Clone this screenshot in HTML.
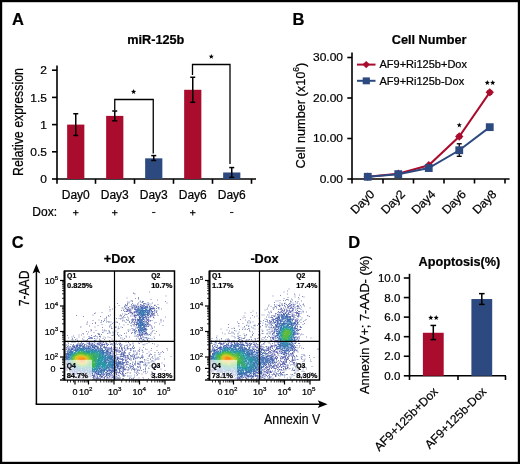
<!DOCTYPE html>
<html><head><meta charset="utf-8"><style>
html,body{margin:0;padding:0;background:#fff;}
svg{display:block;font-family:'Liberation Sans', sans-serif;filter:blur(0.3px);}
text{stroke:#000;stroke-width:0.22px;}
</style></head><body>
<svg width="520" height="464" viewBox="0 0 520 464">
<rect x="0" y="0" width="520" height="464" fill="#fff"/>
<text x="12.0" y="24.9" font-size="16.5" font-weight="bold" text-anchor="start" >A</text>
<text x="155.8" y="43.8" font-size="12.7" font-weight="bold" text-anchor="middle" >miR-125b</text>
<line x1="57" y1="65.5" x2="57" y2="179.75" stroke="#000" stroke-width="1.6"/>
<line x1="52" y1="70.2" x2="57" y2="70.2" stroke="#000" stroke-width="1.6"/>
<text transform="translate(47,74.30) scale(1,0.92)" font-size="12" text-anchor="end">2</text>
<line x1="52" y1="97.4" x2="57" y2="97.4" stroke="#000" stroke-width="1.6"/>
<text transform="translate(47,101.50) scale(1,0.92)" font-size="12" text-anchor="end">1.5</text>
<line x1="52" y1="124.6" x2="57" y2="124.6" stroke="#000" stroke-width="1.6"/>
<text transform="translate(47,128.70) scale(1,0.92)" font-size="12" text-anchor="end">1</text>
<line x1="52" y1="151.8" x2="57" y2="151.8" stroke="#000" stroke-width="1.6"/>
<text transform="translate(47,155.90) scale(1,0.92)" font-size="12" text-anchor="end">0.5</text>
<line x1="52" y1="179.0" x2="57" y2="179.0" stroke="#000" stroke-width="1.6"/>
<text transform="translate(47,183.10) scale(1,0.92)" font-size="12" text-anchor="end">0</text>
<line x1="56.25" y1="179.0" x2="256" y2="179.0" stroke="#000" stroke-width="1.6"/>
<line x1="57" y1="179.0" x2="57" y2="183.8" stroke="#000" stroke-width="1.6"/>
<line x1="95.5" y1="179.0" x2="95.5" y2="183.8" stroke="#000" stroke-width="1.6"/>
<line x1="134.5" y1="179.0" x2="134.5" y2="183.8" stroke="#000" stroke-width="1.6"/>
<line x1="173.5" y1="179.0" x2="173.5" y2="183.8" stroke="#000" stroke-width="1.6"/>
<line x1="212.5" y1="179.0" x2="212.5" y2="183.8" stroke="#000" stroke-width="1.6"/>
<line x1="251.5" y1="179.0" x2="251.5" y2="183.8" stroke="#000" stroke-width="1.6"/>
<rect x="67.15" y="124.6" width="17.2" height="54.400000000000006" fill="#AA0C2D"/>
<line x1="75.75" y1="113.72" x2="75.75" y2="135.48" stroke="#000" stroke-width="1.5"/>
<line x1="73.25" y1="113.72" x2="78.25" y2="113.72" stroke="#000" stroke-width="1.5"/>
<line x1="73.25" y1="135.48" x2="78.25" y2="135.48" stroke="#000" stroke-width="1.5"/>
<rect x="106.15" y="115.89600000000002" width="17.2" height="63.103999999999985" fill="#AA0C2D"/>
<line x1="114.75" y1="111.0" x2="114.75" y2="120.792" stroke="#000" stroke-width="1.5"/>
<line x1="112.25" y1="111.0" x2="117.25" y2="111.0" stroke="#000" stroke-width="1.5"/>
<line x1="112.25" y1="120.792" x2="117.25" y2="120.792" stroke="#000" stroke-width="1.5"/>
<rect x="145.15" y="158.328" width="17.2" height="20.671999999999997" fill="#2D4A80"/>
<line x1="153.75" y1="155.608" x2="153.75" y2="160.504" stroke="#000" stroke-width="1.5"/>
<line x1="151.25" y1="155.608" x2="156.25" y2="155.608" stroke="#000" stroke-width="1.5"/>
<line x1="151.25" y1="160.504" x2="156.25" y2="160.504" stroke="#000" stroke-width="1.5"/>
<rect x="184.15" y="89.784" width="17.2" height="89.216" fill="#AA0C2D"/>
<line x1="192.75" y1="77.27199999999999" x2="192.75" y2="102.296" stroke="#000" stroke-width="1.5"/>
<line x1="190.25" y1="77.27199999999999" x2="195.25" y2="77.27199999999999" stroke="#000" stroke-width="1.5"/>
<line x1="190.25" y1="102.296" x2="195.25" y2="102.296" stroke="#000" stroke-width="1.5"/>
<rect x="223.15" y="172.472" width="17.2" height="6.527999999999992" fill="#2D4A80"/>
<line x1="231.75" y1="167.576" x2="231.75" y2="177.368" stroke="#000" stroke-width="1.5"/>
<line x1="229.25" y1="167.576" x2="234.25" y2="167.576" stroke="#000" stroke-width="1.5"/>
<line x1="229.25" y1="177.368" x2="234.25" y2="177.368" stroke="#000" stroke-width="1.5"/>
<path d="M114.75 110.5 V99.5 H153.25 V153.5" fill="none" stroke="#000" stroke-width="1.3"/>
<path d="M192.5 75 V64.5 H230 V164" fill="none" stroke="#000" stroke-width="1.3"/>
<polygon points="133.60,89.10 134.28,90.87 136.17,90.97 134.69,92.16 135.19,93.98 133.60,92.95 132.01,93.98 132.51,92.16 131.03,90.97 132.92,90.87" fill="#000"/>
<polygon points="211.30,53.90 211.98,55.67 213.87,55.77 212.39,56.96 212.89,58.78 211.30,57.75 209.71,58.78 210.21,56.96 208.73,55.77 210.62,55.67" fill="#000"/>
<text x="75.75" y="199.3" font-size="12" font-weight="normal" text-anchor="middle" >Day0</text>
<text x="114.75" y="199.3" font-size="12" font-weight="normal" text-anchor="middle" >Day3</text>
<text x="153.75" y="199.3" font-size="12" font-weight="normal" text-anchor="middle" >Day3</text>
<text x="192.75" y="199.3" font-size="12" font-weight="normal" text-anchor="middle" >Day6</text>
<text x="231.75" y="199.3" font-size="12" font-weight="normal" text-anchor="middle" >Day6</text>
<text x="32.3" y="216.3" font-size="12" font-weight="normal" text-anchor="start" >Dox:</text>
<line x1="72.95" y1="212.7" x2="78.55" y2="212.7" stroke="#000" stroke-width="1.05"/>
<line x1="75.75" y1="209.9" x2="75.75" y2="215.5" stroke="#000" stroke-width="1.05"/>
<line x1="111.95" y1="212.7" x2="117.55" y2="212.7" stroke="#000" stroke-width="1.05"/>
<line x1="114.75" y1="209.9" x2="114.75" y2="215.5" stroke="#000" stroke-width="1.05"/>
<line x1="152.05" y1="212.5" x2="155.45" y2="212.5" stroke="#222" stroke-width="1.1"/>
<line x1="189.95" y1="212.7" x2="195.55" y2="212.7" stroke="#000" stroke-width="1.05"/>
<line x1="192.75" y1="209.9" x2="192.75" y2="215.5" stroke="#000" stroke-width="1.05"/>
<line x1="230.05" y1="212.5" x2="233.45" y2="212.5" stroke="#222" stroke-width="1.1"/>
<text transform="translate(22.8,122) rotate(-90) scale(0.884,1)" font-size="14" text-anchor="middle">Relative expression</text>
<text x="292.6" y="24.9" font-size="16.5" font-weight="bold" text-anchor="start" >B</text>
<text x="429.2" y="43.8" font-size="12.7" font-weight="bold" text-anchor="middle" >Cell Number</text>
<line x1="352" y1="52.5" x2="352" y2="179.75" stroke="#000" stroke-width="1.6"/>
<line x1="347.3" y1="179.0" x2="352" y2="179.0" stroke="#000" stroke-width="1.6"/>
<text transform="translate(343,182.70) scale(1,0.86)" font-size="12" text-anchor="end">0.00</text>
<line x1="347.3" y1="138.5" x2="352" y2="138.5" stroke="#000" stroke-width="1.6"/>
<text transform="translate(343,142.20) scale(1,0.86)" font-size="12" text-anchor="end">10.00</text>
<line x1="347.3" y1="98.0" x2="352" y2="98.0" stroke="#000" stroke-width="1.6"/>
<text transform="translate(343,101.70) scale(1,0.86)" font-size="12" text-anchor="end">20.00</text>
<line x1="347.3" y1="57.5" x2="352" y2="57.5" stroke="#000" stroke-width="1.6"/>
<text transform="translate(343,61.20) scale(1,0.86)" font-size="12" text-anchor="end">30.00</text>
<line x1="351.25" y1="179.0" x2="509.6" y2="179.0" stroke="#000" stroke-width="1.6"/>
<line x1="352" y1="179.0" x2="352" y2="183.5" stroke="#000" stroke-width="1.6"/>
<line x1="383.0" y1="179.0" x2="383.0" y2="183.5" stroke="#000" stroke-width="1.6"/>
<line x1="413.5" y1="179.0" x2="413.5" y2="183.5" stroke="#000" stroke-width="1.6"/>
<line x1="444.0" y1="179.0" x2="444.0" y2="183.5" stroke="#000" stroke-width="1.6"/>
<line x1="474.5" y1="179.0" x2="474.5" y2="183.5" stroke="#000" stroke-width="1.6"/>
<line x1="505.0" y1="179.0" x2="505.0" y2="183.5" stroke="#000" stroke-width="1.6"/>
<polyline points="367.75,176.77 398.25,173.74 428.75,165.23 459.25,136.47 489.75,92.33" fill="none" stroke="#AA0C2D" stroke-width="2"/>
<path d="M367.75 172.57250000000002 L371.95 176.7725 L367.75 180.9725 L363.55 176.7725 Z" fill="#AA0C2D"/>
<path d="M398.25 169.53500000000003 L402.45 173.735 L398.25 177.935 L394.05 173.735 Z" fill="#AA0C2D"/>
<path d="M428.75 161.03 L432.95 165.23 L428.75 169.42999999999998 L424.55 165.23 Z" fill="#AA0C2D"/>
<line x1="459.25" y1="134.85500000000002" x2="459.25" y2="138.095" stroke="#000" stroke-width="1.3"/>
<line x1="456.75" y1="134.85500000000002" x2="461.75" y2="134.85500000000002" stroke="#AA0C2D" stroke-width="1.3"/>
<line x1="456.75" y1="138.095" x2="461.75" y2="138.095" stroke="#AA0C2D" stroke-width="1.3"/>
<path d="M459.25 132.275 L463.45 136.475 L459.25 140.67499999999998 L455.05 136.475 Z" fill="#AA0C2D"/>
<line x1="489.75" y1="90.71000000000001" x2="489.75" y2="94.355" stroke="#000" stroke-width="1.3"/>
<line x1="487.25" y1="90.71000000000001" x2="492.25" y2="90.71000000000001" stroke="#AA0C2D" stroke-width="1.3"/>
<line x1="487.25" y1="94.355" x2="492.25" y2="94.355" stroke="#AA0C2D" stroke-width="1.3"/>
<path d="M489.75 88.13000000000001 L493.95 92.33000000000001 L489.75 96.53000000000002 L485.55 92.33000000000001 Z" fill="#AA0C2D"/>
<polyline points="367.75,176.77 398.25,174.14 428.75,168.06 459.25,150.25 489.75,127.16" fill="none" stroke="#2D4A80" stroke-width="2"/>
<rect x="363.85" y="172.8725" width="7.8" height="7.8" fill="#2D4A80"/>
<rect x="394.35" y="170.23999999999998" width="7.8" height="7.8" fill="#2D4A80"/>
<rect x="424.85" y="164.165" width="7.8" height="7.8" fill="#2D4A80"/>
<line x1="459.25" y1="143.76500000000001" x2="459.25" y2="156.32" stroke="#000" stroke-width="1.3"/>
<line x1="456.75" y1="143.76500000000001" x2="461.75" y2="143.76500000000001" stroke="#000" stroke-width="1.3"/>
<line x1="456.75" y1="156.32" x2="461.75" y2="156.32" stroke="#000" stroke-width="1.3"/>
<rect x="455.35" y="146.345" width="7.8" height="7.8" fill="#2D4A80"/>
<line x1="489.75" y1="125.13499999999999" x2="489.75" y2="129.185" stroke="#000" stroke-width="1.3"/>
<line x1="487.25" y1="125.13499999999999" x2="492.25" y2="125.13499999999999" stroke="#000" stroke-width="1.3"/>
<line x1="487.25" y1="129.185" x2="492.25" y2="129.185" stroke="#000" stroke-width="1.3"/>
<rect x="485.85" y="123.25999999999999" width="7.8" height="7.8" fill="#2D4A80"/>
<polygon points="459.30,122.50 459.98,124.27 461.87,124.37 460.39,125.56 460.89,127.38 459.30,126.35 457.71,127.38 458.21,125.56 456.73,124.37 458.62,124.27" fill="#000"/>
<polygon points="487.30,80.10 487.98,81.87 489.87,81.97 488.39,83.16 488.89,84.98 487.30,83.95 485.71,84.98 486.21,83.16 484.73,81.97 486.62,81.87" fill="#000"/>
<polygon points="492.70,80.10 493.38,81.87 495.27,81.97 493.79,83.16 494.29,84.98 492.70,83.95 491.11,84.98 491.61,83.16 490.13,81.97 492.02,81.87" fill="#000"/>
<line x1="357" y1="64.6" x2="375.5" y2="64.6" stroke="#AA0C2D" stroke-width="2"/>
<path d="M366.2 60.9 L369.9 64.6 L366.2 68.3 L362.5 64.6 Z" fill="#AA0C2D"/>
<text x="379.5" y="68.3" font-size="11" font-weight="normal" text-anchor="start" >AF9+Ri125b+Dox</text>
<line x1="357" y1="80.8" x2="375.5" y2="80.8" stroke="#2D4A80" stroke-width="2"/>
<rect x="362.7" y="77.4" width="7.2" height="6.9" fill="#2D4A80"/>
<text x="379.5" y="84.5" font-size="11" font-weight="normal" text-anchor="start" >AF9+Ri125b-Dox</text>
<text transform="translate(304.7,115.6) rotate(-90) scale(0.943,1)" font-size="13.5" text-anchor="middle">Cell number (x10<tspan dy="-5.5" font-size="9">6</tspan><tspan dy="5.5">)</tspan></text>
<text transform="translate(375.35,194.9) rotate(-45)" font-size="12.1" text-anchor="end">Day0</text>
<text transform="translate(405.85,194.9) rotate(-45)" font-size="12.1" text-anchor="end">Day2</text>
<text transform="translate(436.35,194.9) rotate(-45)" font-size="12.1" text-anchor="end">Day4</text>
<text transform="translate(466.85,194.9) rotate(-45)" font-size="12.1" text-anchor="end">Day6</text>
<text transform="translate(497.35,194.9) rotate(-45)" font-size="12.1" text-anchor="end">Day8</text>
<text x="348.2" y="248.4" font-size="16.5" font-weight="bold" text-anchor="start" >D</text>
<text x="459.4" y="266.3" font-size="12.7" font-weight="bold" text-anchor="middle" >Apoptosis(%)</text>
<line x1="409.5" y1="273.8" x2="409.5" y2="376.55" stroke="#000" stroke-width="1.6"/>
<line x1="403.8" y1="375.8" x2="409.5" y2="375.8" stroke="#000" stroke-width="1.6"/>
<text x="400.3" y="380.0" font-size="11.5" font-weight="normal" text-anchor="end" >0.0</text>
<line x1="403.8" y1="356.24" x2="409.5" y2="356.24" stroke="#000" stroke-width="1.6"/>
<text x="400.3" y="360.44" font-size="11.5" font-weight="normal" text-anchor="end" >2.0</text>
<line x1="403.8" y1="336.68" x2="409.5" y2="336.68" stroke="#000" stroke-width="1.6"/>
<text x="400.3" y="340.88" font-size="11.5" font-weight="normal" text-anchor="end" >4.0</text>
<line x1="403.8" y1="317.12" x2="409.5" y2="317.12" stroke="#000" stroke-width="1.6"/>
<text x="400.3" y="321.32" font-size="11.5" font-weight="normal" text-anchor="end" >6.0</text>
<line x1="403.8" y1="297.56" x2="409.5" y2="297.56" stroke="#000" stroke-width="1.6"/>
<text x="400.3" y="301.76" font-size="11.5" font-weight="normal" text-anchor="end" >8.0</text>
<line x1="403.8" y1="278.0" x2="409.5" y2="278.0" stroke="#000" stroke-width="1.6"/>
<text x="400.3" y="282.2" font-size="11.5" font-weight="normal" text-anchor="end" >10.0</text>
<line x1="408.75" y1="375.8" x2="506" y2="375.8" stroke="#000" stroke-width="1.6"/>
<line x1="409.5" y1="375.8" x2="409.5" y2="380" stroke="#000" stroke-width="1.6"/>
<line x1="458" y1="375.8" x2="458" y2="380" stroke="#000" stroke-width="1.6"/>
<line x1="505.5" y1="375.8" x2="505.5" y2="380" stroke="#000" stroke-width="1.6"/>
<rect x="422.90000000000003" y="332.76800000000003" width="20.8" height="43.03199999999998" fill="#AA0C2D"/>
<line x1="433.3" y1="325.433" x2="433.3" y2="339.61400000000003" stroke="#000" stroke-width="1.5"/>
<line x1="430.5" y1="325.433" x2="436.1" y2="325.433" stroke="#000" stroke-width="1.5"/>
<line x1="430.5" y1="339.61400000000003" x2="436.1" y2="339.61400000000003" stroke="#000" stroke-width="1.5"/>
<rect x="471.40000000000003" y="299.02700000000004" width="20.8" height="76.77299999999997" fill="#2D4A80"/>
<line x1="481.8" y1="293.648" x2="481.8" y2="304.406" stroke="#000" stroke-width="1.5"/>
<line x1="479.0" y1="293.648" x2="484.6" y2="293.648" stroke="#000" stroke-width="1.5"/>
<line x1="479.0" y1="304.406" x2="484.6" y2="304.406" stroke="#000" stroke-width="1.5"/>
<polygon points="430.80,315.10 431.48,316.87 433.37,316.97 431.89,318.16 432.39,319.98 430.80,318.95 429.21,319.98 429.71,318.16 428.23,316.97 430.12,316.87" fill="#000"/>
<polygon points="436.20,315.10 436.88,316.87 438.77,316.97 437.29,318.16 437.79,319.98 436.20,318.95 434.61,319.98 435.11,318.16 433.63,316.97 435.52,316.87" fill="#000"/>
<text transform="translate(368.6,324.8) rotate(-90) scale(0.955,1)" font-size="13.4" text-anchor="middle">Annexin V+; 7-AAD- (%)</text>
<text transform="translate(438.6,392.3) rotate(-45)" font-size="12" text-anchor="end">AF9+125b+Dox</text>
<text transform="translate(487.1,392.3) rotate(-45)" font-size="12" text-anchor="end">AF9+125b-Dox</text>
<text x="11.8" y="248.4" font-size="16.5" font-weight="bold" text-anchor="start" >C</text>
<defs><filter id="bl1" x="-5%" y="-5%" width="110%" height="110%"><feGaussianBlur stdDeviation="0.45"/></filter><filter id="bl2" x="-5%" y="-5%" width="110%" height="110%"><feGaussianBlur stdDeviation="0.45"/></filter></defs>
<g filter="url(#bl1)">
<path d="M140 336h1v1h-1zM137 319.5h1v1h-1zM81.5 374h1v1h-1zM108 347.5h1v1h-1zM136.5 319.5h1v1h-1zM147.5 319h1v1h-1zM116.5 350h1v1h-1zM111 373h1v1h-1zM98.5 344h1v1h-1zM133.5 311.5h1v1h-1zM103 344h1v1h-1zM80 376.5h1v1h-1zM94 375h1v1h-1zM111.5 372h1v1h-1zM123 356.5h1v1h-1zM144.5 320.5h1v1h-1zM116 372.5h1v1h-1zM116 372h1v1h-1zM144 333.5h1v1h-1zM73 346.5h1v1h-1zM94.5 374.5h1v1h-1zM122.5 356h1v1h-1zM146.5 317h1v1h-1zM135 315h1v1h-1zM86.5 345.5h1v1h-1zM97.5 345.5h1v1h-1zM100.5 344.5h1v1h-1zM120 351h1v1h-1zM109.5 374.5h1v1h-1zM102 345h1v1h-1zM132.5 312.5h1v1h-1zM113.5 372.5h1v1h-1zM73 373.5h1v1h-1zM110.5 348h1v1h-1zM119 370h1v1h-1zM110.5 348.5h1v1h-1zM72.5 373h1v1h-1zM76 344.5h1v1h-1zM150 315h1v1h-1zM152.5 308h1v1h-1zM97 376h1v1h-1zM117.5 372h1v1h-1zM146 333.5h1v1h-1zM145.5 333h1v1h-1zM69 369h1v1h-1zM69 369.5h1v1h-1zM121 352.5h1v1h-1zM118.5 358h1v1h-1zM135 314.5h1v1h-1zM104 345.5h1v1h-1zM139.5 335h1v1h-1zM83.5 376.5h1v1h-1zM148 317h1v1h-1zM148 317.5h1v1h-1zM88 376h1v1h-1zM147 306h1v1h-1zM123.5 366h1v1h-1zM136 306h1v1h-1zM93 344.5h1v1h-1zM114.5 372h1v1h-1zM83 343h1v1h-1zM128.5 310.5h1v1h-1zM152 314h1v1h-1zM147.5 323h1v1h-1zM124 362h1v1h-1zM153 313.5h1v1h-1zM147.5 323.5h1v1h-1zM138 306h1v1h-1zM149 306h1v1h-1zM121 354h1v1h-1zM100.5 376.5h1v1h-1zM122.5 360h1v1h-1zM85.5 375.5h1v1h-1zM117 350.5h1v1h-1zM135.5 324h1v1h-1zM148 319.5h1v1h-1zM115.5 355.5h1v1h-1zM79 375h1v1h-1zM100 343h1v1h-1zM99.5 377.5h1v1h-1zM124 355h1v1h-1zM67 367.5h1v1h-1zM147.5 325.5h1v1h-1zM145.5 328.5h1v1h-1zM78 376h1v1h-1zM134 311.5h1v1h-1zM118 357.5h1v1h-1zM121 356h1v1h-1zM99 344.5h1v1h-1zM102.5 375h1v1h-1zM91.5 375h1v1h-1zM149.5 307h1v1h-1zM121.5 355.5h1v1h-1zM93 376.5h1v1h-1zM83 375h1v1h-1zM123.5 352.5h1v1h-1zM148 321h1v1h-1zM151.5 313.5h1v1h-1zM100 345h1v1h-1zM119 358.5h1v1h-1zM146 321.5h1v1h-1zM137 318.5h1v1h-1zM101.5 376h1v1h-1zM79.5 376h1v1h-1zM139.5 305.5h1v1h-1zM116.5 349h1v1h-1zM84.5 344h1v1h-1zM116.5 349.5h1v1h-1zM153 308h1v1h-1zM145.5 330.5h1v1h-1zM147 322.5h1v1h-1zM147 322h1v1h-1zM80 375h1v1h-1zM136.5 315h1v1h-1zM120 358.5h1v1h-1zM112.5 354h1v1h-1zM122 359h1v1h-1zM74 374h1v1h-1zM112.5 354.5h1v1h-1zM72.5 345.5h1v1h-1zM97.5 344h1v1h-1zM123.5 354.5h1v1h-1zM114 355h1v1h-1zM129 310h1v1h-1zM123.5 354h1v1h-1zM102 344h1v1h-1zM89 344h1v1h-1zM92 343h1v1h-1zM115 372.5h1v1h-1zM120.5 358h1v1h-1zM86 375.5h1v1h-1zM116.5 351h1v1h-1zM136 324h1v1h-1zM146.5 322h1v1h-1zM145.5 332h1v1h-1zM134 306.5h1v1h-1zM124 368.5h1v1h-1zM139.5 334.5h1v1h-1zM139.5 334h1v1h-1zM109.5 348h1v1h-1zM109.5 348.5h1v1h-1zM116 373.5h1v1h-1zM103.5 344h1v1h-1zM121.5 359h1v1h-1zM84 344.5h1v1h-1zM84 344h1v1h-1zM66.5 368h1v1h-1zM117 356.5h1v1h-1zM123.5 365h1v1h-1zM144.5 333h1v1h-1zM123 369.5h1v1h-1zM111 349.5h1v1h-1zM109.5 375.5h1v1h-1zM148.5 324h1v1h-1zM80 343.5h1v1h-1zM113.5 373h1v1h-1zM103 375h1v1h-1zM148.5 324.5h1v1h-1zM124 352.5h1v1h-1zM92.5 344.5h1v1h-1zM135 306.5h1v1h-1zM134 308.5h1v1h-1zM102 376h1v1h-1zM109.5 350h1v1h-1zM121.5 352h1v1h-1zM81.5 343.5h1v1h-1zM66 365.5h1v1h-1zM141 334h1v1h-1zM106 346.5h1v1h-1zM99.5 376h1v1h-1zM136.5 306h1v1h-1zM101 377h1v1h-1zM81 374h1v1h-1zM104 376.5h1v1h-1zM120.5 353.5h1v1h-1zM110.5 351.5h1v1h-1zM147 319.5h1v1h-1zM142 305h1v1h-1zM116 350h1v1h-1zM107 347.5h1v1h-1zM138.5 334h1v1h-1zM145.5 318.5h1v1h-1zM99 343.5h1v1h-1zM145.5 327.5h1v1h-1zM70 371h1v1h-1zM70 371.5h1v1h-1zM152.5 314h1v1h-1zM93 375.5h1v1h-1zM122 356h1v1h-1zM66 367.5h1v1h-1zM72 346.5h1v1h-1zM109 347.5h1v1h-1zM93.5 374.5h1v1h-1zM123 364.5h1v1h-1zM65.5 367.5h1v1h-1zM120 356h1v1h-1zM110 348.5h1v1h-1zM119.5 356.5h1v1h-1zM84 375h1v1h-1zM106 375h1v1h-1zM124 356.5h1v1h-1zM146.5 319h1v1h-1zM125 355.5h1v1h-1zM152.5 307.5h1v1h-1zM143.5 304.5h1v1h-1zM134 312.5h1v1h-1zM146 332h1v1h-1zM134 312h1v1h-1zM111 374.5h1v1h-1zM107.5 348.5h1v1h-1zM107.5 348h1v1h-1zM139 335h1v1h-1zM88.5 344h1v1h-1zM89.5 376h1v1h-1zM68 348.5h1v1h-1zM71 347.5h1v1h-1zM92.5 375h1v1h-1zM104 344h1v1h-1zM122 358h1v1h-1zM148 322.5h1v1h-1zM77 344.5h1v1h-1zM89 343h1v1h-1zM122.5 366.5h1v1h-1zM71.5 373h1v1h-1zM73 374.5h1v1h-1zM140.5 335h1v1h-1zM119 371.5h1v1h-1zM119 371h1v1h-1zM120 370.5h1v1h-1zM101 344.5h1v1h-1zM101 344h1v1h-1zM118.5 350h1v1h-1zM109.5 347.5h1v1h-1zM69 370h1v1h-1zM136.5 331.5h1v1h-1zM101.5 343h1v1h-1zM79.5 343h1v1h-1zM90.5 343.5h1v1h-1zM90.5 343h1v1h-1zM104 346h1v1h-1zM104 346.5h1v1h-1zM85 375h1v1h-1zM75 374h1v1h-1zM122 360h1v1h-1zM73.5 345h1v1h-1zM73.5 345.5h1v1h-1zM115 355h1v1h-1zM123 368h1v1h-1zM118 372.5h1v1h-1zM134.5 322h1v1h-1zM123.5 367h1v1h-1zM111 351h1v1h-1zM120.5 359h1v1h-1zM105 347h1v1h-1zM105 347.5h1v1h-1zM94 344h1v1h-1zM146 318h1v1h-1zM146.5 323h1v1h-1zM136 325h1v1h-1zM150.5 314.5h1v1h-1zM152.5 311h1v1h-1zM77 376.5h1v1h-1zM121.5 351.5h1v1h-1zM101.5 345.5h1v1h-1zM121 355.5h1v1h-1zM134.5 315h1v1h-1zM148.5 307.5h1v1h-1zM122.5 352.5h1v1h-1zM96 374.5h1v1h-1zM85.5 376.5h1v1h-1zM117.5 356.5h1v1h-1zM79 376h1v1h-1zM90 376h1v1h-1zM101 376h1v1h-1zM145 321.5h1v1h-1zM80.5 343.5h1v1h-1zM146 320.5h1v1h-1zM116 349.5h1v1h-1zM150.5 307.5h1v1h-1zM146 329.5h1v1h-1zM152.5 313h1v1h-1zM87.5 376h1v1h-1zM135.5 306.5h1v1h-1zM135.5 315h1v1h-1zM82.5 343h1v1h-1zM66 366.5h1v1h-1zM106 347h1v1h-1zM142 334h1v1h-1zM140.5 305.5h1v1h-1zM65.5 366.5h1v1h-1zM65.5 366h1v1h-1zM108 375h1v1h-1zM122.5 363h1v1h-1zM123.5 353h1v1h-1zM123.5 362.5h1v1h-1zM122.5 363.5h1v1h-1zM120.5 354h1v1h-1zM146.5 318.5h1v1h-1zM67.5 348h1v1h-1zM147 320h1v1h-1zM117 371.5h1v1h-1z" fill="#283898" opacity="0.7"/>
<path d="M145 332.5h1v1h-1zM86 374.5h1v1h-1zM97 374.5h1v1h-1zM86 374h1v1h-1zM89.5 375.5h1v1h-1zM70.5 371.5h1v1h-1zM79 344.5h1v1h-1zM118 360h1v1h-1zM118 360.5h1v1h-1zM118.5 365.5h1v1h-1zM139.5 333.5h1v1h-1zM139.5 333h1v1h-1zM88 374h1v1h-1zM121.5 367h1v1h-1zM146 306.5h1v1h-1zM146 306h1v1h-1zM92 344.5h1v1h-1zM152 312h1v1h-1zM100 375h1v1h-1zM66.5 351h1v1h-1zM122 362.5h1v1h-1zM122.5 367.5h1v1h-1zM117 357.5h1v1h-1zM117 357h1v1h-1zM147 315h1v1h-1zM147 315.5h1v1h-1zM137 314h1v1h-1zM80 344.5h1v1h-1zM115.5 371.5h1v1h-1zM70.5 348.5h1v1h-1zM136.5 314.5h1v1h-1zM145.5 326h1v1h-1zM144 319.5h1v1h-1zM104 347.5h1v1h-1zM104 347h1v1h-1zM82 344h1v1h-1zM143.5 319h1v1h-1zM121.5 353.5h1v1h-1zM115 356.5h1v1h-1zM65.5 363h1v1h-1zM121.5 353h1v1h-1zM151.5 311h1v1h-1zM122 364h1v1h-1zM101 375.5h1v1h-1zM138.5 332.5h1v1h-1zM94 345h1v1h-1zM84 374h1v1h-1zM106 374h1v1h-1zM106 374.5h1v1h-1zM117.5 367.5h1v1h-1zM134.5 307.5h1v1h-1zM118 366h1v1h-1zM141.5 333h1v1h-1zM95.5 345.5h1v1h-1zM121.5 364.5h1v1h-1zM114 371.5h1v1h-1zM67 351.5h1v1h-1zM71.5 372.5h1v1h-1zM119.5 366.5h1v1h-1zM144 305.5h1v1h-1zM120.5 365.5h1v1h-1zM136 322h1v1h-1zM136 322.5h1v1h-1zM136.5 327.5h1v1h-1zM119.5 366h1v1h-1zM143.5 305.5h1v1h-1zM143.5 305h1v1h-1zM68 349.5h1v1h-1zM71 348.5h1v1h-1zM103 346.5h1v1h-1zM121.5 366h1v1h-1zM122 368.5h1v1h-1zM123 367h1v1h-1zM77 345h1v1h-1zM109.5 373.5h1v1h-1zM91 344.5h1v1h-1zM113.5 371h1v1h-1zM67.5 349.5h1v1h-1zM100.5 346h1v1h-1zM120 368h1v1h-1zM82.5 374.5h1v1h-1zM145.5 323.5h1v1h-1zM152 311.5h1v1h-1zM152 311h1v1h-1zM87 374.5h1v1h-1zM147 324h1v1h-1zM134.5 311.5h1v1h-1zM134.5 311h1v1h-1zM66 363.5h1v1h-1zM66 363h1v1h-1zM122 361.5h1v1h-1zM118.5 369h1v1h-1zM138 315h1v1h-1zM97.5 346.5h1v1h-1zM87.5 345h1v1h-1zM146 316.5h1v1h-1zM120 361h1v1h-1zM145.5 316.5h1v1h-1zM103.5 374h1v1h-1zM96 345.5h1v1h-1zM108.5 349h1v1h-1zM70 369h1v1h-1zM144.5 317.5h1v1h-1zM123 353.5h1v1h-1zM121.5 361.5h1v1h-1zM121.5 361h1v1h-1zM123 362.5h1v1h-1zM123 362h1v1h-1zM89.5 344h1v1h-1zM89.5 344.5h1v1h-1zM122.5 362.5h1v1h-1zM147.5 315.5h1v1h-1zM117.5 366.5h1v1h-1zM89 375.5h1v1h-1zM110 373.5h1v1h-1zM135.5 307.5h1v1h-1zM83 374h1v1h-1zM123 355.5h1v1h-1zM121.5 363.5h1v1h-1zM143 333.5h1v1h-1zM121 367h1v1h-1zM105.5 348h1v1h-1zM90.5 375h1v1h-1zM117.5 359.5h1v1h-1zM90.5 375.5h1v1h-1zM110.5 353h1v1h-1zM110.5 353.5h1v1h-1zM152 308h1v1h-1zM117.5 368h1v1h-1zM152 308.5h1v1h-1zM119 369h1v1h-1zM116.5 369.5h1v1h-1zM142.5 333.5h1v1h-1zM108.5 374h1v1h-1zM99 375.5h1v1h-1zM69.5 348.5h1v1h-1zM120.5 366.5h1v1h-1zM76 345h1v1h-1zM66 353.5h1v1h-1zM66 353h1v1h-1zM148 315h1v1h-1zM103 347h1v1h-1zM65.5 353h1v1h-1zM148.5 314h1v1h-1zM145.5 306.5h1v1h-1zM79 374.5h1v1h-1zM136 307h1v1h-1zM91.5 344.5h1v1h-1zM78.5 344h1v1h-1zM91.5 344h1v1h-1zM120.5 368.5h1v1h-1zM120.5 368h1v1h-1zM75.5 345h1v1h-1zM91 375.5h1v1h-1zM78 375h1v1h-1zM92 374.5h1v1h-1zM66 364h1v1h-1zM91.5 374h1v1h-1zM95 345h1v1h-1zM151 313h1v1h-1zM151 313.5h1v1h-1zM151.5 312h1v1h-1zM88.5 375.5h1v1h-1zM104.5 374.5h1v1h-1zM120 365.5h1v1h-1zM143 305.5h1v1h-1zM69.5 370h1v1h-1zM134.5 308h1v1h-1zM109.5 351.5h1v1h-1zM134.5 308.5h1v1h-1zM94 373.5h1v1h-1zM140 306h1v1h-1zM123 354.5h1v1h-1zM116 370.5h1v1h-1zM116 370h1v1h-1zM121 366.5h1v1h-1zM122.5 354h1v1h-1zM117.5 358h1v1h-1zM100 346h1v1h-1zM112.5 371h1v1h-1z" fill="#284898" opacity="0.7"/>
<path d="M119 368.5h1v1h-1zM119 368h1v1h-1zM120 367.5h1v1h-1zM95.5 373h1v1h-1zM106.5 373.5h1v1h-1zM141.5 306.5h1v1h-1zM139 316h1v1h-1zM150.5 309.5h1v1h-1zM96.5 347h1v1h-1zM151 308h1v1h-1zM142.5 332.5h1v1h-1zM105 372.5h1v1h-1zM106 349.5h1v1h-1zM108.5 373h1v1h-1zM112.5 355.5h1v1h-1zM105.5 349.5h1v1h-1zM99 374h1v1h-1zM145 316.5h1v1h-1zM77 346h1v1h-1zM91 345h1v1h-1zM98.5 374h1v1h-1zM114.5 370h1v1h-1zM67.5 350.5h1v1h-1zM67.5 350h1v1h-1zM119 361.5h1v1h-1zM145 316h1v1h-1zM139 318.5h1v1h-1zM139 318h1v1h-1zM74 347h1v1h-1zM73.5 372.5h1v1h-1zM145.5 324h1v1h-1zM104 373.5h1v1h-1zM136.5 321.5h1v1h-1zM107.5 349h1v1h-1zM85.5 346.5h1v1h-1zM70 368h1v1h-1zM144 317h1v1h-1zM149 313.5h1v1h-1zM107 371h1v1h-1zM149.5 312h1v1h-1zM149.5 312.5h1v1h-1zM85.5 373h1v1h-1zM72.5 348.5h1v1h-1zM97.5 347h1v1h-1zM117 366.5h1v1h-1zM119 363h1v1h-1zM79.5 372.5h1v1h-1zM120 362.5h1v1h-1zM69.5 349.5h1v1h-1zM120 362h1v1h-1zM150 308h1v1h-1zM106 372h1v1h-1zM109 371.5h1v1h-1zM147.5 314.5h1v1h-1zM137 323h1v1h-1zM137 323.5h1v1h-1zM87.5 373.5h1v1h-1zM136.5 323.5h1v1h-1zM78 374h1v1h-1zM78 374.5h1v1h-1zM92 373h1v1h-1zM65.5 354.5h1v1h-1zM81 345h1v1h-1zM65.5 354h1v1h-1zM91.5 373h1v1h-1zM102.5 373.5h1v1h-1zM107 373h1v1h-1zM121 363.5h1v1h-1zM117 359h1v1h-1zM89.5 345.5h1v1h-1zM101.5 374h1v1h-1zM109 373h1v1h-1zM119.5 364.5h1v1h-1zM109 373.5h1v1h-1zM135 309.5h1v1h-1zM116 369.5h1v1h-1zM116 369h1v1h-1zM80.5 372h1v1h-1zM143.5 321h1v1h-1zM66.5 364h1v1h-1zM138.5 316.5h1v1h-1zM115.5 357h1v1h-1zM112.5 370h1v1h-1zM138 329h1v1h-1zM138 329.5h1v1h-1zM115 370.5h1v1h-1zM86 373.5h1v1h-1zM94.5 346.5h1v1h-1zM94.5 346h1v1h-1zM116.5 358.5h1v1h-1zM98 347.5h1v1h-1zM88 346h1v1h-1zM111.5 371.5h1v1h-1zM134.5 309h1v1h-1zM139.5 332h1v1h-1zM139 317.5h1v1h-1zM83.5 373h1v1h-1zM140.5 306.5h1v1h-1zM151 310.5h1v1h-1zM145 306h1v1h-1zM144.5 331h1v1h-1zM100 347h1v1h-1zM100 347.5h1v1h-1zM72.5 372h1v1h-1zM142.5 306h1v1h-1zM137.5 319.5h1v1h-1zM97.5 374h1v1h-1zM76 346.5h1v1h-1zM79 345h1v1h-1zM90 345.5h1v1h-1zM76 346h1v1h-1zM79 345.5h1v1h-1zM135.5 312h1v1h-1zM147 307.5h1v1h-1zM147 307h1v1h-1zM76 373h1v1h-1zM73.5 346.5h1v1h-1zM92 345.5h1v1h-1zM81 372.5h1v1h-1zM81 372h1v1h-1zM117.5 364.5h1v1h-1zM91.5 345.5h1v1h-1zM67 364h1v1h-1zM145.5 325.5h1v1h-1zM145.5 325h1v1h-1zM145 329h1v1h-1zM78 373.5h1v1h-1zM75.5 346.5h1v1h-1zM77.5 373.5h1v1h-1zM77.5 373h1v1h-1zM68.5 349h1v1h-1zM118.5 362h1v1h-1zM75.5 373h1v1h-1zM107.5 371.5h1v1h-1zM112 371.5h1v1h-1zM113 370.5h1v1h-1zM76.5 374h1v1h-1zM80 345h1v1h-1zM106 373.5h1v1h-1zM141 306.5h1v1h-1zM119.5 363.5h1v1h-1zM92.5 346.5h1v1h-1zM120.5 362.5h1v1h-1zM137.5 314h1v1h-1zM67.5 365.5h1v1h-1zM96.5 346.5h1v1h-1zM96.5 346h1v1h-1zM109.5 352.5h1v1h-1zM70.5 370h1v1h-1zM108 373h1v1h-1zM144.5 328h1v1h-1zM138 319h1v1h-1zM96.5 373h1v1h-1zM107.5 373h1v1h-1zM96.5 373.5h1v1h-1zM98 374h1v1h-1zM115 369h1v1h-1zM115 369.5h1v1h-1zM137.5 307h1v1h-1zM136 312.5h1v1h-1zM83.5 345.5h1v1h-1zM83.5 345h1v1h-1zM107 349.5h1v1h-1zM150.5 310.5h1v1h-1zM74 346h1v1h-1zM74 346.5h1v1h-1zM106.5 374.5h1v1h-1zM106.5 374h1v1h-1zM111.5 370h1v1h-1zM100 374.5h1v1h-1zM100 374h1v1h-1zM139 317h1v1h-1zM149.5 308h1v1h-1zM151 309.5h1v1h-1zM85 373h1v1h-1zM144.5 330h1v1h-1zM72 348h1v1h-1zM145.5 315.5h1v1h-1zM138 330h1v1h-1zM67 352.5h1v1h-1zM86.5 346.5h1v1h-1zM117.5 361.5h1v1h-1zM82.5 373h1v1h-1zM117 365h1v1h-1zM117 365.5h1v1h-1zM119 362h1v1h-1zM147 314h1v1h-1zM146 325.5h1v1h-1zM137 322.5h1v1h-1zM86.5 373.5h1v1h-1zM77 374.5h1v1h-1zM107.5 350.5h1v1h-1zM107.5 350h1v1h-1zM143 319h1v1h-1zM135.5 311h1v1h-1zM66 362.5h1v1h-1zM118.5 368h1v1h-1zM71.5 348.5h1v1h-1zM68.5 367h1v1h-1zM90 374h1v1h-1zM117 358h1v1h-1zM77.5 345h1v1h-1zM110 352h1v1h-1zM100.5 347.5h1v1h-1zM71 370h1v1h-1zM117 367.5h1v1h-1zM93 345.5h1v1h-1zM103.5 373.5h1v1h-1zM120 363.5h1v1h-1zM120 363h1v1h-1zM146.5 314h1v1h-1zM145 328h1v1h-1zM136.5 324h1v1h-1zM66 355.5h1v1h-1zM138 307.5h1v1h-1zM79.5 345h1v1h-1zM118.5 361.5h1v1h-1zM118.5 361h1v1h-1zM118 365.5h1v1h-1zM84 345.5h1v1h-1zM142 332h1v1h-1zM73.5 347.5h1v1h-1zM107 374.5h1v1h-1zM76.5 373h1v1h-1zM146.5 307.5h1v1h-1zM105 349h1v1h-1zM105.5 372h1v1h-1zM105.5 372.5h1v1h-1zM94 346.5h1v1h-1zM110 372h1v1h-1zM111 371h1v1h-1zM110.5 371.5h1v1h-1zM83 373.5h1v1h-1zM118.5 363.5h1v1h-1zM144 322.5h1v1h-1zM95.5 346h1v1h-1zM136 311h1v1h-1zM139 307.5h1v1h-1zM115.5 367.5h1v1h-1z" fill="#284898" opacity="0.8"/>
<path d="M137.5 327h1v1h-1zM137.5 327.5h1v1h-1zM71 349h1v1h-1zM149.5 310.5h1v1h-1zM140.5 307.5h1v1h-1zM140.5 307h1v1h-1zM76 372h1v1h-1zM115.5 360.5h1v1h-1zM117 364h1v1h-1zM67 363.5h1v1h-1zM139.5 317h1v1h-1zM143 318h1v1h-1zM116 365h1v1h-1zM72 349h1v1h-1zM75.5 372.5h1v1h-1zM68.5 366h1v1h-1zM106.5 350h1v1h-1zM92 346h1v1h-1zM95 372h1v1h-1zM107.5 351.5h1v1h-1zM107.5 351h1v1h-1zM144 328.5h1v1h-1zM143.5 328.5h1v1h-1zM77.5 346.5h1v1h-1zM141 307.5h1v1h-1zM108.5 352h1v1h-1zM65.5 356h1v1h-1zM138 320h1v1h-1zM140 317h1v1h-1zM94 347h1v1h-1zM94 347.5h1v1h-1zM137.5 308.5h1v1h-1zM137.5 308h1v1h-1zM107 350.5h1v1h-1zM149.5 309h1v1h-1zM115.5 359.5h1v1h-1zM67 353h1v1h-1zM145.5 314h1v1h-1zM117.5 362h1v1h-1zM111.5 355h1v1h-1zM84.5 346.5h1v1h-1zM108 351.5h1v1h-1zM143.5 316.5h1v1h-1zM112.5 356.5h1v1h-1zM109 352.5h1v1h-1zM145.5 307h1v1h-1zM147.5 313.5h1v1h-1zM110 353h1v1h-1zM110 353.5h1v1h-1zM147.5 313h1v1h-1zM89 373.5h1v1h-1zM74.5 347h1v1h-1zM111 370.5h1v1h-1zM116 366.5h1v1h-1zM118 363h1v1h-1zM118 363.5h1v1h-1zM139 331.5h1v1h-1zM66 356.5h1v1h-1zM138 308.5h1v1h-1zM108.5 370h1v1h-1zM73.5 348.5h1v1h-1zM150 309h1v1h-1zM72 371.5h1v1h-1zM116 359.5h1v1h-1zM82 345.5h1v1h-1zM109.5 370.5h1v1h-1zM71.5 371h1v1h-1zM145 324h1v1h-1zM143 317.5h1v1h-1zM143 317h1v1h-1zM135.5 309h1v1h-1zM148 313h1v1h-1zM113 356.5h1v1h-1zM106 350.5h1v1h-1zM74.5 372.5h1v1h-1zM67.5 351.5h1v1h-1zM94.5 347.5h1v1h-1zM109 370h1v1h-1zM88.5 346.5h1v1h-1zM96 372.5h1v1h-1zM138.5 331h1v1h-1zM138.5 331.5h1v1h-1zM137.5 320h1v1h-1zM137.5 320.5h1v1h-1zM110 370h1v1h-1zM143 321h1v1h-1zM144.5 325.5h1v1h-1zM66.5 363.5h1v1h-1zM114.5 357.5h1v1h-1zM114.5 357h1v1h-1zM136 309.5h1v1h-1zM137 308.5h1v1h-1zM89.5 346h1v1h-1zM93 347h1v1h-1zM81.5 372h1v1h-1zM89.5 373h1v1h-1zM144 331h1v1h-1zM94.5 372.5h1v1h-1zM98 373h1v1h-1zM98 373.5h1v1h-1zM143.5 331.5h1v1h-1zM143.5 331h1v1h-1zM140.5 332.5h1v1h-1z" fill="#2848a8" opacity="0.8"/>
<path d="M136.5 310h1v1h-1zM136.5 310.5h1v1h-1zM139 325.5h1v1h-1zM139 325h1v1h-1zM66 359h1v1h-1zM142 327.5h1v1h-1zM142 327h1v1h-1zM74.5 371.5h1v1h-1zM140.5 316.5h1v1h-1zM141.5 308h1v1h-1zM144.5 313.5h1v1h-1zM143 327h1v1h-1zM143.5 326h1v1h-1zM115.5 362h1v1h-1zM114 367.5h1v1h-1zM114 367h1v1h-1zM84 372h1v1h-1zM84 372.5h1v1h-1zM139.5 310.5h1v1h-1zM139.5 319h1v1h-1zM85.5 348h1v1h-1zM85.5 348.5h1v1h-1zM116.5 363.5h1v1h-1zM142 331.5h1v1h-1zM108.5 368.5h1v1h-1zM108.5 368h1v1h-1zM66.5 362.5h1v1h-1zM68 363h1v1h-1zM105.5 353.5h1v1h-1zM96.5 372.5h1v1h-1zM146 310h1v1h-1zM92 348.5h1v1h-1zM80 346h1v1h-1zM67.5 354.5h1v1h-1zM70.5 350h1v1h-1zM144.5 308h1v1h-1zM111.5 369.5h1v1h-1zM143.5 330.5h1v1h-1zM103 371.5h1v1h-1zM136.5 309h1v1h-1zM136.5 309.5h1v1h-1zM87 372.5h1v1h-1zM142 317.5h1v1h-1zM148.5 310.5h1v1h-1zM66.5 357.5h1v1h-1zM66.5 357h1v1h-1zM74.5 370.5h1v1h-1zM76 371h1v1h-1zM140.5 315h1v1h-1zM111 356h1v1h-1zM143 308h1v1h-1zM110 369.5h1v1h-1zM77.5 371h1v1h-1zM100.5 373.5h1v1h-1zM143.5 325.5h1v1h-1zM104.5 352h1v1h-1zM115.5 361h1v1h-1zM115.5 361.5h1v1h-1zM95 371h1v1h-1zM84 371.5h1v1h-1zM95 371.5h1v1h-1zM139.5 309h1v1h-1zM107 354h1v1h-1zM76 348.5h1v1h-1zM107.5 353h1v1h-1zM68 353h1v1h-1zM66.5 361h1v1h-1zM68 362h1v1h-1zM146 309h1v1h-1zM98 372h1v1h-1zM92 347h1v1h-1zM77.5 348h1v1h-1zM111.5 368h1v1h-1zM111.5 368.5h1v1h-1zM80.5 371h1v1h-1zM138 310.5h1v1h-1zM149 310h1v1h-1zM138 310h1v1h-1zM143.5 329h1v1h-1zM75 370.5h1v1h-1zM95 348.5h1v1h-1zM87 371h1v1h-1zM142 316.5h1v1h-1zM96.5 348.5h1v1h-1zM142.5 315h1v1h-1zM142.5 324h1v1h-1zM142.5 324.5h1v1h-1zM65.5 360h1v1h-1zM65.5 360.5h1v1h-1zM88.5 371.5h1v1h-1zM101 372h1v1h-1zM101 372.5h1v1h-1zM146.5 312h1v1h-1zM146.5 312.5h1v1h-1zM77.5 370h1v1h-1zM69.5 366h1v1h-1zM69.5 366.5h1v1h-1zM143.5 315h1v1h-1zM138 323h1v1h-1zM138 323.5h1v1h-1zM114 365h1v1h-1zM138.5 322h1v1h-1zM138.5 322.5h1v1h-1zM72 368.5h1v1h-1zM106.5 369.5h1v1h-1zM141 315.5h1v1h-1zM107.5 352.5h1v1h-1zM107.5 370h1v1h-1zM68.5 351.5h1v1h-1zM68.5 351h1v1h-1zM107.5 370.5h1v1h-1zM98 371h1v1h-1zM144 329h1v1h-1zM100.5 349.5h1v1h-1zM83 346h1v1h-1zM80.5 370h1v1h-1zM149 309h1v1h-1zM149 309.5h1v1h-1zM84 347h1v1h-1zM83.5 372h1v1h-1zM103.5 350h1v1h-1zM117 362.5h1v1h-1zM78 370.5h1v1h-1zM141 319h1v1h-1zM144 315h1v1h-1zM144 324.5h1v1h-1zM65.5 359.5h1v1h-1zM65.5 359h1v1h-1zM68.5 364.5h1v1h-1zM145 307.5h1v1h-1zM138.5 312h1v1h-1zM87 347.5h1v1h-1zM114.5 363.5h1v1h-1zM114.5 363h1v1h-1zM138.5 330h1v1h-1zM67 356h1v1h-1zM67 356.5h1v1h-1zM101 348h1v1h-1zM141.5 331.5h1v1h-1zM113.5 358.5h1v1h-1zM109.5 369h1v1h-1zM113.5 367.5h1v1h-1zM102 349h1v1h-1zM145.5 310h1v1h-1zM102 349.5h1v1h-1zM71.5 370.5h1v1h-1zM137.5 324h1v1h-1zM83.5 371h1v1h-1zM94.5 371h1v1h-1zM94.5 371.5h1v1h-1zM140 308.5h1v1h-1zM148 312h1v1h-1zM114.5 358.5h1v1h-1zM114.5 358h1v1h-1zM138.5 325.5h1v1h-1zM138.5 325h1v1h-1zM72.5 370.5h1v1h-1zM144 314.5h1v1h-1zM86.5 372.5h1v1h-1zM97.5 372.5h1v1h-1zM141.5 317.5h1v1h-1zM98.5 373.5h1v1h-1zM115 363h1v1h-1zM137 311h1v1h-1zM137 311.5h1v1h-1zM81 370.5h1v1h-1zM137.5 310.5h1v1h-1zM110.5 356.5h1v1h-1zM110.5 356h1v1h-1zM139 320h1v1h-1zM139 320.5h1v1h-1zM116 364.5h1v1h-1zM139 329.5h1v1h-1zM138.5 311.5h1v1h-1zM138.5 311h1v1h-1zM75.5 371h1v1h-1zM138.5 320h1v1h-1zM67.5 363h1v1h-1zM79 347.5h1v1h-1zM90 347h1v1h-1zM89.5 372.5h1v1h-1zM89.5 372h1v1h-1zM79 347h1v1h-1zM141.5 321h1v1h-1zM79.5 346h1v1h-1zM141.5 330h1v1h-1zM115 358.5h1v1h-1zM115 367h1v1h-1zM115 367.5h1v1h-1zM147 310h1v1h-1zM93 348.5h1v1h-1zM75.5 348.5h1v1h-1zM66 358.5h1v1h-1zM66 358h1v1h-1zM74 371.5h1v1h-1zM74 371h1v1h-1zM141 308h1v1h-1zM141.5 307h1v1h-1zM97.5 371.5h1v1h-1zM86.5 371.5h1v1h-1zM97.5 371h1v1h-1zM141.5 316h1v1h-1zM143 326h1v1h-1zM112 357h1v1h-1zM82.5 346h1v1h-1zM98.5 372.5h1v1h-1zM98.5 372h1v1h-1zM115 362.5h1v1h-1zM104 371h1v1h-1zM137.5 309.5h1v1h-1zM83.5 347.5h1v1h-1zM116 363h1v1h-1zM116 363.5h1v1h-1zM140 320h1v1h-1zM105.5 352.5h1v1h-1zM140.5 319h1v1h-1zM67 354h1v1h-1zM97.5 348.5h1v1h-1zM144.5 307h1v1h-1zM143 330.5h1v1h-1zM143 330h1v1h-1zM115 366.5h1v1h-1zM115 366h1v1h-1zM145.5 308.5h1v1h-1zM112.5 369.5h1v1h-1zM73 369h1v1h-1zM73 369.5h1v1h-1zM137.5 313.5h1v1h-1zM137.5 313h1v1h-1zM139 314.5h1v1h-1zM75.5 347h1v1h-1zM108.5 353.5h1v1h-1zM139.5 331h1v1h-1zM139.5 331.5h1v1h-1zM148.5 309.5h1v1h-1zM66.5 356h1v1h-1zM143 307.5h1v1h-1zM77 371.5h1v1h-1zM77 371h1v1h-1zM143 325h1v1h-1zM101.5 349.5h1v1h-1zM112 356h1v1h-1zM104 352.5h1v1h-1zM147 313h1v1h-1zM139 309.5h1v1h-1zM106 370.5h1v1h-1zM147.5 312h1v1h-1zM107 353.5h1v1h-1zM142 320.5h1v1h-1zM142 329.5h1v1h-1zM96 371h1v1h-1zM105.5 351h1v1h-1zM105.5 351.5h1v1h-1zM86.5 347.5h1v1h-1zM146 308.5h1v1h-1zM77 348h1v1h-1zM77 348.5h1v1h-1zM80 371.5h1v1h-1zM111.5 367h1v1h-1zM73 350.5h1v1h-1zM114 360h1v1h-1zM112.5 368h1v1h-1zM139 313.5h1v1h-1zM139 313h1v1h-1zM142 315.5h1v1h-1zM142 315h1v1h-1zM139.5 321h1v1h-1zM139.5 321.5h1v1h-1zM139.5 330.5h1v1h-1zM139.5 330h1v1h-1zM66.5 355h1v1h-1zM68 356.5h1v1h-1zM68 356h1v1h-1zM88 371.5h1v1h-1zM99 371.5h1v1h-1zM146 312h1v1h-1zM89.5 347.5h1v1h-1zM89.5 347h1v1h-1zM78.5 347.5h1v1h-1zM77 370h1v1h-1zM143 315.5h1v1h-1zM91 372h1v1h-1zM91 372.5h1v1h-1zM102 372.5h1v1h-1zM143.5 314.5h1v1h-1zM143.5 314h1v1h-1zM143.5 323.5h1v1h-1zM143.5 323h1v1h-1zM106 351h1v1h-1zM114 364h1v1h-1zM147.5 311.5h1v1h-1zM147.5 311h1v1h-1zM139.5 316.5h1v1h-1zM147 311.5h1v1h-1zM142 319.5h1v1h-1zM99 348.5h1v1h-1zM142 328.5h1v1h-1zM140.5 308h1v1h-1zM77 347.5h1v1h-1zM100 349.5h1v1h-1zM76.5 372.5h1v1h-1zM100 349h1v1h-1zM113 368.5h1v1h-1zM113 368h1v1h-1zM100.5 348h1v1h-1zM111.5 357h1v1h-1zM111.5 357.5h1v1h-1zM143.5 327h1v1h-1zM103 350h1v1h-1zM112.5 358h1v1h-1zM114 359h1v1h-1zM114 359.5h1v1h-1zM138 326h1v1h-1zM138 326.5h1v1h-1zM115.5 363.5h1v1h-1zM114 368.5h1v1h-1zM115.5 363h1v1h-1zM114 368h1v1h-1zM74.5 349h1v1h-1zM74.5 349.5h1v1h-1zM66.5 354.5h1v1h-1zM66.5 354h1v1h-1zM142.5 322h1v1h-1zM68 355h1v1h-1zM68 364.5h1v1h-1zM84.5 371.5h1v1h-1zM84.5 371h1v1h-1zM146.5 310.5h1v1h-1zM146.5 310h1v1h-1zM80.5 346h1v1h-1zM138 312h1v1h-1zM147.5 310.5h1v1h-1zM138.5 329.5h1v1h-1zM103.5 371h1v1h-1zM107 351h1v1h-1zM142 318.5h1v1h-1zM88 347h1v1h-1zM142.5 308.5h1v1h-1zM87.5 372h1v1h-1zM87.5 372.5h1v1h-1zM141 331h1v1h-1zM144 327.5h1v1h-1zM102 348.5h1v1h-1zM91 348.5h1v1h-1zM111.5 356h1v1h-1zM69.5 350h1v1h-1zM143.5 308h1v1h-1zM75 349.5h1v1h-1zM94 371.5h1v1h-1zM114 358.5h1v1h-1zM138 325h1v1h-1zM106 354.5h1v1h-1zM138.5 324h1v1h-1zM106.5 353h1v1h-1zM72 370.5h1v1h-1zM72 370h1v1h-1zM72.5 369h1v1h-1zM86 372h1v1h-1zM68 354h1v1h-1zM142.5 330h1v1h-1zM65.5 357h1v1h-1zM146.5 309.5h1v1h-1zM145 314.5h1v1h-1zM146.5 309h1v1h-1zM137 310h1v1h-1zM94 348h1v1h-1zM110.5 355h1v1h-1zM149 311h1v1h-1zM149 311.5h1v1h-1zM75 371h1v1h-1zM108 368.5h1v1h-1zM138.5 310.5h1v1h-1zM103.5 352.5h1v1h-1zM75.5 370.5h1v1h-1zM103.5 352h1v1h-1zM95.5 348.5h1v1h-1zM138.5 319h1v1h-1zM140 329.5h1v1h-1zM142.5 307h1v1h-1zM142.5 307.5h1v1h-1zM84.5 347.5h1v1h-1zM89 372.5h1v1h-1zM144 308h1v1h-1zM141 321.5h1v1h-1zM141 321h1v1h-1zM141 330.5h1v1h-1zM144 326h1v1h-1zM144 326.5h1v1h-1zM141.5 329h1v1h-1zM76.5 370.5h1v1h-1zM145 309h1v1h-1zM101 373h1v1h-1zM101 373.5h1v1h-1zM90.5 372.5h1v1h-1zM90.5 372h1v1h-1zM75 348h1v1h-1zM148 310h1v1h-1zM74 370h1v1h-1zM138.5 314h1v1h-1zM140 315h1v1h-1zM138.5 323.5h1v1h-1zM106.5 352h1v1h-1zM114.5 365h1v1h-1zM106.5 370.5h1v1h-1zM106.5 370h1v1h-1zM141 316.5h1v1h-1zM99.5 349.5h1v1h-1zM76.5 347.5h1v1h-1zM82 346.5h1v1h-1zM113.5 360.5h1v1h-1zM145 313.5h1v1h-1zM98.5 371.5h1v1h-1zM137 309.5h1v1h-1zM145.5 312h1v1h-1zM83 347h1v1h-1zM102.5 350.5h1v1h-1zM83.5 346.5h1v1h-1zM137.5 326.5h1v1h-1zM116 362h1v1h-1zM116 362.5h1v1h-1zM139 327.5h1v1h-1zM138.5 309h1v1h-1zM103.5 351.5h1v1h-1zM140 310h1v1h-1zM114.5 360.5h1v1h-1zM138.5 327h1v1h-1zM86 348h1v1h-1zM97 348h1v1h-1zM86 348.5h1v1h-1zM140 319.5h1v1h-1zM144 307h1v1h-1zM89 371.5h1v1h-1zM89 371h1v1h-1zM141 320h1v1h-1zM98 349.5h1v1h-1zM144 325.5h1v1h-1zM141.5 319h1v1h-1zM98.5 348h1v1h-1zM71 350.5h1v1h-1zM143 329h1v1h-1zM79.5 371.5h1v1h-1zM79.5 371h1v1h-1zM137.5 312h1v1h-1zM137.5 312.5h1v1h-1zM137.5 321h1v1h-1zM110.5 367h1v1h-1zM139 322h1v1h-1zM108 353.5h1v1h-1zM138.5 313.5h1v1h-1zM72.5 349.5h1v1h-1zM106.5 351h1v1h-1zM87.5 347.5h1v1h-1zM109 354.5h1v1h-1zM109 354h1v1h-1zM100 372h1v1h-1zM101 349.5h1v1h-1zM143 324h1v1h-1zM90.5 348h1v1h-1zM101.5 348h1v1h-1zM101.5 348.5h1v1h-1zM113.5 359h1v1h-1zM113.5 368.5h1v1h-1zM82.5 371.5h1v1h-1zM82.5 371h1v1h-1zM147 312.5h1v1h-1zM105 352.5h1v1h-1zM116 361.5h1v1h-1zM66 360h1v1h-1zM66 360.5h1v1h-1zM140 318h1v1h-1zM140 318.5h1v1h-1zM86 347.5h1v1h-1zM85.5 372h1v1h-1zM67 361h1v1h-1zM67 361.5h1v1h-1zM70 366h1v1h-1zM111 367.5h1v1h-1zM111 367h1v1h-1zM80 370.5h1v1h-1zM143 328.5h1v1h-1zM112 368h1v1h-1zM79.5 370h1v1h-1zM112.5 367.5h1v1h-1zM112.5 367h1v1h-1zM139 312.5h1v1h-1zM139 312h1v1h-1zM139 321h1v1h-1zM74 350h1v1h-1zM139 330.5h1v1h-1zM139.5 329.5h1v1h-1zM139.5 329h1v1h-1zM108.5 369.5h1v1h-1zM78 347.5h1v1h-1zM78 347h1v1h-1zM140.5 321h1v1h-1zM140.5 330h1v1h-1zM141.5 322.5h1v1h-1zM141.5 322h1v1h-1zM143 323h1v1h-1zM90.5 347.5h1v1h-1zM79.5 347h1v1h-1zM90.5 347h1v1h-1zM104 350h1v1h-1zM147 311h1v1h-1zM73 371.5h1v1h-1zM103 372.5h1v1h-1z" fill="#2858a8" opacity="0.8"/>
<path d="M102.5 351.5h1v1h-1zM140.5 329.5h1v1h-1zM105 354.5h1v1h-1zM97.5 370.5h1v1h-1zM85 348.5h1v1h-1zM85 348h1v1h-1zM75.5 349h1v1h-1zM141 328h1v1h-1zM87 348h1v1h-1zM101 371h1v1h-1zM101 371.5h1v1h-1zM87 348.5h1v1h-1zM113.5 363.5h1v1h-1zM113.5 363h1v1h-1zM86.5 348.5h1v1h-1zM145 310.5h1v1h-1zM82 370h1v1h-1zM82 370.5h1v1h-1zM106.5 360.5h1v1h-1zM111 357h1v1h-1zM110 355h1v1h-1zM145 310h1v1h-1zM140.5 328.5h1v1h-1zM141 309.5h1v1h-1zM110.5 357.5h1v1h-1zM110.5 357h1v1h-1zM110 367.5h1v1h-1zM96.5 349.5h1v1h-1zM96.5 349h1v1h-1zM100.5 371h1v1h-1zM144.5 310h1v1h-1zM96.5 370.5h1v1h-1zM66.5 360h1v1h-1zM113 366.5h1v1h-1zM114 361h1v1h-1zM98.5 370.5h1v1h-1zM114 361.5h1v1h-1zM146 311.5h1v1h-1zM112.5 366.5h1v1h-1zM79 370.5h1v1h-1zM79 370h1v1h-1zM145.5 311.5h1v1h-1zM140 328.5h1v1h-1zM106 369.5h1v1h-1zM102 350h1v1h-1zM101.5 371h1v1h-1zM108 354.5h1v1h-1zM107.5 354.5h1v1h-1zM139.5 328.5h1v1h-1zM139.5 328h1v1h-1zM79 348h1v1h-1zM82 347.5h1v1h-1zM103 351h1v1h-1zM141 329.5h1v1h-1zM113 359.5h1v1h-1zM81.5 347.5h1v1h-1zM98 370h1v1h-1zM101.5 350.5h1v1h-1zM98 370.5h1v1h-1zM112.5 359.5h1v1h-1zM114 363.5h1v1h-1zM114 363h1v1h-1zM99.5 371h1v1h-1zM101.5 371.5h1v1h-1z" fill="#2868a8" opacity="0.8"/>
<path d="M93 349h1v1h-1zM93 349.5h1v1h-1zM139.5 324h1v1h-1zM108.5 355.5h1v1h-1zM66.5 358h1v1h-1zM66.5 358.5h1v1h-1zM140.5 325.5h1v1h-1zM92 371.5h1v1h-1zM111.5 365.5h1v1h-1zM101.5 351h1v1h-1zM142 313.5h1v1h-1zM99 369h1v1h-1zM140.5 311.5h1v1h-1zM86.5 349h1v1h-1zM111.5 360h1v1h-1zM111.5 360.5h1v1h-1zM143 313.5h1v1h-1zM143 313h1v1h-1zM143.5 312.5h1v1h-1zM143.5 312h1v1h-1zM103 353h1v1h-1zM114 362h1v1h-1zM139.5 323.5h1v1h-1zM107 359h1v1h-1zM85.5 370h1v1h-1zM85.5 370.5h1v1h-1zM68 358.5h1v1h-1zM107.5 367h1v1h-1zM111.5 364.5h1v1h-1zM111.5 364h1v1h-1zM83 370.5h1v1h-1zM112.5 365.5h1v1h-1zM104.5 361h1v1h-1zM104.5 361.5h1v1h-1zM139.5 327.5h1v1h-1zM99 350.5h1v1h-1zM139.5 327h1v1h-1zM99 368.5h1v1h-1zM99.5 367.5h1v1h-1zM77 349.5h1v1h-1zM77 349h1v1h-1zM69 354.5h1v1h-1zM111.5 359.5h1v1h-1zM102 369.5h1v1h-1zM143.5 311.5h1v1h-1zM103 352h1v1h-1zM103 370.5h1v1h-1zM73.5 368.5h1v1h-1zM103.5 369h1v1h-1zM103.5 369.5h1v1h-1zM139.5 313.5h1v1h-1zM139.5 313h1v1h-1zM87.5 370.5h1v1h-1zM142 325h1v1h-1zM113 365h1v1h-1zM76.5 369h1v1h-1zM80.5 348.5h1v1h-1zM80.5 348h1v1h-1zM142.5 310h1v1h-1zM141 324.5h1v1h-1zM88.5 348.5h1v1h-1zM107.5 361.5h1v1h-1zM68 361.5h1v1h-1zM113 360.5h1v1h-1zM143.5 310h1v1h-1zM75 369.5h1v1h-1zM140 327h1v1h-1zM140 327.5h1v1h-1zM109 358h1v1h-1zM109 367.5h1v1h-1zM141 310h1v1h-1zM89 370h1v1h-1zM89 370.5h1v1h-1zM68.5 355h1v1h-1zM113 364h1v1h-1zM110 358h1v1h-1zM92.5 349h1v1h-1zM110.5 366.5h1v1h-1zM103.5 354h1v1h-1zM103.5 354.5h1v1h-1zM140 322.5h1v1h-1zM140 322h1v1h-1zM106.5 359.5h1v1h-1zM106.5 359h1v1h-1zM106.5 368h1v1h-1zM97 369h1v1h-1zM97 369.5h1v1h-1zM142.5 309.5h1v1h-1zM141 314.5h1v1h-1zM144 310h1v1h-1zM145 311h1v1h-1zM91 349.5h1v1h-1zM75 350.5h1v1h-1zM75 350h1v1h-1zM105 360h1v1h-1zM105 369h1v1h-1zM105 369.5h1v1h-1zM140 326.5h1v1h-1zM140 326h1v1h-1zM78 369.5h1v1h-1zM142.5 313h1v1h-1zM142.5 313.5h1v1h-1zM70 365h1v1h-1zM141 327.5h1v1h-1zM68.5 354.5h1v1h-1zM68.5 354h1v1h-1zM68.5 363h1v1h-1zM71 366.5h1v1h-1zM71 366h1v1h-1zM113.5 362h1v1h-1zM101.5 369h1v1h-1zM94 349.5h1v1h-1zM102.5 352h1v1h-1zM83.5 348.5h1v1h-1zM105 355h1v1h-1zM83.5 348h1v1h-1zM102.5 370h1v1h-1zM108 360h1v1h-1zM93 371.5h1v1h-1zM103.5 353.5h1v1h-1zM140 312.5h1v1h-1zM95.5 349h1v1h-1zM70 351h1v1h-1zM70 351.5h1v1h-1zM141 313h1v1h-1zM100 370.5h1v1h-1zM98.5 350.5h1v1h-1zM109.5 359h1v1h-1zM98.5 368h1v1h-1zM98.5 368.5h1v1h-1zM108 355.5h1v1h-1zM72.5 351.5h1v1h-1zM140 325h1v1h-1zM140 325.5h1v1h-1zM140.5 324.5h1v1h-1zM67 359h1v1h-1zM67 359.5h1v1h-1zM144.5 312.5h1v1h-1zM141.5 325h1v1h-1zM112 366h1v1h-1zM112 366.5h1v1h-1zM140 311h1v1h-1zM108.5 367.5h1v1h-1zM86 349.5h1v1h-1zM140.5 310.5h1v1h-1zM105.5 361h1v1h-1zM69 363.5h1v1h-1zM89.5 371h1v1h-1zM89.5 371.5h1v1h-1zM112.5 360h1v1h-1zM112.5 360.5h1v1h-1zM139.5 322h1v1h-1zM139.5 322.5h1v1h-1zM74.5 369h1v1h-1zM140.5 314h1v1h-1zM140.5 323.5h1v1h-1zM89.5 348.5h1v1h-1zM67.5 357h1v1h-1zM67.5 357.5h1v1h-1zM144.5 311h1v1h-1zM90.5 349.5h1v1h-1zM112.5 364h1v1h-1zM104.5 360.5h1v1h-1zM104.5 369h1v1h-1zM84 370h1v1h-1zM139.5 326.5h1v1h-1zM105.5 360h1v1h-1zM140.5 327h1v1h-1zM100 350.5h1v1h-1zM111 359.5h1v1h-1zM111 359h1v1h-1zM69 353.5h1v1h-1zM67.5 361.5h1v1h-1zM100 368.5h1v1h-1zM69 362.5h1v1h-1zM69 362h1v1h-1zM89.5 370.5h1v1h-1zM70.5 366h1v1h-1zM100.5 367h1v1h-1zM104.5 355.5h1v1h-1zM103 369.5h1v1h-1zM87 370h1v1h-1zM139.5 312h1v1h-1zM142 324h1v1h-1zM76 369.5h1v1h-1zM140.5 313.5h1v1h-1zM99.5 370.5h1v1h-1zM99.5 370h1v1h-1zM88.5 370.5h1v1h-1zM80 348.5h1v1h-1zM69 357.5h1v1h-1zM77.5 369.5h1v1h-1zM69.5 365h1v1h-1zM69.5 365.5h1v1h-1zM112.5 363h1v1h-1zM93.5 349.5h1v1h-1zM142 310.5h1v1h-1zM139.5 325h1v1h-1zM88 348.5h1v1h-1zM88 348h1v1h-1zM139.5 325.5h1v1h-1zM107.5 360.5h1v1h-1zM68 360h1v1h-1zM96.5 369.5h1v1h-1zM69 352h1v1h-1zM69.5 351h1v1h-1zM69.5 351.5h1v1h-1zM111.5 366h1v1h-1zM92.5 371.5h1v1h-1zM92.5 371h1v1h-1zM106 355h1v1h-1zM142 314.5h1v1h-1zM142 323h1v1h-1zM76 350.5h1v1h-1zM76 350h1v1h-1zM107.5 355h1v1h-1zM107.5 355.5h1v1h-1zM99.5 369h1v1h-1zM90 370.5h1v1h-1zM100.5 370.5h1v1h-1zM100.5 370h1v1h-1zM91 371.5h1v1h-1zM91 371h1v1h-1zM106 359.5h1v1h-1zM106 368h1v1h-1zM142 309.5h1v1h-1zM142 309h1v1h-1zM141 322h1v1h-1zM107.5 359.5h1v1h-1zM107.5 359h1v1h-1zM68 359.5h1v1h-1zM83.5 370.5h1v1h-1zM106.5 362h1v1h-1zM99.5 350h1v1h-1zM68.5 353h1v1h-1zM113 362h1v1h-1zM99.5 368.5h1v1h-1zM68.5 362.5h1v1h-1zM101 369.5h1v1h-1zM110 356.5h1v1h-1zM83 348h1v1h-1zM102 370h1v1h-1zM103.5 370h1v1h-1zM103.5 370.5h1v1h-1zM141 312.5h1v1h-1zM98 350h1v1h-1zM71 351h1v1h-1zM68.5 357h1v1h-1zM71 351.5h1v1h-1zM110.5 359h1v1h-1zM110.5 359.5h1v1h-1zM72 351.5h1v1h-1zM85 370h1v1h-1zM72 351h1v1h-1zM109 355.5h1v1h-1zM78 349h1v1h-1zM72.5 368.5h1v1h-1zM67 358.5h1v1h-1zM67 358h1v1h-1zM144 312h1v1h-1zM141 325.5h1v1h-1zM101 350h1v1h-1zM68.5 352.5h1v1h-1zM113 361.5h1v1h-1zM68.5 352h1v1h-1zM113 361h1v1h-1zM101 368.5h1v1h-1zM112 365.5h1v1h-1zM102 351h1v1h-1zM104 370.5h1v1h-1zM104 370h1v1h-1zM102 351.5h1v1h-1zM108 367h1v1h-1zM109 359.5h1v1h-1zM141.5 310h1v1h-1zM141.5 310.5h1v1h-1zM109.5 357.5h1v1h-1zM112 360h1v1h-1zM109.5 366.5h1v1h-1zM109.5 366h1v1h-1zM90.5 371.5h1v1h-1zM71.5 367.5h1v1h-1zM74 369.5h1v1h-1zM140 323h1v1h-1zM140 323.5h1v1h-1zM89 348h1v1h-1zM105.5 355h1v1h-1zM141.5 323.5h1v1h-1zM141.5 323h1v1h-1zM79.5 348h1v1h-1zM112 364.5h1v1h-1zM104 369h1v1h-1zM96 370.5h1v1h-1zM96 370h1v1h-1zM140.5 326.5h1v1h-1zM140.5 326h1v1h-1zM105.5 368.5h1v1h-1zM111 358.5h1v1h-1zM111 358h1v1h-1zM67.5 360h1v1h-1zM100 367.5h1v1h-1zM67.5 360.5h1v1h-1zM141.5 309.5h1v1h-1zM141.5 309h1v1h-1zM143 310.5h1v1h-1zM109.5 356h1v1h-1zM112 359.5h1v1h-1zM112 359h1v1h-1zM82.5 348.5h1v1h-1zM82.5 348h1v1h-1zM101.5 370h1v1h-1zM101.5 370.5h1v1h-1zM94.5 349.5h1v1h-1zM74 368.5h1v1h-1zM74 368h1v1h-1zM140 313h1v1h-1zM140.5 312h1v1h-1zM92 349h1v1h-1zM69 356.5h1v1h-1zM141.5 313.5h1v1h-1zM143 314.5h1v1h-1zM143 314h1v1h-1zM109.5 360h1v1h-1zM81 348h1v1h-1zM81 348.5h1v1h-1zM112.5 362.5h1v1h-1z" fill="#2868a8" opacity="0.9"/>
<path d="M110 365h1v1h-1zM69.5 354h1v1h-1zM111 364h1v1h-1zM110.5 364h1v1h-1zM110.5 364.5h1v1h-1zM107.5 356.5h1v1h-1zM107.5 356h1v1h-1zM76.5 350.5h1v1h-1zM84 349h1v1h-1zM76.5 368h1v1h-1zM104 361.5h1v1h-1zM104 361h1v1h-1zM105.5 358.5h1v1h-1zM105.5 358h1v1h-1zM106.5 357h1v1h-1zM105.5 367h1v1h-1zM105.5 367.5h1v1h-1zM106.5 366.5h1v1h-1zM106.5 366h1v1h-1zM94 350h1v1h-1zM69.5 356.5h1v1h-1zM69 360.5h1v1h-1zM80 369h1v1h-1zM107.5 358.5h1v1h-1zM88 349.5h1v1h-1zM108.5 357h1v1h-1zM108.5 357.5h1v1h-1zM71 365h1v1h-1zM98.5 367h1v1h-1zM95.5 350h1v1h-1zM95.5 350.5h1v1h-1zM82 369.5h1v1h-1zM104.5 362h1v1h-1zM82 369h1v1h-1zM98.5 367.5h1v1h-1zM109 362h1v1h-1zM109 362.5h1v1h-1zM102.5 355h1v1h-1zM143 311.5h1v1h-1zM143 311h1v1h-1zM105 358.5h1v1h-1zM142 312.5h1v1h-1zM93.5 370.5h1v1h-1zM108 363h1v1h-1zM83.5 369h1v1h-1zM94.5 369.5h1v1h-1zM83.5 369.5h1v1h-1zM94.5 369h1v1h-1zM142 311.5h1v1h-1zM68.5 359h1v1h-1zM88 369.5h1v1h-1zM76 367.5h1v1h-1zM76 367h1v1h-1zM77 350h1v1h-1zM111 361h1v1h-1zM111 361.5h1v1h-1zM77 368.5h1v1h-1zM70 354h1v1h-1zM70 354.5h1v1h-1zM77 368h1v1h-1zM110.5 361.5h1v1h-1zM70 363.5h1v1h-1zM70 363h1v1h-1zM142.5 311h1v1h-1zM85.5 350.5h1v1h-1zM85.5 350h1v1h-1zM88.5 349.5h1v1h-1zM108 356.5h1v1h-1zM91 370.5h1v1h-1zM107 357h1v1h-1zM107 366.5h1v1h-1zM107 357.5h1v1h-1zM107 366h1v1h-1zM108.5 361.5h1v1h-1zM74.5 368h1v1h-1zM142.5 311.5h1v1h-1zM68.5 361h1v1h-1zM68.5 361.5h1v1h-1zM109.5 362h1v1h-1zM104.5 357.5h1v1h-1zM104.5 357h1v1h-1zM101.5 367.5h1v1h-1zM109 357h1v1h-1zM92 350.5h1v1h-1zM92 350h1v1h-1zM109 366h1v1h-1zM70.5 352h1v1h-1zM91.5 350h1v1h-1zM91.5 350.5h1v1h-1zM70 356.5h1v1h-1zM89 369.5h1v1h-1zM111.5 362.5h1v1h-1zM96 350h1v1h-1zM96 350.5h1v1h-1zM110.5 363h1v1h-1zM89 369h1v1h-1zM105 362h1v1h-1zM102.5 368h1v1h-1zM102.5 368.5h1v1h-1zM108 358h1v1h-1zM101 352h1v1h-1zM82 348.5h1v1h-1zM81.5 348.5h1v1h-1zM109.5 364h1v1h-1zM104.5 359h1v1h-1zM79.5 369h1v1h-1zM89.5 349.5h1v1h-1zM89.5 349h1v1h-1zM78.5 349.5h1v1h-1zM104.5 368.5h1v1h-1zM95 369.5h1v1h-1zM104.5 368h1v1h-1zM69 359.5h1v1h-1zM69 359h1v1h-1zM110.5 365h1v1h-1zM108.5 356.5h1v1h-1zM91.5 370h1v1h-1zM94 370h1v1h-1zM74 367.5h1v1h-1zM94 370.5h1v1h-1zM101.5 353h1v1h-1zM97 350.5h1v1h-1zM106.5 358.5h1v1h-1zM86 350h1v1h-1zM86 350.5h1v1h-1zM106 362.5h1v1h-1zM109 361h1v1h-1zM109 361.5h1v1h-1zM106 362h1v1h-1zM105.5 362h1v1h-1zM97 368h1v1h-1zM97 368.5h1v1h-1zM110 362h1v1h-1zM102.5 354h1v1h-1zM102.5 354.5h1v1h-1zM97.5 367h1v1h-1zM105 357.5h1v1h-1zM94.5 350.5h1v1h-1zM110 362.5h1v1h-1zM142 312h1v1h-1zM102 367h1v1h-1zM102 367.5h1v1h-1zM141.5 312h1v1h-1zM108 362.5h1v1h-1zM108 362h1v1h-1zM71 352h1v1h-1zM71 352.5h1v1h-1zM75 368.5h1v1h-1zM85 369h1v1h-1zM75 368h1v1h-1zM84.5 369h1v1h-1zM112 362.5h1v1h-1zM82.5 369h1v1h-1zM82.5 369.5h1v1h-1zM70 353h1v1h-1zM87 369.5h1v1h-1zM70 353.5h1v1h-1zM86.5 369h1v1h-1zM86.5 369.5h1v1h-1zM105 359h1v1h-1zM107 356h1v1h-1zM90 349.5h1v1h-1zM79 349.5h1v1h-1zM99.5 351.5h1v1h-1zM76 368h1v1h-1zM109.5 361.5h1v1h-1zM76 368.5h1v1h-1zM109.5 361h1v1h-1zM104.5 356.5h1v1h-1zM104 360.5h1v1h-1zM106 357h1v1h-1zM104 360h1v1h-1zM103.5 360.5h1v1h-1zM105.5 357.5h1v1h-1zM100.5 352.5h1v1h-1zM70 355h1v1h-1zM102 353.5h1v1h-1zM111.5 361h1v1h-1zM78 368.5h1v1h-1zM111.5 361.5h1v1h-1zM69.5 355h1v1h-1zM111 365.5h1v1h-1zM77.5 368h1v1h-1zM111 365h1v1h-1zM69.5 355.5h1v1h-1zM69.5 364.5h1v1h-1zM108 357h1v1h-1zM92 370h1v1h-1zM92 370.5h1v1h-1zM108 366.5h1v1h-1zM107.5 357h1v1h-1zM107.5 357.5h1v1h-1zM90.5 350.5h1v1h-1zM90.5 350h1v1h-1zM107.5 366.5h1v1h-1zM103 354h1v1h-1zM103 354.5h1v1h-1zM98 367.5h1v1h-1zM98 367h1v1h-1zM95 350h1v1h-1zM81 369.5h1v1h-1zM72 366h1v1h-1zM92.5 350h1v1h-1zM106.5 367h1v1h-1zM106.5 367.5h1v1h-1zM78.5 369.5h1v1h-1zM89.5 369.5h1v1h-1zM96.5 350.5h1v1h-1zM93 370.5h1v1h-1zM83 369h1v1h-1zM101.5 352h1v1h-1zM96.5 368.5h1v1h-1zM109.5 365.5h1v1h-1zM96.5 368h1v1h-1zM109.5 365h1v1h-1zM104 355.5h1v1h-1zM90.5 370h1v1h-1zM71.5 366.5h1v1h-1zM71.5 366h1v1h-1zM73 367.5h1v1h-1zM73 367h1v1h-1zM100 351h1v1h-1zM100 351.5h1v1h-1zM110 361.5h1v1h-1zM110 361h1v1h-1zM95.5 369h1v1h-1zM72.5 367h1v1h-1zM105 356.5h1v1h-1zM72.5 367.5h1v1h-1zM83.5 349h1v1h-1zM85 350.5h1v1h-1zM95.5 369.5h1v1h-1zM105 356h1v1h-1zM141.5 311h1v1h-1zM143 312h1v1h-1zM103.5 368.5h1v1h-1zM84.5 350.5h1v1h-1zM75 367h1v1h-1zM112 361.5h1v1h-1zM74.5 367h1v1h-1zM74.5 367.5h1v1h-1zM72 352h1v1h-1zM68.5 360h1v1h-1zM68.5 360.5h1v1h-1zM87 350.5h1v1h-1zM106 363h1v1h-1zM105.5 363.5h1v1h-1zM70 352.5h1v1h-1zM70 352h1v1h-1zM109 356h1v1h-1zM105.5 363h1v1h-1zM109 365h1v1h-1zM111 362h1v1h-1zM97.5 368.5h1v1h-1zM97.5 368h1v1h-1zM110.5 362h1v1h-1zM75 351.5h1v1h-1zM142.5 312.5h1v1h-1zM142.5 312h1v1h-1zM98.5 351h1v1h-1zM98.5 351.5h1v1h-1zM107 358.5h1v1h-1zM107 358h1v1h-1zM107.5 363.5h1v1h-1zM108.5 362.5h1v1h-1zM107 367.5h1v1h-1zM108.5 362h1v1h-1zM112 363.5h1v1h-1zM85.5 369.5h1v1h-1zM85.5 369h1v1h-1zM104 359h1v1h-1zM71.5 352.5h1v1h-1zM104 359.5h1v1h-1zM79 369h1v1h-1zM79 369.5h1v1h-1zM90 369.5h1v1h-1zM105.5 356.5h1v1h-1zM103.5 359h1v1h-1zM89 349.5h1v1h-1zM104 368.5h1v1h-1zM100.5 351.5h1v1h-1zM102 352.5h1v1h-1z" fill="#2878a8" opacity="0.9"/>
<path d="M106.5 364.5h1v1h-1zM92 369h1v1h-1zM102.5 360.5h1v1h-1zM105 363h1v1h-1zM91.5 369h1v1h-1zM79.5 349h1v1h-1zM99.5 352.5h1v1h-1zM79.5 349.5h1v1h-1zM101 353h1v1h-1zM101 353.5h1v1h-1zM108.5 364h1v1h-1zM82 349h1v1h-1zM108.5 364.5h1v1h-1zM99.5 352h1v1h-1zM81 368h1v1h-1zM89.5 350.5h1v1h-1zM102 354.5h1v1h-1zM102 354h1v1h-1zM78.5 368h1v1h-1zM89.5 368.5h1v1h-1zM70.5 364.5h1v1h-1zM83 368h1v1h-1zM102.5 362h1v1h-1zM83 368.5h1v1h-1zM105.5 365.5h1v1h-1zM73 366h1v1h-1zM72.5 366h1v1h-1zM80.5 349.5h1v1h-1zM87 368h1v1h-1zM87 368.5h1v1h-1zM70 361h1v1h-1zM96.5 351h1v1h-1zM96.5 351.5h1v1h-1zM75 366h1v1h-1zM105 367.5h1v1h-1zM107 364.5h1v1h-1zM74.5 366.5h1v1h-1zM74.5 366h1v1h-1zM82.5 349h1v1h-1zM71 353h1v1h-1zM71 353.5h1v1h-1zM101 366.5h1v1h-1zM103.5 356h1v1h-1zM103.5 356.5h1v1h-1zM100 352.5h1v1h-1zM106 365.5h1v1h-1zM109 364.5h1v1h-1zM106 365h1v1h-1zM76 351h1v1h-1zM108 365h1v1h-1zM108 365.5h1v1h-1zM79 368h1v1h-1zM79 368.5h1v1h-1zM103.5 358.5h1v1h-1zM71 364h1v1h-1zM71 364.5h1v1h-1zM103.5 358h1v1h-1zM103 362.5h1v1h-1zM90 368.5h1v1h-1zM87.5 350h1v1h-1zM100.5 353h1v1h-1zM100.5 353.5h1v1h-1zM87.5 368.5h1v1h-1zM102.5 359h1v1h-1zM102.5 359.5h1v1h-1zM75.5 351.5h1v1h-1zM75.5 351h1v1h-1zM93 369.5h1v1h-1zM81 349h1v1h-1zM96 368.5h1v1h-1zM81 349.5h1v1h-1zM93 369h1v1h-1zM96.5 367.5h1v1h-1zM101.5 360.5h1v1h-1zM101.5 360h1v1h-1zM90.5 369h1v1h-1zM70 358h1v1h-1zM70 358.5h1v1h-1zM69.5 358h1v1h-1zM69.5 358.5h1v1h-1zM92.5 369.5h1v1h-1zM92.5 369h1v1h-1zM99 366.5h1v1h-1zM99 366h1v1h-1zM98.5 366.5h1v1h-1zM98.5 366h1v1h-1zM104 356.5h1v1h-1zM86 368h1v1h-1zM83.5 350h1v1h-1zM100.5 366h1v1h-1zM98 351h1v1h-1zM88 350h1v1h-1zM88 350.5h1v1h-1zM83.5 368.5h1v1h-1zM76 366.5h1v1h-1zM76 366h1v1h-1zM101.5 355h1v1h-1zM104 358h1v1h-1zM72 353h1v1h-1zM72 353.5h1v1h-1zM104.5 363.5h1v1h-1zM87 351h1v1h-1zM104 367h1v1h-1zM104 367.5h1v1h-1zM103.5 367.5h1v1h-1zM102.5 356.5h1v1h-1zM70 362h1v1h-1zM102.5 356h1v1h-1zM102 360h1v1h-1zM102 360.5h1v1h-1zM99 352h1v1h-1zM91 369h1v1h-1zM99 352.5h1v1h-1zM107.5 364h1v1h-1zM107.5 364.5h1v1h-1zM108.5 363h1v1h-1zM103 361.5h1v1h-1zM71.5 353.5h1v1h-1zM103 361h1v1h-1zM101.5 366h1v1h-1zM78 350.5h1v1h-1zM89 350.5h1v1h-1zM105.5 366h1v1h-1zM106.5 365h1v1h-1zM102.5 358.5h1v1h-1zM83 349h1v1h-1zM99.5 353.5h1v1h-1zM99.5 353h1v1h-1zM109.5 363.5h1v1h-1zM104.5 367h1v1h-1zM73.5 352.5h1v1h-1zM79.5 368h1v1h-1zM73.5 352h1v1h-1zM79.5 368.5h1v1h-1zM104 362h1v1h-1zM104 362.5h1v1h-1zM80 349h1v1h-1zM82 368h1v1h-1zM84 368h1v1h-1zM103.5 362h1v1h-1zM100.5 354.5h1v1h-1zM102 355.5h1v1h-1zM102 355h1v1h-1zM94 369h1v1h-1zM93.5 369h1v1h-1zM103 356.5h1v1h-1zM109 363.5h1v1h-1zM109 363h1v1h-1zM97.5 366h1v1h-1zM77 367h1v1h-1zM69.5 359h1v1h-1zM102 366h1v1h-1zM102 366.5h1v1h-1zM80.5 368h1v1h-1zM107 365h1v1h-1zM101.5 354h1v1h-1zM84.5 368h1v1h-1zM84.5 368.5h1v1h-1zM103 358.5h1v1h-1zM97 351h1v1h-1zM103.5 357.5h1v1h-1zM103.5 357h1v1h-1zM82.5 368h1v1h-1zM100 353h1v1h-1zM110 363h1v1h-1zM86.5 368h1v1h-1zM69.5 361.5h1v1h-1zM74 352.5h1v1h-1zM74 352h1v1h-1zM88.5 350h1v1h-1zM88.5 350.5h1v1h-1zM102.5 367.5h1v1h-1zM88.5 368h1v1h-1zM88.5 368.5h1v1h-1zM105.5 365h1v1h-1zM104.5 367.5h1v1h-1zM106.5 364h1v1h-1z" fill="#2888a8" opacity="0.9"/>
<path d="M91.5 351.5h1v1h-1zM92 351h1v1h-1zM92 351.5h1v1h-1zM70 360h1v1h-1zM78 367.5h1v1h-1zM102.5 357.5h1v1h-1zM102.5 357h1v1h-1zM69.5 360h1v1h-1zM77.5 367.5h1v1h-1zM74 366.5h1v1h-1zM101.5 361.5h1v1h-1zM73.5 366.5h1v1h-1zM73.5 366h1v1h-1zM90.5 351h1v1h-1zM71 354h1v1h-1zM71 354.5h1v1h-1zM101 355.5h1v1h-1zM77 351.5h1v1h-1zM86 351h1v1h-1zM102 356h1v1h-1zM102 356.5h1v1h-1zM70.5 354h1v1h-1zM85.5 351h1v1h-1zM76.5 351.5h1v1h-1zM88 351h1v1h-1zM101.5 356h1v1h-1zM103 357h1v1h-1zM90.5 368.5h1v1h-1zM90.5 368h1v1h-1zM87.5 351h1v1h-1z" fill="#2888a8" opacity="1.0"/>
<path d="M90 366.5h1v1h-1zM71.5 355h1v1h-1zM71.5 355.5h1v1h-1zM89.5 366.5h1v1h-1z" fill="#289888" opacity="1.0"/>
<path d="M100 364.5h1v1h-1zM70.5 362h1v1h-1zM99 356h1v1h-1zM81 350.5h1v1h-1zM81 350h1v1h-1zM71 358.5h1v1h-1zM77.5 351.5h1v1h-1zM100 357h1v1h-1zM97.5 363h1v1h-1zM100 357.5h1v1h-1zM97.5 363.5h1v1h-1zM98 359h1v1h-1zM99 358h1v1h-1zM94.5 367h1v1h-1zM99 358.5h1v1h-1zM99.5 363.5h1v1h-1zM97 360.5h1v1h-1zM89.5 352.5h1v1h-1zM73.5 365h1v1h-1zM73.5 365.5h1v1h-1zM94 352.5h1v1h-1zM94 352h1v1h-1zM100.5 358h1v1h-1zM100.5 358.5h1v1h-1zM93.5 352h1v1h-1zM99 360.5h1v1h-1zM75.5 365h1v1h-1zM98.5 360h1v1h-1zM71 362h1v1h-1zM95.5 352.5h1v1h-1zM98 363h1v1h-1zM99 362.5h1v1h-1zM99 362h1v1h-1zM98.5 362h1v1h-1zM90.5 367.5h1v1h-1zM78 351.5h1v1h-1zM97 364.5h1v1h-1zM99 355h1v1h-1zM90 352.5h1v1h-1zM99 355.5h1v1h-1zM74 365h1v1h-1zM99 364.5h1v1h-1zM98.5 355h1v1h-1zM98.5 355.5h1v1h-1zM98.5 364h1v1h-1zM98.5 364.5h1v1h-1zM73.5 353.5h1v1h-1zM87.5 352.5h1v1h-1zM73.5 353h1v1h-1zM92 352h1v1h-1zM91.5 352h1v1h-1zM96 352h1v1h-1zM96 352.5h1v1h-1zM98 358.5h1v1h-1zM98 358h1v1h-1zM99 357.5h1v1h-1zM82 350h1v1h-1zM96.5 360.5h1v1h-1zM96.5 360h1v1h-1zM101 363.5h1v1h-1zM81.5 350h1v1h-1zM81.5 350.5h1v1h-1zM91 367.5h1v1h-1zM91 367h1v1h-1zM99 359.5h1v1h-1zM99 359h1v1h-1zM96.5 362h1v1h-1zM96.5 362.5h1v1h-1zM99.5 358h1v1h-1zM97 361.5h1v1h-1zM91 352h1v1h-1zM78 366h1v1h-1zM89 366.5h1v1h-1zM89 366h1v1h-1zM100 363h1v1h-1zM94.5 352h1v1h-1zM77.5 366h1v1h-1zM94.5 352.5h1v1h-1zM100 363.5h1v1h-1zM74 353.5h1v1h-1zM74 353h1v1h-1zM88 352h1v1h-1zM88 352.5h1v1h-1zM96.5 364h1v1h-1zM72 364h1v1h-1zM97 363h1v1h-1zM97.5 353h1v1h-1zM95.5 365.5h1v1h-1zM95.5 365h1v1h-1zM99 354.5h1v1h-1zM99 354h1v1h-1zM98.5 354h1v1h-1zM98.5 354.5h1v1h-1zM98.5 363.5h1v1h-1zM99.5 362.5h1v1h-1zM71.5 364h1v1h-1zM89 352h1v1h-1zM100 358h1v1h-1zM97.5 364h1v1h-1zM93 352h1v1h-1zM100 358.5h1v1h-1zM100.5 363.5h1v1h-1zM100.5 363h1v1h-1zM93 352.5h1v1h-1zM98.5 356h1v1h-1zM98.5 356.5h1v1h-1zM98 360h1v1h-1zM90.5 352.5h1v1h-1zM98 360.5h1v1h-1zM99.5 364.5h1v1h-1zM95 352.5h1v1h-1zM99.5 364h1v1h-1zM80.5 350h1v1h-1zM92.5 352.5h1v1h-1zM98 353.5h1v1h-1zM96.5 361.5h1v1h-1zM98.5 358.5h1v1h-1zM96 365h1v1h-1zM98 362.5h1v1h-1zM98 362h1v1h-1zM99.5 357h1v1h-1zM101 358h1v1h-1zM88.5 366h1v1h-1zM97.5 359h1v1h-1zM97.5 359.5h1v1h-1zM100 362h1v1h-1zM100 362.5h1v1h-1zM96.5 363h1v1h-1zM96.5 363.5h1v1h-1zM99.5 359.5h1v1h-1zM98 364.5h1v1h-1zM99.5 359h1v1h-1zM99 363.5h1v1h-1zM98 364h1v1h-1zM87 352h1v1h-1zM86.5 352h1v1h-1zM91 352.5h1v1h-1z" fill="#289898" opacity="1.0"/>
<path d="M80 367h1v1h-1zM96 351.5h1v1h-1zM99.5 361h1v1h-1zM99.5 361.5h1v1h-1zM101.5 358.5h1v1h-1zM99 365.5h1v1h-1zM71.5 354h1v1h-1zM101 362.5h1v1h-1zM101 362h1v1h-1zM82 367.5h1v1h-1zM103 365h1v1h-1zM103 365.5h1v1h-1zM78.5 350.5h1v1h-1zM95.5 366h1v1h-1zM78.5 350h1v1h-1zM93 351h1v1h-1zM93 351.5h1v1h-1zM86 367h1v1h-1zM83 350h1v1h-1zM86 367.5h1v1h-1zM70.5 355.5h1v1h-1zM83 350.5h1v1h-1zM94 368h1v1h-1zM105 365h1v1h-1zM99.5 354.5h1v1h-1zM93.5 368.5h1v1h-1zM99.5 354h1v1h-1zM83.5 367.5h1v1h-1zM105 365.5h1v1h-1zM88 367.5h1v1h-1zM101 364h1v1h-1zM103.5 363h1v1h-1zM103.5 363.5h1v1h-1zM97.5 365.5h1v1h-1zM97.5 365h1v1h-1zM77 366.5h1v1h-1zM70.5 357h1v1h-1zM70.5 357.5h1v1h-1zM83.5 351.5h1v1h-1zM94.5 351.5h1v1h-1zM83.5 351h1v1h-1zM98 352.5h1v1h-1zM99.5 356.5h1v1h-1zM98 361h1v1h-1zM98 361.5h1v1h-1zM101 357h1v1h-1zM101 357.5h1v1h-1zM72.5 353.5h1v1h-1zM103.5 365h1v1h-1zM103.5 365.5h1v1h-1zM101.5 365.5h1v1h-1zM104.5 364.5h1v1h-1zM100 361h1v1h-1zM89 367.5h1v1h-1zM89 367h1v1h-1zM100.5 360h1v1h-1zM102.5 366h1v1h-1zM102.5 366.5h1v1h-1zM99 353h1v1h-1zM79 350h1v1h-1zM96 366.5h1v1h-1zM99 353.5h1v1h-1zM101 359h1v1h-1zM101 359.5h1v1h-1zM71 355.5h1v1h-1zM96.5 365h1v1h-1zM96.5 365.5h1v1h-1zM79.5 367h1v1h-1zM79.5 367.5h1v1h-1zM104.5 366.5h1v1h-1zM100 354.5h1v1h-1zM89 351.5h1v1h-1zM72 365h1v1h-1zM84 367h1v1h-1zM89 351h1v1h-1zM75 352.5h1v1h-1zM100.5 362h1v1h-1zM74.5 352h1v1h-1zM91.5 368h1v1h-1zM91.5 368.5h1v1h-1zM101 361h1v1h-1zM71 357.5h1v1h-1zM71 357h1v1h-1zM84 351h1v1h-1zM95 351h1v1h-1zM103 364h1v1h-1zM103 364.5h1v1h-1zM104 363h1v1h-1zM100 356h1v1h-1zM71.5 365.5h1v1h-1zM71.5 365h1v1h-1zM100 356.5h1v1h-1zM97 366h1v1h-1zM97 366.5h1v1h-1zM80 350h1v1h-1zM92.5 351h1v1h-1zM92.5 351.5h1v1h-1zM100.5 364h1v1h-1zM102 365.5h1v1h-1zM105 364h1v1h-1zM80.5 367.5h1v1h-1zM80.5 367h1v1h-1zM85 367h1v1h-1zM85 367.5h1v1h-1zM84.5 367.5h1v1h-1zM84.5 367h1v1h-1zM99.5 365.5h1v1h-1zM101.5 362.5h1v1h-1zM101.5 362h1v1h-1zM103 366h1v1h-1zM104 365.5h1v1h-1zM72.5 365.5h1v1h-1zM82.5 367.5h1v1h-1zM72.5 365h1v1h-1zM82.5 367h1v1h-1zM87 367.5h1v1h-1zM87 367h1v1h-1zM100.5 357.5h1v1h-1zM93.5 351h1v1h-1zM102 358h1v1h-1zM86.5 367.5h1v1h-1zM102.5 363h1v1h-1zM102 358.5h1v1h-1zM85 351.5h1v1h-1zM94.5 368h1v1h-1zM94.5 368.5h1v1h-1zM95.5 351h1v1h-1zM95.5 351.5h1v1h-1zM88.5 367.5h1v1h-1zM88.5 367h1v1h-1zM97 352.5h1v1h-1zM97 352h1v1h-1zM101.5 364h1v1h-1zM101.5 364.5h1v1h-1zM100.5 359.5h1v1h-1zM102.5 365h1v1h-1zM102.5 365.5h1v1h-1zM92 368.5h1v1h-1zM92 368h1v1h-1zM99 361.5h1v1h-1zM88.5 351.5h1v1h-1zM88.5 351h1v1h-1zM98.5 361.5h1v1h-1zM99.5 360.5h1v1h-1zM98 365h1v1h-1zM99.5 360h1v1h-1zM101.5 357h1v1h-1zM98 365.5h1v1h-1zM100 365.5h1v1h-1zM102 362h1v1h-1zM100 365h1v1h-1zM102 362.5h1v1h-1zM78.5 367.5h1v1h-1zM89.5 367h1v1h-1zM78.5 367h1v1h-1zM70.5 363.5h1v1h-1zM70.5 363h1v1h-1zM83 367h1v1h-1zM89.5 367.5h1v1h-1zM79.5 350h1v1h-1zM79.5 350.5h1v1h-1zM96.5 366.5h1v1h-1zM101.5 359h1v1h-1zM103 363.5h1v1h-1zM95 368h1v1h-1zM95 368.5h1v1h-1zM73 365.5h1v1h-1zM73 365h1v1h-1zM89.5 351.5h1v1h-1zM95.5 367h1v1h-1zM95.5 367.5h1v1h-1zM94 351h1v1h-1zM102 364h1v1h-1zM70.5 356h1v1h-1zM75 365h1v1h-1zM99.5 355h1v1h-1zM98.5 365.5h1v1h-1zM98.5 365h1v1h-1zM104 364h1v1h-1zM103.5 364h1v1h-1zM103.5 364.5h1v1h-1zM100.5 356h1v1h-1zM100.5 356.5h1v1h-1zM100 360.5h1v1h-1zM102 357.5h1v1h-1zM102 357h1v1h-1zM96.5 352.5h1v1h-1zM82.5 350h1v1h-1zM82.5 350.5h1v1h-1zM85.5 367h1v1h-1zM101.5 363h1v1h-1zM79 367.5h1v1h-1zM79 367h1v1h-1zM104 366.5h1v1h-1zM71 363.5h1v1h-1zM71 363h1v1h-1zM90 367h1v1h-1zM103.5 366.5h1v1h-1zM104.5 365h1v1h-1zM102 359.5h1v1h-1zM87.5 367h1v1h-1zM90 351.5h1v1h-1zM96 367h1v1h-1zM90 351h1v1h-1zM101 360.5h1v1h-1zM76.5 366h1v1h-1zM72 354.5h1v1h-1zM72 354h1v1h-1zM101 360h1v1h-1zM72.5 353h1v1h-1zM100 355h1v1h-1zM97.5 361.5h1v1h-1z" fill="#2898a8" opacity="1.0"/>
<path d="M87.5 366.5h1v1h-1zM87.5 366h1v1h-1zM83 351h1v1h-1zM96 363.5h1v1h-1zM96.5 353h1v1h-1zM98 357h1v1h-1zM96.5 353.5h1v1h-1zM96.5 359.5h1v1h-1zM82.5 351h1v1h-1zM86 352h1v1h-1zM86 352.5h1v1h-1zM71 361.5h1v1h-1zM70.5 361.5h1v1h-1zM70.5 361h1v1h-1zM85.5 352h1v1h-1zM97 359h1v1h-1zM96 362h1v1h-1zM96 362.5h1v1h-1zM76.5 352.5h1v1h-1zM73 354h1v1h-1zM95.5 362.5h1v1h-1zM91.5 367h1v1h-1zM88 366.5h1v1h-1zM97 353.5h1v1h-1zM95.5 361h1v1h-1zM95.5 364.5h1v1h-1z" fill="#28a888" opacity="1.0"/>
<path d="M114.5 377h1v1h-1zM79.5 377.5h1v1h-1zM115.5 376h1v1h-1zM152.5 306.5h1v1h-1zM109 376h1v1h-1zM109 376.5h1v1h-1zM152.5 315h1v1h-1zM134.5 319h1v1h-1zM92.5 377h1v1h-1zM89 342h1v1h-1zM65.5 368.5h1v1h-1zM89 342.5h1v1h-1zM154 310h1v1h-1zM131.5 313.5h1v1h-1zM154 310.5h1v1h-1zM147 304.5h1v1h-1zM148.5 320.5h1v1h-1zM122.5 374.5h1v1h-1zM112 377h1v1h-1zM140 338h1v1h-1zM128.5 308.5h1v1h-1zM153.5 307.5h1v1h-1zM125.5 355h1v1h-1zM118.5 349.5h1v1h-1zM150 324.5h1v1h-1zM110.5 375.5h1v1h-1zM134.5 321h1v1h-1zM130 309.5h1v1h-1zM116 374h1v1h-1zM126.5 310.5h1v1h-1zM94.5 376.5h1v1h-1zM66.5 369h1v1h-1zM146.5 304.5h1v1h-1zM154 312.5h1v1h-1zM128 357.5h1v1h-1zM148 326h1v1h-1zM112.5 375.5h1v1h-1zM82.5 377.5h1v1h-1zM124.5 358.5h1v1h-1zM125.5 357h1v1h-1zM87 377.5h1v1h-1zM118.5 351.5h1v1h-1zM69 371h1v1h-1zM118.5 351h1v1h-1zM127 358.5h1v1h-1zM112 351.5h1v1h-1zM146.5 334.5h1v1h-1zM105 376h1v1h-1zM129.5 311.5h1v1h-1zM131.5 308h1v1h-1zM129.5 311h1v1h-1zM132.5 307.5h1v1h-1zM154 314.5h1v1h-1zM132.5 307h1v1h-1zM121.5 371h1v1h-1zM131 312h1v1h-1zM131.5 308.5h1v1h-1zM122 373h1v1h-1zM113.5 376h1v1h-1zM104 377h1v1h-1zM150.5 315.5h1v1h-1zM116 351.5h1v1h-1zM121 347h1v1h-1zM127.5 356h1v1h-1zM101 341h1v1h-1zM134.5 316.5h1v1h-1zM113 352.5h1v1h-1zM115 349h1v1h-1zM122 348.5h1v1h-1zM149.5 316h1v1h-1zM115.5 348.5h1v1h-1zM85.5 377.5h1v1h-1zM66 368h1v1h-1zM75.5 376h1v1h-1zM149.5 316.5h1v1h-1zM135.5 326.5h1v1h-1zM77 343.5h1v1h-1zM121.5 373.5h1v1h-1zM132 313.5h1v1h-1zM132 313h1v1h-1zM67.5 347h1v1h-1zM112 374.5h1v1h-1zM81 377.5h1v1h-1zM106 376.5h1v1h-1zM67 369h1v1h-1zM153.5 313h1v1h-1zM99.5 342h1v1h-1zM126 363.5h1v1h-1zM137.5 335.5h1v1h-1zM135 320h1v1h-1zM121.5 348h1v1h-1zM102.5 377h1v1h-1zM122 350h1v1h-1zM142 335.5h1v1h-1zM133.5 322h1v1h-1zM141.5 335h1v1h-1zM151.5 315.5h1v1h-1zM119 351.5h1v1h-1zM87.5 343h1v1h-1zM120 350.5h1v1h-1zM111 347h1v1h-1zM111 347.5h1v1h-1zM140 337.5h1v1h-1zM127 355h1v1h-1zM119 372h1v1h-1zM147 333.5h1v1h-1zM113 347.5h1v1h-1zM134 315h1v1h-1zM127 309.5h1v1h-1zM126.5 309h1v1h-1zM104.5 343.5h1v1h-1zM127.5 308.5h1v1h-1zM129.5 308.5h1v1h-1zM141.5 337h1v1h-1zM135.5 330.5h1v1h-1zM114 375.5h1v1h-1zM113 377h1v1h-1zM113 377.5h1v1h-1zM111.5 348.5h1v1h-1zM81.5 377.5h1v1h-1zM141 304.5h1v1h-1zM82.5 376h1v1h-1zM150 316.5h1v1h-1zM128.5 309h1v1h-1zM107 345h1v1h-1zM125.5 356.5h1v1h-1zM128.5 309.5h1v1h-1zM125 360h1v1h-1zM140.5 338h1v1h-1zM146.5 333h1v1h-1zM135.5 305h1v1h-1zM124.5 369.5h1v1h-1zM124.5 369h1v1h-1zM127.5 310.5h1v1h-1zM97 343h1v1h-1zM122 372h1v1h-1zM120 354.5h1v1h-1zM138 335.5h1v1h-1zM100.5 341.5h1v1h-1zM114 377h1v1h-1zM111.5 350h1v1h-1zM143 303.5h1v1h-1zM119.5 372.5h1v1h-1zM112.5 351h1v1h-1zM123.5 351.5h1v1h-1zM135.5 316.5h1v1h-1zM148.5 319.5h1v1h-1zM123 373.5h1v1h-1zM131.5 312.5h1v1h-1zM99.5 378h1v1h-1zM69 347.5h1v1h-1zM136 330h1v1h-1zM125 364.5h1v1h-1zM121.5 347.5h1v1h-1zM80 377h1v1h-1zM94 376h1v1h-1zM141 338h1v1h-1zM141 338.5h1v1h-1zM93.5 376.5h1v1h-1zM123 375h1v1h-1zM122.5 375h1v1h-1zM122.5 375.5h1v1h-1zM112.5 374.5h1v1h-1zM125 357h1v1h-1zM134 305.5h1v1h-1zM95.5 376.5h1v1h-1zM134 314.5h1v1h-1zM153.5 308.5h1v1h-1zM97 377h1v1h-1zM121.5 349.5h1v1h-1zM134 323h1v1h-1zM133.5 314.5h1v1h-1zM114 347.5h1v1h-1zM113 349h1v1h-1zM114 347h1v1h-1zM106 343.5h1v1h-1zM106 343h1v1h-1zM74 375h1v1h-1zM123 359h1v1h-1zM115.5 351.5h1v1h-1zM121 371h1v1h-1zM96.5 377.5h1v1h-1zM131.5 307h1v1h-1zM88 377h1v1h-1zM124 351h1v1h-1zM112.5 376.5h1v1h-1zM127 356.5h1v1h-1zM96.5 343.5h1v1h-1zM125 368.5h1v1h-1zM134 316h1v1h-1zM125.5 358.5h1v1h-1zM100 378.5h1v1h-1zM118.5 352h1v1h-1zM124.5 368.5h1v1h-1zM135 317.5h1v1h-1zM134.5 324h1v1h-1zM130 312h1v1h-1zM75 376.5h1v1h-1zM144.5 334.5h1v1h-1zM144.5 334h1v1h-1zM84.5 377h1v1h-1zM129.5 312.5h1v1h-1zM119 348h1v1h-1zM149.5 324.5h1v1h-1zM122.5 370h1v1h-1zM123.5 369h1v1h-1zM125 352.5h1v1h-1zM115.5 374.5h1v1h-1zM125 361.5h1v1h-1zM124.5 352h1v1h-1zM97.5 377h1v1h-1zM98.5 342.5h1v1h-1zM130.5 310.5h1v1h-1zM99.5 341.5h1v1h-1zM121 348.5h1v1h-1zM126 362h1v1h-1zM121 348h1v1h-1zM147.5 326h1v1h-1zM151 306h1v1h-1zM127.5 357h1v1h-1zM135 319h1v1h-1zM115 350h1v1h-1zM72 345.5h1v1h-1zM86 344.5h1v1h-1zM112.5 353h1v1h-1zM107 376.5h1v1h-1zM154 308h1v1h-1zM97.5 343h1v1h-1z" fill="#383898" opacity="0.7"/>
<path d="M130 344h1v1h-1zM109 321.5h1v1h-1zM147.5 337.5h1v1h-1zM97 337.5h1v1h-1zM150 358.5h1v1h-1zM142 354.5h1v1h-1zM109.5 337h1v1h-1zM115 327h1v1h-1zM81 334.5h1v1h-1zM127 301.5h1v1h-1zM154.5 354.5h1v1h-1zM69.5 377h1v1h-1zM108 315h1v1h-1zM143.5 344.5h1v1h-1zM85 340.5h1v1h-1zM108.5 332.5h1v1h-1zM120.5 315h1v1h-1zM117.5 328.5h1v1h-1zM150 335h1v1h-1zM86.5 322.5h1v1h-1zM121.5 307.5h1v1h-1zM151.5 320h1v1h-1zM150.5 361.5h1v1h-1zM82.5 333h1v1h-1zM71.5 342h1v1h-1zM124.5 317h1v1h-1zM145 368h1v1h-1zM126 336.5h1v1h-1zM137.5 372h1v1h-1zM138 356.5h1v1h-1zM153 317h1v1h-1zM105.5 330.5h1v1h-1zM105.5 330h1v1h-1zM117.5 332h1v1h-1zM138.5 373h1v1h-1zM109.5 309h1v1h-1zM131 325.5h1v1h-1zM142.5 352h1v1h-1zM153.5 361.5h1v1h-1zM145.5 362.5h1v1h-1zM138 342.5h1v1h-1zM122.5 378h1v1h-1zM138.5 350h1v1h-1zM150.5 333.5h1v1h-1zM77 340h1v1h-1zM129 378h1v1h-1zM134.5 334.5h1v1h-1zM123 316h1v1h-1zM131.5 328h1v1h-1zM141 370h1v1h-1zM127 304h1v1h-1zM160 319.5h1v1h-1zM130 315.5h1v1h-1zM116.5 321.5h1v1h-1zM74.5 342h1v1h-1zM120.5 318h1v1h-1zM150.5 328.5h1v1h-1zM111 328h1v1h-1zM142.5 351.5h1v1h-1zM152 356h1v1h-1zM141.5 355h1v1h-1zM131.5 332h1v1h-1zM87 339h1v1h-1zM118 326.5h1v1h-1zM108.5 330.5h1v1h-1zM136 371.5h1v1h-1zM108.5 330h1v1h-1zM118 335h1v1h-1zM147 371.5h1v1h-1zM163 352h1v1h-1zM68 343h1v1h-1zM150.5 332.5h1v1h-1zM140 368h1v1h-1zM100.5 322h1v1h-1zM131.5 300h1v1h-1zM102 332h1v1h-1zM112.5 332.5h1v1h-1zM158 358.5h1v1h-1zM143 369h1v1h-1zM157 313.5h1v1h-1zM127.5 320h1v1h-1zM108.5 316h1v1h-1zM139 353.5h1v1h-1zM137.5 361.5h1v1h-1zM132 332h1v1h-1zM151 354h1v1h-1zM76.5 341h1v1h-1zM148 367.5h1v1h-1zM152 328h1v1h-1zM163.5 364h1v1h-1zM111.5 335h1v1h-1zM151.5 371.5h1v1h-1zM123.5 309h1v1h-1zM133.5 350.5h1v1h-1zM135 360.5h1v1h-1zM157.5 307h1v1h-1zM103.5 336.5h1v1h-1zM106.5 341h1v1h-1zM160.5 321.5h1v1h-1zM126.5 319.5h1v1h-1zM129 322h1v1h-1zM98 334h1v1h-1zM140 358h1v1h-1zM130.5 325h1v1h-1zM151.5 357h1v1h-1zM119.5 334.5h1v1h-1zM146 365.5h1v1h-1zM141.5 349.5h1v1h-1zM156.5 310.5h1v1h-1zM152.5 358h1v1h-1zM104.5 318h1v1h-1zM122.5 317h1v1h-1zM106 319.5h1v1h-1zM136 338.5h1v1h-1zM117 334h1v1h-1zM139 343h1v1h-1zM126.5 314h1v1h-1zM155.5 359h1v1h-1zM139 370h1v1h-1zM118.5 328h1v1h-1zM139.5 369.5h1v1h-1zM101 334h1v1h-1zM148.5 356h1v1h-1zM129.5 352h1v1h-1zM94 313h1v1h-1zM156 306h1v1h-1zM91 335h1v1h-1zM122 313.5h1v1h-1zM144.5 340h1v1h-1zM105 337.5h1v1h-1zM125.5 345h1v1h-1zM135 350.5h1v1h-1zM158 352h1v1h-1zM83.5 339.5h1v1h-1zM95 323h1v1h-1zM122.5 339h1v1h-1zM128 329.5h1v1h-1zM95.5 340.5h1v1h-1zM127.5 372h1v1h-1zM129 321h1v1h-1zM150 353.5h1v1h-1zM101 320h1v1h-1zM121 335h1v1h-1zM129.5 329.5h1v1h-1zM148.5 342h1v1h-1zM151.5 338.5h1v1h-1zM130.5 315.5h1v1h-1zM119.5 315.5h1v1h-1zM148.5 351.5h1v1h-1zM132.5 343.5h1v1h-1zM132.5 361.5h1v1h-1zM91 330h1v1h-1zM110.5 324h1v1h-1zM125.5 322h1v1h-1zM122.5 307.5h1v1h-1zM102.5 338h1v1h-1zM124 345.5h1v1h-1zM116 341.5h1v1h-1zM103.5 330.5h1v1h-1zM128 342h1v1h-1zM132 303h1v1h-1zM139 351h1v1h-1zM155.5 358h1v1h-1zM118.5 318h1v1h-1zM159.5 356h1v1h-1zM148.5 355.5h1v1h-1zM82 338.5h1v1h-1zM134 376.5h1v1h-1zM113.5 334h1v1h-1zM154 354.5h1v1h-1zM151.5 360.5h1v1h-1zM151.5 360h1v1h-1zM125.5 335.5h1v1h-1zM131.5 378h1v1h-1zM122.5 320h1v1h-1zM128 319.5h1v1h-1zM66 344.5h1v1h-1zM147.5 358h1v1h-1zM136.5 358h1v1h-1zM67.5 344.5h1v1h-1zM125 304h1v1h-1zM132.5 342.5h1v1h-1zM104 339h1v1h-1zM146.5 353h1v1h-1zM116 340.5h1v1h-1zM73 378h1v1h-1zM158.5 354h1v1h-1zM143.5 365h1v1h-1zM149 355.5h1v1h-1zM66.5 374h1v1h-1zM154 326.5h1v1h-1zM131 333h1v1h-1zM133.5 293h1v1h-1zM121.5 337.5h1v1h-1zM71.5 336.5h1v1h-1zM154.5 352h1v1h-1zM164 366h1v1h-1zM102.5 332h1v1h-1zM145 371.5h1v1h-1zM127 344.5h1v1h-1zM122 378.5h1v1h-1zM120 314.5h1v1h-1zM158.5 358.5h1v1h-1zM151.5 327h1v1h-1zM104 320h1v1h-1zM104 329.5h1v1h-1zM127 303h1v1h-1zM146.5 343h1v1h-1zM158.5 308.5h1v1h-1zM154.5 356.5h1v1h-1zM73 341.5h1v1h-1zM137 353.5h1v1h-1zM145 366.5h1v1h-1zM156 366.5h1v1h-1zM127.5 329.5h1v1h-1zM93.5 336h1v1h-1zM157 358.5h1v1h-1zM149 354.5h1v1h-1zM161 319.5h1v1h-1zM157.5 357h1v1h-1zM120.5 326.5h1v1h-1zM97.5 333h1v1h-1zM119 340.5h1v1h-1zM100 336.5h1v1h-1zM134 347h1v1h-1zM123 310h1v1h-1zM150.5 354h1v1h-1zM154.5 315h1v1h-1zM109.5 325.5h1v1h-1zM109.5 325h1v1h-1zM152 364.5h1v1h-1zM144 360.5h1v1h-1zM90.5 330.5h1v1h-1zM153.5 368.5h1v1h-1zM130.5 375.5h1v1h-1zM124 311h1v1h-1zM133 378.5h1v1h-1zM124 320.5h1v1h-1zM127 316.5h1v1h-1zM164 365h1v1h-1zM108 321.5h1v1h-1zM145 370.5h1v1h-1zM143.5 341h1v1h-1zM137 366h1v1h-1zM127.5 324h1v1h-1zM147.5 302.5h1v1h-1zM147.5 302h1v1h-1zM140 367h1v1h-1zM67.5 342h1v1h-1zM112 323h1v1h-1zM143 301h1v1h-1zM104 319.5h1v1h-1zM112.5 331.5h1v1h-1zM115.5 327h1v1h-1zM112.5 340h1v1h-1zM158.5 307h1v1h-1zM156 365h1v1h-1zM145.5 373h1v1h-1zM128.5 302.5h1v1h-1zM85.5 340.5h1v1h-1zM160.5 352h1v1h-1zM111 326.5h1v1h-1zM131 304h1v1h-1zM151 371.5h1v1h-1zM134.5 336h1v1h-1zM144 359h1v1h-1zM152 372h1v1h-1zM133 377.5h1v1h-1zM112.5 335h1v1h-1zM73 335.5h1v1h-1zM126 319h1v1h-1zM145.5 359.5h1v1h-1zM107 333h1v1h-1zM149.5 338h1v1h-1zM150.5 303.5h1v1h-1zM99 338.5h1v1h-1zM153.5 317.5h1v1h-1zM149.5 365.5h1v1h-1zM126.5 372.5h1v1h-1zM132 362.5h1v1h-1zM142.5 344h1v1h-1zM119.5 342.5h1v1h-1zM111.5 338.5h1v1h-1zM133 345h1v1h-1zM133 345.5h1v1h-1zM130.5 360h1v1h-1zM144.5 362.5h1v1h-1zM115.5 326h1v1h-1zM138 298.5h1v1h-1zM144.5 371h1v1h-1zM124.5 313.5h1v1h-1zM126 314h1v1h-1zM137.5 350.5h1v1h-1zM139.5 301.5h1v1h-1zM128.5 301.5h1v1h-1zM136 373h1v1h-1zM148 338h1v1h-1zM96.5 336h1v1h-1zM118.5 336h1v1h-1zM129 343.5h1v1h-1zM72.5 378h1v1h-1zM129 352.5h1v1h-1zM153.5 330h1v1h-1zM154.5 304.5h1v1h-1zM90 378.5h1v1h-1zM83 339.5h1v1h-1zM133.5 348h1v1h-1zM115.5 321.5h1v1h-1zM115.5 330.5h1v1h-1zM143 371.5h1v1h-1zM138 302.5h1v1h-1zM72 338h1v1h-1zM126.5 344.5h1v1h-1zM99.5 336h1v1h-1zM130.5 323h1v1h-1zM152 330.5h1v1h-1zM148.5 368h1v1h-1zM111.5 328h1v1h-1zM154 367h1v1h-1zM102 329.5h1v1h-1zM144.5 343.5h1v1h-1zM75 339h1v1h-1zM103 321h1v1h-1zM106 317.5h1v1h-1zM138 297h1v1h-1zM138 297.5h1v1h-1zM95 335h1v1h-1zM117 332.5h1v1h-1zM120 337.5h1v1h-1zM155.5 366.5h1v1h-1zM155.5 366h1v1h-1zM147.5 362.5h1v1h-1zM130.5 300.5h1v1h-1zM76.5 338.5h1v1h-1zM132.5 346h1v1h-1zM131 369.5h1v1h-1zM129.5 377h1v1h-1zM131 378h1v1h-1zM94 338h1v1h-1zM122 320.5h1v1h-1zM152.5 360.5h1v1h-1zM106 321.5h1v1h-1zM147 340h1v1h-1zM95.5 338.5h1v1h-1zM120 341h1v1h-1zM121 315.5h1v1h-1zM107.5 321h1v1h-1zM152 302.5h1v1h-1zM136.5 375h1v1h-1zM148.5 340.5h1v1h-1zM129.5 345h1v1h-1zM110 332.5h1v1h-1zM154 366h1v1h-1zM129.5 372.5h1v1h-1zM83 333.5h1v1h-1zM143 347h1v1h-1zM123 378h1v1h-1zM133.5 351.5h1v1h-1zM143 356.5h1v1h-1zM106 316.5h1v1h-1zM135 361.5h1v1h-1zM117 322h1v1h-1zM120 318.5h1v1h-1zM128 331h1v1h-1zM127 375.5h1v1h-1zM132 301h1v1h-1zM139 349h1v1h-1zM136.5 352h1v1h-1zM139.5 366h1v1h-1zM151.5 331.5h1v1h-1zM128.5 375.5h1v1h-1zM134 374.5h1v1h-1zM148.5 362.5h1v1h-1zM148.5 362h1v1h-1zM124 338h1v1h-1zM122.5 318.5h1v1h-1zM94.5 336h1v1h-1zM74 337h1v1h-1zM128 317.5h1v1h-1zM140 300.5h1v1h-1zM109 331h1v1h-1zM109 331.5h1v1h-1zM117 344h1v1h-1zM109 340h1v1h-1zM109 340.5h1v1h-1zM130 372.5h1v1h-1zM128.5 352.5h1v1h-1zM150 359h1v1h-1zM151.5 326.5h1v1h-1zM162 351h1v1h-1zM158 308h1v1h-1zM124 315h1v1h-1zM71.5 339h1v1h-1zM110.5 321.5h1v1h-1zM154.5 373h1v1h-1zM85 341h1v1h-1zM109 326.5h1v1h-1zM72.5 339.5h1v1h-1zM159.5 353.5h1v1h-1zM108.5 378h1v1h-1zM147.5 360h1v1h-1zM142 350h1v1h-1zM101 321.5h1v1h-1zM131 322h1v1h-1zM113.5 322h1v1h-1zM98.5 333h1v1h-1zM90.5 329h1v1h-1zM153.5 367h1v1h-1zM109.5 342h1v1h-1zM121.5 344.5h1v1h-1zM134.5 372h1v1h-1zM125.5 314h1v1h-1zM154.5 359.5h1v1h-1zM146.5 364.5h1v1h-1zM145 369h1v1h-1zM137 374h1v1h-1z" fill="#384898" opacity="0.6"/>
<path d="M135.5 354.5h1v1h-1zM135.5 354h1v1h-1zM116.5 377.5h1v1h-1zM134 332h1v1h-1zM78 342.5h1v1h-1zM96 378h1v1h-1zM132.5 330h1v1h-1zM142.5 362h1v1h-1zM134.5 358.5h1v1h-1zM135 332.5h1v1h-1zM145 364.5h1v1h-1zM145 364h1v1h-1zM137 369.5h1v1h-1zM149 334h1v1h-1zM130 348h1v1h-1zM116.5 354h1v1h-1zM130 366.5h1v1h-1zM154 305h1v1h-1zM86.5 340h1v1h-1zM119 347h1v1h-1zM133 358h1v1h-1zM146 337h1v1h-1zM133 367h1v1h-1zM77 377.5h1v1h-1zM90.5 337.5h1v1h-1zM131.5 365.5h1v1h-1zM129.5 306h1v1h-1zM129 365.5h1v1h-1zM132.5 320.5h1v1h-1zM130.5 350h1v1h-1zM141 357h1v1h-1zM81 342h1v1h-1zM123.5 347h1v1h-1zM115.5 343.5h1v1h-1zM115.5 343h1v1h-1zM137.5 367h1v1h-1zM117 377.5h1v1h-1zM130 356.5h1v1h-1zM126.5 366.5h1v1h-1zM119.5 345h1v1h-1zM133 348h1v1h-1zM131.5 319h1v1h-1zM115.5 347h1v1h-1zM114 352.5h1v1h-1zM137 363h1v1h-1zM150 320h1v1h-1zM99 336h1v1h-1zM114.5 378.5h1v1h-1zM153 316.5h1v1h-1zM150 320.5h1v1h-1zM120 377.5h1v1h-1zM138.5 363.5h1v1h-1zM131.5 305h1v1h-1zM130.5 349h1v1h-1zM133.5 369h1v1h-1zM94 378.5h1v1h-1zM137.5 357h1v1h-1zM128 358h1v1h-1zM137.5 366.5h1v1h-1zM142 302h1v1h-1zM128 367h1v1h-1zM126.5 347.5h1v1h-1zM72.5 376h1v1h-1zM72.5 376.5h1v1h-1zM118.5 343h1v1h-1zM99.5 339.5h1v1h-1zM129 359h1v1h-1zM132 355.5h1v1h-1zM132 364h1v1h-1zM134.5 333h1v1h-1zM100.5 340.5h1v1h-1zM156 312h1v1h-1zM113 378.5h1v1h-1zM91 341h1v1h-1zM103 342h1v1h-1zM125.5 369h1v1h-1zM122.5 372.5h1v1h-1zM67 370h1v1h-1zM129 354h1v1h-1zM70 375h1v1h-1zM70 375.5h1v1h-1zM140.5 362h1v1h-1zM132 368h1v1h-1zM111.5 344h1v1h-1zM137 303.5h1v1h-1zM94 341.5h1v1h-1zM133.5 368h1v1h-1zM120 344.5h1v1h-1zM97 378h1v1h-1zM117.5 374.5h1v1h-1zM133 319.5h1v1h-1zM110 344h1v1h-1zM110.5 343.5h1v1h-1zM124 346.5h1v1h-1zM125.5 359.5h1v1h-1zM135 364.5h1v1h-1zM145.5 337.5h1v1h-1zM127 369.5h1v1h-1zM126.5 305h1v1h-1zM128 361.5h1v1h-1zM133 305.5h1v1h-1zM117.5 378h1v1h-1zM70 374h1v1h-1zM140.5 361h1v1h-1zM132.5 366h1v1h-1zM143 336.5h1v1h-1zM94 340h1v1h-1zM127 364h1v1h-1zM114.5 344.5h1v1h-1zM117 347.5h1v1h-1zM97 341h1v1h-1zM120 343h1v1h-1zM89 337.5h1v1h-1zM148 334.5h1v1h-1zM67 346h1v1h-1zM139.5 364.5h1v1h-1zM134.5 304.5h1v1h-1zM134 363.5h1v1h-1zM129.5 365h1v1h-1zM123 371h1v1h-1zM91.5 338h1v1h-1zM125.5 349.5h1v1h-1zM82.5 378h1v1h-1zM82.5 378.5h1v1h-1zM66 349h1v1h-1zM106.5 344.5h1v1h-1zM116.5 376.5h1v1h-1zM107 377.5h1v1h-1zM151 325.5h1v1h-1zM132 321.5h1v1h-1zM120.5 346h1v1h-1zM70 346.5h1v1h-1zM142 362h1v1h-1zM128.5 368.5h1v1h-1zM128.5 368h1v1h-1zM133 304.5h1v1h-1zM119 378.5h1v1h-1zM144.5 303h1v1h-1zM90.5 341.5h1v1h-1zM113.5 343h1v1h-1zM132.5 356.5h1v1h-1zM101.5 341.5h1v1h-1zM135 331h1v1h-1zM90.5 377.5h1v1h-1zM123.5 374.5h1v1h-1zM135 358h1v1h-1zM124.5 348.5h1v1h-1zM135.5 357.5h1v1h-1zM127.5 362h1v1h-1zM138 369.5h1v1h-1zM124.5 375h1v1h-1zM142 339.5h1v1h-1zM66.5 370.5h1v1h-1zM132.5 315.5h1v1h-1zM139.5 363.5h1v1h-1zM142 357.5h1v1h-1zM132.5 324h1v1h-1zM141.5 302h1v1h-1zM90 337h1v1h-1zM90 337.5h1v1h-1zM131 356h1v1h-1zM133.5 325.5h1v1h-1zM143 339h1v1h-1zM137.5 304.5h1v1h-1zM143.5 338.5h1v1h-1zM94.5 342.5h1v1h-1zM127.5 348.5h1v1h-1zM139.5 340.5h1v1h-1zM134 330.5h1v1h-1zM85.5 378.5h1v1h-1zM128.5 358h1v1h-1zM111 346.5h1v1h-1zM142 361.5h1v1h-1zM132.5 319h1v1h-1zM142 361h1v1h-1zM134 357h1v1h-1zM70.5 344h1v1h-1zM132.5 328.5h1v1h-1zM140.5 341.5h1v1h-1zM113.5 342h1v1h-1zM131.5 368.5h1v1h-1zM115.5 378h1v1h-1zM130 355h1v1h-1zM126 366.5h1v1h-1zM105.5 342h1v1h-1zM142 356.5h1v1h-1zM92 337.5h1v1h-1zM133 365h1v1h-1zM134.5 369.5h1v1h-1zM125.5 311h1v1h-1zM155.5 311.5h1v1h-1zM66 347.5h1v1h-1zM66 347h1v1h-1zM130 350h1v1h-1zM138 363h1v1h-1zM134 329.5h1v1h-1zM118 375h1v1h-1zM86.5 342.5h1v1h-1zM89.5 338h1v1h-1zM68 374.5h1v1h-1zM92 341h1v1h-1zM130.5 366h1v1h-1zM134.5 364h1v1h-1zM133 369h1v1h-1zM146.5 329h1v1h-1zM146.5 338.5h1v1h-1zM77.5 378h1v1h-1zM69.5 374.5h1v1h-1zM142 301h1v1h-1zM106 378.5h1v1h-1zM72 376h1v1h-1zM148.5 303.5h1v1h-1zM138.5 366.5h1v1h-1zM126.5 364h1v1h-1zM105.5 341.5h1v1h-1zM119 344h1v1h-1zM141 341.5h1v1h-1zM118.5 378h1v1h-1zM124 306.5h1v1h-1zM124 306h1v1h-1zM134.5 368.5h1v1h-1zM137 334h1v1h-1zM124.5 305.5h1v1h-1zM114 341.5h1v1h-1zM114 341h1v1h-1zM137 370.5h1v1h-1zM99 334h1v1h-1zM130 349.5h1v1h-1zM154.5 305h1v1h-1zM111.5 343.5h1v1h-1zM111.5 343h1v1h-1zM133 350.5h1v1h-1zM133 359h1v1h-1zM69.5 346h1v1h-1zM134.5 363h1v1h-1zM131.5 348h1v1h-1zM125 373h1v1h-1zM112.5 344.5h1v1h-1zM137.5 364h1v1h-1zM138.5 338h1v1h-1zM88 338h1v1h-1zM121 344.5h1v1h-1zM126.5 363.5h1v1h-1zM118.5 377h1v1h-1zM107.5 377h1v1h-1zM154.5 309.5h1v1h-1zM98 378h1v1h-1zM156 310.5h1v1h-1zM133.5 353.5h1v1h-1zM128 369.5h1v1h-1zM88 342.5h1v1h-1zM68 345.5h1v1h-1zM118.5 354h1v1h-1zM79 378h1v1h-1zM131.5 320.5h1v1h-1zM121.5 374h1v1h-1zM131.5 320h1v1h-1zM141.5 361h1v1h-1zM143.5 303h1v1h-1zM95 340.5h1v1h-1zM137.5 336.5h1v1h-1zM102.5 378.5h1v1h-1zM136 368.5h1v1h-1zM88.5 336h1v1h-1zM131.5 306h1v1h-1zM65.5 370h1v1h-1zM91 338h1v1h-1zM92.5 342.5h1v1h-1zM141.5 356h1v1h-1zM135 362.5h1v1h-1zM110.5 377.5h1v1h-1zM149.5 305.5h1v1h-1zM114.5 347.5h1v1h-1zM94.5 378h1v1h-1zM106.5 343.5h1v1h-1zM106.5 343h1v1h-1zM83.5 378.5h1v1h-1zM120 346h1v1h-1zM120 373h1v1h-1zM99.5 340.5h1v1h-1zM132 347h1v1h-1zM79 341h1v1h-1zM125 308h1v1h-1zM133.5 329h1v1h-1zM145.5 303.5h1v1h-1zM102.5 341.5h1v1h-1zM124 348h1v1h-1zM133.5 356.5h1v1h-1zM116 353.5h1v1h-1zM126 308.5h1v1h-1zM93 378h1v1h-1zM128.5 353.5h1v1h-1zM139.5 362h1v1h-1zM99.5 335.5h1v1h-1zM134 370.5h1v1h-1zM111 377.5h1v1h-1zM131 355.5h1v1h-1zM129.5 363.5h1v1h-1zM70.5 375h1v1h-1zM133.5 324.5h1v1h-1zM156 308h1v1h-1zM91 337h1v1h-1zM127 348.5h1v1h-1zM128 313h1v1h-1zM108 344h1v1h-1zM143.5 364h1v1h-1zM136 335.5h1v1h-1zM126.5 311h1v1h-1zM136 353.5h1v1h-1zM128.5 348h1v1h-1zM74.5 377h1v1h-1zM139.5 357h1v1h-1zM139.5 357.5h1v1h-1zM134 356h1v1h-1zM125 307.5h1v1h-1zM67.5 374h1v1h-1zM132.5 354h1v1h-1zM132.5 354.5h1v1h-1zM141.5 341.5h1v1h-1zM144.5 337h1v1h-1zM104 378h1v1h-1zM127 361h1v1h-1zM147 339h1v1h-1zM148 304.5h1v1h-1zM148 304h1v1h-1zM126.5 306.5h1v1h-1zM130 363h1v1h-1zM136.5 356.5h1v1h-1zM139.5 361h1v1h-1zM113.5 345.5h1v1h-1zM115 346.5h1v1h-1zM123.5 376h1v1h-1zM127 347h1v1h-1zM127 347.5h1v1h-1zM124.5 350h1v1h-1zM127.5 346h1v1h-1zM127.5 355h1v1h-1zM126 360.5h1v1h-1zM139 339h1v1h-1zM130 358.5h1v1h-1zM127.5 364h1v1h-1zM140 304h1v1h-1zM130 367.5h1v1h-1zM89 338h1v1h-1zM132 318.5h1v1h-1zM97.5 341.5h1v1h-1zM76 377.5h1v1h-1zM121.5 317.5h1v1h-1zM134 355h1v1h-1zM119 375.5h1v1h-1zM67.5 373h1v1h-1zM125.5 305h1v1h-1zM131 358.5h1v1h-1zM133.5 318.5h1v1h-1zM73 344h1v1h-1zM135 328.5h1v1h-1zM131.5 366.5h1v1h-1zM143.5 340h1v1h-1zM128 307h1v1h-1z" fill="#384898" opacity="0.7"/>
<path d="M93 355h1v1h-1zM93 355.5h1v1h-1zM91 354h1v1h-1zM92.5 355.5h1v1h-1zM92.5 355h1v1h-1zM93 357h1v1h-1zM93.5 356h1v1h-1zM94 356h1v1h-1zM94 356.5h1v1h-1zM90.5 354h1v1h-1zM90.5 354.5h1v1h-1zM87 353h1v1h-1zM86.5 353.5h1v1h-1zM86.5 353h1v1h-1zM93 356h1v1h-1zM93 356.5h1v1h-1zM94 355.5h1v1h-1zM93.5 355h1v1h-1zM93.5 355.5h1v1h-1z" fill="#38a858" opacity="1.0"/>
<path d="M94 357h1v1h-1zM74 354.5h1v1h-1zM94 366h1v1h-1zM93.5 357.5h1v1h-1zM93.5 357h1v1h-1zM94 366.5h1v1h-1zM93.5 366h1v1h-1zM88 365.5h1v1h-1zM88 365h1v1h-1zM73 355.5h1v1h-1zM73 355h1v1h-1zM72.5 355h1v1h-1zM72.5 355.5h1v1h-1zM87.5 353h1v1h-1zM94 359h1v1h-1zM94 359.5h1v1h-1zM93.5 359h1v1h-1zM93.5 359.5h1v1h-1zM83 352h1v1h-1zM78 365h1v1h-1zM94 361h1v1h-1zM96 355.5h1v1h-1zM96 355h1v1h-1zM93.5 361h1v1h-1zM90.5 365h1v1h-1zM90.5 365.5h1v1h-1zM80.5 351h1v1h-1zM80.5 351.5h1v1h-1zM94 354h1v1h-1zM94 354.5h1v1h-1zM93.5 354.5h1v1h-1zM93.5 354h1v1h-1zM93.5 363h1v1h-1zM88 353h1v1h-1zM95 358.5h1v1h-1zM95 358h1v1h-1zM80 366.5h1v1h-1zM80 366h1v1h-1zM94.5 355.5h1v1h-1zM76 353h1v1h-1zM76 353.5h1v1h-1zM82 366.5h1v1h-1zM95.5 356.5h1v1h-1zM95.5 356h1v1h-1zM72.5 363h1v1h-1zM89 353h1v1h-1zM89 353.5h1v1h-1zM93.5 358h1v1h-1zM93.5 358.5h1v1h-1zM94.5 357.5h1v1h-1zM94.5 357h1v1h-1zM75.5 353h1v1h-1zM75.5 353.5h1v1h-1zM76 364h1v1h-1zM92 354h1v1h-1zM92 354.5h1v1h-1zM94.5 359h1v1h-1zM94.5 359.5h1v1h-1zM94 363.5h1v1h-1zM94 363h1v1h-1zM75.5 364h1v1h-1zM75.5 364.5h1v1h-1zM95 355.5h1v1h-1zM95 355h1v1h-1zM96 356.5h1v1h-1zM96 356h1v1h-1zM93 366.5h1v1h-1zM95 357h1v1h-1zM95 357.5h1v1h-1zM79.5 366.5h1v1h-1zM79.5 366h1v1h-1zM73 363.5h1v1h-1zM94.5 354h1v1h-1zM94 358.5h1v1h-1zM92.5 366h1v1h-1zM88.5 353.5h1v1h-1zM88.5 353h1v1h-1zM81 351h1v1h-1zM81 351.5h1v1h-1zM95 359.5h1v1h-1zM78 352.5h1v1h-1zM78 352h1v1h-1zM77.5 352h1v1h-1zM77.5 352.5h1v1h-1zM94.5 356h1v1h-1zM94.5 356.5h1v1h-1zM94 360.5h1v1h-1zM80.5 366.5h1v1h-1zM80.5 366h1v1h-1zM73.5 354h1v1h-1zM93 354h1v1h-1zM87.5 365.5h1v1h-1zM87.5 365h1v1h-1zM93.5 362.5h1v1h-1zM95 354.5h1v1h-1zM92.5 354.5h1v1h-1zM92.5 354h1v1h-1zM77.5 365.5h1v1h-1zM77.5 365h1v1h-1zM82.5 352.5h1v1h-1zM95 356.5h1v1h-1z" fill="#38a868" opacity="1.0"/>
<path d="M78.5 366h1v1h-1zM94.5 365.5h1v1h-1zM90 353.5h1v1h-1zM94.5 365h1v1h-1zM72 356.5h1v1h-1zM72 356h1v1h-1zM95.5 357.5h1v1h-1zM95.5 357h1v1h-1zM92 353.5h1v1h-1zM92 353h1v1h-1zM91.5 353h1v1h-1zM75 364h1v1h-1zM74.5 364h1v1h-1zM82 351.5h1v1h-1zM95.5 359.5h1v1h-1zM95.5 359h1v1h-1zM95 363h1v1h-1zM89 365h1v1h-1zM94.5 360.5h1v1h-1zM85.5 366h1v1h-1zM85.5 366.5h1v1h-1zM79 366.5h1v1h-1zM95 365.5h1v1h-1zM95 365h1v1h-1zM92 366h1v1h-1zM94.5 353h1v1h-1zM96 357h1v1h-1zM94.5 362h1v1h-1zM94.5 362.5h1v1h-1zM95.5 354h1v1h-1zM97 355h1v1h-1zM97 355.5h1v1h-1zM96 359h1v1h-1zM96 359.5h1v1h-1zM94.5 364h1v1h-1zM94.5 364.5h1v1h-1zM71.5 356h1v1h-1zM71.5 356.5h1v1h-1zM95 360.5h1v1h-1zM95 360h1v1h-1zM86 366.5h1v1h-1zM86 366h1v1h-1zM93 353h1v1h-1zM93 353.5h1v1h-1zM83.5 366.5h1v1h-1zM90.5 353h1v1h-1zM90.5 353.5h1v1h-1zM88.5 365h1v1h-1zM95 353h1v1h-1zM95 362.5h1v1h-1zM95 362h1v1h-1zM73.5 364.5h1v1h-1zM92.5 353h1v1h-1zM92.5 353.5h1v1h-1zM96 354.5h1v1h-1zM95 364h1v1h-1zM72 362.5h1v1h-1zM95 364.5h1v1h-1zM72 362h1v1h-1zM93.5 353.5h1v1h-1zM83.5 352.5h1v1h-1zM89.5 365h1v1h-1zM89.5 365.5h1v1h-1zM94.5 361h1v1h-1zM94.5 361.5h1v1h-1zM96.5 355.5h1v1h-1zM96.5 355h1v1h-1zM97 354h1v1h-1zM97 354.5h1v1h-1zM84 366.5h1v1h-1zM91 353.5h1v1h-1zM91 353h1v1h-1zM94.5 363.5h1v1h-1zM94.5 363h1v1h-1zM74 364.5h1v1h-1zM74 364h1v1h-1zM97 356.5h1v1h-1zM95.5 358.5h1v1h-1zM97.5 355h1v1h-1zM97.5 355.5h1v1h-1zM85 366h1v1h-1zM85 366.5h1v1h-1zM84.5 366.5h1v1h-1zM84 352h1v1h-1zM84 352.5h1v1h-1zM90 365.5h1v1h-1zM95 361h1v1h-1zM82.5 366.5h1v1h-1zM82.5 366h1v1h-1zM87 366h1v1h-1zM87 366.5h1v1h-1zM89.5 353.5h1v1h-1zM89.5 353h1v1h-1zM86.5 366.5h1v1h-1zM86.5 366h1v1h-1zM94 353.5h1v1h-1zM94 353h1v1h-1zM96.5 354h1v1h-1zM96.5 354.5h1v1h-1zM96 358h1v1h-1zM96 358.5h1v1h-1zM98 355h1v1h-1z" fill="#38a878" opacity="1.0"/>
<path d="M78.5 351.5h1v1h-1zM78.5 351h1v1h-1zM70.5 359.5h1v1h-1zM75 353.5h1v1h-1zM98 354h1v1h-1zM74.5 353.5h1v1h-1zM96 360h1v1h-1zM96 360.5h1v1h-1zM93 367.5h1v1h-1zM74.5 353h1v1h-1zM76.5 365h1v1h-1zM73 364.5h1v1h-1zM97.5 354h1v1h-1zM71.5 363.5h1v1h-1zM71.5 363h1v1h-1zM95.5 360h1v1h-1zM72.5 364.5h1v1h-1zM72.5 364h1v1h-1zM97.5 354.5h1v1h-1zM91 366.5h1v1h-1zM91 366h1v1h-1zM96 353h1v1h-1zM96 353.5h1v1h-1zM98 356.5h1v1h-1zM92.5 367h1v1h-1zM96.5 358.5h1v1h-1zM98 356h1v1h-1zM92.5 367.5h1v1h-1zM96.5 358h1v1h-1zM71 360h1v1h-1zM71 360.5h1v1h-1zM90.5 366h1v1h-1zM90.5 366.5h1v1h-1zM95.5 353.5h1v1h-1zM95 366h1v1h-1zM97.5 356h1v1h-1zM97 357h1v1h-1zM85 352.5h1v1h-1zM70.5 360h1v1h-1zM84.5 352.5h1v1h-1zM84.5 352h1v1h-1zM94 367.5h1v1h-1zM96.5 357h1v1h-1zM96.5 357.5h1v1h-1zM79 351h1v1h-1zM93.5 367h1v1h-1zM79 351.5h1v1h-1zM93.5 367.5h1v1h-1zM71 359h1v1h-1zM72 363h1v1h-1zM72 363.5h1v1h-1z" fill="#38a888" opacity="1.0"/>
<path d="M92 357h1v1h-1zM91 355.5h1v1h-1zM91 355h1v1h-1zM92 357.5h1v1h-1zM91.5 357.5h1v1h-1zM93 361.5h1v1h-1zM76.5 353h1v1h-1zM82 352.5h1v1h-1zM90.5 355.5h1v1h-1zM81.5 352h1v1h-1zM81.5 352.5h1v1h-1zM92.5 361.5h1v1h-1zM92.5 361h1v1h-1zM93 360h1v1h-1zM93 360.5h1v1h-1zM79 352.5h1v1h-1zM79 352h1v1h-1zM76.5 364.5h1v1h-1zM76.5 364h1v1h-1zM72.5 362.5h1v1h-1zM78.5 352h1v1h-1zM78.5 352.5h1v1h-1zM92 364h1v1h-1zM92 364.5h1v1h-1zM93 359.5h1v1h-1zM93 359h1v1h-1zM92.5 360.5h1v1h-1zM91.5 364.5h1v1h-1zM91.5 364h1v1h-1zM73 362.5h1v1h-1zM77 353.5h1v1h-1z" fill="#38b848" opacity="1.0"/>
<path d="M93 358h1v1h-1zM91 364h1v1h-1zM91 364.5h1v1h-1zM92.5 362.5h1v1h-1zM93 364.5h1v1h-1zM92.5 365.5h1v1h-1zM85.5 353h1v1h-1zM85.5 353.5h1v1h-1zM92.5 365h1v1h-1zM86 353.5h1v1h-1zM74 363.5h1v1h-1zM88.5 364h1v1h-1zM71.5 357h1v1h-1zM90.5 364h1v1h-1zM73.5 363.5h1v1h-1zM73.5 363h1v1h-1zM92 365.5h1v1h-1zM91.5 356.5h1v1h-1zM92 356.5h1v1h-1zM91.5 356h1v1h-1zM93 363h1v1h-1zM84.5 353.5h1v1h-1zM84.5 353h1v1h-1zM92.5 364.5h1v1h-1zM85 353.5h1v1h-1zM92.5 364h1v1h-1zM94 365h1v1h-1zM91.5 365h1v1h-1zM91.5 365.5h1v1h-1zM93.5 365.5h1v1h-1zM92.5 358h1v1h-1zM85 353h1v1h-1zM94 365.5h1v1h-1zM93.5 365h1v1h-1zM90 364h1v1h-1zM90 364.5h1v1h-1zM72 361h1v1h-1zM72 361.5h1v1h-1zM87 365.5h1v1h-1zM92 355.5h1v1h-1zM89.5 364h1v1h-1zM91.5 355.5h1v1h-1zM86.5 365h1v1h-1zM91.5 355h1v1h-1zM89.5 364.5h1v1h-1zM94 364h1v1h-1zM94 364.5h1v1h-1zM93 362.5h1v1h-1zM92.5 363h1v1h-1zM92.5 363.5h1v1h-1zM93 365h1v1h-1zM93 365.5h1v1h-1zM90 354.5h1v1h-1zM93.5 364h1v1h-1zM93.5 364.5h1v1h-1zM92.5 358.5h1v1h-1zM71.5 361h1v1h-1zM71.5 361.5h1v1h-1zM86 353h1v1h-1zM89.5 354.5h1v1h-1z" fill="#38b858" opacity="1.0"/>
<path d="M129 336.5h1v1h-1zM95 322h1v1h-1zM158.5 365h1v1h-1zM159 334.5h1v1h-1zM102 327h1v1h-1zM163 377.5h1v1h-1zM109.5 310.5h1v1h-1zM114.5 306.5h1v1h-1zM98.5 319.5h1v1h-1zM157 299.5h1v1h-1zM101.5 324h1v1h-1zM167 349.5h1v1h-1zM67 335h1v1h-1zM160.5 376.5h1v1h-1zM78.5 334.5h1v1h-1zM150.5 350h1v1h-1zM66.5 378h1v1h-1zM135 298h1v1h-1zM145 348.5h1v1h-1zM78.5 336.5h1v1h-1zM112 308.5h1v1h-1zM154 378h1v1h-1zM166.5 348h1v1h-1zM122 327h1v1h-1zM125.5 341.5h1v1h-1zM156.5 346h1v1h-1zM87 333.5h1v1h-1zM86.5 324h1v1h-1zM92 323h1v1h-1zM80.5 326.5h1v1h-1zM165 316.5h1v1h-1zM150.5 299h1v1h-1zM101.5 312h1v1h-1zM155.5 322h1v1h-1zM95 312.5h1v1h-1zM154.5 333h1v1h-1zM142.5 377h1v1h-1zM157.5 304h1v1h-1zM148 378h1v1h-1zM114 318.5h1v1h-1zM134.5 293.5h1v1h-1zM110 314.5h1v1h-1zM164 358.5h1v1h-1zM157.5 315h1v1h-1zM146.5 349h1v1h-1zM116 318h1v1h-1zM92.5 314.5h1v1h-1zM118.5 305h1v1h-1zM153.5 336.5h1v1h-1zM166.5 302.5h1v1h-1zM87 321.5h1v1h-1zM160.5 368.5h1v1h-1zM138.5 377.5h1v1h-1zM121 310h1v1h-1zM152 343h1v1h-1zM162.5 325h1v1h-1zM123.5 324.5h1v1h-1zM156 331h1v1h-1zM154 343.5h1v1h-1zM68 337.5h1v1h-1zM170.5 356h1v1h-1zM164.5 370h1v1h-1zM83.5 336.5h1v1h-1zM159 323.5h1v1h-1zM150.5 374.5h1v1h-1zM119 323.5h1v1h-1zM126.5 297.5h1v1h-1zM97.5 325h1v1h-1zM89 325.5h1v1h-1zM156.5 350h1v1h-1zM109 306.5h1v1h-1zM154 338h1v1h-1zM151 348h1v1h-1zM141.5 373.5h1v1h-1zM95.5 330h1v1h-1zM165 301h1v1h-1zM86 331h1v1h-1zM124 333h1v1h-1zM93.5 332h1v1h-1zM154 322.5h1v1h-1zM117 303h1v1h-1zM157.5 344.5h1v1h-1zM88 331.5h1v1h-1zM83 316h1v1h-1zM80 326.5h1v1h-1zM139.5 347.5h1v1h-1zM126 332.5h1v1h-1zM133 292.5h1v1h-1zM161 308.5h1v1h-1zM161.5 362.5h1v1h-1zM107.5 336.5h1v1h-1zM149 291.5h1v1h-1zM100 316h1v1h-1zM143 378.5h1v1h-1zM165.5 295.5h1v1h-1zM92.5 320h1v1h-1zM76 315h1v1h-1zM163 320.5h1v1h-1zM94.5 326.5h1v1h-1z" fill="#484898" opacity="0.6"/>
<path d="M86 365h1v1h-1zM83.5 365h1v1h-1zM83.5 365.5h1v1h-1zM91 363.5h1v1h-1zM89 363.5h1v1h-1zM92 362h1v1h-1zM89 363h1v1h-1zM92 362.5h1v1h-1zM91 363h1v1h-1zM91.5 362h1v1h-1zM91.5 362.5h1v1h-1zM88.5 354.5h1v1h-1zM88.5 354h1v1h-1zM84.5 365.5h1v1h-1zM90 355.5h1v1h-1zM81 352h1v1h-1zM81 352.5h1v1h-1zM87.5 364.5h1v1h-1zM87.5 364h1v1h-1zM84 365h1v1h-1zM84 365.5h1v1h-1zM89.5 363.5h1v1h-1zM83.5 353.5h1v1h-1zM83.5 353h1v1h-1zM73 361h1v1h-1zM73 361.5h1v1h-1zM72.5 361.5h1v1h-1zM72.5 361h1v1h-1zM92 359.5h1v1h-1zM91.5 359h1v1h-1zM91.5 359.5h1v1h-1zM85 365.5h1v1h-1zM88 364.5h1v1h-1zM85 365h1v1h-1zM88 364h1v1h-1zM88.5 363.5h1v1h-1zM88.5 363h1v1h-1zM72 358h1v1h-1zM72 358.5h1v1h-1zM78 353h1v1h-1zM78 353.5h1v1h-1zM91.5 361.5h1v1h-1zM91.5 361h1v1h-1zM74.5 354h1v1h-1zM74.5 363.5h1v1h-1zM74.5 363h1v1h-1zM84 353h1v1h-1zM90.5 362h1v1h-1zM72.5 356h1v1h-1zM71.5 358h1v1h-1zM71.5 358.5h1v1h-1zM72 360.5h1v1h-1zM87.5 354h1v1h-1zM73.5 355h1v1h-1zM72 360h1v1h-1zM84 353.5h1v1h-1zM91.5 363h1v1h-1zM91.5 363.5h1v1h-1zM71.5 360h1v1h-1zM78.5 365.5h1v1h-1zM90.5 357h1v1h-1zM82.5 353.5h1v1h-1zM82.5 353h1v1h-1zM91.5 358.5h1v1h-1zM91.5 358h1v1h-1zM91 362.5h1v1h-1zM91 362h1v1h-1zM92 361h1v1h-1zM92 361.5h1v1h-1zM74 355.5h1v1h-1zM88 354h1v1h-1zM88 354.5h1v1h-1zM74 355h1v1h-1zM75 363h1v1h-1zM75 363.5h1v1h-1zM90 363h1v1h-1zM73 356.5h1v1h-1zM92 363.5h1v1h-1zM92 363h1v1h-1zM79.5 352h1v1h-1zM85.5 365h1v1h-1zM85.5 365.5h1v1h-1zM79 365h1v1h-1zM79 365.5h1v1h-1zM72 359h1v1h-1zM72 359.5h1v1h-1zM89 354h1v1h-1zM91 357h1v1h-1zM91 357.5h1v1h-1zM83 353.5h1v1h-1zM90.5 363.5h1v1h-1zM71.5 359.5h1v1h-1zM89.5 355.5h1v1h-1zM89.5 355h1v1h-1zM80.5 352.5h1v1h-1zM80.5 352h1v1h-1zM92 358.5h1v1h-1zM90.5 356h1v1h-1zM90.5 356.5h1v1h-1z" fill="#48b848" opacity="1.0"/>
<path d="M87.5 363.5h1v1h-1zM87.5 363h1v1h-1zM78.5 353h1v1h-1zM73 360h1v1h-1zM88 363.5h1v1h-1zM88.5 362h1v1h-1zM88.5 362.5h1v1h-1zM73 360.5h1v1h-1zM78.5 353.5h1v1h-1zM72.5 360.5h1v1h-1zM79 353.5h1v1h-1zM79 353h1v1h-1zM89 362.5h1v1h-1z" fill="#58b838" opacity="1.0"/>
<path d="M78 364.5h1v1h-1zM82 365h1v1h-1zM78 364h1v1h-1zM86.5 364h1v1h-1zM92 360h1v1h-1zM91 358.5h1v1h-1zM77.5 364h1v1h-1zM77.5 364.5h1v1h-1zM85 354h1v1h-1zM91 361h1v1h-1zM91.5 360.5h1v1h-1zM76 354.5h1v1h-1zM84.5 354.5h1v1h-1zM84.5 354h1v1h-1zM76 354h1v1h-1zM91.5 360h1v1h-1zM90 356.5h1v1h-1zM90 356h1v1h-1zM91 358h1v1h-1zM88.5 355.5h1v1h-1zM90 362h1v1h-1zM90.5 361h1v1h-1zM90 362.5h1v1h-1zM87 364h1v1h-1zM90.5 358.5h1v1h-1zM87 354.5h1v1h-1zM90.5 361.5h1v1h-1zM90.5 358h1v1h-1zM81 365h1v1h-1zM81 365.5h1v1h-1zM86.5 354.5h1v1h-1zM89.5 356h1v1h-1zM89.5 356.5h1v1h-1zM89.5 362.5h1v1h-1zM89.5 362h1v1h-1zM75.5 354.5h1v1h-1zM75.5 354h1v1h-1zM80.5 365h1v1h-1zM83 365h1v1h-1zM74 362.5h1v1h-1zM80.5 365.5h1v1h-1zM74 362h1v1h-1zM83 365.5h1v1h-1zM92 360.5h1v1h-1zM75.5 363.5h1v1h-1zM86.5 364.5h1v1h-1zM73 357.5h1v1h-1zM89 355h1v1h-1zM86 354.5h1v1h-1zM89 355.5h1v1h-1zM86 354h1v1h-1zM72.5 357.5h1v1h-1zM82.5 365.5h1v1h-1zM73.5 362.5h1v1h-1zM82.5 365h1v1h-1zM80 365.5h1v1h-1zM85.5 354.5h1v1h-1zM79.5 365.5h1v1h-1zM82 353h1v1h-1zM82 353.5h1v1h-1zM81.5 353h1v1h-1zM82 365.5h1v1h-1zM79.5 365h1v1h-1zM81.5 365h1v1h-1z" fill="#58b848" opacity="1.0"/>
<path d="M89.5 357h1v1h-1zM73.5 361.5h1v1h-1zM75 362h1v1h-1zM75 362.5h1v1h-1zM74.5 362.5h1v1h-1zM88.5 361.5h1v1h-1zM74.5 362h1v1h-1zM88.5 361h1v1h-1zM81 353h1v1h-1zM81 353.5h1v1h-1zM72.5 358.5h1v1h-1zM73 358h1v1h-1zM73 358.5h1v1h-1zM72.5 358h1v1h-1zM86 364h1v1h-1zM86 364.5h1v1h-1zM80.5 353h1v1h-1zM91 360h1v1h-1zM80.5 353.5h1v1h-1zM89 361h1v1h-1zM75 355.5h1v1h-1zM75 355h1v1h-1zM91 360.5h1v1h-1zM74 356h1v1h-1zM88 355h1v1h-1zM74.5 355h1v1h-1zM74.5 355.5h1v1h-1zM85.5 364h1v1h-1zM90 361h1v1h-1zM85.5 364.5h1v1h-1zM84 354.5h1v1h-1zM90.5 360.5h1v1h-1zM73.5 356h1v1h-1zM90.5 360h1v1h-1zM73.5 356.5h1v1h-1zM77 354.5h1v1h-1zM87.5 355.5h1v1h-1zM87.5 355h1v1h-1zM77 363.5h1v1h-1zM72.5 359.5h1v1h-1zM80 353.5h1v1h-1zM89.5 361.5h1v1h-1zM77 363h1v1h-1zM89.5 361h1v1h-1zM80 353h1v1h-1zM91 359h1v1h-1zM83.5 354h1v1h-1zM74 361h1v1h-1zM74 361.5h1v1h-1zM76.5 354.5h1v1h-1zM90 357.5h1v1h-1zM90 357h1v1h-1zM79.5 353.5h1v1h-1zM90.5 359h1v1h-1zM79.5 353h1v1h-1zM90.5 359.5h1v1h-1zM73 359h1v1h-1zM73 359.5h1v1h-1zM73.5 361h1v1h-1zM72.5 359h1v1h-1zM89 361.5h1v1h-1z" fill="#68b838" opacity="1.0"/>
<path d="M83 354h1v1h-1zM83 354.5h1v1h-1zM89.5 360h1v1h-1zM89.5 360.5h1v1h-1zM82.5 354.5h1v1h-1zM82.5 354h1v1h-1zM86.5 363h1v1h-1zM87 363.5h1v1h-1zM87.5 362.5h1v1h-1zM87.5 362h1v1h-1zM86.5 363.5h1v1h-1zM87 363h1v1h-1zM79 364h1v1h-1zM79 364.5h1v1h-1zM89 356.5h1v1h-1zM89 356h1v1h-1zM78.5 364.5h1v1h-1zM78.5 364h1v1h-1zM85 364.5h1v1h-1zM88.5 356.5h1v1h-1zM88.5 356h1v1h-1zM85 364h1v1h-1zM84.5 364h1v1h-1zM90 360h1v1h-1zM90 360.5h1v1h-1z" fill="#68c838" opacity="1.0"/>
<path d="M74 357h1v1h-1zM74 357.5h1v1h-1zM75.5 355.5h1v1h-1zM74 360h1v1h-1zM74 360.5h1v1h-1zM75.5 355h1v1h-1zM90 359h1v1h-1zM90 359.5h1v1h-1zM88 361h1v1h-1zM73.5 357.5h1v1h-1zM73.5 357h1v1h-1zM78 354.5h1v1h-1zM86 355h1v1h-1zM84 364.5h1v1h-1zM73.5 360h1v1h-1zM73.5 360.5h1v1h-1zM84 364h1v1h-1zM77.5 354h1v1h-1zM78 354h1v1h-1zM89 360h1v1h-1zM89.5 359h1v1h-1zM89.5 359.5h1v1h-1zM77.5 363h1v1h-1zM77.5 363.5h1v1h-1zM78 363.5h1v1h-1zM86.5 355.5h1v1h-1zM77.5 354.5h1v1h-1zM89 360.5h1v1h-1zM83.5 364h1v1h-1zM74.5 361.5h1v1h-1zM75 361h1v1h-1zM75 361.5h1v1h-1zM74.5 361h1v1h-1zM76 362h1v1h-1zM76 362.5h1v1h-1zM88 361.5h1v1h-1zM85.5 355h1v1h-1zM90 358.5h1v1h-1zM87 355h1v1h-1zM88.5 360.5h1v1h-1zM90 358h1v1h-1zM88.5 360h1v1h-1zM85.5 355.5h1v1h-1zM87.5 361h1v1h-1zM87.5 361.5h1v1h-1zM76 355h1v1h-1zM75.5 362.5h1v1h-1zM75.5 362h1v1h-1zM87 355.5h1v1h-1zM86.5 355h1v1h-1z" fill="#78c838" opacity="1.0"/>
<path d="M89 358h1v1h-1zM87.5 360.5h1v1h-1zM87.5 360h1v1h-1zM89 358.5h1v1h-1zM73.5 358.5h1v1h-1zM88.5 358h1v1h-1zM88.5 358.5h1v1h-1zM82 364.5h1v1h-1zM82 364h1v1h-1zM81.5 364.5h1v1h-1zM81.5 364h1v1h-1zM74 359h1v1h-1zM73.5 359h1v1h-1zM73.5 359.5h1v1h-1zM74 358h1v1h-1zM74 358.5h1v1h-1zM88 360.5h1v1h-1zM88 360h1v1h-1zM73.5 358h1v1h-1z" fill="#88c828" opacity="1.0"/>
<path d="M80 364.5h1v1h-1zM80 364h1v1h-1zM74.5 356.5h1v1h-1zM74.5 356h1v1h-1zM75 356.5h1v1h-1zM88 356.5h1v1h-1zM88 356h1v1h-1zM79.5 364.5h1v1h-1zM79.5 364h1v1h-1zM89 357.5h1v1h-1zM89 357h1v1h-1zM87.5 356.5h1v1h-1zM88.5 357.5h1v1h-1zM88.5 357h1v1h-1zM81.5 354h1v1h-1zM81.5 354.5h1v1h-1zM86 363.5h1v1h-1zM86 363h1v1h-1zM87 362.5h1v1h-1zM87 362h1v1h-1zM89 359h1v1h-1zM89 359.5h1v1h-1zM86.5 362.5h1v1h-1zM86.5 362h1v1h-1zM85 355.5h1v1h-1zM83 364.5h1v1h-1zM85 355h1v1h-1zM83 364h1v1h-1zM79 354h1v1h-1zM85.5 363.5h1v1h-1zM84.5 355h1v1h-1zM84.5 355.5h1v1h-1zM79 354.5h1v1h-1zM85.5 363h1v1h-1zM82.5 364h1v1h-1zM78.5 354.5h1v1h-1z" fill="#88c838" opacity="1.0"/>
<path d="M87 361.5h1v1h-1zM87 361h1v1h-1zM80.5 354h1v1h-1zM77 362h1v1h-1zM80.5 354.5h1v1h-1zM77 362.5h1v1h-1zM88 359.5h1v1h-1zM76.5 362h1v1h-1zM76.5 362.5h1v1h-1zM84 355.5h1v1h-1zM84 355h1v1h-1zM87.5 359h1v1h-1zM77 355.5h1v1h-1zM80 354h1v1h-1zM80 354.5h1v1h-1zM87.5 359.5h1v1h-1zM77 355h1v1h-1zM83.5 355.5h1v1h-1zM76.5 355.5h1v1h-1zM79.5 354h1v1h-1zM79.5 354.5h1v1h-1zM76.5 355h1v1h-1zM81 364h1v1h-1zM81 364.5h1v1h-1zM86.5 356h1v1h-1zM87 356h1v1h-1zM86.5 356.5h1v1h-1zM80.5 364h1v1h-1zM75 360h1v1h-1zM88 357.5h1v1h-1zM88 357h1v1h-1zM74.5 360.5h1v1h-1zM74.5 360h1v1h-1zM81 354.5h1v1h-1zM81 354h1v1h-1zM87.5 357.5h1v1h-1zM86.5 361h1v1h-1z" fill="#98c828" opacity="1.0"/>
<path d="M78.5 363.5h1v1h-1zM75 359h1v1h-1zM75.5 361h1v1h-1zM74.5 359.5h1v1h-1zM75.5 361.5h1v1h-1zM84.5 363.5h1v1h-1zM85 363.5h1v1h-1zM85 363h1v1h-1zM74.5 359h1v1h-1zM84.5 363h1v1h-1zM88 358h1v1h-1zM88 358.5h1v1h-1zM87.5 358h1v1h-1zM87.5 358.5h1v1h-1zM74.5 357.5h1v1h-1zM76 361.5h1v1h-1zM76 361h1v1h-1zM74.5 357h1v1h-1zM79 363h1v1h-1zM79 363.5h1v1h-1z" fill="#a8c828" opacity="1.0"/>
<path d="M77.5 355.5h1v1h-1zM77.5 355h1v1h-1zM85.5 356.5h1v1h-1zM85.5 356h1v1h-1zM85.5 362h1v1h-1zM76 360.5h1v1h-1zM76 360h1v1h-1zM85.5 362.5h1v1h-1zM87 357.5h1v1h-1zM87 357h1v1h-1zM87 360.5h1v1h-1zM87 360h1v1h-1zM86.5 357h1v1h-1zM86.5 357.5h1v1h-1zM86.5 360h1v1h-1zM86.5 360.5h1v1h-1zM76 356.5h1v1h-1zM76 356h1v1h-1zM75 358.5h1v1h-1zM75 358h1v1h-1zM75.5 360.5h1v1h-1zM75.5 360h1v1h-1zM74.5 358h1v1h-1zM87 359h1v1h-1zM87 359.5h1v1h-1zM84 363.5h1v1h-1zM84 363h1v1h-1zM86.5 359.5h1v1h-1zM86.5 359h1v1h-1zM78 362.5h1v1h-1zM78 362h1v1h-1zM83 355h1v1h-1zM77.5 362h1v1h-1zM77.5 362.5h1v1h-1zM83 355.5h1v1h-1zM83.5 363.5h1v1h-1zM83.5 363h1v1h-1zM75.5 356h1v1h-1zM86 362.5h1v1h-1zM82.5 355.5h1v1h-1zM82.5 355h1v1h-1zM86 356h1v1h-1zM78 355h1v1h-1zM86 362h1v1h-1z" fill="#b8c828" opacity="1.0"/>
<path d="M80 355h1v1h-1zM80 355.5h1v1h-1zM83 363h1v1h-1zM83 363.5h1v1h-1zM82 355.5h1v1h-1zM82 355h1v1h-1zM79.5 355.5h1v1h-1zM79.5 355h1v1h-1zM81.5 355.5h1v1h-1zM81.5 355h1v1h-1zM86 361.5h1v1h-1zM82.5 363.5h1v1h-1zM82.5 363h1v1h-1zM77 361h1v1h-1zM86.5 358.5h1v1h-1zM85 356h1v1h-1zM85 356.5h1v1h-1zM80 363h1v1h-1zM80 363.5h1v1h-1zM84.5 356h1v1h-1zM84.5 356.5h1v1h-1zM85.5 361h1v1h-1zM79 355.5h1v1h-1zM76.5 361h1v1h-1zM76.5 361.5h1v1h-1zM79 355h1v1h-1zM81 355h1v1h-1zM79.5 363h1v1h-1zM79.5 363.5h1v1h-1zM81 355.5h1v1h-1zM78.5 355.5h1v1h-1zM78.5 355h1v1h-1zM80.5 355h1v1h-1zM80.5 355.5h1v1h-1zM86.5 358h1v1h-1zM87 358.5h1v1h-1z" fill="#c8c828" opacity="1.0"/>
<path d="M77 359h1v1h-1zM77 359.5h1v1h-1zM76.5 359h1v1h-1zM76.5 359.5h1v1h-1z" fill="#d8b828" opacity="1.0"/>
<path d="M77.5 361h1v1h-1zM77.5 361.5h1v1h-1zM83.5 356h1v1h-1zM80.5 363h1v1h-1zM80.5 363.5h1v1h-1zM83.5 356.5h1v1h-1zM85.5 359h1v1h-1zM76.5 356.5h1v1h-1zM75.5 358h1v1h-1zM75.5 358.5h1v1h-1zM76 357.5h1v1h-1zM76.5 356h1v1h-1zM76 357h1v1h-1zM85.5 359.5h1v1h-1zM79 362h1v1h-1zM79 362.5h1v1h-1zM86 358.5h1v1h-1zM86 358h1v1h-1zM78.5 362h1v1h-1zM78.5 362.5h1v1h-1zM86 359h1v1h-1zM83 356h1v1h-1zM83 356.5h1v1h-1zM75.5 357.5h1v1h-1zM85 362.5h1v1h-1zM76 359.5h1v1h-1zM76 359h1v1h-1zM75.5 357h1v1h-1zM85.5 358.5h1v1h-1zM85.5 358h1v1h-1zM84.5 362h1v1h-1zM84.5 362.5h1v1h-1zM82.5 356.5h1v1h-1zM82 363.5h1v1h-1zM82 363h1v1h-1zM86 357.5h1v1h-1zM77 356h1v1h-1zM86 357h1v1h-1zM86 360.5h1v1h-1zM86 360h1v1h-1zM77.5 356h1v1h-1zM78 356.5h1v1h-1zM77.5 356.5h1v1h-1zM77 360.5h1v1h-1zM77 360h1v1h-1zM78 356h1v1h-1zM75.5 359.5h1v1h-1zM85.5 357.5h1v1h-1zM75.5 359h1v1h-1zM85.5 357h1v1h-1zM76 358.5h1v1h-1zM85.5 360.5h1v1h-1zM85.5 360h1v1h-1zM76 358h1v1h-1zM76.5 360h1v1h-1zM76.5 360.5h1v1h-1zM81 363h1v1h-1zM78 361.5h1v1h-1zM81 363.5h1v1h-1zM84 356h1v1h-1zM86 359.5h1v1h-1zM77 356.5h1v1h-1zM84 356.5h1v1h-1zM78 361h1v1h-1z" fill="#d8c828" opacity="1.0"/>
<path d="M77.5 358h1v1h-1zM78 358.5h1v1h-1zM78.5 357h1v1h-1zM78.5 357.5h1v1h-1zM77.5 358.5h1v1h-1zM78 358h1v1h-1zM81.5 362.5h1v1h-1zM83 357h1v1h-1zM83 357.5h1v1h-1zM84.5 360h1v1h-1zM85 360.5h1v1h-1zM85 360h1v1h-1zM84.5 360.5h1v1h-1zM82.5 357h1v1h-1zM85 359.5h1v1h-1zM85 359h1v1h-1zM84.5 359h1v1h-1zM84.5 359.5h1v1h-1zM79 357.5h1v1h-1zM79 357h1v1h-1zM82 362h1v1h-1zM82 362.5h1v1h-1zM81.5 362h1v1h-1z" fill="#e8a818" opacity="1.0"/>
<path d="M79 361h1v1h-1zM79 361.5h1v1h-1zM84.5 358.5h1v1h-1zM85 358h1v1h-1zM85 358.5h1v1h-1zM84.5 358h1v1h-1zM81 362.5h1v1h-1zM78 359h1v1h-1zM78 359.5h1v1h-1zM80.5 362.5h1v1h-1zM80.5 362h1v1h-1zM78.5 361h1v1h-1zM77.5 359.5h1v1h-1zM78.5 361.5h1v1h-1zM81 362h1v1h-1z" fill="#e8a828" opacity="1.0"/>
<path d="M85 357.5h1v1h-1zM85 357h1v1h-1zM83.5 362h1v1h-1zM83.5 362.5h1v1h-1zM84.5 357.5h1v1h-1zM84.5 357h1v1h-1zM81 356.5h1v1h-1zM81 356h1v1h-1zM79 356h1v1h-1zM79 356.5h1v1h-1zM78 357.5h1v1h-1zM78.5 356h1v1h-1zM78 357h1v1h-1zM78 360h1v1h-1zM77 358.5h1v1h-1zM77.5 357h1v1h-1zM80.5 356.5h1v1h-1zM77 358h1v1h-1zM80.5 356h1v1h-1zM77.5 360h1v1h-1zM77.5 360.5h1v1h-1zM77.5 357.5h1v1h-1zM83 362.5h1v1h-1zM83 362h1v1h-1zM76.5 358.5h1v1h-1zM76.5 358h1v1h-1zM84 357.5h1v1h-1zM84 357h1v1h-1zM82.5 362.5h1v1h-1zM82.5 362h1v1h-1zM80 356h1v1h-1zM77 357h1v1h-1zM77 357.5h1v1h-1zM80 356.5h1v1h-1zM80 362.5h1v1h-1zM80 362h1v1h-1zM83.5 357.5h1v1h-1zM85 361.5h1v1h-1zM83.5 357h1v1h-1zM85 361h1v1h-1zM84 362h1v1h-1zM84.5 361h1v1h-1zM84.5 361.5h1v1h-1zM76.5 357.5h1v1h-1zM79.5 356.5h1v1h-1zM76.5 357h1v1h-1zM79.5 356h1v1h-1zM81.5 356h1v1h-1zM82 356.5h1v1h-1zM81.5 356.5h1v1h-1zM82 356h1v1h-1zM79.5 362h1v1h-1zM79.5 362.5h1v1h-1zM84 362.5h1v1h-1z" fill="#e8b828" opacity="1.0"/>
<path d="M80.5 360h1v1h-1zM83 360h1v1h-1zM80.5 360.5h1v1h-1zM83 360.5h1v1h-1zM81 359h1v1h-1zM81 359.5h1v1h-1zM82.5 360h1v1h-1zM82.5 360.5h1v1h-1zM80.5 359.5h1v1h-1zM80.5 359h1v1h-1zM82 360.5h1v1h-1zM82 360h1v1h-1zM81.5 360h1v1h-1zM81.5 360.5h1v1h-1zM82 359h1v1h-1zM82 359.5h1v1h-1zM81 360h1v1h-1zM81.5 359.5h1v1h-1zM81.5 359h1v1h-1zM81 360.5h1v1h-1z" fill="#f87818" opacity="1.0"/>
<path d="M80 358.5h1v1h-1zM80 358h1v1h-1zM82 361h1v1h-1zM82 361.5h1v1h-1zM81.5 358h1v1h-1zM82 358h1v1h-1zM79.5 358.5h1v1h-1zM79.5 358h1v1h-1zM81.5 361.5h1v1h-1zM81.5 361h1v1h-1zM81.5 358.5h1v1h-1zM80 360h1v1h-1zM80 360.5h1v1h-1zM83 359h1v1h-1zM83 359.5h1v1h-1zM81 358.5h1v1h-1zM81 358h1v1h-1zM79.5 360h1v1h-1zM79.5 360.5h1v1h-1zM82.5 359.5h1v1h-1zM82.5 358h1v1h-1zM82.5 359h1v1h-1zM80 359h1v1h-1zM80 359.5h1v1h-1zM80.5 358.5h1v1h-1zM83 358h1v1h-1zM80.5 358h1v1h-1zM83 358.5h1v1h-1zM79.5 359.5h1v1h-1zM82.5 358.5h1v1h-1z" fill="#f88818" opacity="1.0"/>
<path d="M80 361h1v1h-1zM80 361.5h1v1h-1zM80.5 357.5h1v1h-1zM80.5 357h1v1h-1zM83.5 359.5h1v1h-1zM83.5 359h1v1h-1zM79 359.5h1v1h-1zM79 359h1v1h-1zM79.5 361h1v1h-1zM79.5 361.5h1v1h-1zM84 358h1v1h-1zM84 358.5h1v1h-1zM78.5 359h1v1h-1zM78.5 359.5h1v1h-1zM79 358h1v1h-1zM81 361.5h1v1h-1zM81 361h1v1h-1zM84 360.5h1v1h-1zM84 360h1v1h-1zM78.5 358.5h1v1h-1zM78.5 358h1v1h-1zM83 361.5h1v1h-1zM80.5 361h1v1h-1zM83 361h1v1h-1zM83.5 360h1v1h-1zM83.5 360.5h1v1h-1zM81 357.5h1v1h-1zM81 357h1v1h-1zM82.5 361h1v1h-1zM84 359h1v1h-1zM84 359.5h1v1h-1zM82.5 361.5h1v1h-1z" fill="#f89818" opacity="1.0"/>
<path d="M84 361.5h1v1h-1zM84 361h1v1h-1zM82 357.5h1v1h-1zM79.5 357h1v1h-1zM78.5 360.5h1v1h-1zM78.5 360h1v1h-1zM82 357h1v1h-1zM81.5 357h1v1h-1zM81.5 357.5h1v1h-1zM80 357h1v1h-1zM80 357.5h1v1h-1zM79 360.5h1v1h-1zM79 360h1v1h-1zM83.5 361.5h1v1h-1z" fill="#f8a818" opacity="1.0"/>
</g>
<rect x="64.5" y="271" width="110" height="109" fill="none" stroke="#000" stroke-width="1.5"/>
<line x1="64.5" y1="271" x2="64.5" y2="380" stroke="#000" stroke-width="1.8"/>
<line x1="114.5" y1="271" x2="114.5" y2="380" stroke="#000" stroke-width="1.2"/>
<line x1="64.5" y1="341.3" x2="174.5" y2="341.3" stroke="#000" stroke-width="1.2"/>
<rect x="65.4" y="359.8" width="26.6" height="19.599999999999987" fill="#fff" opacity="0.68"/>
<text x="67.1" y="277.6" font-size="6.8" font-weight="bold" text-anchor="start"  stroke="#000" stroke-width="0.25">Q1</text>
<text x="67.1" y="287.9" font-size="7.5" font-weight="bold" text-anchor="start"  stroke="#000" stroke-width="0.25">0.825%</text>
<text x="151.2" y="277.6" font-size="6.8" font-weight="bold" text-anchor="start"  stroke="#000" stroke-width="0.25">Q2</text>
<text x="151.2" y="287.9" font-size="7.5" font-weight="bold" text-anchor="start"  stroke="#000" stroke-width="0.25">10.7%</text>
<text x="151.2" y="367.6" font-size="6.8" font-weight="bold" text-anchor="start"  stroke="#000" stroke-width="0.25">Q3</text>
<text x="151.2" y="377.7" font-size="7.5" font-weight="bold" text-anchor="start"  stroke="#000" stroke-width="0.25">3.83%</text>
<text x="66.7" y="367.6" font-size="6.8" font-weight="bold" text-anchor="start"  stroke="#000" stroke-width="0.25">Q4</text>
<text x="66.7" y="377.7" font-size="7.5" font-weight="bold" text-anchor="start"  stroke="#000" stroke-width="0.25">84.7%</text>
<line x1="60.0" y1="280.5" x2="64.5" y2="280.5" stroke="#000" stroke-width="1.2"/>
<line x1="62.0" y1="298.32373511056846" x2="64.5" y2="298.32373511056846" stroke="#000" stroke-width="0.8"/>
<line x1="62.0" y1="293.8334080046486" x2="64.5" y2="293.8334080046486" stroke="#000" stroke-width="0.8"/>
<line x1="62.0" y1="290.647470221137" x2="64.5" y2="290.647470221137" stroke="#000" stroke-width="0.8"/>
<line x1="62.0" y1="288.17626488943154" x2="64.5" y2="288.17626488943154" stroke="#000" stroke-width="0.8"/>
<line x1="62.0" y1="286.1571431152171" x2="64.5" y2="286.1571431152171" stroke="#000" stroke-width="0.8"/>
<line x1="62.0" y1="284.44999997963646" x2="64.5" y2="284.44999997963646" stroke="#000" stroke-width="0.8"/>
<line x1="62.0" y1="282.97120533170545" x2="64.5" y2="282.97120533170545" stroke="#000" stroke-width="0.8"/>
<line x1="62.0" y1="281.66681600929724" x2="64.5" y2="281.66681600929724" stroke="#000" stroke-width="0.8"/>
<line x1="60.0" y1="306" x2="64.5" y2="306" stroke="#000" stroke-width="1.2"/>
<line x1="62.0" y1="323.82373511056846" x2="64.5" y2="323.82373511056846" stroke="#000" stroke-width="0.8"/>
<line x1="62.0" y1="319.3334080046486" x2="64.5" y2="319.3334080046486" stroke="#000" stroke-width="0.8"/>
<line x1="62.0" y1="316.147470221137" x2="64.5" y2="316.147470221137" stroke="#000" stroke-width="0.8"/>
<line x1="62.0" y1="313.67626488943154" x2="64.5" y2="313.67626488943154" stroke="#000" stroke-width="0.8"/>
<line x1="62.0" y1="311.6571431152171" x2="64.5" y2="311.6571431152171" stroke="#000" stroke-width="0.8"/>
<line x1="62.0" y1="309.94999997963646" x2="64.5" y2="309.94999997963646" stroke="#000" stroke-width="0.8"/>
<line x1="62.0" y1="308.47120533170545" x2="64.5" y2="308.47120533170545" stroke="#000" stroke-width="0.8"/>
<line x1="62.0" y1="307.16681600929724" x2="64.5" y2="307.16681600929724" stroke="#000" stroke-width="0.8"/>
<line x1="60.0" y1="331.5" x2="64.5" y2="331.5" stroke="#000" stroke-width="1.2"/>
<line x1="62.0" y1="349.32373511056846" x2="64.5" y2="349.32373511056846" stroke="#000" stroke-width="0.8"/>
<line x1="62.0" y1="344.8334080046486" x2="64.5" y2="344.8334080046486" stroke="#000" stroke-width="0.8"/>
<line x1="62.0" y1="341.647470221137" x2="64.5" y2="341.647470221137" stroke="#000" stroke-width="0.8"/>
<line x1="62.0" y1="339.17626488943154" x2="64.5" y2="339.17626488943154" stroke="#000" stroke-width="0.8"/>
<line x1="62.0" y1="337.1571431152171" x2="64.5" y2="337.1571431152171" stroke="#000" stroke-width="0.8"/>
<line x1="62.0" y1="335.44999997963646" x2="64.5" y2="335.44999997963646" stroke="#000" stroke-width="0.8"/>
<line x1="62.0" y1="333.97120533170545" x2="64.5" y2="333.97120533170545" stroke="#000" stroke-width="0.8"/>
<line x1="62.0" y1="332.66681600929724" x2="64.5" y2="332.66681600929724" stroke="#000" stroke-width="0.8"/>
<line x1="60.0" y1="357" x2="64.5" y2="357" stroke="#000" stroke-width="1.2"/>
<line x1="62.0" y1="364.67626488943154" x2="64.5" y2="364.67626488943154" stroke="#000" stroke-width="0.8"/>
<line x1="62.0" y1="362.6571431152171" x2="64.5" y2="362.6571431152171" stroke="#000" stroke-width="0.8"/>
<line x1="62.0" y1="360.94999997963646" x2="64.5" y2="360.94999997963646" stroke="#000" stroke-width="0.8"/>
<line x1="62.0" y1="359.47120533170545" x2="64.5" y2="359.47120533170545" stroke="#000" stroke-width="0.8"/>
<line x1="62.0" y1="358.16681600929724" x2="64.5" y2="358.16681600929724" stroke="#000" stroke-width="0.8"/>
<line x1="60.0" y1="368.4" x2="64.5" y2="368.4" stroke="#000" stroke-width="1.2"/>
<line x1="62.0" y1="372" x2="64.5" y2="372" stroke="#000" stroke-width="0.8"/>
<line x1="62.0" y1="375.5" x2="64.5" y2="375.5" stroke="#000" stroke-width="0.8"/>
<line x1="62.0" y1="378.5" x2="64.5" y2="378.5" stroke="#000" stroke-width="0.8"/>
<text x="44.7" y="283.9" font-size="9">10<tspan dy="-3.6" font-size="6.2">5</tspan></text>
<text x="44.7" y="309.4" font-size="9">10<tspan dy="-3.6" font-size="6.2">4</tspan></text>
<text x="44.7" y="334.9" font-size="9">10<tspan dy="-3.6" font-size="6.2">3</tspan></text>
<text x="44.7" y="360.4" font-size="9">10<tspan dy="-3.6" font-size="6.2">2</tspan></text>
<text x="55.5" y="371.6" font-size="9" font-weight="normal" text-anchor="end" >0</text>
<line x1="88.5" y1="380" x2="88.5" y2="384.5" stroke="#000" stroke-width="1.2"/>
<line x1="78.35252977886304" y1="380" x2="78.35252977886304" y2="382.5" stroke="#000" stroke-width="0.8"/>
<line x1="80.82373511056848" y1="380" x2="80.82373511056848" y2="382.5" stroke="#000" stroke-width="0.8"/>
<line x1="82.84285688478292" y1="380" x2="82.84285688478292" y2="382.5" stroke="#000" stroke-width="0.8"/>
<line x1="84.55000002036354" y1="380" x2="84.55000002036354" y2="382.5" stroke="#000" stroke-width="0.8"/>
<line x1="86.02879466829455" y1="380" x2="86.02879466829455" y2="382.5" stroke="#000" stroke-width="0.8"/>
<line x1="87.33318399070279" y1="380" x2="87.33318399070279" y2="382.5" stroke="#000" stroke-width="0.8"/>
<line x1="114.0" y1="380" x2="114.0" y2="384.5" stroke="#000" stroke-width="1.2"/>
<line x1="96.17626488943152" y1="380" x2="96.17626488943152" y2="382.5" stroke="#000" stroke-width="0.8"/>
<line x1="100.6665919953514" y1="380" x2="100.6665919953514" y2="382.5" stroke="#000" stroke-width="0.8"/>
<line x1="103.85252977886304" y1="380" x2="103.85252977886304" y2="382.5" stroke="#000" stroke-width="0.8"/>
<line x1="106.32373511056848" y1="380" x2="106.32373511056848" y2="382.5" stroke="#000" stroke-width="0.8"/>
<line x1="108.34285688478292" y1="380" x2="108.34285688478292" y2="382.5" stroke="#000" stroke-width="0.8"/>
<line x1="110.05000002036354" y1="380" x2="110.05000002036354" y2="382.5" stroke="#000" stroke-width="0.8"/>
<line x1="111.52879466829455" y1="380" x2="111.52879466829455" y2="382.5" stroke="#000" stroke-width="0.8"/>
<line x1="112.83318399070279" y1="380" x2="112.83318399070279" y2="382.5" stroke="#000" stroke-width="0.8"/>
<line x1="139.5" y1="380" x2="139.5" y2="384.5" stroke="#000" stroke-width="1.2"/>
<line x1="121.67626488943152" y1="380" x2="121.67626488943152" y2="382.5" stroke="#000" stroke-width="0.8"/>
<line x1="126.1665919953514" y1="380" x2="126.1665919953514" y2="382.5" stroke="#000" stroke-width="0.8"/>
<line x1="129.35252977886304" y1="380" x2="129.35252977886304" y2="382.5" stroke="#000" stroke-width="0.8"/>
<line x1="131.8237351105685" y1="380" x2="131.8237351105685" y2="382.5" stroke="#000" stroke-width="0.8"/>
<line x1="133.84285688478292" y1="380" x2="133.84285688478292" y2="382.5" stroke="#000" stroke-width="0.8"/>
<line x1="135.55000002036354" y1="380" x2="135.55000002036354" y2="382.5" stroke="#000" stroke-width="0.8"/>
<line x1="137.02879466829455" y1="380" x2="137.02879466829455" y2="382.5" stroke="#000" stroke-width="0.8"/>
<line x1="138.3331839907028" y1="380" x2="138.3331839907028" y2="382.5" stroke="#000" stroke-width="0.8"/>
<line x1="165.0" y1="380" x2="165.0" y2="384.5" stroke="#000" stroke-width="1.2"/>
<line x1="147.1762648894315" y1="380" x2="147.1762648894315" y2="382.5" stroke="#000" stroke-width="0.8"/>
<line x1="151.66659199535138" y1="380" x2="151.66659199535138" y2="382.5" stroke="#000" stroke-width="0.8"/>
<line x1="154.85252977886304" y1="380" x2="154.85252977886304" y2="382.5" stroke="#000" stroke-width="0.8"/>
<line x1="157.3237351105685" y1="380" x2="157.3237351105685" y2="382.5" stroke="#000" stroke-width="0.8"/>
<line x1="159.34285688478292" y1="380" x2="159.34285688478292" y2="382.5" stroke="#000" stroke-width="0.8"/>
<line x1="161.05000002036354" y1="380" x2="161.05000002036354" y2="382.5" stroke="#000" stroke-width="0.8"/>
<line x1="162.52879466829455" y1="380" x2="162.52879466829455" y2="382.5" stroke="#000" stroke-width="0.8"/>
<line x1="163.8331839907028" y1="380" x2="163.8331839907028" y2="382.5" stroke="#000" stroke-width="0.8"/>
<line x1="67.5" y1="380" x2="67.5" y2="382.5" stroke="#000" stroke-width="0.8"/>
<line x1="70.5" y1="380" x2="70.5" y2="382.5" stroke="#000" stroke-width="0.8"/>
<line x1="73.5" y1="380" x2="73.5" y2="382.5" stroke="#000" stroke-width="0.8"/>
<line x1="75.0" y1="380" x2="75.0" y2="384.5" stroke="#000" stroke-width="1.2"/>
<text x="79.0" y="394.7" font-size="9">10<tspan dy="-3.6" font-size="6.2">2</tspan></text>
<text x="108.0" y="394.7" font-size="9">10<tspan dy="-3.6" font-size="6.2">3</tspan></text>
<text x="132.5" y="394.7" font-size="9">10<tspan dy="-3.6" font-size="6.2">4</tspan></text>
<text x="157.0" y="394.7" font-size="9">10<tspan dy="-3.6" font-size="6.2">5</tspan></text>
<text x="75.0" y="394.7" font-size="9" font-weight="normal" text-anchor="middle" >0</text>
<line x1="60.0" y1="380" x2="64.5" y2="380" stroke="#000" stroke-width="1.4"/>
<text x="119.5" y="262.6" font-size="12.7" font-weight="bold" text-anchor="middle" >+Dox</text>
<g filter="url(#bl2)">
<path d="M226.5 374.5h1v1h-1zM260.5 376.5h1v1h-1zM283 357.5h1v1h-1zM267 349.5h1v1h-1zM283.5 356h1v1h-1zM211.5 349.5h1v1h-1zM273.5 333h1v1h-1zM276 345h1v1h-1zM211.5 367.5h1v1h-1zM267.5 366.5h1v1h-1zM252.5 377.5h1v1h-1zM246.5 343h1v1h-1zM287.5 353h1v1h-1zM236.5 378.5h1v1h-1zM264.5 369h1v1h-1zM293 351.5h1v1h-1zM295.5 320h1v1h-1zM272.5 318h1v1h-1zM263 374.5h1v1h-1zM263.5 373.5h1v1h-1zM273.5 319h1v1h-1zM275 357h1v1h-1zM222.5 344h1v1h-1zM222.5 344.5h1v1h-1zM275.5 365.5h1v1h-1zM267.5 370h1v1h-1zM269 371.5h1v1h-1zM251 377.5h1v1h-1zM282 364h1v1h-1zM271.5 354h1v1h-1zM210.5 365h1v1h-1zM263.5 368.5h1v1h-1zM267 348h1v1h-1zM275.5 351h1v1h-1zM266 370h1v1h-1zM269 366.5h1v1h-1zM269 366h1v1h-1zM264.5 350h1v1h-1zM256.5 346.5h1v1h-1zM270 349h1v1h-1zM264.5 368.5h1v1h-1zM274 319h1v1h-1zM274 328.5h1v1h-1zM270.5 366.5h1v1h-1zM249.5 343.5h1v1h-1zM259.5 375.5h1v1h-1zM286 311.5h1v1h-1zM295.5 319.5h1v1h-1zM295.5 319h1v1h-1zM210.5 351h1v1h-1zM210.5 351.5h1v1h-1zM274.5 363.5h1v1h-1zM294.5 350h1v1h-1zM222.5 343.5h1v1h-1zM285 360.5h1v1h-1zM267.5 369h1v1h-1zM291.5 308h1v1h-1zM274 332h1v1h-1zM284 364h1v1h-1zM230.5 343h1v1h-1zM221 344h1v1h-1zM255 346h1v1h-1zM263.5 349h1v1h-1zM282.5 362h1v1h-1zM297 321.5h1v1h-1zM274.5 358h1v1h-1zM297 330.5h1v1h-1zM277 351.5h1v1h-1zM285 364h1v1h-1zM250 343.5h1v1h-1zM290 308h1v1h-1zM266.5 368.5h1v1h-1zM280.5 312h1v1h-1zM270 348.5h1v1h-1zM284 359.5h1v1h-1zM284 359h1v1h-1zM270.5 365.5h1v1h-1zM240.5 342h1v1h-1zM282.5 357.5h1v1h-1zM234 376h1v1h-1zM273 367.5h1v1h-1zM287.5 310h1v1h-1zM213.5 370.5h1v1h-1zM246 377.5h1v1h-1zM289 311.5h1v1h-1zM267.5 350h1v1h-1zM269 351h1v1h-1zM285.5 358h1v1h-1zM290 312h1v1h-1zM290.5 311h1v1h-1zM290.5 311.5h1v1h-1zM274 331.5h1v1h-1zM284 363.5h1v1h-1zM284 363h1v1h-1zM251.5 346.5h1v1h-1zM297 320h1v1h-1zM265 349.5h1v1h-1zM246 345h1v1h-1zM297 329h1v1h-1zM212 370h1v1h-1zM266 350.5h1v1h-1zM272 366h1v1h-1zM282 312h1v1h-1zM290.5 306h1v1h-1zM292 353.5h1v1h-1zM292 353h1v1h-1zM295 349h1v1h-1zM262.5 369.5h1v1h-1zM283.5 312.5h1v1h-1zM284.5 366.5h1v1h-1zM211 364h1v1h-1zM297 324.5h1v1h-1zM273 366h1v1h-1zM288.5 354.5h1v1h-1zM276 359.5h1v1h-1zM288.5 354h1v1h-1zM276 359h1v1h-1zM289 310h1v1h-1zM223 374h1v1h-1zM269.5 349h1v1h-1zM280 365.5h1v1h-1zM266.5 371.5h1v1h-1zM290.5 310.5h1v1h-1zM258.5 376h1v1h-1zM284.5 361h1v1h-1zM283 366h1v1h-1zM274.5 338.5h1v1h-1zM289 305.5h1v1h-1zM289.5 304.5h1v1h-1zM256 375h1v1h-1zM278.5 313.5h1v1h-1zM268 349h1v1h-1zM280 351.5h1v1h-1zM268 349.5h1v1h-1zM269.5 353h1v1h-1zM290.5 305.5h1v1h-1zM247.5 343.5h1v1h-1zM292 352h1v1h-1zM257.5 375h1v1h-1zM273 320h1v1h-1zM284.5 356h1v1h-1zM272.5 363h1v1h-1zM285 312.5h1v1h-1zM276 340h1v1h-1zM273.5 355h1v1h-1zM276 358h1v1h-1zM269.5 348.5h1v1h-1zM250.5 344h1v1h-1zM280 364.5h1v1h-1zM280 364h1v1h-1zM260 376h1v1h-1zM260 376.5h1v1h-1zM268.5 370.5h1v1h-1zM260.5 375.5h1v1h-1zM253 346.5h1v1h-1zM234 342h1v1h-1zM283 356.5h1v1h-1zM283 365.5h1v1h-1zM272.5 367h1v1h-1zM273.5 332h1v1h-1zM254.5 346.5h1v1h-1zM256 347h1v1h-1zM226 343.5h1v1h-1zM289.5 312h1v1h-1zM268 348h1v1h-1zM269.5 352h1v1h-1zM229 375.5h1v1h-1zM295 320.5h1v1h-1zM268 366.5h1v1h-1zM237.5 378h1v1h-1zM268.5 365h1v1h-1zM274 364.5h1v1h-1zM295.5 337h1v1h-1zM273 319h1v1h-1zM232 376h1v1h-1zM296.5 329.5h1v1h-1zM273.5 327h1v1h-1zM296.5 338.5h1v1h-1zM211.5 370h1v1h-1zM287 357.5h1v1h-1zM287 357h1v1h-1zM292 310h1v1h-1zM268 352h1v1h-1zM270 371.5h1v1h-1zM245.5 377.5h1v1h-1zM268 352.5h1v1h-1zM291.5 353.5h1v1h-1zM292.5 318.5h1v1h-1zM291.5 353h1v1h-1zM292.5 318h1v1h-1zM282 363h1v1h-1zM268.5 369h1v1h-1zM260.5 374h1v1h-1zM288.5 311.5h1v1h-1zM244 345.5h1v1h-1zM286 360h1v1h-1zM272.5 366.5h1v1h-1zM296.5 333h1v1h-1zM254.5 345.5h1v1h-1zM236 377.5h1v1h-1zM212.5 348.5h1v1h-1zM281 366.5h1v1h-1zM249 343h1v1h-1zM257.5 346.5h1v1h-1zM290 353h1v1h-1zM239 378h1v1h-1zM295.5 336h1v1h-1zM294 350h1v1h-1zM218.5 372h1v1h-1zM222 343.5h1v1h-1zM288.5 306h1v1h-1zM263.5 371.5h1v1h-1zM253.5 348.5h1v1h-1zM253.5 348h1v1h-1zM286 355h1v1h-1zM273.5 335.5h1v1h-1zM211.5 369h1v1h-1zM277.5 314.5h1v1h-1zM223.5 343h1v1h-1zM279.5 351.5h1v1h-1zM272 322.5h1v1h-1zM291.5 316h1v1h-1zM264.5 371h1v1h-1zM270 370.5h1v1h-1zM214.5 370h1v1h-1zM268.5 350.5h1v1h-1zM262 375h1v1h-1zM221 343h1v1h-1zM213 348.5h1v1h-1zM294 345h1v1h-1zM275.5 340h1v1h-1zM224 375.5h1v1h-1zM283.5 362h1v1h-1zM267.5 372h1v1h-1zM225.5 375.5h1v1h-1zM270 347h1v1h-1zM251 343h1v1h-1zM251 343.5h1v1h-1zM270 365h1v1h-1zM275 318h1v1h-1zM274 362h1v1h-1zM282.5 365.5h1v1h-1zM275 336h1v1h-1zM274.5 361.5h1v1h-1zM297 333h1v1h-1zM263.5 370.5h1v1h-1zM213 370h1v1h-1zM275.5 344.5h1v1h-1zM283.5 357.5h1v1h-1zM211.5 350.5h1v1h-1zM285 358.5h1v1h-1zM283.5 366h1v1h-1zM285 358h1v1h-1zM266 372h1v1h-1zM269 368h1v1h-1zM269 368.5h1v1h-1zM290 311.5h1v1h-1zM235 375h1v1h-1zM279.5 350h1v1h-1zM291.5 315h1v1h-1zM291.5 315.5h1v1h-1zM270 351h1v1h-1zM281 351.5h1v1h-1zM293 316.5h1v1h-1zM282 352h1v1h-1zM262.5 373.5h1v1h-1zM272.5 319.5h1v1h-1zM274 357.5h1v1h-1zM274.5 365h1v1h-1zM252.5 346.5h1v1h-1zM233.5 342h1v1h-1zM266 349.5h1v1h-1zM266 367.5h1v1h-1zM245.5 343h1v1h-1zM291.5 310.5h1v1h-1zM225.5 374.5h1v1h-1zM281 364h1v1h-1zM270.5 354.5h1v1h-1zM283.5 311h1v1h-1zM271.5 355h1v1h-1zM273 356.5h1v1h-1zM297 323h1v1h-1zM288 354.5h1v1h-1zM273 365h1v1h-1zM273 365.5h1v1h-1zM285 357h1v1h-1zM285 366.5h1v1h-1zM256.5 347.5h1v1h-1zM274 329.5h1v1h-1zM270.5 367h1v1h-1zM290.5 354h1v1h-1zM274.5 337h1v1h-1zM293.5 350.5h1v1h-1zM286.5 311h1v1h-1zM246 343h1v1h-1zM294.5 342.5h1v1h-1zM216 347h1v1h-1zM290 305h1v1h-1zM266.5 365.5h1v1h-1zM257 375h1v1h-1zM293 319h1v1h-1zM235.5 377h1v1h-1zM220 344.5h1v1h-1zM295 347h1v1h-1zM281.5 353h1v1h-1zM281.5 353.5h1v1h-1zM284 356.5h1v1h-1zM294.5 319.5h1v1h-1zM274.5 350h1v1h-1zM297 322h1v1h-1zM297 322.5h1v1h-1zM243.5 344.5h1v1h-1zM287.5 307h1v1h-1zM277 343.5h1v1h-1zM289 308.5h1v1h-1zM244.5 345h1v1h-1zM285.5 355.5h1v1h-1zM269.5 347.5h1v1h-1zM280 363.5h1v1h-1zM228 343.5h1v1h-1zM228 343h1v1h-1zM239.5 342h1v1h-1zM288 312.5h1v1h-1zM281.5 366.5h1v1h-1zM274.5 336.5h1v1h-1zM239.5 378h1v1h-1zM246 342.5h1v1h-1zM297 326.5h1v1h-1zM297 326h1v1h-1zM212 367h1v1h-1zM265.5 372.5h1v1h-1zM265.5 372h1v1h-1zM289.5 311h1v1h-1zM257 347.5h1v1h-1zM237 378h1v1h-1zM295 346.5h1v1h-1zM262.5 348.5h1v1h-1zM288 307.5h1v1h-1zM296 320.5h1v1h-1zM274.5 331h1v1h-1zM296.5 328h1v1h-1zM267 369h1v1h-1zM213.5 348h1v1h-1zM276 365.5h1v1h-1zM276 365h1v1h-1zM265.5 367.5h1v1h-1zM245 377h1v1h-1zM266.5 350h1v1h-1zM291 353.5h1v1h-1zM260 347.5h1v1h-1zM269.5 364.5h1v1h-1zM269.5 364h1v1h-1zM272 367h1v1h-1zM290.5 307h1v1h-1zM283 354h1v1h-1zM272.5 356h1v1h-1zM283 363.5h1v1h-1zM286 359h1v1h-1zM273.5 330.5h1v1h-1zM267 373h1v1h-1zM276 351h1v1h-1zM236 376.5h1v1h-1zM273.5 366h1v1h-1zM265.5 371.5h1v1h-1zM215.5 370h1v1h-1zM237 377.5h1v1h-1zM268 364h1v1h-1zM288 306h1v1h-1zM226.5 375.5h1v1h-1zM255 376h1v1h-1zM211 351.5h1v1h-1zM288.5 314h1v1h-1zM284.5 362.5h1v1h-1zM275 363.5h1v1h-1zM273.5 334.5h1v1h-1zM276 346.5h1v1h-1zM291 307h1v1h-1zM264 371.5h1v1h-1zM289.5 305h1v1h-1zM212.5 369h1v1h-1zM292 308.5h1v1h-1zM289.5 314h1v1h-1zM278.5 314.5h1v1h-1zM256.5 375.5h1v1h-1zM292.5 316h1v1h-1zM274 366.5h1v1h-1zM295.5 339.5h1v1h-1zM295.5 339h1v1h-1zM273 321h1v1h-1zM241.5 377h1v1h-1zM242.5 342.5h1v1h-1zM275 349h1v1h-1zM283 362.5h1v1h-1zM275 358h1v1h-1zM267 372h1v1h-1zM285.5 312h1v1h-1zM225 375h1v1h-1zM267.5 371h1v1h-1zM217 371.5h1v1h-1zM271 365h1v1h-1z" fill="#283898" opacity="0.7"/>
<path d="M265 367h1v1h-1zM240 377.5h1v1h-1zM277 341.5h1v1h-1zM255 375h1v1h-1zM262.5 349h1v1h-1zM277 341h1v1h-1zM276 318h1v1h-1zM234.5 342.5h1v1h-1zM247 346h1v1h-1zM269 355h1v1h-1zM277.5 349.5h1v1h-1zM237.5 377h1v1h-1zM228.5 374h1v1h-1zM228.5 374.5h1v1h-1zM217 348.5h1v1h-1zM267 367h1v1h-1zM263.5 350h1v1h-1zM266.5 367h1v1h-1zM226 344h1v1h-1zM226 344.5h1v1h-1zM264.5 351.5h1v1h-1zM275 328.5h1v1h-1zM247.5 344h1v1h-1zM258 348h1v1h-1zM258 348.5h1v1h-1zM250 344.5h1v1h-1zM249.5 344.5h1v1h-1zM285 313h1v1h-1zM294.5 321.5h1v1h-1zM275.5 317.5h1v1h-1zM265 353h1v1h-1zM265 353.5h1v1h-1zM212 365.5h1v1h-1zM262.5 353h1v1h-1zM267 353h1v1h-1zM267 353.5h1v1h-1zM274.5 327.5h1v1h-1zM276 331h1v1h-1zM227 344.5h1v1h-1zM266.5 353.5h1v1h-1zM293 344.5h1v1h-1zM268 354.5h1v1h-1zM226.5 344h1v1h-1zM240.5 343h1v1h-1zM266 366h1v1h-1zM264.5 355h1v1h-1zM238 377.5h1v1h-1zM265.5 354h1v1h-1zM210.5 363h1v1h-1zM252 348.5h1v1h-1zM252 348h1v1h-1zM270 363h1v1h-1zM270 363.5h1v1h-1zM271 356.5h1v1h-1zM290 350h1v1h-1zM229 374h1v1h-1zM229 374.5h1v1h-1zM263 352.5h1v1h-1zM275 325.5h1v1h-1zM258 373h1v1h-1zM271.5 363.5h1v1h-1zM289 351h1v1h-1zM292 350h1v1h-1zM217.5 371h1v1h-1zM230 375.5h1v1h-1zM276.5 316.5h1v1h-1zM272 356h1v1h-1zM252.5 376h1v1h-1zM252.5 376.5h1v1h-1zM255 349h1v1h-1zM276 347h1v1h-1zM288.5 351.5h1v1h-1zM280.5 313.5h1v1h-1zM292.5 342.5h1v1h-1zM286.5 353.5h1v1h-1zM279.5 314.5h1v1h-1zM261.5 372h1v1h-1zM293.5 349.5h1v1h-1zM293.5 349h1v1h-1zM233.5 374.5h1v1h-1zM261 348.5h1v1h-1zM260.5 373h1v1h-1zM260.5 373.5h1v1h-1zM275.5 337.5h1v1h-1zM274.5 326h1v1h-1zM214.5 369.5h1v1h-1zM258.5 348h1v1h-1zM249.5 345.5h1v1h-1zM244.5 376.5h1v1h-1zM239.5 343.5h1v1h-1zM275.5 330h1v1h-1zM262 349.5h1v1h-1zM262 349h1v1h-1zM288 313.5h1v1h-1zM288 313h1v1h-1zM277 340h1v1h-1zM275.5 348.5h1v1h-1zM287.5 313.5h1v1h-1zM223.5 374h1v1h-1zM273.5 323h1v1h-1zM247 345h1v1h-1zM247 345.5h1v1h-1zM227.5 344h1v1h-1zM263 350h1v1h-1zM243 344h1v1h-1zM253 376h1v1h-1zM275 324.5h1v1h-1zM275 324h1v1h-1zM264 351.5h1v1h-1zM273.5 359.5h1v1h-1zM273.5 359h1v1h-1zM288 352.5h1v1h-1zM270 355h1v1h-1zM283.5 354h1v1h-1zM231 375h1v1h-1zM252.5 348.5h1v1h-1zM285 355.5h1v1h-1zM286.5 313.5h1v1h-1zM256.5 373.5h1v1h-1zM261.5 369.5h1v1h-1zM220 372h1v1h-1zM261 373h1v1h-1zM290.5 350h1v1h-1zM293.5 346.5h1v1h-1zM218 347.5h1v1h-1zM234 374.5h1v1h-1zM234 374h1v1h-1zM264 353h1v1h-1zM265 352.5h1v1h-1zM246.5 344.5h1v1h-1zM259 348.5h1v1h-1zM273.5 361.5h1v1h-1zM230.5 375h1v1h-1zM213.5 368h1v1h-1zM262.5 352h1v1h-1zM215 369.5h1v1h-1zM266 353h1v1h-1zM236.5 342h1v1h-1zM236.5 342.5h1v1h-1zM249 346.5h1v1h-1zM276 330.5h1v1h-1zM250 345h1v1h-1zM250 345.5h1v1h-1zM217.5 347.5h1v1h-1zM275 319.5h1v1h-1zM239.5 377h1v1h-1zM276 348h1v1h-1zM295.5 321h1v1h-1zM273 358.5h1v1h-1zM277.5 315.5h1v1h-1zM255.5 349h1v1h-1zM295.5 321.5h1v1h-1zM281 350.5h1v1h-1zM292.5 343.5h1v1h-1zM242 343.5h1v1h-1zM277 346h1v1h-1zM224 374.5h1v1h-1zM249.5 347h1v1h-1zM234.5 374h1v1h-1zM274 359.5h1v1h-1zM248.5 345h1v1h-1zM275.5 329h1v1h-1zM295.5 332.5h1v1h-1zM276.5 349h1v1h-1zM262 348.5h1v1h-1zM275.5 338h1v1h-1zM294 346.5h1v1h-1zM281.5 351h1v1h-1zM261.5 348h1v1h-1zM274 322h1v1h-1zM274 322.5h1v1h-1zM284 354h1v1h-1zM284 354.5h1v1h-1zM273.5 322.5h1v1h-1zM273.5 322h1v1h-1zM247 344.5h1v1h-1zM262 369.5h1v1h-1zM211.5 365h1v1h-1zM271 356h1v1h-1zM231.5 343.5h1v1h-1zM264 350.5h1v1h-1zM263 352h1v1h-1zM254 349.5h1v1h-1zM276.5 342h1v1h-1zM273 362.5h1v1h-1zM274 361.5h1v1h-1z" fill="#284898" opacity="0.7"/>
<path d="M278.5 348.5h1v1h-1zM260 371h1v1h-1zM214 349h1v1h-1zM260 371.5h1v1h-1zM249.5 376h1v1h-1zM250.5 375h1v1h-1zM278.5 348h1v1h-1zM294 348h1v1h-1zM231 374.5h1v1h-1zM241 376.5h1v1h-1zM241 376h1v1h-1zM214 367h1v1h-1zM286 353.5h1v1h-1zM272.5 359h1v1h-1zM286 353h1v1h-1zM244 347.5h1v1h-1zM244 347h1v1h-1zM238 343.5h1v1h-1zM238 343h1v1h-1zM256.5 372.5h1v1h-1zM285.5 353.5h1v1h-1zM261 372.5h1v1h-1zM261 372h1v1h-1zM285.5 353h1v1h-1zM216 349h1v1h-1zM296 330h1v1h-1zM282 349.5h1v1h-1zM229.5 373.5h1v1h-1zM233 374.5h1v1h-1zM260.5 351h1v1h-1zM233 374h1v1h-1zM272 357.5h1v1h-1zM275.5 324h1v1h-1zM258.5 372h1v1h-1zM212.5 350.5h1v1h-1zM212.5 350h1v1h-1zM247 376h1v1h-1zM213.5 349.5h1v1h-1zM245.5 347.5h1v1h-1zM260 373h1v1h-1zM258.5 372.5h1v1h-1zM295 340.5h1v1h-1zM220 346.5h1v1h-1zM294 341h1v1h-1zM219.5 346.5h1v1h-1zM215 368h1v1h-1zM278 317h1v1h-1zM214.5 368h1v1h-1zM214.5 368.5h1v1h-1zM278.5 316.5h1v1h-1zM293.5 347.5h1v1h-1zM238.5 344h1v1h-1zM218 348h1v1h-1zM269.5 356h1v1h-1zM272 359h1v1h-1zM272 359.5h1v1h-1zM275 321.5h1v1h-1zM256 350h1v1h-1zM277 318.5h1v1h-1zM260.5 371h1v1h-1zM260.5 371.5h1v1h-1zM259.5 348.5h1v1h-1zM241.5 376h1v1h-1zM261 349h1v1h-1zM241.5 376.5h1v1h-1zM293.5 322h1v1h-1zM253.5 350.5h1v1h-1zM236.5 343.5h1v1h-1zM286.5 314.5h1v1h-1zM223.5 373h1v1h-1zM257.5 350h1v1h-1zM251 375.5h1v1h-1zM258.5 349h1v1h-1zM231 344.5h1v1h-1zM268 363h1v1h-1zM286 314.5h1v1h-1zM272 361.5h1v1h-1zM295 326.5h1v1h-1zM257 372h1v1h-1zM217 370.5h1v1h-1zM258 371h1v1h-1zM276.5 348h1v1h-1zM235.5 374h1v1h-1zM295.5 331.5h1v1h-1zM277 329h1v1h-1zM248.5 347h1v1h-1zM263.5 366h1v1h-1zM284 353.5h1v1h-1zM262.5 355h1v1h-1zM234 343h1v1h-1zM283.5 353h1v1h-1zM267 355.5h1v1h-1zM259 372.5h1v1h-1zM266.5 355.5h1v1h-1zM293 346.5h1v1h-1zM293 346h1v1h-1zM253 374h1v1h-1zM230.5 344.5h1v1h-1zM241.5 344.5h1v1h-1zM295.5 324h1v1h-1zM243 345h1v1h-1zM295.5 324.5h1v1h-1zM278 342.5h1v1h-1zM213 350.5h1v1h-1zM236.5 375h1v1h-1zM250.5 374.5h1v1h-1zM265.5 356h1v1h-1zM290 316h1v1h-1zM294.5 337h1v1h-1zM294.5 337.5h1v1h-1zM255 374.5h1v1h-1zM253 349h1v1h-1zM219 347.5h1v1h-1zM219 347h1v1h-1zM274.5 322h1v1h-1zM276 326.5h1v1h-1zM261 371h1v1h-1zM277.5 348h1v1h-1zM248.5 376.5h1v1h-1zM237.5 376h1v1h-1zM237.5 376.5h1v1h-1zM272.5 361h1v1h-1zM239 377h1v1h-1zM267.5 356h1v1h-1zM260.5 350.5h1v1h-1zM239 377.5h1v1h-1zM250.5 349h1v1h-1zM250.5 349.5h1v1h-1zM269.5 362h1v1h-1zM254 350.5h1v1h-1zM269.5 362.5h1v1h-1zM253.5 375.5h1v1h-1zM294 322.5h1v1h-1zM294 322h1v1h-1zM278 344h1v1h-1zM292 343.5h1v1h-1zM235 373.5h1v1h-1zM212 353.5h1v1h-1zM212 353h1v1h-1zM260 372h1v1h-1zM218.5 371h1v1h-1zM214.5 349.5h1v1h-1zM275.5 335.5h1v1h-1zM275.5 335h1v1h-1zM231.5 374.5h1v1h-1zM279 315.5h1v1h-1zM244.5 347.5h1v1h-1zM295.5 325.5h1v1h-1zM217 349.5h1v1h-1zM249 347.5h1v1h-1zM260.5 352h1v1h-1zM216.5 349h1v1h-1zM222 372h1v1h-1zM222 372.5h1v1h-1zM272 358.5h1v1h-1zM263 355h1v1h-1zM295 323h1v1h-1zM277 317.5h1v1h-1zM278 346h1v1h-1zM294.5 323h1v1h-1zM254.5 351h1v1h-1zM283 313h1v1h-1zM275.5 328.5h1v1h-1zM242 344.5h1v1h-1zM242 344h1v1h-1zM296 324h1v1h-1zM220.5 346h1v1h-1zM220.5 346.5h1v1h-1zM243.5 375.5h1v1h-1zM277 347.5h1v1h-1zM251 374.5h1v1h-1zM266 356.5h1v1h-1zM276.5 329h1v1h-1zM276.5 329.5h1v1h-1zM292 320.5h1v1h-1zM269.5 357.5h1v1h-1zM268 362.5h1v1h-1zM276 333h1v1h-1zM252 375.5h1v1h-1zM295 325.5h1v1h-1zM275 322h1v1h-1zM222.5 373.5h1v1h-1zM278 348h1v1h-1zM294.5 325.5h1v1h-1zM257.5 370h1v1h-1zM256.5 350.5h1v1h-1zM227 373h1v1h-1zM250 375.5h1v1h-1zM263.5 365h1v1h-1zM263.5 365.5h1v1h-1zM261 350h1v1h-1zM213 365.5h1v1h-1zM213 365h1v1h-1zM294.5 334h1v1h-1zM294.5 326.5h1v1h-1zM286 314h1v1h-1zM212.5 365h1v1h-1zM212.5 365.5h1v1h-1zM224.5 373h1v1h-1zM280 348.5h1v1h-1zM258.5 350h1v1h-1zM260 351.5h1v1h-1zM276 335.5h1v1h-1zM228.5 373h1v1h-1zM272 362h1v1h-1zM271.5 362.5h1v1h-1zM210.5 355.5h1v1h-1zM257.5 372.5h1v1h-1zM258.5 371.5h1v1h-1zM230 374h1v1h-1zM248.5 348.5h1v1h-1zM291.5 319h1v1h-1zM261 352h1v1h-1zM250.5 376h1v1h-1zM250.5 376.5h1v1h-1zM287.5 315.5h1v1h-1zM272.5 360.5h1v1h-1zM278 316h1v1h-1zM289 316h1v1h-1zM289 316.5h1v1h-1zM267.5 355.5h1v1h-1zM267.5 355h1v1h-1zM259.5 372.5h1v1h-1zM291.5 349.5h1v1h-1zM280.5 349h1v1h-1zM253.5 374.5h1v1h-1zM268.5 356.5h1v1h-1zM270 357h1v1h-1zM262 353h1v1h-1zM262 353.5h1v1h-1zM221.5 372h1v1h-1zM223 373h1v1h-1zM276.5 317.5h1v1h-1zM271 357h1v1h-1zM257 350h1v1h-1zM258 349.5h1v1h-1zM281 314h1v1h-1zM293.5 348.5h1v1h-1zM283.5 313.5h1v1h-1zM283.5 313h1v1h-1zM294.5 322h1v1h-1zM237.5 343h1v1h-1zM237.5 343.5h1v1h-1zM275.5 327h1v1h-1zM294.5 340h1v1h-1zM239 344h1v1h-1zM276.5 347.5h1v1h-1zM215.5 349.5h1v1h-1zM281.5 349h1v1h-1zM259.5 349h1v1h-1zM261.5 355.5h1v1h-1zM287 314.5h1v1h-1zM279.5 315.5h1v1h-1zM292 319.5h1v1h-1zM249 348.5h1v1h-1zM266 364h1v1h-1zM260 348h1v1h-1zM295.5 323.5h1v1h-1zM273 360h1v1h-1zM277.5 317h1v1h-1zM265 365h1v1h-1zM292 349h1v1h-1zM250.5 373h1v1h-1zM275.5 319.5h1v1h-1zM277 348h1v1h-1zM248 376h1v1h-1zM274.5 321.5h1v1h-1zM276 325h1v1h-1zM276 325.5h1v1h-1zM267 356.5h1v1h-1zM261 370.5h1v1h-1zM260 350.5h1v1h-1zM247.5 376.5h1v1h-1zM247.5 376h1v1h-1zM296 328h1v1h-1zM269 362h1v1h-1zM252 376.5h1v1h-1zM252 376h1v1h-1zM253 375.5h1v1h-1zM282.5 352h1v1h-1zM294.5 326h1v1h-1zM252.5 375.5h1v1h-1zM279 348h1v1h-1z" fill="#284898" opacity="0.8"/>
<path d="M292.5 347h1v1h-1zM232 373.5h1v1h-1zM261 354h1v1h-1zM231.5 373h1v1h-1zM231.5 373.5h1v1h-1zM236 343.5h1v1h-1zM219.5 371.5h1v1h-1zM271 358h1v1h-1zM294 323.5h1v1h-1zM254 351h1v1h-1zM277.5 321.5h1v1h-1zM277.5 321h1v1h-1zM283 350h1v1h-1zM286 315.5h1v1h-1zM286 315h1v1h-1zM276 320h1v1h-1zM225 345h1v1h-1zM244.5 375.5h1v1h-1zM263 365.5h1v1h-1zM244.5 375h1v1h-1zM295 333.5h1v1h-1zM210.5 361.5h1v1h-1zM242 345.5h1v1h-1zM270 361h1v1h-1zM278 319h1v1h-1zM278 319.5h1v1h-1zM279 318.5h1v1h-1zM293.5 340h1v1h-1zM278.5 318.5h1v1h-1zM223.5 345.5h1v1h-1zM256 352h1v1h-1zM277 320.5h1v1h-1zM256.5 351.5h1v1h-1zM264.5 364h1v1h-1zM239.5 344h1v1h-1zM265.5 363.5h1v1h-1zM239.5 344.5h1v1h-1zM293.5 324h1v1h-1zM284.5 352h1v1h-1zM279 320h1v1h-1zM276.5 323h1v1h-1zM258.5 351h1v1h-1zM227.5 345.5h1v1h-1zM253.5 373.5h1v1h-1zM253.5 373h1v1h-1zM258.5 369.5h1v1h-1zM287.5 350h1v1h-1zM277 322h1v1h-1zM210.5 356h1v1h-1zM277 331h1v1h-1zM240 376h1v1h-1zM229.5 345h1v1h-1zM288 316.5h1v1h-1zM285.5 352.5h1v1h-1zM287.5 316h1v1h-1zM287.5 316.5h1v1h-1zM268 358h1v1h-1zM241.5 346.5h1v1h-1zM243 347.5h1v1h-1zM277 324h1v1h-1zM294 340.5h1v1h-1zM294 340h1v1h-1zM214 350.5h1v1h-1zM214 350h1v1h-1zM277.5 323h1v1h-1zM282 314.5h1v1h-1zM270 358.5h1v1h-1zM215 367.5h1v1h-1zM215 367h1v1h-1zM214.5 367h1v1h-1zM293 341h1v1h-1zM266 363.5h1v1h-1zM284 314h1v1h-1zM224 345h1v1h-1zM292 345h1v1h-1zM292 345.5h1v1h-1zM249 374h1v1h-1zM250 373h1v1h-1zM259 351h1v1h-1zM228 345h1v1h-1zM224 372.5h1v1h-1zM224 372h1v1h-1zM254 373.5h1v1h-1zM279 317h1v1h-1zM279 317.5h1v1h-1zM276.5 320.5h1v1h-1zM211 356.5h1v1h-1zM211 356h1v1h-1zM248 375.5h1v1h-1zM289.5 317h1v1h-1zM225.5 345h1v1h-1zM276.5 320h1v1h-1zM247.5 375h1v1h-1zM278.5 317h1v1h-1zM218.5 348h1v1h-1zM272 360.5h1v1h-1zM277 319.5h1v1h-1zM271.5 360h1v1h-1zM288 350.5h1v1h-1zM216.5 369h1v1h-1zM263.5 356.5h1v1h-1zM275.5 321.5h1v1h-1zM255.5 352h1v1h-1zM218 370h1v1h-1zM277.5 318h1v1h-1zM280 321.5h1v1h-1zM279 347.5h1v1h-1zM283.5 352.5h1v1h-1zM256 372h1v1h-1zM214 366.5h1v1h-1zM262 367h1v1h-1zM261.5 367h1v1h-1zM278 323.5h1v1h-1zM262.5 366h1v1h-1zM231 345h1v1h-1zM231 345.5h1v1h-1zM232 344h1v1h-1zM252.5 373h1v1h-1zM295 327.5h1v1h-1zM278 341.5h1v1h-1zM233 373.5h1v1h-1zM278 341h1v1h-1zM231.5 344.5h1v1h-1zM260 369.5h1v1h-1zM285.5 315.5h1v1h-1zM236.5 374.5h1v1h-1zM231.5 344h1v1h-1zM217.5 370.5h1v1h-1zM217.5 370h1v1h-1zM277.5 320.5h1v1h-1zM230.5 373.5h1v1h-1zM277.5 347.5h1v1h-1zM234.5 343h1v1h-1zM276.5 324.5h1v1h-1zM278.5 321.5h1v1h-1zM279.5 320h1v1h-1zM271 359h1v1h-1zM271 359.5h1v1h-1zM290 317h1v1h-1zM277.5 322h1v1h-1zM219 348.5h1v1h-1zM220 347h1v1h-1zM220 347.5h1v1h-1zM219.5 347h1v1h-1zM226 372.5h1v1h-1zM269 358.5h1v1h-1zM271 361.5h1v1h-1zM236 373h1v1h-1zM263 366h1v1h-1zM263 366.5h1v1h-1zM277 337h1v1h-1zM284 352h1v1h-1zM270.5 358h1v1h-1zM293.5 323h1v1h-1zM237 374.5h1v1h-1zM253.5 351.5h1v1h-1zM290 349.5h1v1h-1zM241 344h1v1h-1zM282.5 350h1v1h-1zM211.5 363.5h1v1h-1zM253 373.5h1v1h-1zM240.5 344.5h1v1h-1zM258 369h1v1h-1zM269.5 361.5h1v1h-1zM277 321h1v1h-1zM224.5 345.5h1v1h-1zM280 320h1v1h-1zM280 320.5h1v1h-1zM226.5 372h1v1h-1zM230.5 345.5h1v1h-1zM255 373.5h1v1h-1zM285 352.5h1v1h-1zM224.5 372.5h1v1h-1zM262.5 356.5h1v1h-1zM256.5 370.5h1v1h-1zM256.5 370h1v1h-1zM254.5 373.5h1v1h-1zM266 357h1v1h-1zM285.5 351.5h1v1h-1zM285.5 351h1v1h-1zM281.5 314.5h1v1h-1zM254.5 373h1v1h-1zM248.5 375.5h1v1h-1zM248.5 375h1v1h-1zM250 349.5h1v1h-1zM278 340.5h1v1h-1zM241.5 345.5h1v1h-1zM269.5 361h1v1h-1z" fill="#2848a8" opacity="0.8"/>
<path d="M260.5 367.5h1v1h-1zM294 339.5h1v1h-1zM294 339h1v1h-1zM218.5 370.5h1v1h-1zM218.5 370h1v1h-1zM252 351h1v1h-1zM252 351.5h1v1h-1zM287 318h1v1h-1zM287 318.5h1v1h-1zM267 358.5h1v1h-1zM267 358h1v1h-1zM285.5 316h1v1h-1zM276.5 335h1v1h-1zM279 341h1v1h-1zM276.5 335.5h1v1h-1zM244.5 373.5h1v1h-1zM237 344h1v1h-1zM214 351h1v1h-1zM214 351.5h1v1h-1zM291.5 323h1v1h-1zM280.5 323h1v1h-1zM270 359h1v1h-1zM259 368.5h1v1h-1zM245.5 374h1v1h-1zM262 364h1v1h-1zM228 371.5h1v1h-1zM228 371h1v1h-1zM284.5 320h1v1h-1zM257.5 366.5h1v1h-1zM284.5 320.5h1v1h-1zM255 370.5h1v1h-1zM286 348.5h1v1h-1zM288.5 317h1v1h-1zM288.5 317.5h1v1h-1zM267 362.5h1v1h-1zM211.5 362h1v1h-1zM267.5 361.5h1v1h-1zM287.5 348h1v1h-1zM248 348.5h1v1h-1zM279.5 344.5h1v1h-1zM289 349.5h1v1h-1zM279.5 344h1v1h-1zM259 354.5h1v1h-1zM214 364.5h1v1h-1zM251 350h1v1h-1zM262 359h1v1h-1zM262 359.5h1v1h-1zM293 337h1v1h-1zM237.5 374h1v1h-1zM257.5 352.5h1v1h-1zM239 375.5h1v1h-1zM226.5 346.5h1v1h-1zM260.5 357.5h1v1h-1zM294 338h1v1h-1zM263.5 359.5h1v1h-1zM218.5 369h1v1h-1zM218.5 369.5h1v1h-1zM232 372h1v1h-1zM252 350h1v1h-1zM287 317h1v1h-1zM240.5 375.5h1v1h-1zM221.5 371h1v1h-1zM232.5 371h1v1h-1zM221.5 371.5h1v1h-1zM276.5 325.5h1v1h-1zM266 361h1v1h-1zM276.5 334.5h1v1h-1zM247 375h1v1h-1zM290 318h1v1h-1zM256.5 355h1v1h-1zM256.5 355.5h1v1h-1zM248.5 351.5h1v1h-1zM293 323h1v1h-1zM259 367.5h1v1h-1zM290 345h1v1h-1zM283 318.5h1v1h-1zM290.5 344h1v1h-1zM283 315.5h1v1h-1zM249.5 352.5h1v1h-1zM284.5 319.5h1v1h-1zM241.5 348h1v1h-1zM282.5 349.5h1v1h-1zM286 320.5h1v1h-1zM221 349h1v1h-1zM294 333h1v1h-1zM294 333.5h1v1h-1zM294.5 332.5h1v1h-1zM283.5 350h1v1h-1zM283.5 350.5h1v1h-1zM224.5 371h1v1h-1zM224.5 371.5h1v1h-1zM252.5 353.5h1v1h-1zM236.5 345h1v1h-1zM258 352h1v1h-1zM267.5 360.5h1v1h-1zM279.5 325h1v1h-1zM252.5 371h1v1h-1zM252.5 371.5h1v1h-1zM278 330.5h1v1h-1zM217.5 350.5h1v1h-1zM287.5 347h1v1h-1zM287.5 347.5h1v1h-1zM217.5 368.5h1v1h-1zM259 353.5h1v1h-1zM259 353h1v1h-1zM282 318h1v1h-1zM239 347h1v1h-1zM293 327.5h1v1h-1zM262 358h1v1h-1zM239 374h1v1h-1zM220 370.5h1v1h-1zM290.5 348.5h1v1h-1zM283.5 318h1v1h-1zM283.5 318.5h1v1h-1zM240.5 347h1v1h-1zM263.5 358h1v1h-1zM255.5 354.5h1v1h-1zM255.5 354h1v1h-1zM265 359.5h1v1h-1zM240.5 374h1v1h-1zM221.5 370.5h1v1h-1zM286.5 350.5h1v1h-1zM233.5 344.5h1v1h-1zM278 325.5h1v1h-1zM276.5 333h1v1h-1zM258 356.5h1v1h-1zM216 350.5h1v1h-1zM235 372.5h1v1h-1zM278.5 342.5h1v1h-1zM248.5 350h1v1h-1zM248.5 350.5h1v1h-1zM259 357.5h1v1h-1zM229.5 346h1v1h-1zM229.5 346.5h1v1h-1zM281.5 347.5h1v1h-1zM262 362h1v1h-1zM293.5 330.5h1v1h-1zM293.5 330h1v1h-1zM262.5 361.5h1v1h-1zM262.5 361h1v1h-1zM283 314h1v1h-1zM293.5 339.5h1v1h-1zM283.5 322.5h1v1h-1zM288 347.5h1v1h-1zM251.5 351h1v1h-1zM286.5 318.5h1v1h-1zM221.5 347h1v1h-1zM213 353.5h1v1h-1zM221.5 347.5h1v1h-1zM254 354.5h1v1h-1zM263.5 362.5h1v1h-1zM263.5 362h1v1h-1zM294.5 331.5h1v1h-1zM213.5 352h1v1h-1zM285 350.5h1v1h-1zM243.5 374h1v1h-1zM285 350h1v1h-1zM252.5 352.5h1v1h-1zM244.5 348.5h1v1h-1zM244.5 348h1v1h-1zM236.5 344.5h1v1h-1zM258 351.5h1v1h-1zM281 316h1v1h-1zM269 360.5h1v1h-1zM278 338.5h1v1h-1zM258.5 359.5h1v1h-1zM289.5 346.5h1v1h-1zM289.5 346h1v1h-1zM282 317.5h1v1h-1zM290.5 320.5h1v1h-1zM247.5 349h1v1h-1zM247.5 349.5h1v1h-1zM282.5 316h1v1h-1zM282.5 316.5h1v1h-1zM293.5 334.5h1v1h-1zM290.5 347h1v1h-1zM242 375.5h1v1h-1zM234 371.5h1v1h-1zM285 318h1v1h-1zM263.5 357.5h1v1h-1zM263.5 357h1v1h-1zM255.5 353.5h1v1h-1zM265 358.5h1v1h-1zM221.5 369.5h1v1h-1zM223 370.5h1v1h-1zM235 344h1v1h-1zM279.5 319h1v1h-1zM281 320.5h1v1h-1zM266.5 358h1v1h-1zM278.5 323h1v1h-1zM258.5 354h1v1h-1zM250.5 350h1v1h-1zM216 367.5h1v1h-1zM257 368.5h1v1h-1zM238 373h1v1h-1zM259.5 355h1v1h-1zM259.5 355.5h1v1h-1zM261 356h1v1h-1zM293.5 329.5h1v1h-1zM253 352h1v1h-1zM262.5 360h1v1h-1zM290.5 342h1v1h-1zM293.5 338h1v1h-1zM283.5 321h1v1h-1zM283.5 321.5h1v1h-1zM251.5 350h1v1h-1zM286.5 317h1v1h-1zM232.5 346h1v1h-1zM246 349.5h1v1h-1zM265 362.5h1v1h-1zM213.5 351h1v1h-1zM212 356h1v1h-1zM265.5 361h1v1h-1zM254.5 370h1v1h-1zM277.5 335h1v1h-1zM277.5 335.5h1v1h-1zM246.5 375.5h1v1h-1zM246.5 375h1v1h-1zM280 347.5h1v1h-1zM291 347.5h1v1h-1zM291 347h1v1h-1zM289.5 318.5h1v1h-1zM278.5 327h1v1h-1zM278.5 327.5h1v1h-1zM258.5 358.5h1v1h-1zM258.5 358h1v1h-1zM260 359.5h1v1h-1zM263 361h1v1h-1zM278.5 345h1v1h-1zM289.5 345.5h1v1h-1zM292 348h1v1h-1zM250.5 372.5h1v1h-1zM290.5 319.5h1v1h-1zM282.5 315h1v1h-1zM282.5 315.5h1v1h-1zM242 347h1v1h-1zM242 347.5h1v1h-1zM261 360.5h1v1h-1zM261 360h1v1h-1zM220.5 349h1v1h-1zM228.5 371.5h1v1h-1zM211 359h1v1h-1zM242 374.5h1v1h-1zM240.5 345.5h1v1h-1zM231 346h1v1h-1zM265 357.5h1v1h-1zM288.5 349.5h1v1h-1zM215 365h1v1h-1zM231.5 372h1v1h-1zM277.5 339.5h1v1h-1zM291 342.5h1v1h-1zM237 371h1v1h-1zM238 345h1v1h-1zM258.5 353.5h1v1h-1zM281.5 318h1v1h-1zM292 325.5h1v1h-1zM281.5 318.5h1v1h-1zM260 354h1v1h-1zM284 321.5h1v1h-1zM238 372.5h1v1h-1zM249 372h1v1h-1zM284 348h1v1h-1zM282.5 319.5h1v1h-1zM223 346h1v1h-1zM223 346.5h1v1h-1zM246 348.5h1v1h-1zM246 348h1v1h-1zM279 345.5h1v1h-1zM212 355.5h1v1h-1zM277 326.5h1v1h-1zM287 349.5h1v1h-1zM215 351.5h1v1h-1zM265.5 360.5h1v1h-1zM277.5 325.5h1v1h-1zM212.5 363h1v1h-1zM256 370.5h1v1h-1zM246.5 374h1v1h-1zM280 346.5h1v1h-1zM291 346h1v1h-1zM257 353.5h1v1h-1zM229 371.5h1v1h-1zM278.5 326h1v1h-1zM258.5 357h1v1h-1zM258.5 357.5h1v1h-1zM241 345.5h1v1h-1zM260 358.5h1v1h-1zM260 367.5h1v1h-1zM260.5 366.5h1v1h-1zM238.5 375.5h1v1h-1zM283 347.5h1v1h-1zM220.5 348.5h1v1h-1zM220.5 348h1v1h-1zM261.5 358h1v1h-1zM261.5 358.5h1v1h-1zM211 358.5h1v1h-1zM219.5 370h1v1h-1zM244 373h1v1h-1zM280 323h1v1h-1zM280 323.5h1v1h-1zM231.5 371h1v1h-1zM245 374h1v1h-1zM245.5 373h1v1h-1zM292 324.5h1v1h-1zM227.5 346.5h1v1h-1zM260 353.5h1v1h-1zM257.5 356.5h1v1h-1zM257.5 356h1v1h-1zM292.5 323h1v1h-1zM260.5 361.5h1v1h-1zM241.5 375h1v1h-1zM242.5 349h1v1h-1zM267 361.5h1v1h-1zM279 326h1v1h-1zM287 348h1v1h-1zM234.5 372.5h1v1h-1zM234.5 372h1v1h-1zM265.5 359.5h1v1h-1zM264 364h1v1h-1zM264.5 363h1v1h-1zM256 369h1v1h-1zM223.5 371h1v1h-1zM291 345.5h1v1h-1zM291 345h1v1h-1zM256.5 368h1v1h-1zM235.5 345.5h1v1h-1zM257 352h1v1h-1zM284 315.5h1v1h-1zM248.5 373.5h1v1h-1zM281.5 321h1v1h-1zM284 315h1v1h-1zM260 357h1v1h-1zM238.5 347h1v1h-1zM268.5 360.5h1v1h-1zM260.5 356.5h1v1h-1zM294 328h1v1h-1zM263 359h1v1h-1zM218 369h1v1h-1zM260.5 365.5h1v1h-1zM294 337h1v1h-1zM238.5 374h1v1h-1zM221 371h1v1h-1zM232 371h1v1h-1zM261.5 357.5h1v1h-1zM287 316h1v1h-1zM233 345h1v1h-1zM233 345.5h1v1h-1zM261.5 366h1v1h-1zM233 372.5h1v1h-1zM256 355h1v1h-1zM291 322h1v1h-1zM277.5 328.5h1v1h-1zM280 322.5h1v1h-1zM280.5 321.5h1v1h-1zM259 366h1v1h-1zM214.5 366h1v1h-1zM291.5 348h1v1h-1zM251 371.5h1v1h-1zM251 371h1v1h-1zM241 348h1v1h-1zM257.5 355.5h1v1h-1zM284.5 318h1v1h-1zM260.5 360h1v1h-1zM263 363.5h1v1h-1zM263 363h1v1h-1zM241.5 374h1v1h-1zM234.5 344h1v1h-1zM244 349.5h1v1h-1zM234.5 344.5h1v1h-1zM279 325.5h1v1h-1zM267.5 359.5h1v1h-1zM231.5 347.5h1v1h-1zM236 372h1v1h-1zM237 346h1v1h-1zM226 346h1v1h-1zM236.5 371.5h1v1h-1zM225.5 371.5h1v1h-1zM279.5 342h1v1h-1zM245.5 349.5h1v1h-1zM264.5 362h1v1h-1zM237.5 345h1v1h-1zM259 352h1v1h-1zM256.5 367h1v1h-1zM262 357.5h1v1h-1zM237.5 372h1v1h-1zM218 350.5h1v1h-1zM268.5 359h1v1h-1zM268.5 359.5h1v1h-1zM240 347h1v1h-1zM240 347.5h1v1h-1zM283 318h1v1h-1zM294 327.5h1v1h-1zM294 327h1v1h-1zM263 358h1v1h-1zM260.5 364.5h1v1h-1zM260.5 364h1v1h-1zM255 354h1v1h-1zM221 370.5h1v1h-1zM286 350.5h1v1h-1zM286.5 349.5h1v1h-1zM286.5 349h1v1h-1zM211.5 355.5h1v1h-1zM276.5 332h1v1h-1zM235 371h1v1h-1zM235 371.5h1v1h-1zM264.5 357h1v1h-1zM256.5 353h1v1h-1zM248.5 349.5h1v1h-1zM259 356h1v1h-1zM251 352.5h1v1h-1zM262 361h1v1h-1zM282 348h1v1h-1zM257.5 354.5h1v1h-1zM284.5 317h1v1h-1zM283 322.5h1v1h-1zM230.5 346.5h1v1h-1zM286 318.5h1v1h-1zM294 331.5h1v1h-1zM263 362h1v1h-1zM213 352.5h1v1h-1zM210.5 358.5h1v1h-1zM263.5 361.5h1v1h-1zM263.5 361h1v1h-1zM294.5 330.5h1v1h-1zM252 352h1v1h-1zM283.5 348h1v1h-1zM243.5 373h1v1h-1zM279 324h1v1h-1zM279.5 323h1v1h-1zM278 328.5h1v1h-1zM258 368h1v1h-1zM244.5 374.5h1v1h-1zM245.5 348h1v1h-1zM280.5 315.5h1v1h-1zM282 316.5h1v1h-1zM291.5 324h1v1h-1zM291.5 324.5h1v1h-1zM293 325h1v1h-1zM262 356.5h1v1h-1zM228 372h1v1h-1zM228 372.5h1v1h-1zM262.5 364h1v1h-1zM283 317.5h1v1h-1zM240 346.5h1v1h-1zM283.5 316.5h1v1h-1zM255 353.5h1v1h-1zM286.5 348h1v1h-1zM266 358.5h1v1h-1zM258 354.5h1v1h-1zM250 350.5h1v1h-1zM278 332.5h1v1h-1zM279.5 345.5h1v1h-1zM279.5 345h1v1h-1zM256.5 352.5h1v1h-1zM280.5 319.5h1v1h-1zM259 355.5h1v1h-1zM282 320.5h1v1h-1zM262 360.5h1v1h-1zM262.5 359.5h1v1h-1zM220.5 371.5h1v1h-1zM286.5 316h1v1h-1zM232.5 345.5h1v1h-1zM232.5 345h1v1h-1zM263.5 360h1v1h-1zM263.5 360.5h1v1h-1zM294.5 329h1v1h-1zM265 361h1v1h-1zM265 361.5h1v1h-1zM277 335.5h1v1h-1zM246 375h1v1h-1zM246 375.5h1v1h-1zM276.5 326h1v1h-1zM247 349.5h1v1h-1zM266 362h1v1h-1zM278 327.5h1v1h-1zM278 327h1v1h-1zM281 323.5h1v1h-1zM281 323h1v1h-1zM258 367h1v1h-1zM266.5 361.5h1v1h-1zM258.5 366.5h1v1h-1zM289.5 344.5h1v1h-1zM278.5 344h1v1h-1zM293 324.5h1v1h-1zM290.5 318.5h1v1h-1zM290.5 318h1v1h-1zM220 349h1v1h-1zM259.5 358h1v1h-1zM261 359h1v1h-1zM259.5 367.5h1v1h-1zM293.5 332h1v1h-1zM262.5 363h1v1h-1zM261 368h1v1h-1zM261 368.5h1v1h-1zM240 345.5h1v1h-1zM285 316.5h1v1h-1zM285 316h1v1h-1zM288 349.5h1v1h-1zM288 349h1v1h-1zM243.5 349h1v1h-1zM231 372h1v1h-1zM252.5 354.5h1v1h-1zM225.5 346h1v1h-1zM236.5 346h1v1h-1zM279.5 326h1v1h-1zM292 342.5h1v1h-1zM289.5 348h1v1h-1zM282 319h1v1h-1zM290.5 322h1v1h-1zM259.5 353.5h1v1h-1zM259.5 353h1v1h-1zM282.5 318.5h1v1h-1zM239.5 347h1v1h-1zM239.5 347.5h1v1h-1zM293.5 327.5h1v1h-1zM220.5 370.5h1v1h-1zM220.5 370h1v1h-1zM222 371.5h1v1h-1zM222 371h1v1h-1zM294.5 328.5h1v1h-1zM285 320h1v1h-1zM255.5 355.5h1v1h-1zM265 360h1v1h-1zM212 354h1v1h-1zM215 350h1v1h-1zM277 334.5h1v1h-1zM277 334h1v1h-1zM246 374.5h1v1h-1zM233.5 345.5h1v1h-1zM246.5 373h1v1h-1zM246.5 373.5h1v1h-1zM280 345.5h1v1h-1zM280 345h1v1h-1zM278 326.5h1v1h-1zM266.5 360.5h1v1h-1zM258.5 356h1v1h-1zM250.5 352.5h1v1h-1zM235.5 372.5h1v1h-1zM292 346h1v1h-1zM216.5 368.5h1v1h-1zM230 371h1v1h-1zM220 348h1v1h-1zM284 351h1v1h-1zM220.5 347h1v1h-1zM253 354.5h1v1h-1zM261 367h1v1h-1zM211 357.5h1v1h-1zM219 370h1v1h-1zM253 372h1v1h-1zM251.5 352h1v1h-1zM251.5 352.5h1v1h-1zM253.5 371h1v1h-1zM243.5 348.5h1v1h-1zM288.5 347.5h1v1h-1zM231 371.5h1v1h-1zM254.5 372h1v1h-1zM277.5 337.5h1v1h-1zM245 373.5h1v1h-1zM281 317h1v1h-1zM281 317.5h1v1h-1zM227 346.5h1v1h-1zM281.5 316.5h1v1h-1zM269.5 360h1v1h-1zM295 328h1v1h-1zM289.5 347h1v1h-1zM227.5 372h1v1h-1zM290.5 321h1v1h-1zM241 375h1v1h-1zM241 375.5h1v1h-1zM239.5 346h1v1h-1zM282.5 317h1v1h-1zM262.5 357h1v1h-1zM261 362.5h1v1h-1zM234 345h1v1h-1zM261 362h1v1h-1zM293.5 335.5h1v1h-1zM222 370.5h1v1h-1zM285 319.5h1v1h-1zM285.5 318h1v1h-1zM277 333h1v1h-1zM264 363.5h1v1h-1zM291 344h1v1h-1zM215.5 366h1v1h-1zM237 373.5h1v1h-1zM280 344.5h1v1h-1zM235.5 344.5h1v1h-1zM291 344.5h1v1h-1zM266.5 359.5h1v1h-1zM258.5 355h1v1h-1zM258.5 355.5h1v1h-1zM268 360.5h1v1h-1zM250.5 351.5h1v1h-1zM257 369h1v1h-1zM260 365.5h1v1h-1zM284 350h1v1h-1zM261 357.5h1v1h-1zM284.5 349.5h1v1h-1zM253.5 352h1v1h-1zM285.5 322h1v1h-1zM254.5 353.5h1v1h-1zM264 358.5h1v1h-1zM264 358h1v1h-1zM246.5 349h1v1h-1zM265.5 362h1v1h-1zM277.5 327h1v1h-1zM254.5 371h1v1h-1zM254.5 371.5h1v1h-1zM291 348h1v1h-1zM291 348.5h1v1h-1zM257 355.5h1v1h-1zM281.5 315h1v1h-1zM281.5 315.5h1v1h-1zM249 351.5h1v1h-1zM280.5 347.5h1v1h-1zM292 322.5h1v1h-1zM241 347h1v1h-1zM292.5 339.5h1v1h-1zM260.5 368.5h1v1h-1zM242 348.5h1v1h-1zM211 360h1v1h-1zM211 360.5h1v1h-1zM267 359h1v1h-1zM222 369h1v1h-1zM222 369.5h1v1h-1zM285.5 317h1v1h-1zM236 371h1v1h-1zM236 371.5h1v1h-1zM245 349h1v1h-1zM264 362.5h1v1h-1zM280 325h1v1h-1zM280 343h1v1h-1zM280 343.5h1v1h-1zM248 372h1v1h-1zM238 346h1v1h-1zM268 359.5h1v1h-1zM281.5 319h1v1h-1zM260.5 363h1v1h-1zM249.5 372h1v1h-1zM249.5 372.5h1v1h-1zM284.5 348.5h1v1h-1zM255 371.5h1v1h-1zM284.5 348h1v1h-1zM286 349.5h1v1h-1zM219.5 349.5h1v1h-1zM287 350.5h1v1h-1zM285.5 321.5h1v1h-1zM279 346.5h1v1h-1zM223.5 346h1v1h-1zM223.5 346.5h1v1h-1zM277.5 326h1v1h-1zM248 349.5h1v1h-1zM249 350h1v1h-1zM291.5 346.5h1v1h-1zM280.5 346h1v1h-1zM282 347.5h1v1h-1zM283 321.5h1v1h-1zM260.5 358.5h1v1h-1zM263 361.5h1v1h-1z" fill="#2858a8" opacity="0.8"/>
<path d="M246.5 350h1v1h-1zM292 326h1v1h-1zM240 374h1v1h-1zM212 361h1v1h-1zM212.5 354.5h1v1h-1zM212.5 354h1v1h-1zM256.5 366h1v1h-1zM243 373.5h1v1h-1zM243 373h1v1h-1zM285.5 347.5h1v1h-1zM219.5 350h1v1h-1zM220 350.5h1v1h-1zM284 347h1v1h-1zM284 347.5h1v1h-1zM253.5 355.5h1v1h-1zM277.5 334.5h1v1h-1zM234.5 345.5h1v1h-1zM234.5 345h1v1h-1zM235.5 346h1v1h-1zM278 333.5h1v1h-1zM292 326.5h1v1h-1zM239.5 374.5h1v1h-1zM239.5 374h1v1h-1zM278 333h1v1h-1zM211.5 361h1v1h-1zM253.5 370.5h1v1h-1zM253.5 370h1v1h-1zM260 364.5h1v1h-1zM257.5 358.5h1v1h-1zM242.5 373.5h1v1h-1zM260 364h1v1h-1zM290 319.5h1v1h-1zM290 319h1v1h-1zM246 350.5h1v1h-1zM212 357h1v1h-1zM291.5 326.5h1v1h-1zM221 369.5h1v1h-1zM259 365h1v1h-1zM252 353.5h1v1h-1zM224.5 370h1v1h-1zM224.5 370.5h1v1h-1zM259 365.5h1v1h-1zM288.5 318.5h1v1h-1zM289.5 319h1v1h-1zM211.5 357.5h1v1h-1zM253 370.5h1v1h-1zM253 370h1v1h-1zM220.5 369h1v1h-1zM257.5 357.5h1v1h-1zM258.5 365.5h1v1h-1zM251.5 353h1v1h-1zM247 372h1v1h-1zM292.5 336h1v1h-1zM223 347.5h1v1h-1zM279.5 341h1v1h-1zM292 340.5h1v1h-1zM256 368.5h1v1h-1zM284.5 347h1v1h-1zM235 345h1v1h-1zM291.5 340.5h1v1h-1zM246.5 372h1v1h-1zM280 341h1v1h-1zM280 341.5h1v1h-1zM288 318.5h1v1h-1zM247 350.5h1v1h-1zM252 370.5h1v1h-1zM220 369h1v1h-1zM220 369.5h1v1h-1zM278 334.5h1v1h-1zM254 355.5h1v1h-1z" fill="#2868a8" opacity="0.8"/>
<path d="M255 366.5h1v1h-1zM241.5 372h1v1h-1zM233 347h1v1h-1zM252 369h1v1h-1zM211.5 358h1v1h-1zM279 332h1v1h-1zM279 332.5h1v1h-1zM287 345.5h1v1h-1zM279.5 340h1v1h-1zM256 357h1v1h-1zM291 324.5h1v1h-1zM248 353.5h1v1h-1zM280.5 341.5h1v1h-1zM237.5 370h1v1h-1zM249.5 353h1v1h-1zM241.5 349.5h1v1h-1zM292.5 333h1v1h-1zM213 355h1v1h-1zM213 355.5h1v1h-1zM242.5 350h1v1h-1zM225 347h1v1h-1zM279 336h1v1h-1zM247 371h1v1h-1zM247 371.5h1v1h-1zM237 348.5h1v1h-1zM280.5 327h1v1h-1zM291.5 327.5h1v1h-1zM291.5 327h1v1h-1zM280.5 345.5h1v1h-1zM280.5 345h1v1h-1zM229.5 370.5h1v1h-1zM229.5 370h1v1h-1zM292.5 328h1v1h-1zM240 349.5h1v1h-1zM284.5 324.5h1v1h-1zM255 356.5h1v1h-1zM255 365.5h1v1h-1zM243 372.5h1v1h-1zM255.5 364.5h1v1h-1zM222.5 348.5h1v1h-1zM222.5 348h1v1h-1zM279 331h1v1h-1zM287.5 325.5h1v1h-1zM279 331.5h1v1h-1zM244.5 372.5h1v1h-1zM279.5 339.5h1v1h-1zM289 344h1v1h-1zM279.5 339h1v1h-1zM250 371.5h1v1h-1zM256.5 364h1v1h-1zM282 323h1v1h-1zM251 354h1v1h-1zM282 323.5h1v1h-1zM228 370.5h1v1h-1zM239 370h1v1h-1zM228 370h1v1h-1zM283.5 323h1v1h-1zM283.5 323.5h1v1h-1zM254 364.5h1v1h-1zM244 350.5h1v1h-1zM287.5 320h1v1h-1zM217 351.5h1v1h-1zM247 352.5h1v1h-1zM281 344.5h1v1h-1zM290 322h1v1h-1zM228 347.5h1v1h-1zM282 345h1v1h-1zM240 348.5h1v1h-1zM239.5 373h1v1h-1zM286.5 323.5h1v1h-1zM255.5 363h1v1h-1zM232.5 370.5h1v1h-1zM279.5 329h1v1h-1zM258 365.5h1v1h-1zM290 326h1v1h-1zM251 353h1v1h-1zM290.5 325.5h1v1h-1zM285 323.5h1v1h-1zM285 323h1v1h-1zM254 363h1v1h-1zM255.5 367.5h1v1h-1zM286.5 345h1v1h-1zM287.5 319h1v1h-1zM287.5 319.5h1v1h-1zM289 320h1v1h-1zM289 320.5h1v1h-1zM281 325.5h1v1h-1zM278.5 337h1v1h-1zM217.5 367.5h1v1h-1zM278.5 337.5h1v1h-1zM290 321.5h1v1h-1zM290 321h1v1h-1zM281.5 342h1v1h-1zM214.5 352h1v1h-1zM281.5 342.5h1v1h-1zM220.5 368h1v1h-1zM251.5 355.5h1v1h-1zM224.5 347.5h1v1h-1zM246 372h1v1h-1zM254.5 366.5h1v1h-1zM246.5 371.5h1v1h-1zM246.5 371h1v1h-1zM236.5 348.5h1v1h-1zM289 324h1v1h-1zM289.5 323h1v1h-1zM289.5 323.5h1v1h-1zM278.5 332.5h1v1h-1zM235.5 370.5h1v1h-1zM235.5 370h1v1h-1zM216.5 366.5h1v1h-1zM290.5 324.5h1v1h-1zM247.5 353.5h1v1h-1zM288 319.5h1v1h-1zM219 368.5h1v1h-1zM219 368h1v1h-1zM288 346.5h1v1h-1zM254 362.5h1v1h-1zM245 371.5h1v1h-1zM289 319.5h1v1h-1zM289 319h1v1h-1zM235.5 347h1v1h-1zM235.5 347.5h1v1h-1zM250.5 354h1v1h-1zM292 339h1v1h-1zM227.5 370h1v1h-1zM241 373h1v1h-1zM288 323.5h1v1h-1zM234 370.5h1v1h-1zM286.5 321.5h1v1h-1zM243.5 350h1v1h-1zM243.5 350.5h1v1h-1zM212 360h1v1h-1zM212 360.5h1v1h-1zM254.5 356.5h1v1h-1zM254.5 356h1v1h-1zM254.5 365.5h1v1h-1zM248 371.5h1v1h-1zM248 371h1v1h-1zM289.5 322h1v1h-1zM257 358h1v1h-1zM278.5 331.5h1v1h-1zM249 354h1v1h-1zM278.5 331h1v1h-1zM260 363.5h1v1h-1zM281.5 345.5h1v1h-1zM290.5 323.5h1v1h-1zM247.5 352h1v1h-1zM238.5 371h1v1h-1zM239.5 348h1v1h-1zM219 367h1v1h-1zM219 367.5h1v1h-1zM280 328h1v1h-1zM216.5 351h1v1h-1zM216.5 351.5h1v1h-1zM278.5 335.5h1v1h-1zM222 349.5h1v1h-1zM253.5 363.5h1v1h-1zM246.5 351.5h1v1h-1zM254.5 364h1v1h-1zM291 323.5h1v1h-1zM248 352.5h1v1h-1zM291 323h1v1h-1zM291 341.5h1v1h-1zM291 341h1v1h-1zM226 370h1v1h-1zM237 370.5h1v1h-1zM289.5 321.5h1v1h-1zM257 357h1v1h-1zM249 353h1v1h-1zM241 349.5h1v1h-1zM260 362.5h1v1h-1zM238.5 370h1v1h-1zM284.5 346.5h1v1h-1zM284.5 346h1v1h-1zM234 346.5h1v1h-1zM234 346h1v1h-1zM252 354.5h1v1h-1zM287 321h1v1h-1zM231.5 348h1v1h-1zM226 347.5h1v1h-1zM280 327h1v1h-1zM212.5 362.5h1v1h-1zM212.5 362h1v1h-1zM229 370h1v1h-1zM238 348h1v1h-1zM218 351h1v1h-1zM283 346h1v1h-1zM218.5 368.5h1v1h-1zM283 346.5h1v1h-1zM243 371h1v1h-1zM288.5 320.5h1v1h-1zM253.5 362.5h1v1h-1zM285.5 323h1v1h-1zM248 351h1v1h-1zM256 364.5h1v1h-1zM229 347.5h1v1h-1zM229 347h1v1h-1zM245.5 372h1v1h-1zM245.5 372.5h1v1h-1zM291.5 339.5h1v1h-1zM255 368.5h1v1h-1zM255 368h1v1h-1zM213 362.5h1v1h-1zM286 346.5h1v1h-1zM287 320h1v1h-1zM288.5 324h1v1h-1zM211.5 360h1v1h-1zM211.5 360.5h1v1h-1zM245 350.5h1v1h-1zM287.5 346.5h1v1h-1zM214 353.5h1v1h-1zM214 353h1v1h-1zM256.5 358h1v1h-1zM280.5 325h1v1h-1zM280.5 325.5h1v1h-1zM248.5 354.5h1v1h-1zM259 361.5h1v1h-1zM293 335.5h1v1h-1zM280.5 343.5h1v1h-1zM280.5 343h1v1h-1zM239 373.5h1v1h-1zM249.5 355.5h1v1h-1zM286 323h1v1h-1zM232 370h1v1h-1zM240.5 373h1v1h-1zM288.5 319.5h1v1h-1zM287 324h1v1h-1zM288.5 319h1v1h-1zM287 324.5h1v1h-1zM287.5 323.5h1v1h-1zM287.5 323h1v1h-1zM279.5 328.5h1v1h-1zM258 364h1v1h-1zM233.5 370.5h1v1h-1zM245.5 371.5h1v1h-1zM291.5 338.5h1v1h-1zM290 343.5h1v1h-1zM251 370h1v1h-1zM255.5 366.5h1v1h-1zM255.5 366h1v1h-1zM287 319.5h1v1h-1zM287 319h1v1h-1zM233.5 347h1v1h-1zM252.5 369.5h1v1h-1zM258 359h1v1h-1zM258 359.5h1v1h-1zM287.5 345.5h1v1h-1zM287.5 345h1v1h-1zM236.5 370.5h1v1h-1zM225.5 370h1v1h-1zM225.5 370.5h1v1h-1zM256.5 357h1v1h-1zM248.5 353.5h1v1h-1zM293 334h1v1h-1zM248.5 371.5h1v1h-1zM282 343h1v1h-1zM282 343.5h1v1h-1zM239 372.5h1v1h-1zM220 368.5h1v1h-1zM220 368h1v1h-1zM224 347.5h1v1h-1zM251.5 354h1v1h-1zM251.5 354.5h1v1h-1zM213 356h1v1h-1zM213 356.5h1v1h-1zM221.5 368.5h1v1h-1zM246 371h1v1h-1zM287.5 322.5h1v1h-1zM244.5 351h1v1h-1zM225.5 347h1v1h-1zM235 370h1v1h-1zM290 324h1v1h-1zM239 349.5h1v1h-1zM293 329.5h1v1h-1zM226.5 347.5h1v1h-1zM282.5 346h1v1h-1zM282.5 346.5h1v1h-1zM240.5 349h1v1h-1zM255.5 356h1v1h-1zM255.5 356.5h1v1h-1zM255.5 365h1v1h-1zM255.5 365.5h1v1h-1zM243.5 372h1v1h-1zM243.5 372.5h1v1h-1zM233.5 346h1v1h-1zM235 347.5h1v1h-1zM235 347h1v1h-1zM281 341.5h1v1h-1zM281 341h1v1h-1zM227 370.5h1v1h-1zM282 324h1v1h-1zM293 333h1v1h-1zM282.5 323.5h1v1h-1zM282.5 323h1v1h-1zM228.5 370h1v1h-1zM242 373h1v1h-1zM243 350.5h1v1h-1zM254 356.5h1v1h-1zM246 352.5h1v1h-1zM246 352h1v1h-1zM213.5 363h1v1h-1zM223 368h1v1h-1zM287.5 321.5h1v1h-1zM227 347h1v1h-1zM281 327h1v1h-1zM281 327.5h1v1h-1zM278.5 330.5h1v1h-1zM278.5 330h1v1h-1zM258.5 361.5h1v1h-1zM238 371h1v1h-1zM249 371h1v1h-1zM239 348h1v1h-1zM281.5 344.5h1v1h-1zM247.5 351h1v1h-1zM247.5 351.5h1v1h-1zM259.5 362.5h1v1h-1zM282.5 345.5h1v1h-1zM282.5 345h1v1h-1zM286.5 324.5h1v1h-1zM254 369.5h1v1h-1zM254 369h1v1h-1zM254.5 368h1v1h-1zM285.5 346h1v1h-1zM289.5 343h1v1h-1zM250.5 370.5h1v1h-1zM288 321h1v1h-1zM242.5 371.5h1v1h-1zM286.5 319h1v1h-1zM232.5 348h1v1h-1zM246 351.5h1v1h-1zM213.5 353.5h1v1h-1zM212 358.5h1v1h-1zM212 358h1v1h-1zM231.5 370h1v1h-1zM289 321h1v1h-1zM280 340h1v1h-1zM281 326.5h1v1h-1zM281 326h1v1h-1zM249 352.5h1v1h-1zM258.5 360.5h1v1h-1zM257 365.5h1v1h-1zM258.5 360h1v1h-1zM260 361.5h1v1h-1zM238 370h1v1h-1zM281.5 343h1v1h-1zM284 346h1v1h-1zM284 346.5h1v1h-1zM242 349h1v1h-1zM288 325.5h1v1h-1zM288 325h1v1h-1zM292 327h1v1h-1zM292 327.5h1v1h-1zM258.5 364h1v1h-1zM284 323h1v1h-1zM292.5 335h1v1h-1zM292.5 335.5h1v1h-1zM230 370h1v1h-1zM247.5 354h1v1h-1zM238.5 373h1v1h-1zM238.5 373.5h1v1h-1zM219.5 368.5h1v1h-1zM279 338h1v1h-1zM279 338.5h1v1h-1zM223.5 347h1v1h-1zM254.5 362h1v1h-1zM212.5 356.5h1v1h-1zM212.5 356h1v1h-1zM256 363h1v1h-1zM245 372h1v1h-1zM280 339h1v1h-1zM257 364.5h1v1h-1zM230 347h1v1h-1zM250.5 355.5h1v1h-1zM230 347.5h1v1h-1zM257 364h1v1h-1zM281.5 324.5h1v1h-1zM281.5 324h1v1h-1zM241.5 373.5h1v1h-1zM288 324h1v1h-1zM288.5 323.5h1v1h-1zM287 346.5h1v1h-1zM291 325h1v1h-1zM291 325.5h1v1h-1zM248 354h1v1h-1zM256 367h1v1h-1zM223.5 369h1v1h-1zM257 359.5h1v1h-1zM257 359h1v1h-1zM249.5 354h1v1h-1zM292.5 334.5h1v1h-1zM292.5 334h1v1h-1zM226.5 370.5h1v1h-1zM238.5 372h1v1h-1zM255 362.5h1v1h-1zM255 362h1v1h-1zM240 373.5h1v1h-1zM234.5 347.5h1v1h-1zM253.5 369h1v1h-1zM233 370h1v1h-1zM279 337.5h1v1h-1zM212.5 355.5h1v1h-1zM280 329h1v1h-1zM215.5 351.5h1v1h-1zM259 364h1v1h-1zM259 364.5h1v1h-1zM238.5 349.5h1v1h-1z" fill="#2868a8" opacity="0.9"/>
<path d="M255 357.5h1v1h-1zM284.5 343.5h1v1h-1zM286 344h1v1h-1zM286 344.5h1v1h-1zM288.5 322.5h1v1h-1zM222.5 349.5h1v1h-1zM252.5 368.5h1v1h-1zM252.5 368h1v1h-1zM287.5 344.5h1v1h-1zM248 362.5h1v1h-1zM248.5 370.5h1v1h-1zM248.5 370h1v1h-1zM283 325h1v1h-1zM283 325.5h1v1h-1zM226.5 369h1v1h-1zM255 361h1v1h-1zM255 361.5h1v1h-1zM240 372h1v1h-1zM283.5 342.5h1v1h-1zM244 351h1v1h-1zM244 351.5h1v1h-1zM244 369.5h1v1h-1zM248.5 356.5h1v1h-1zM259 363.5h1v1h-1zM259 363h1v1h-1zM291.5 336.5h1v1h-1zM251 368h1v1h-1zM251 368.5h1v1h-1zM218.5 351.5h1v1h-1zM286 325.5h1v1h-1zM286 343h1v1h-1zM224 368.5h1v1h-1zM224 368h1v1h-1zM287 326h1v1h-1zM279.5 330.5h1v1h-1zM279.5 330h1v1h-1zM287.5 343.5h1v1h-1zM281 340.5h1v1h-1zM290 327.5h1v1h-1zM293 332h1v1h-1zM237.5 369h1v1h-1zM282 341.5h1v1h-1zM282 341h1v1h-1zM283 324h1v1h-1zM230.5 348h1v1h-1zM283 324.5h1v1h-1zM232 349h1v1h-1zM255 360.5h1v1h-1zM221 367.5h1v1h-1zM255.5 359.5h1v1h-1zM255.5 359h1v1h-1zM240.5 370.5h1v1h-1zM252.5 362.5h1v1h-1zM252.5 362h1v1h-1zM258 361h1v1h-1zM247 361.5h1v1h-1zM214.5 353.5h1v1h-1zM248.5 355h1v1h-1zM248.5 355.5h1v1h-1zM282.5 344h1v1h-1zM282.5 344.5h1v1h-1zM213 358h1v1h-1zM243.5 352h1v1h-1zM283.5 345.5h1v1h-1zM283.5 345h1v1h-1zM252.5 357h1v1h-1zM244.5 353h1v1h-1zM236.5 349.5h1v1h-1zM279.5 338h1v1h-1zM289 343.5h1v1h-1zM289 343h1v1h-1zM250 370h1v1h-1zM242 371.5h1v1h-1zM255.5 358h1v1h-1zM233.5 348.5h1v1h-1zM235 349.5h1v1h-1zM250 356.5h1v1h-1zM257.5 362h1v1h-1zM284 345h1v1h-1zM220 351h1v1h-1zM282.5 325.5h1v1h-1zM253 357h1v1h-1zM282.5 343h1v1h-1zM253 366.5h1v1h-1zM239.5 372.5h1v1h-1zM239.5 372h1v1h-1zM253 366h1v1h-1zM224 348.5h1v1h-1zM224 348h1v1h-1zM243.5 351.5h1v1h-1zM254 358h1v1h-1zM246 354.5h1v1h-1zM255.5 362h1v1h-1zM285 345.5h1v1h-1zM232.5 369h1v1h-1zM232.5 369.5h1v1h-1zM243.5 369.5h1v1h-1zM285.5 344h1v1h-1zM244.5 352.5h1v1h-1zM281 329.5h1v1h-1zM258.5 363.5h1v1h-1zM258.5 363h1v1h-1zM289.5 341h1v1h-1zM250.5 368h1v1h-1zM239 350h1v1h-1zM230 369h1v1h-1zM234 348.5h1v1h-1zM242 370h1v1h-1zM240.5 350h1v1h-1zM286.5 326.5h1v1h-1zM231 369.5h1v1h-1zM254.5 361.5h1v1h-1zM254.5 361h1v1h-1zM235 348.5h1v1h-1zM235 348h1v1h-1zM281.5 341.5h1v1h-1zM284 344.5h1v1h-1zM282.5 324.5h1v1h-1zM253 356h1v1h-1zM253 365.5h1v1h-1zM253 365h1v1h-1zM220.5 367h1v1h-1zM221.5 350h1v1h-1zM254 357.5h1v1h-1zM234.5 369h1v1h-1zM221.5 350.5h1v1h-1zM246 353.5h1v1h-1zM254 357h1v1h-1zM285.5 325.5h1v1h-1zM285.5 343.5h1v1h-1zM285.5 343h1v1h-1zM223.5 368h1v1h-1zM258.5 362h1v1h-1zM258.5 362.5h1v1h-1zM241 350.5h1v1h-1zM281.5 327.5h1v1h-1zM235.5 369h1v1h-1zM235.5 369.5h1v1h-1zM228.5 348.5h1v1h-1zM253.5 359.5h1v1h-1zM253.5 359h1v1h-1zM253.5 368h1v1h-1zM253.5 368.5h1v1h-1zM231.5 349.5h1v1h-1zM254.5 360.5h1v1h-1zM256 361h1v1h-1zM245 370h1v1h-1zM280 337.5h1v1h-1zM238 349h1v1h-1zM257.5 361.5h1v1h-1zM257.5 361h1v1h-1zM284 343h1v1h-1zM241 372h1v1h-1zM241 372.5h1v1h-1zM241.5 371.5h1v1h-1zM222 367.5h1v1h-1zM287 344.5h1v1h-1zM225 369.5h1v1h-1zM236 369.5h1v1h-1zM236 369h1v1h-1zM225 369h1v1h-1zM248 361.5h1v1h-1zM280.5 340h1v1h-1zM292.5 332h1v1h-1zM249.5 370.5h1v1h-1zM249.5 370h1v1h-1zM283 342h1v1h-1zM240 371h1v1h-1zM240 371.5h1v1h-1zM253.5 367h1v1h-1zM253.5 367.5h1v1h-1zM288.5 343h1v1h-1zM288.5 343.5h1v1h-1zM246.5 355h1v1h-1zM256 360h1v1h-1zM256 360.5h1v1h-1zM291 327h1v1h-1zM214 354.5h1v1h-1zM248 356.5h1v1h-1zM245 369.5h1v1h-1zM245 369h1v1h-1zM248 356h1v1h-1zM229.5 369h1v1h-1zM229.5 369.5h1v1h-1zM284 324h1v1h-1zM284 324.5h1v1h-1zM249.5 356.5h1v1h-1zM287 325h1v1h-1zM234.5 349.5h1v1h-1zM234.5 349h1v1h-1zM252 367h1v1h-1zM252 367.5h1v1h-1zM287 343h1v1h-1zM287 343.5h1v1h-1zM223.5 348h1v1h-1zM212.5 357h1v1h-1zM245.5 354h1v1h-1zM256.5 363h1v1h-1zM292.5 331h1v1h-1zM292.5 331.5h1v1h-1zM238.5 369.5h1v1h-1zM255 359.5h1v1h-1zM240 370h1v1h-1zM240 370.5h1v1h-1zM233 349h1v1h-1zM253.5 357h1v1h-1zM252.5 361.5h1v1h-1zM248 355h1v1h-1zM214 362h1v1h-1zM213 357h1v1h-1zM243 370h1v1h-1zM234.5 348.5h1v1h-1zM236 349h1v1h-1zM252.5 356.5h1v1h-1zM252.5 356h1v1h-1zM252.5 365h1v1h-1zM279.5 337.5h1v1h-1zM289 342.5h1v1h-1zM250 369h1v1h-1zM250 369.5h1v1h-1zM245.5 353.5h1v1h-1zM237.5 349.5h1v1h-1zM280.5 329h1v1h-1zM280.5 329.5h1v1h-1zM293 330h1v1h-1zM239 368.5h1v1h-1zM255 358.5h1v1h-1zM255 367h1v1h-1zM255 367.5h1v1h-1zM213 361.5h1v1h-1zM213 361h1v1h-1zM286 345h1v1h-1zM286.5 344h1v1h-1zM224.5 369h1v1h-1zM224.5 369.5h1v1h-1zM217.5 366h1v1h-1zM217.5 366.5h1v1h-1zM282 325h1v1h-1zM251 356.5h1v1h-1zM283 326h1v1h-1zM283 326.5h1v1h-1zM243 351h1v1h-1zM243 351.5h1v1h-1zM232 369.5h1v1h-1zM255.5 361.5h1v1h-1zM283.5 343.5h1v1h-1zM240.5 372.5h1v1h-1zM240.5 372h1v1h-1zM285 344h1v1h-1zM285 344.5h1v1h-1zM247 354.5h1v1h-1zM258 363.5h1v1h-1zM244.5 369.5h1v1h-1zM247.5 361.5h1v1h-1zM247.5 370.5h1v1h-1zM247.5 370h1v1h-1zM240 350h1v1h-1zM240 350.5h1v1h-1zM286.5 325.5h1v1h-1zM286.5 325h1v1h-1zM251.5 367.5h1v1h-1zM279.5 331h1v1h-1zM229.5 348.5h1v1h-1zM290.5 327.5h1v1h-1zM290.5 327h1v1h-1zM247.5 356h1v1h-1zM220 367h1v1h-1zM253 364.5h1v1h-1zM239.5 370h1v1h-1zM234 369h1v1h-1zM283.5 324.5h1v1h-1zM283.5 324h1v1h-1zM232.5 349h1v1h-1zM255.5 360.5h1v1h-1zM254 365h1v1h-1zM240.5 371.5h1v1h-1zM213.5 354h1v1h-1zM213.5 354.5h1v1h-1zM240.5 371h1v1h-1zM254 365.5h1v1h-1zM246 370h1v1h-1zM246 370.5h1v1h-1zM215 364h1v1h-1zM289 322.5h1v1h-1zM247 353h1v1h-1zM247 353.5h1v1h-1zM258 362h1v1h-1zM258 362.5h1v1h-1zM235 369.5h1v1h-1zM216 365h1v1h-1zM242 350h1v1h-1zM290.5 340h1v1h-1zM288 326.5h1v1h-1zM288 344h1v1h-1zM254 360.5h1v1h-1zM254.5 359h1v1h-1zM254.5 359.5h1v1h-1zM289 326h1v1h-1zM289 326.5h1v1h-1zM257 361.5h1v1h-1zM257 361h1v1h-1zM227 369.5h1v1h-1zM292 337.5h1v1h-1zM284 342.5h1v1h-1zM241 371.5h1v1h-1zM247.5 355h1v1h-1zM253 363h1v1h-1zM253 363.5h1v1h-1zM291 340h1v1h-1zM291 340.5h1v1h-1zM226 369h1v1h-1zM235.5 349h1v1h-1zM250.5 356.5h1v1h-1zM249 370.5h1v1h-1zM282.5 326.5h1v1h-1zM253 367h1v1h-1zM288 343.5h1v1h-1zM253.5 366.5h1v1h-1zM231 348.5h1v1h-1zM288.5 342.5h1v1h-1zM254.5 358.5h1v1h-1zM254.5 358h1v1h-1zM257 360h1v1h-1zM278.5 333.5h1v1h-1zM278.5 333h1v1h-1zM250.5 369h1v1h-1zM241 370.5h1v1h-1zM241 370h1v1h-1zM239.5 350h1v1h-1zM219 351.5h1v1h-1zM234 349.5h1v1h-1zM253 362.5h1v1h-1zM253 362h1v1h-1zM215 353.5h1v1h-1zM280 330h1v1h-1zM215.5 352h1v1h-1zM215.5 352.5h1v1h-1zM235.5 348h1v1h-1zM238 369h1v1h-1zM257.5 363h1v1h-1zM292.5 330.5h1v1h-1zM238.5 368.5h1v1h-1zM238.5 368h1v1h-1zM284.5 344h1v1h-1zM279 333h1v1h-1zM254.5 357.5h1v1h-1zM246.5 353.5h1v1h-1zM256 358.5h1v1h-1zM215.5 365h1v1h-1zM249 355.5h1v1h-1zM249 355h1v1h-1zM283 344.5h1v1h-1zM242.5 351.5h1v1h-1zM252 356h1v1h-1zM242.5 351h1v1h-1zM252 356.5h1v1h-1zM244 352.5h1v1h-1zM253.5 360.5h1v1h-1zM244 352h1v1h-1zM245 353h1v1h-1zM237 349.5h1v1h-1zM256 362h1v1h-1zM214 356.5h1v1h-1zM280 338.5h1v1h-1zM256.5 361.5h1v1h-1zM291.5 328h1v1h-1zM291.5 328.5h1v1h-1zM280.5 328h1v1h-1zM245.5 370.5h1v1h-1zM245.5 370h1v1h-1zM251 369.5h1v1h-1zM251 369h1v1h-1zM257.5 362.5h1v1h-1z" fill="#2878a8" opacity="0.9"/>
<path d="M238.5 367.5h1v1h-1zM238.5 367h1v1h-1zM240 368.5h1v1h-1zM240 368h1v1h-1zM222.5 367.5h1v1h-1zM245.5 356h1v1h-1zM248.5 361.5h1v1h-1zM248.5 361h1v1h-1zM230.5 349.5h1v1h-1zM232 350.5h1v1h-1zM232 350h1v1h-1zM252 364h1v1h-1zM217 352.5h1v1h-1zM217 352h1v1h-1zM233.5 368h1v1h-1zM279.5 335.5h1v1h-1zM279.5 335h1v1h-1zM226 348.5h1v1h-1zM245.5 360h1v1h-1zM245.5 360.5h1v1h-1zM214.5 354.5h1v1h-1zM245.5 369h1v1h-1zM282 328h1v1h-1zM214.5 363h1v1h-1zM248.5 365.5h1v1h-1zM240 367h1v1h-1zM240 367.5h1v1h-1zM244.5 354.5h1v1h-1zM244.5 354h1v1h-1zM247 357h1v1h-1zM247 357.5h1v1h-1zM217 365.5h1v1h-1zM250 362.5h1v1h-1zM225.5 368.5h1v1h-1zM225.5 368h1v1h-1zM236.5 368h1v1h-1zM236.5 368.5h1v1h-1zM250 362h1v1h-1zM245.5 355.5h1v1h-1zM248.5 360h1v1h-1zM251 363h1v1h-1zM251 363.5h1v1h-1zM251.5 361h1v1h-1zM283.5 341h1v1h-1zM283.5 341.5h1v1h-1zM285 342h1v1h-1zM233 350.5h1v1h-1zM246 369.5h1v1h-1zM233 350h1v1h-1zM246 369h1v1h-1zM279.5 334h1v1h-1zM250 357h1v1h-1zM235 368h1v1h-1zM290 340h1v1h-1zM248.5 364h1v1h-1zM251 367.5h1v1h-1zM251 367h1v1h-1zM290.5 339h1v1h-1zM224 349.5h1v1h-1zM224 349h1v1h-1zM251.5 365h1v1h-1zM247 356h1v1h-1zM247 356.5h1v1h-1zM281 330h1v1h-1zM281 339h1v1h-1zM237.5 350h1v1h-1zM247.5 363.5h1v1h-1zM247.5 363h1v1h-1zM239.5 368h1v1h-1zM240.5 351h1v1h-1zM240.5 351.5h1v1h-1zM251.5 360h1v1h-1zM240.5 369h1v1h-1zM240.5 369.5h1v1h-1zM213.5 361.5h1v1h-1zM213.5 361h1v1h-1zM247.5 358.5h1v1h-1zM283.5 326.5h1v1h-1zM283.5 326h1v1h-1zM251.5 364h1v1h-1zM251.5 364.5h1v1h-1zM225.5 348.5h1v1h-1zM281.5 328h1v1h-1zM249 364h1v1h-1zM241 369.5h1v1h-1zM239.5 367h1v1h-1zM239.5 367.5h1v1h-1zM246.5 357h1v1h-1zM292 330.5h1v1h-1zM292 330h1v1h-1zM216.5 352.5h1v1h-1zM216.5 352h1v1h-1zM284 326h1v1h-1zM284 326.5h1v1h-1zM250.5 363.5h1v1h-1zM249 368.5h1v1h-1zM250.5 363h1v1h-1zM290.5 328.5h1v1h-1zM247.5 357h1v1h-1zM285 326h1v1h-1zM232.5 350.5h1v1h-1zM285 326.5h1v1h-1zM212.5 359.5h1v1h-1zM212.5 359h1v1h-1zM280 333.5h1v1h-1zM280 333h1v1h-1zM215.5 364h1v1h-1zM215.5 364.5h1v1h-1zM292 334h1v1h-1zM292 334.5h1v1h-1zM249 363.5h1v1h-1zM289.5 340.5h1v1h-1zM216.5 365.5h1v1h-1zM250.5 367h1v1h-1zM242 351h1v1h-1zM288 327.5h1v1h-1zM288 327h1v1h-1zM291 328h1v1h-1zM248 357h1v1h-1zM248 357.5h1v1h-1zM291 337h1v1h-1zM291 337.5h1v1h-1zM292 329.5h1v1h-1zM292 329h1v1h-1zM218 352.5h1v1h-1zM250.5 362h1v1h-1zM238 367.5h1v1h-1zM238 367h1v1h-1zM227.5 369h1v1h-1zM284.5 342h1v1h-1zM284.5 342.5h1v1h-1zM234.5 350.5h1v1h-1zM223.5 349h1v1h-1zM285.5 342.5h1v1h-1zM280 332.5h1v1h-1zM280 332h1v1h-1zM246.5 369h1v1h-1zM246.5 369.5h1v1h-1zM235.5 350.5h1v1h-1zM230 349.5h1v1h-1zM292 333.5h1v1h-1zM252 363.5h1v1h-1zM233 368h1v1h-1zM248 365.5h1v1h-1zM291.5 335.5h1v1h-1zM291.5 335h1v1h-1zM249 357.5h1v1h-1zM286 342h1v1h-1zM252 358.5h1v1h-1zM236 350h1v1h-1zM236 368h1v1h-1zM287.5 342h1v1h-1zM245 355h1v1h-1zM215.5 353h1v1h-1zM214 358h1v1h-1zM214 358.5h1v1h-1zM248 360h1v1h-1zM248 369.5h1v1h-1zM280.5 330.5h1v1h-1zM291.5 330.5h1v1h-1zM280.5 330h1v1h-1zM291.5 330h1v1h-1zM280.5 339.5h1v1h-1zM251 362h1v1h-1zM248.5 368h1v1h-1zM282 340.5h1v1h-1zM279.5 333.5h1v1h-1zM247 369h1v1h-1zM291.5 334h1v1h-1zM251 357h1v1h-1zM248.5 363h1v1h-1zM283 327h1v1h-1zM249.5 364h1v1h-1zM241.5 369h1v1h-1zM252 357.5h1v1h-1zM244 353h1v1h-1zM247 364h1v1h-1zM214 357.5h1v1h-1zM237.5 367.5h1v1h-1zM226.5 348.5h1v1h-1zM226.5 348h1v1h-1zM284.5 326.5h1v1h-1zM284.5 326h1v1h-1zM240.5 368h1v1h-1zM252.5 360.5h1v1h-1zM252.5 360h1v1h-1zM287.5 327h1v1h-1zM287.5 327.5h1v1h-1zM247 359.5h1v1h-1zM247 368.5h1v1h-1zM250 364.5h1v1h-1zM291.5 333.5h1v1h-1zM248.5 362.5h1v1h-1zM290.5 337h1v1h-1zM290.5 337.5h1v1h-1zM251.5 363.5h1v1h-1zM251.5 363h1v1h-1zM243 369.5h1v1h-1zM232.5 368h1v1h-1zM225 348h1v1h-1zM217.5 352.5h1v1h-1zM217.5 352h1v1h-1zM279.5 336h1v1h-1zM289 341h1v1h-1zM250 368h1v1h-1zM214.5 355.5h1v1h-1zM248.5 357h1v1h-1zM242 369h1v1h-1zM242 369.5h1v1h-1zM286 326h1v1h-1zM251.5 358h1v1h-1zM251.5 358.5h1v1h-1zM213 360h1v1h-1zM231 368.5h1v1h-1zM252.5 359h1v1h-1zM252.5 359.5h1v1h-1zM289 327.5h1v1h-1zM289 327h1v1h-1zM247 358.5h1v1h-1zM250 363.5h1v1h-1zM250 363h1v1h-1zM247.5 365.5h1v1h-1zM282.5 341h1v1h-1zM251.5 362.5h1v1h-1zM246 361.5h1v1h-1zM246 361h1v1h-1zM247 362.5h1v1h-1zM235.5 368.5h1v1h-1zM235.5 368h1v1h-1zM228 348h1v1h-1zM228 348.5h1v1h-1zM282.5 327.5h1v1h-1zM247.5 369.5h1v1h-1zM247.5 369h1v1h-1zM253 359h1v1h-1zM253 359.5h1v1h-1zM219 366.5h1v1h-1zM231 349.5h1v1h-1zM251.5 357h1v1h-1zM231 349h1v1h-1zM251.5 366.5h1v1h-1zM213.5 358.5h1v1h-1zM246.5 364h1v1h-1zM246.5 364.5h1v1h-1zM236.5 350h1v1h-1zM228.5 369h1v1h-1zM234 368h1v1h-1zM246 360h1v1h-1zM215 354.5h1v1h-1zM223 367.5h1v1h-1zM215 363.5h1v1h-1zM246.5 368h1v1h-1zM246.5 368.5h1v1h-1zM235 350.5h1v1h-1zM249 361.5h1v1h-1zM247.5 359.5h1v1h-1zM247.5 359h1v1h-1zM253 358h1v1h-1zM224.5 348.5h1v1h-1zM246 355h1v1h-1zM224.5 348h1v1h-1zM246 355.5h1v1h-1zM246.5 363.5h1v1h-1zM280 335h1v1h-1zM229 369h1v1h-1zM229 369.5h1v1h-1zM249 365.5h1v1h-1zM284 341h1v1h-1zM242.5 352h1v1h-1zM242.5 352.5h1v1h-1zM252 366.5h1v1h-1zM287 342.5h1v1h-1zM245 354h1v1h-1zM237 350.5h1v1h-1zM246.5 358h1v1h-1zM248 359h1v1h-1zM291 339h1v1h-1zM291 339.5h1v1h-1zM226 368.5h1v1h-1zM237 368.5h1v1h-1zM237 368h1v1h-1zM248 368h1v1h-1zM248 368.5h1v1h-1zM249 360.5h1v1h-1zM249 369.5h1v1h-1zM249.5 368.5h1v1h-1zM252 361h1v1h-1zM252 361.5h1v1h-1zM288.5 341h1v1h-1zM288.5 341.5h1v1h-1zM285.5 326h1v1h-1zM212.5 360h1v1h-1zM212.5 360.5h1v1h-1zM246.5 362h1v1h-1zM214 361h1v1h-1zM227.5 348.5h1v1h-1zM227.5 348h1v1h-1zM241 351.5h1v1h-1zM241 351h1v1h-1zM249.5 363.5h1v1h-1zM218.5 366.5h1v1h-1zM252 365.5h1v1h-1zM252 365h1v1h-1zM288.5 327h1v1h-1zM242.5 369.5h1v1h-1zM231.5 350h1v1h-1zM231.5 350.5h1v1h-1zM291 338h1v1h-1zM291 338.5h1v1h-1zM245.5 361h1v1h-1zM245.5 361.5h1v1h-1z" fill="#2888a8" opacity="0.9"/>
<path d="M249.5 367.5h1v1h-1zM249.5 367h1v1h-1zM250.5 366h1v1h-1zM246.5 365.5h1v1h-1zM249 367.5h1v1h-1zM244.5 368h1v1h-1zM245.5 359.5h1v1h-1zM229 349.5h1v1h-1zM246 359.5h1v1h-1zM229 349h1v1h-1zM246 368.5h1v1h-1zM228.5 349h1v1h-1zM246 368h1v1h-1zM228.5 349.5h1v1h-1zM252 359.5h1v1h-1zM251 361h1v1h-1zM248.5 367.5h1v1h-1zM245.5 368h1v1h-1zM252 359h1v1h-1zM251 364.5h1v1h-1zM291.5 332h1v1h-1zM280.5 338.5h1v1h-1zM280.5 338h1v1h-1zM240 351.5h1v1h-1zM251.5 359h1v1h-1zM250 367.5h1v1h-1zM249 366h1v1h-1zM250.5 361.5h1v1h-1zM223.5 367h1v1h-1zM239.5 351h1v1h-1zM248 367.5h1v1h-1zM245 368h1v1h-1zM248 367h1v1h-1zM223.5 367.5h1v1h-1zM247.5 367.5h1v1h-1zM247.5 367h1v1h-1zM248.5 366.5h1v1h-1zM251 366.5h1v1h-1zM251 366h1v1h-1zM219.5 366h1v1h-1zM247 365.5h1v1h-1zM244.5 368.5h1v1h-1z" fill="#2888a8" opacity="1.0"/>
<path d="M227 350.5h1v1h-1zM226.5 350.5h1v1h-1zM227 350h1v1h-1zM242 366.5h1v1h-1z" fill="#289888" opacity="1.0"/>
<path d="M243.5 360h1v1h-1zM286.5 340.5h1v1h-1zM286.5 340h1v1h-1zM242.5 355h1v1h-1zM242.5 355.5h1v1h-1zM220.5 352h1v1h-1zM220.5 352.5h1v1h-1zM244 356.5h1v1h-1zM227 367h1v1h-1zM240 352.5h1v1h-1zM283.5 328h1v1h-1zM226.5 367h1v1h-1zM284 340.5h1v1h-1zM231 367.5h1v1h-1zM215.5 355.5h1v1h-1zM246 365h1v1h-1zM245.5 365h1v1h-1zM245.5 365.5h1v1h-1zM282.5 329.5h1v1h-1zM290 337h1v1h-1zM288 328.5h1v1h-1zM244 367h1v1h-1zM218.5 365h1v1h-1zM218.5 365.5h1v1h-1zM230.5 367.5h1v1h-1zM285 340h1v1h-1zM285 340.5h1v1h-1zM289.5 336h1v1h-1zM230.5 351h1v1h-1zM289.5 336.5h1v1h-1zM243.5 357.5h1v1h-1zM224 366h1v1h-1zM224 366.5h1v1h-1zM223.5 366.5h1v1h-1zM223.5 366h1v1h-1zM237.5 365.5h1v1h-1zM234 352.5h1v1h-1zM234 352h1v1h-1zM233.5 352h1v1h-1zM233.5 352.5h1v1h-1zM283 329.5h1v1h-1zM283 329h1v1h-1zM236.5 366.5h1v1h-1zM236.5 366h1v1h-1zM219 365.5h1v1h-1zM219 365h1v1h-1zM225.5 350h1v1h-1zM225.5 350.5h1v1h-1zM243 356.5h1v1h-1zM245.5 364.5h1v1h-1zM239 352.5h1v1h-1zM239 352h1v1h-1zM244 357.5h1v1h-1zM244 357h1v1h-1zM287 340h1v1h-1zM287 340.5h1v1h-1zM238 365h1v1h-1zM281.5 338h1v1h-1zM281.5 338.5h1v1h-1zM243 367h1v1h-1zM290 329.5h1v1h-1zM290 329h1v1h-1zM237 366h1v1h-1zM237 366.5h1v1h-1zM281.5 331h1v1h-1zM281.5 331.5h1v1h-1zM289 339.5h1v1h-1zM243.5 359h1v1h-1zM226 350h1v1h-1zM243.5 359.5h1v1h-1zM239.5 352h1v1h-1zM290.5 330.5h1v1h-1zM290.5 330h1v1h-1zM287.5 340.5h1v1h-1zM287.5 340h1v1h-1zM288.5 339.5h1v1h-1zM288.5 339h1v1h-1zM241 365h1v1h-1zM241 365.5h1v1h-1zM232.5 352.5h1v1h-1zM240.5 365h1v1h-1zM240.5 365.5h1v1h-1zM243.5 361h1v1h-1zM246 364h1v1h-1zM246 364.5h1v1h-1zM215.5 363h1v1h-1zM282 338h1v1h-1zM242.5 356h1v1h-1zM242.5 356.5h1v1h-1zM244.5 362.5h1v1h-1zM243 355h1v1h-1zM282 331.5h1v1h-1zM290.5 334.5h1v1h-1zM290.5 334h1v1h-1zM242.5 367.5h1v1h-1zM243.5 356h1v1h-1zM233 352h1v1h-1zM244 361h1v1h-1zM227.5 350h1v1h-1zM244 361.5h1v1h-1zM241 353.5h1v1h-1zM235 367h1v1h-1zM235 367.5h1v1h-1zM216 363.5h1v1h-1zM240.5 353.5h1v1h-1zM289.5 337h1v1h-1zM243.5 367.5h1v1h-1zM243.5 367h1v1h-1zM225 350h1v1h-1zM225 350.5h1v1h-1zM234.5 367h1v1h-1zM218 353.5h1v1h-1zM234.5 367.5h1v1h-1zM218 353h1v1h-1zM241.5 354h1v1h-1zM241.5 354.5h1v1h-1z" fill="#289898" opacity="1.0"/>
<path d="M216.5 364h1v1h-1zM237 351.5h1v1h-1zM246 363.5h1v1h-1zM221.5 351.5h1v1h-1zM221.5 351h1v1h-1zM215 357.5h1v1h-1zM245.5 363h1v1h-1zM245.5 363.5h1v1h-1zM248.5 359.5h1v1h-1zM287 327.5h1v1h-1zM234.5 351.5h1v1h-1zM242 368.5h1v1h-1zM227 349h1v1h-1zM226.5 349h1v1h-1zM238.5 351.5h1v1h-1zM238.5 351h1v1h-1zM226.5 349.5h1v1h-1zM249.5 360h1v1h-1zM249.5 360.5h1v1h-1zM250.5 359.5h1v1h-1zM284.5 327h1v1h-1zM223.5 350h1v1h-1zM245 357.5h1v1h-1zM224.5 349.5h1v1h-1zM214 360h1v1h-1zM215 359h1v1h-1zM224.5 367h1v1h-1zM280.5 332h1v1h-1zM242 352.5h1v1h-1zM285 327.5h1v1h-1zM233 367h1v1h-1zM233 367.5h1v1h-1zM281 331.5h1v1h-1zM232.5 351h1v1h-1zM217 364h1v1h-1zM281.5 330h1v1h-1zM281.5 330.5h1v1h-1zM243.5 355h1v1h-1zM243.5 355.5h1v1h-1zM227.5 368.5h1v1h-1zM241.5 367h1v1h-1zM246 358h1v1h-1zM241.5 367.5h1v1h-1zM213.5 360h1v1h-1zM246 367.5h1v1h-1zM243 368.5h1v1h-1zM243 368h1v1h-1zM246 367h1v1h-1zM245.5 358.5h1v1h-1zM290.5 335.5h1v1h-1zM245.5 367h1v1h-1zM280.5 334h1v1h-1zM214.5 361h1v1h-1zM233 351h1v1h-1zM233 351.5h1v1h-1zM219 352.5h1v1h-1zM229.5 368.5h1v1h-1zM229.5 368h1v1h-1zM222 366.5h1v1h-1zM222 366h1v1h-1zM244.5 359h1v1h-1zM244.5 359.5h1v1h-1zM249 359h1v1h-1zM286 341.5h1v1h-1zM285.5 341.5h1v1h-1zM280.5 336h1v1h-1zM251 359h1v1h-1zM280.5 336.5h1v1h-1zM225 349h1v1h-1zM288 341h1v1h-1zM236 367.5h1v1h-1zM225 367.5h1v1h-1zM289.5 338h1v1h-1zM289.5 338.5h1v1h-1zM288.5 340.5h1v1h-1zM288.5 340h1v1h-1zM243 354h1v1h-1zM243 354.5h1v1h-1zM250.5 365.5h1v1h-1zM224 350h1v1h-1zM241 366.5h1v1h-1zM250.5 365h1v1h-1zM215 356.5h1v1h-1zM245.5 362.5h1v1h-1zM248.5 358.5h1v1h-1zM219.5 352.5h1v1h-1zM219.5 352h1v1h-1zM282 330.5h1v1h-1zM244 355.5h1v1h-1zM282 339.5h1v1h-1zM236 351h1v1h-1zM228 368.5h1v1h-1zM242 367h1v1h-1zM235.5 351.5h1v1h-1zM235.5 351h1v1h-1zM230 350.5h1v1h-1zM250.5 358h1v1h-1zM250.5 358.5h1v1h-1zM247 366.5h1v1h-1zM286 327.5h1v1h-1zM283 340.5h1v1h-1zM230 368.5h1v1h-1zM230 368h1v1h-1zM285.5 327h1v1h-1zM237.5 351h1v1h-1zM245 359h1v1h-1zM291.5 331h1v1h-1zM282.5 328.5h1v1h-1zM214.5 358.5h1v1h-1zM214.5 358h1v1h-1zM291 335.5h1v1h-1zM282.5 328h1v1h-1zM291.5 331.5h1v1h-1zM222.5 350h1v1h-1zM222.5 350.5h1v1h-1zM244.5 356h1v1h-1zM289 328.5h1v1h-1zM227.5 349.5h1v1h-1zM242.5 368h1v1h-1zM231 350h1v1h-1zM241 352.5h1v1h-1zM241 352h1v1h-1zM250.5 360h1v1h-1zM281.5 329.5h1v1h-1zM232 367.5h1v1h-1zM245.5 357h1v1h-1zM245.5 357.5h1v1h-1zM215 360.5h1v1h-1zM215 360h1v1h-1zM231.5 367.5h1v1h-1zM228.5 350.5h1v1h-1zM221.5 366h1v1h-1zM245 361h1v1h-1zM214.5 360h1v1h-1zM242 353h1v1h-1zM290 338.5h1v1h-1zM280.5 333h1v1h-1zM251 365.5h1v1h-1zM234 367.5h1v1h-1zM244.5 358h1v1h-1zM234 367h1v1h-1zM288.5 328.5h1v1h-1zM233.5 367h1v1h-1zM249 358h1v1h-1zM244.5 367h1v1h-1zM249 358.5h1v1h-1zM232 351.5h1v1h-1zM281 335.5h1v1h-1zM281 335h1v1h-1zM250 366.5h1v1h-1zM231.5 351.5h1v1h-1zM238.5 366.5h1v1h-1zM249.5 366h1v1h-1zM238.5 366h1v1h-1zM249.5 366.5h1v1h-1zM243.5 368h1v1h-1zM246.5 367.5h1v1h-1zM214.5 362h1v1h-1zM251 358h1v1h-1zM220 352.5h1v1h-1zM234 351h1v1h-1zM220 352h1v1h-1zM239 365h1v1h-1zM234 351.5h1v1h-1zM239 365.5h1v1h-1zM242.5 354.5h1v1h-1zM233.5 351h1v1h-1zM233.5 351.5h1v1h-1zM242.5 354h1v1h-1zM217 353h1v1h-1zM217 353.5h1v1h-1zM244.5 360h1v1h-1zM244.5 360.5h1v1h-1zM238 351.5h1v1h-1zM216.5 353h1v1h-1zM222.5 366h1v1h-1zM222.5 366.5h1v1h-1zM243 353.5h1v1h-1zM223 350.5h1v1h-1zM223 350h1v1h-1zM243 353h1v1h-1zM250 359h1v1h-1zM249.5 359.5h1v1h-1zM250 359.5h1v1h-1zM249.5 359h1v1h-1zM283.5 327h1v1h-1zM283.5 327.5h1v1h-1zM286.5 341h1v1h-1zM215.5 354.5h1v1h-1zM214 359h1v1h-1zM251 360.5h1v1h-1zM251 360h1v1h-1zM282 329h1v1h-1zM286.5 341.5h1v1h-1zM222 351.5h1v1h-1zM222 351h1v1h-1zM239.5 366h1v1h-1zM239.5 366.5h1v1h-1zM250 361h1v1h-1zM236.5 367h1v1h-1zM250 361.5h1v1h-1zM227 368h1v1h-1zM218 365.5h1v1h-1zM218 365h1v1h-1zM249.5 361h1v1h-1zM226.5 368.5h1v1h-1zM245 358h1v1h-1zM240.5 367h1v1h-1zM245 358.5h1v1h-1zM246 357h1v1h-1zM239 351h1v1h-1zM214.5 357.5h1v1h-1zM213.5 359h1v1h-1zM213.5 359.5h1v1h-1zM246 366h1v1h-1zM239 351.5h1v1h-1zM214.5 357h1v1h-1zM246 366.5h1v1h-1zM229 368.5h1v1h-1zM229 368h1v1h-1zM236.5 351h1v1h-1zM228.5 368h1v1h-1zM236.5 351.5h1v1h-1zM244 368.5h1v1h-1zM247 367.5h1v1h-1zM244 368h1v1h-1zM281 332h1v1h-1zM230.5 350h1v1h-1zM230.5 350.5h1v1h-1zM217.5 365h1v1h-1zM286.5 327h1v1h-1zM290 328h1v1h-1zM245 360.5h1v1h-1zM245 360h1v1h-1zM241.5 368.5h1v1h-1zM285 341h1v1h-1zM285 341.5h1v1h-1zM214.5 359.5h1v1h-1zM291 336.5h1v1h-1zM215 362h1v1h-1zM215 362.5h1v1h-1zM280.5 335.5h1v1h-1zM244.5 357.5h1v1h-1zM220.5 366.5h1v1h-1zM216 354.5h1v1h-1zM216 354h1v1h-1zM287 341h1v1h-1zM281 334h1v1h-1zM281 334.5h1v1h-1zM250 365h1v1h-1zM283 328h1v1h-1zM241.5 352.5h1v1h-1zM241.5 352h1v1h-1zM249.5 365.5h1v1h-1zM238.5 365h1v1h-1zM249.5 365h1v1h-1zM238.5 365.5h1v1h-1zM226 349.5h1v1h-1zM284.5 341h1v1h-1zM291 329.5h1v1h-1zM232.5 367h1v1h-1zM251 358.5h1v1h-1zM226 367h1v1h-1zM237 367h1v1h-1zM290.5 329.5h1v1h-1zM290.5 329h1v1h-1zM249.5 358.5h1v1h-1zM242.5 353h1v1h-1zM280.5 337h1v1h-1zM280.5 337.5h1v1h-1zM235 351.5h1v1h-1zM235 351h1v1h-1zM250 358.5h1v1h-1zM250 358h1v1h-1zM289 340h1v1h-1zM281 336h1v1h-1zM289 340.5h1v1h-1zM249.5 358h1v1h-1zM217 364.5h1v1h-1zM289.5 339h1v1h-1zM218.5 352.5h1v1h-1zM232.5 351.5h1v1h-1z" fill="#2898a8" opacity="1.0"/>
<path d="M283 339.5h1v1h-1zM286.5 328h1v1h-1zM232.5 366h1v1h-1zM239.5 353.5h1v1h-1zM239.5 353h1v1h-1zM226 366h1v1h-1zM235.5 352h1v1h-1zM236 352.5h1v1h-1zM235.5 352.5h1v1h-1zM236 352h1v1h-1zM282.5 339h1v1h-1zM217 354.5h1v1h-1zM230 351h1v1h-1zM230 351.5h1v1h-1zM238 352h1v1h-1zM238 352.5h1v1h-1zM216.5 354h1v1h-1zM216.5 354.5h1v1h-1zM241 354.5h1v1h-1zM240.5 354.5h1v1h-1zM243 360.5h1v1h-1zM240.5 354h1v1h-1zM285.5 340h1v1h-1zM285.5 340.5h1v1h-1zM286 340h1v1h-1zM229.5 351h1v1h-1zM245 366.5h1v1h-1zM229.5 351.5h1v1h-1zM242 355h1v1h-1zM237.5 352h1v1h-1zM242 355.5h1v1h-1zM245 366h1v1h-1zM244 358h1v1h-1zM242.5 360h1v1h-1zM244 358.5h1v1h-1zM235 352.5h1v1h-1zM235 352h1v1h-1zM289 338.5h1v1h-1zM216 360.5h1v1h-1zM216 360h1v1h-1zM289 338h1v1h-1zM225 366.5h1v1h-1zM225 366h1v1h-1zM241.5 355h1v1h-1zM241.5 355.5h1v1h-1zM244.5 366.5h1v1h-1zM243.5 358.5h1v1h-1zM243.5 358h1v1h-1zM237 352.5h1v1h-1zM215.5 360.5h1v1h-1zM224.5 366.5h1v1h-1zM224.5 366h1v1h-1zM239 364.5h1v1h-1zM239 364h1v1h-1zM287 328.5h1v1h-1zM234.5 352h1v1h-1zM236.5 352.5h1v1h-1zM233 366h1v1h-1zM240 353h1v1h-1zM232 352.5h1v1h-1z" fill="#28a888" opacity="1.0"/>
<path d="M225.5 376.5h1v1h-1zM278.5 366.5h1v1h-1zM270.5 371h1v1h-1zM286 362h1v1h-1zM270.5 371.5h1v1h-1zM281 311h1v1h-1zM284 310h1v1h-1zM268.5 346.5h1v1h-1zM285.5 362h1v1h-1zM271.5 345.5h1v1h-1zM273 337h1v1h-1zM274.5 341.5h1v1h-1zM280.5 357.5h1v1h-1zM273 337.5h1v1h-1zM297 313h1v1h-1zM249.5 342.5h1v1h-1zM211 371.5h1v1h-1zM274 354h1v1h-1zM268.5 373h1v1h-1zM287 366.5h1v1h-1zM278 363.5h1v1h-1zM213 371.5h1v1h-1zM277 352.5h1v1h-1zM292.5 306.5h1v1h-1zM295 312h1v1h-1zM273 339h1v1h-1zM292.5 315h1v1h-1zM294.5 312h1v1h-1zM270 322h1v1h-1zM285 368.5h1v1h-1zM286.5 308.5h1v1h-1zM272 350.5h1v1h-1zM291.5 359.5h1v1h-1zM231 342h1v1h-1zM254 344h1v1h-1zM254 344.5h1v1h-1zM245 341.5h1v1h-1zM280 372h1v1h-1zM272.5 327.5h1v1h-1zM247 378.5h1v1h-1zM274 374h1v1h-1zM287 359h1v1h-1zM272.5 345.5h1v1h-1zM272.5 345h1v1h-1zM273.5 374h1v1h-1zM298 313h1v1h-1zM243 377h1v1h-1zM281 361h1v1h-1zM279.5 369h1v1h-1zM271.5 331h1v1h-1zM228.5 341.5h1v1h-1zM256.5 376h1v1h-1zM273 332.5h1v1h-1zM292.5 308h1v1h-1zM297.5 322.5h1v1h-1zM275.5 356h1v1h-1zM277.5 353h1v1h-1zM260.5 346h1v1h-1zM274.5 345.5h1v1h-1zM211 366h1v1h-1zM286.5 310h1v1h-1zM286.5 310.5h1v1h-1zM293 362h1v1h-1zM222 375h1v1h-1zM280.5 309h1v1h-1zM287.5 357.5h1v1h-1zM235 378h1v1h-1zM280.5 373h1v1h-1zM279.5 353h1v1h-1zM276.5 366h1v1h-1zM287 306.5h1v1h-1zM278 367.5h1v1h-1zM263.5 375.5h1v1h-1zM279 366h1v1h-1zM281 308h1v1h-1zM281 308.5h1v1h-1zM270 372h1v1h-1zM292.5 310.5h1v1h-1zM268 347h1v1h-1zM271 346.5h1v1h-1zM292 314.5h1v1h-1zM262 377h1v1h-1zM277.5 364h1v1h-1zM293 355.5h1v1h-1zM274 351h1v1h-1zM261.5 377h1v1h-1zM274 351.5h1v1h-1zM223 342.5h1v1h-1zM237 341.5h1v1h-1zM234.5 378h1v1h-1zM272 317h1v1h-1zM270.5 352h1v1h-1zM271.5 317h1v1h-1zM293.5 317.5h1v1h-1zM281 356h1v1h-1zM273 373.5h1v1h-1zM271 321h1v1h-1zM296 311.5h1v1h-1zM265.5 374.5h1v1h-1zM273 327h1v1h-1zM281 310.5h1v1h-1zM257.5 345.5h1v1h-1zM272 338h1v1h-1zM292.5 312.5h1v1h-1zM283 368h1v1h-1zM283 368.5h1v1h-1zM273.5 373h1v1h-1zM297 312h1v1h-1zM274 344.5h1v1h-1zM282 357.5h1v1h-1zM211 370.5h1v1h-1zM282.5 310h1v1h-1zM257 376.5h1v1h-1zM273.5 353h1v1h-1zM282 356.5h1v1h-1zM276.5 352h1v1h-1zM276 356h1v1h-1zM270.5 345.5h1v1h-1zM282.5 310.5h1v1h-1zM291.5 313.5h1v1h-1zM291.5 304.5h1v1h-1zM261 346.5h1v1h-1zM296 313.5h1v1h-1zM230 377.5h1v1h-1zM221 374.5h1v1h-1zM271.5 319h1v1h-1zM274.5 315h1v1h-1zM274.5 315.5h1v1h-1zM295.5 347h1v1h-1zM281 367h1v1h-1zM292.5 360h1v1h-1zM283 361h1v1h-1zM273 338.5h1v1h-1zM275.5 362h1v1h-1zM285 367.5h1v1h-1zM271 350h1v1h-1zM294 315.5h1v1h-1zM274 346.5h1v1h-1zM270.5 320.5h1v1h-1zM277 363.5h1v1h-1zM291.5 361h1v1h-1zM291.5 361.5h1v1h-1zM229 341h1v1h-1zM216 371.5h1v1h-1zM289 355.5h1v1h-1zM228.5 341h1v1h-1zM276 367.5h1v1h-1zM273.5 373.5h1v1h-1zM210.5 369h1v1h-1zM210.5 369.5h1v1h-1zM244 341h1v1h-1zM253 344h1v1h-1zM287 367.5h1v1h-1zM257.5 377h1v1h-1zM292.5 353h1v1h-1zM269.5 321.5h1v1h-1zM241.5 378.5h1v1h-1zM221.5 375.5h1v1h-1zM297.5 321.5h1v1h-1zM246 378h1v1h-1zM277.5 352.5h1v1h-1zM227.5 342.5h1v1h-1zM241.5 341.5h1v1h-1zM259.5 377.5h1v1h-1zM275 368h1v1h-1zM290.5 355h1v1h-1zM255 344.5h1v1h-1zM246 341h1v1h-1zM241.5 341h1v1h-1zM263.5 347h1v1h-1zM212 348.5h1v1h-1zM293.5 360h1v1h-1zM213 347h1v1h-1zM280.5 308.5h1v1h-1zM282 309.5h1v1h-1zM295 343h1v1h-1zM293.5 314h1v1h-1zM281 353h1v1h-1zM297 337.5h1v1h-1zM294.5 343h1v1h-1zM298 314h1v1h-1zM273 315.5h1v1h-1zM269.5 323h1v1h-1zM220 343h1v1h-1zM220 343.5h1v1h-1zM292.5 355h1v1h-1zM292 359h1v1h-1zM231.5 378.5h1v1h-1zM232.5 377h1v1h-1zM281.5 361.5h1v1h-1zM271 345h1v1h-1zM286 361h1v1h-1zM286 361.5h1v1h-1zM296.5 334h1v1h-1zM211 367h1v1h-1zM272 353.5h1v1h-1zM274 350h1v1h-1zM277 367h1v1h-1zM274.5 340h1v1h-1zM291.5 356h1v1h-1zM255.5 345.5h1v1h-1zM215 346.5h1v1h-1zM270 346.5h1v1h-1zM276 362h1v1h-1zM272 319.5h1v1h-1zM274 316h1v1h-1zM279 312h1v1h-1zM273 326.5h1v1h-1zM236 341h1v1h-1zM292 361.5h1v1h-1zM275 345h1v1h-1zM212 371h1v1h-1zM272 337h1v1h-1zM275 354.5h1v1h-1zM286.5 359h1v1h-1zM217 346.5h1v1h-1zM228 376.5h1v1h-1zM272 346.5h1v1h-1zM271.5 337h1v1h-1zM216.5 346.5h1v1h-1zM270 321.5h1v1h-1zM242 378.5h1v1h-1zM271 368h1v1h-1zM279 351h1v1h-1zM296 312.5h1v1h-1zM242 341.5h1v1h-1zM271 322.5h1v1h-1zM294 351.5h1v1h-1zM272 330.5h1v1h-1zM275.5 352h1v1h-1zM277 353h1v1h-1zM271.5 330.5h1v1h-1zM272 348h1v1h-1zM260 346h1v1h-1zM298 330h1v1h-1zM275 374.5h1v1h-1zM285.5 365.5h1v1h-1zM274.5 344.5h1v1h-1zM273 349.5h1v1h-1zM291.5 360h1v1h-1zM273.5 354.5h1v1h-1zM233 377h1v1h-1zM245 342h1v1h-1zM293 306h1v1h-1zM280 373.5h1v1h-1zM288 356h1v1h-1zM279 362.5h1v1h-1zM287.5 356.5h1v1h-1zM261.5 346.5h1v1h-1zM292 356.5h1v1h-1zM230.5 377h1v1h-1zM281.5 358h1v1h-1zM281.5 358.5h1v1h-1zM294 362h1v1h-1zM294 362.5h1v1h-1zM292.5 309.5h1v1h-1zM262 376.5h1v1h-1zM293 354.5h1v1h-1zM273 351h1v1h-1zM273 351.5h1v1h-1zM280 311.5h1v1h-1zM293 308.5h1v1h-1zM288 358.5h1v1h-1zM271 372h1v1h-1zM288 358h1v1h-1zM229.5 341.5h1v1h-1zM274 368h1v1h-1zM219 343h1v1h-1zM276.5 358h1v1h-1zM265 374.5h1v1h-1zM219.5 342h1v1h-1zM253.5 344h1v1h-1zM264.5 374h1v1h-1zM277 357h1v1h-1zM281 373.5h1v1h-1zM271.5 352.5h1v1h-1zM277.5 365h1v1h-1zM291 304h1v1h-1zM246.5 341.5h1v1h-1zM277 314h1v1h-1zM282 310h1v1h-1z" fill="#383898" opacity="0.7"/>
<path d="M290.5 377.5h1v1h-1zM317.5 349h1v1h-1zM302.5 369.5h1v1h-1zM254.5 338.5h1v1h-1zM254.5 338h1v1h-1zM248 326h1v1h-1zM301 347.5h1v1h-1zM299.5 345h1v1h-1zM284.5 302.5h1v1h-1zM295.5 302.5h1v1h-1zM290 364.5h1v1h-1zM234.5 337.5h1v1h-1zM234.5 337h1v1h-1zM254.5 324.5h1v1h-1zM265.5 324h1v1h-1zM231.5 331.5h1v1h-1zM301 333.5h1v1h-1zM298.5 339.5h1v1h-1zM248 339.5h1v1h-1zM268 326.5h1v1h-1zM260.5 321h1v1h-1zM297.5 370.5h1v1h-1zM297.5 370h1v1h-1zM309.5 372h1v1h-1zM255 338.5h1v1h-1zM242.5 327.5h1v1h-1zM287 299h1v1h-1zM244 337.5h1v1h-1zM317.5 348.5h1v1h-1zM246.5 324.5h1v1h-1zM248 325.5h1v1h-1zM264.5 341.5h1v1h-1zM229 330.5h1v1h-1zM299.5 308h1v1h-1zM237.5 333h1v1h-1zM227 378.5h1v1h-1zM289 362.5h1v1h-1zM301.5 354h1v1h-1zM268.5 329h1v1h-1zM238.5 325.5h1v1h-1zM267 307.5h1v1h-1zM233 332.5h1v1h-1zM264.5 318.5h1v1h-1zM262 331h1v1h-1zM229.5 333h1v1h-1zM228 338.5h1v1h-1zM297.5 351.5h1v1h-1zM297.5 369.5h1v1h-1zM292 368.5h1v1h-1zM263 341h1v1h-1zM242.5 317.5h1v1h-1zM304 360.5h1v1h-1zM252 331.5h1v1h-1zM267 329.5h1v1h-1zM287.5 297h1v1h-1zM279.5 302.5h1v1h-1zM301 327h1v1h-1zM251 326.5h1v1h-1zM299.5 316h1v1h-1zM259 339.5h1v1h-1zM303 354.5h1v1h-1zM301.5 371h1v1h-1zM272.5 307.5h1v1h-1zM263.5 344h1v1h-1zM242 329h1v1h-1zM267.5 332.5h1v1h-1zM267.5 341.5h1v1h-1zM269 342.5h1v1h-1zM300.5 356.5h1v1h-1zM270 343.5h1v1h-1zM268.5 314.5h1v1h-1zM251 339h1v1h-1zM274 304h1v1h-1zM297.5 359h1v1h-1zM304 323h1v1h-1zM283 300h1v1h-1zM303 367.5h1v1h-1zM295 372.5h1v1h-1zM297 302.5h1v1h-1zM240.5 337h1v1h-1zM243.5 333.5h1v1h-1zM296 355h1v1h-1zM296 355.5h1v1h-1zM304.5 358.5h1v1h-1zM306 368.5h1v1h-1zM300 334.5h1v1h-1zM288.5 368.5h1v1h-1zM258 337.5h1v1h-1zM262 325h1v1h-1zM228 332.5h1v1h-1zM271 312h1v1h-1zM262.5 333h1v1h-1zM294.5 294.5h1v1h-1zM284 376.5h1v1h-1zM258 323h1v1h-1zM244.5 329h1v1h-1zM301.5 311.5h1v1h-1zM303 321h1v1h-1zM262.5 337h1v1h-1zM239.5 335h1v1h-1zM283.5 298h1v1h-1zM265 321h1v1h-1zM295.5 370.5h1v1h-1zM272.5 377.5h1v1h-1zM279.5 300h1v1h-1zM269 336h1v1h-1zM299 346.5h1v1h-1zM258.5 335h1v1h-1zM216.5 338.5h1v1h-1zM299.5 363.5h1v1h-1zM253 333h1v1h-1zM251.5 340.5h1v1h-1zM300.5 309h1v1h-1zM266 326.5h1v1h-1zM268 335.5h1v1h-1zM303 311.5h1v1h-1zM234 333.5h1v1h-1zM211 340h1v1h-1zM304.5 320h1v1h-1zM246 325h1v1h-1zM300 305h1v1h-1zM246 334h1v1h-1zM254.5 328.5h1v1h-1zM231.5 335.5h1v1h-1zM264 342.5h1v1h-1zM300.5 313h1v1h-1zM212.5 340.5h1v1h-1zM225 378.5h1v1h-1zM300.5 322h1v1h-1zM266.5 329.5h1v1h-1zM260 326h1v1h-1zM260 326.5h1v1h-1zM259.5 326.5h1v1h-1zM262.5 322.5h1v1h-1zM288 299.5h1v1h-1zM234 328h1v1h-1zM219 339.5h1v1h-1zM303.5 359.5h1v1h-1zM294 369.5h1v1h-1zM286 374h1v1h-1zM264 337.5h1v1h-1zM269 312.5h1v1h-1zM215.5 340h1v1h-1zM257 325h1v1h-1zM266.5 333.5h1v1h-1zM266.5 333h1v1h-1zM249 330h1v1h-1zM281.5 303h1v1h-1zM249 339h1v1h-1zM268.5 342.5h1v1h-1zM253 327.5h1v1h-1zM276 307.5h1v1h-1zM307.5 315.5h1v1h-1zM210.5 373h1v1h-1zM245 328.5h1v1h-1zM298 343h1v1h-1zM268 311.5h1v1h-1zM238 325.5h1v1h-1zM257 338h1v1h-1zM312 372.5h1v1h-1zM295 301h1v1h-1zM252 335h1v1h-1zM293.5 375h1v1h-1zM299 303.5h1v1h-1zM248 328h1v1h-1zM301 358h1v1h-1zM298.5 364h1v1h-1zM298.5 373h1v1h-1zM301.5 366.5h1v1h-1zM297.5 377h1v1h-1zM261.5 329.5h1v1h-1zM267 319.5h1v1h-1zM253.5 325h1v1h-1zM298 297h1v1h-1zM290.5 374h1v1h-1zM244 326h1v1h-1zM244 326.5h1v1h-1zM276 306.5h1v1h-1zM244 335h1v1h-1zM267 337h1v1h-1zM265.5 326.5h1v1h-1zM277.5 300.5h1v1h-1zM275.5 376h1v1h-1zM245.5 335h1v1h-1zM238.5 323h1v1h-1zM289.5 368h1v1h-1zM221 338h1v1h-1zM221 338.5h1v1h-1zM304 354.5h1v1h-1zM267 314.5h1v1h-1zM261.5 333h1v1h-1zM305.5 367h1v1h-1zM252 334h1v1h-1zM273.5 307h1v1h-1zM273.5 307.5h1v1h-1zM302.5 361h1v1h-1zM217 340.5h1v1h-1zM291 298.5h1v1h-1zM268 305.5h1v1h-1zM301.5 356h1v1h-1zM301.5 356.5h1v1h-1zM268.5 331h1v1h-1zM257.5 340h1v1h-1zM284.5 303.5h1v1h-1zM276.5 304.5h1v1h-1zM225 339.5h1v1h-1zM262 333h1v1h-1zM268.5 317h1v1h-1zM249.5 322.5h1v1h-1zM292.5 302.5h1v1h-1zM238.5 331.5h1v1h-1zM249.5 331h1v1h-1zM226.5 329.5h1v1h-1zM226.5 338.5h1v1h-1zM286 299h1v1h-1zM295 366.5h1v1h-1zM289.5 376.5h1v1h-1zM263 343h1v1h-1zM255 339.5h1v1h-1zM302.5 324h1v1h-1zM296.5 375h1v1h-1zM278 309h1v1h-1zM259 323.5h1v1h-1zM248.5 325.5h1v1h-1zM237.5 334.5h1v1h-1zM274 302h1v1h-1zM263 320h1v1h-1zM292 374h1v1h-1zM302.5 310.5h1v1h-1zM232.5 340h1v1h-1zM252.5 327.5h1v1h-1zM301 306.5h1v1h-1zM259 318h1v1h-1zM248.5 320.5h1v1h-1zM248.5 320h1v1h-1zM310 372.5h1v1h-1zM268.5 316.5h1v1h-1zM216 374h1v1h-1zM301.5 359h1v1h-1zM292 369h1v1h-1zM266 316.5h1v1h-1zM296.5 356h1v1h-1zM298.5 298.5h1v1h-1zM247 321.5h1v1h-1zM233.5 327.5h1v1h-1zM298 366.5h1v1h-1zM233.5 336h1v1h-1zM244.5 336.5h1v1h-1zM290 300.5h1v1h-1zM299 376.5h1v1h-1zM297.5 347.5h1v1h-1zM299.5 375h1v1h-1zM295.5 368.5h1v1h-1zM294 373h1v1h-1zM304.5 355.5h1v1h-1zM250 321.5h1v1h-1zM258 334h1v1h-1zM216 337h1v1h-1zM239 329h1v1h-1zM259.5 334.5h1v1h-1zM274 305.5h1v1h-1zM262.5 330.5h1v1h-1zM262.5 339h1v1h-1zM291.5 375.5h1v1h-1zM273 309h1v1h-1zM302.5 304h1v1h-1zM265 323.5h1v1h-1zM292.5 367.5h1v1h-1zM244.5 317h1v1h-1zM247 329h1v1h-1zM297.5 301h1v1h-1zM287 374h1v1h-1zM258.5 328.5h1v1h-1zM301.5 317.5h1v1h-1zM270.5 311.5h1v1h-1zM259.5 320.5h1v1h-1zM299.5 374h1v1h-1zM291.5 370h1v1h-1zM307 315h1v1h-1zM303.5 371h1v1h-1zM275.5 300.5h1v1h-1zM265 336h1v1h-1zM265 336.5h1v1h-1zM294 372.5h1v1h-1zM266 319h1v1h-1zM266.5 309h1v1h-1zM296.5 359h1v1h-1zM258 324h1v1h-1zM299 343h1v1h-1zM235.5 330.5h1v1h-1zM303 304.5h1v1h-1zM270.5 306h1v1h-1zM250.5 337h1v1h-1zM260 342h1v1h-1zM247.5 322.5h1v1h-1zM304 305.5h1v1h-1zM211 342.5h1v1h-1zM211 342h1v1h-1zM285 300h1v1h-1zM231.5 328h1v1h-1zM272.5 378h1v1h-1zM296.5 345h1v1h-1zM265.5 339h1v1h-1zM258.5 318h1v1h-1zM292 299.5h1v1h-1zM249 328.5h1v1h-1zM268 341h1v1h-1zM270.5 310.5h1v1h-1zM261 338.5h1v1h-1zM234 330h1v1h-1zM254.5 325.5h1v1h-1zM265.5 325.5h1v1h-1zM231.5 332.5h1v1h-1zM300.5 319h1v1h-1zM300.5 319.5h1v1h-1zM238 323h1v1h-1zM260 323h1v1h-1zM303 303.5h1v1h-1zM250.5 336h1v1h-1zM214.5 373h1v1h-1zM305 367h1v1h-1zM290 378.5h1v1h-1z" fill="#384898" opacity="0.6"/>
<path d="M268 375h1v1h-1zM282 374.5h1v1h-1zM239 339.5h1v1h-1zM215.5 344.5h1v1h-1zM282 374h1v1h-1zM296.5 363h1v1h-1zM296.5 308.5h1v1h-1zM222 341h1v1h-1zM294 357.5h1v1h-1zM276 373h1v1h-1zM278 370.5h1v1h-1zM264.5 376h1v1h-1zM271 340.5h1v1h-1zM294.5 365.5h1v1h-1zM283.5 374.5h1v1h-1zM254 342.5h1v1h-1zM270 338.5h1v1h-1zM277.5 312h1v1h-1zM223.5 341h1v1h-1zM212 345h1v1h-1zM212 345.5h1v1h-1zM266.5 321h1v1h-1zM217 375.5h1v1h-1zM300 327h1v1h-1zM267 324.5h1v1h-1zM269 321.5h1v1h-1zM278 354.5h1v1h-1zM260.5 378h1v1h-1zM216.5 375h1v1h-1zM228.5 340h1v1h-1zM296.5 365h1v1h-1zM298 311h1v1h-1zM221 375h1v1h-1zM212 372.5h1v1h-1zM238 336.5h1v1h-1zM284 303h1v1h-1zM216 342.5h1v1h-1zM256 378h1v1h-1zM256 378.5h1v1h-1zM297 306h1v1h-1zM296 350h1v1h-1zM297.5 338.5h1v1h-1zM275.5 372h1v1h-1zM282 305h1v1h-1zM296.5 349.5h1v1h-1zM224.5 342h1v1h-1zM267.5 377.5h1v1h-1zM253.5 378.5h1v1h-1zM299.5 311h1v1h-1zM267.5 322h1v1h-1zM300 329h1v1h-1zM287.5 364.5h1v1h-1zM299.5 329h1v1h-1zM231 378.5h1v1h-1zM279.5 305.5h1v1h-1zM279.5 305h1v1h-1zM268.5 323.5h1v1h-1zM284 305h1v1h-1zM279 373h1v1h-1zM212.5 373.5h1v1h-1zM259 324h1v1h-1zM272 343h1v1h-1zM298 340h1v1h-1zM285 306.5h1v1h-1zM297 308h1v1h-1zM283.5 369h1v1h-1zM256 343h1v1h-1zM277.5 371h1v1h-1zM290.5 301h1v1h-1zM266 375h1v1h-1zM290.5 301.5h1v1h-1zM213.5 344h1v1h-1zM272 370.5h1v1h-1zM214 346h1v1h-1zM292 357h1v1h-1zM289 303h1v1h-1zM262.5 346h1v1h-1zM271.5 315h1v1h-1zM287.5 366.5h1v1h-1zM298 315.5h1v1h-1zM297.5 306.5h1v1h-1zM297.5 315h1v1h-1zM269.5 333.5h1v1h-1zM294.5 307.5h1v1h-1zM218 343h1v1h-1zM217 345h1v1h-1zM248 378.5h1v1h-1zM285.5 368h1v1h-1zM284.5 306h1v1h-1zM280 358.5h1v1h-1zM274 342.5h1v1h-1zM295.5 315h1v1h-1zM297 310h1v1h-1zM277.5 373h1v1h-1zM267 376h1v1h-1zM256.5 344h1v1h-1zM282.5 372h1v1h-1zM289 360h1v1h-1zM279.5 355.5h1v1h-1zM278 305h1v1h-1zM242 340h1v1h-1zM279 304.5h1v1h-1zM299 337.5h1v1h-1zM278 360h1v1h-1zM224 377.5h1v1h-1zM227 339.5h1v1h-1zM284.5 308.5h1v1h-1zM219 374h1v1h-1zM280 360h1v1h-1zM286 309.5h1v1h-1zM280 360.5h1v1h-1zM229 339.5h1v1h-1zM272 374.5h1v1h-1zM269 320h1v1h-1zM296.5 364.5h1v1h-1zM299.5 326.5h1v1h-1zM268.5 375h1v1h-1zM239.5 339h1v1h-1zM273.5 371.5h1v1h-1zM271.5 374h1v1h-1zM274.5 370.5h1v1h-1zM242.5 338h1v1h-1zM276 374.5h1v1h-1zM279 306h1v1h-1zM269.5 328.5h1v1h-1zM278.5 361.5h1v1h-1zM252.5 342.5h1v1h-1zM233.5 340h1v1h-1zM294.5 357.5h1v1h-1zM297.5 319h1v1h-1zM238 338h1v1h-1zM297 305h1v1h-1zM294 370h1v1h-1zM284.5 374.5h1v1h-1zM297.5 337h1v1h-1zM298.5 336h1v1h-1zM275 375h1v1h-1zM246 339.5h1v1h-1zM212 346h1v1h-1zM212 346.5h1v1h-1zM215 342h1v1h-1zM269 377.5h1v1h-1zM214.5 342.5h1v1h-1zM217.5 375h1v1h-1zM271 316.5h1v1h-1zM271 325.5h1v1h-1zM211.5 343h1v1h-1zM281 369h1v1h-1zM230.5 378.5h1v1h-1zM298.5 311.5h1v1h-1zM212.5 372h1v1h-1zM266 347.5h1v1h-1zM281.5 304.5h1v1h-1zM272 333h1v1h-1zM281.5 304h1v1h-1zM238 340h1v1h-1zM298.5 311h1v1h-1zM260.5 345h1v1h-1zM286.5 364.5h1v1h-1zM298.5 329h1v1h-1zM270.5 377.5h1v1h-1zM243.5 338h1v1h-1zM298.5 329.5h1v1h-1zM275 313h1v1h-1zM275 313.5h1v1h-1zM286 304h1v1h-1zM296.5 350.5h1v1h-1zM270.5 331.5h1v1h-1zM293.5 305h1v1h-1zM287 305h1v1h-1zM214.5 344.5h1v1h-1zM288 304h1v1h-1zM298 305.5h1v1h-1zM258.5 378.5h1v1h-1zM295.5 342h1v1h-1zM271 327h1v1h-1zM269.5 332.5h1v1h-1zM294 356h1v1h-1zM298.5 313h1v1h-1zM279.5 309h1v1h-1zM238.5 338.5h1v1h-1zM281.5 370h1v1h-1zM271.5 335.5h1v1h-1zM280 357.5h1v1h-1zM241 338.5h1v1h-1zM295 309.5h1v1h-1zM284 309h1v1h-1zM275 306h1v1h-1zM270.5 324h1v1h-1zM290 361h1v1h-1zM265.5 346h1v1h-1zM270 337h1v1h-1zM267 320.5h1v1h-1zM280.5 374.5h1v1h-1zM280.5 374h1v1h-1zM300 326h1v1h-1zM220.5 341.5h1v1h-1zM276.5 361h1v1h-1zM269.5 325.5h1v1h-1zM264 378h1v1h-1zM298.5 306.5h1v1h-1zM289.5 303h1v1h-1zM296.5 318h1v1h-1zM298.5 315h1v1h-1zM267.5 346.5h1v1h-1zM264.5 377.5h1v1h-1zM271.5 328.5h1v1h-1zM298.5 324h1v1h-1zM279.5 375.5h1v1h-1zM270.5 317h1v1h-1zM298.5 333h1v1h-1zM241 340.5h1v1h-1zM277 369h1v1h-1zM245 340.5h1v1h-1zM269 374h1v1h-1zM293 304h1v1h-1zM293.5 364.5h1v1h-1zM280 371.5h1v1h-1zM299 320.5h1v1h-1zM293.5 364h1v1h-1zM253 341.5h1v1h-1zM297 341h1v1h-1zM279 305.5h1v1h-1zM279 369h1v1h-1zM250.5 378.5h1v1h-1zM261.5 344h1v1h-1zM269.5 327h1v1h-1zM298.5 308h1v1h-1zM278.5 369.5h1v1h-1zM295 359.5h1v1h-1zM224.5 377h1v1h-1zM227.5 339.5h1v1h-1zM291.5 364h1v1h-1zM271.5 339.5h1v1h-1zM294.5 304h1v1h-1zM255 341h1v1h-1zM277.5 374h1v1h-1zM290 301.5h1v1h-1zM297 316h1v1h-1zM299 313.5h1v1h-1zM269 376h1v1h-1zM269 376.5h1v1h-1zM280.5 369.5h1v1h-1zM293 370h1v1h-1zM270.5 340h1v1h-1zM219 341.5h1v1h-1zM276.5 356.5h1v1h-1zM271 324h1v1h-1zM287.5 365h1v1h-1zM266 346h1v1h-1zM278 311h1v1h-1zM283 307.5h1v1h-1zM278 375h1v1h-1zM270.5 376h1v1h-1zM294.5 306.5h1v1h-1zM277.5 354.5h1v1h-1zM275 376h1v1h-1zM232 341.5h1v1h-1zM297.5 332.5h1v1h-1zM210.5 343h1v1h-1zM283.5 370.5h1v1h-1zM229.5 378.5h1v1h-1zM293.5 359h1v1h-1zM255.5 342.5h1v1h-1zM246.5 339.5h1v1h-1zM237.5 336h1v1h-1zM293 363h1v1h-1zM280.5 307.5h1v1h-1zM296 362.5h1v1h-1zM239 337h1v1h-1zM282 372h1v1h-1zM257.5 378h1v1h-1zM268.5 378h1v1h-1zM269.5 377h1v1h-1zM296.5 306h1v1h-1zM263 377.5h1v1h-1zM272 325h1v1h-1zM287.5 367h1v1h-1zM292 358h1v1h-1zM221.5 376.5h1v1h-1zM272 334h1v1h-1zM298 316.5h1v1h-1zM257.5 344h1v1h-1zM275 369.5h1v1h-1zM294.5 363.5h1v1h-1zM283.5 372h1v1h-1zM251 378h1v1h-1zM297.5 334h1v1h-1zM286.5 368h1v1h-1zM294.5 317h1v1h-1zM275.5 313h1v1h-1zM285.5 369.5h1v1h-1zM237.5 338h1v1h-1z" fill="#384898" opacity="0.7"/>
<path d="M287 329h1v1h-1zM287 329.5h1v1h-1zM286.5 329.5h1v1h-1zM239.5 357.5h1v1h-1zM217 356h1v1h-1zM227.5 366h1v1h-1zM240 357.5h1v1h-1zM216.5 356h1v1h-1zM216.5 356.5h1v1h-1zM240 357h1v1h-1zM240.5 359.5h1v1h-1zM241 359.5h1v1h-1zM241 359h1v1h-1zM228 366.5h1v1h-1zM228 366h1v1h-1z" fill="#38a858" opacity="1.0"/>
<path d="M281.5 335.5h1v1h-1zM241.5 363h1v1h-1zM226 351.5h1v1h-1zM224.5 365.5h1v1h-1zM235 353h1v1h-1zM244 365.5h1v1h-1zM244 365h1v1h-1zM285 329.5h1v1h-1zM232.5 353.5h1v1h-1zM237 353.5h1v1h-1zM237 353h1v1h-1zM282.5 338.5h1v1h-1zM234.5 353h1v1h-1zM282.5 338h1v1h-1zM227 351h1v1h-1zM288 337h1v1h-1zM288 337.5h1v1h-1zM226.5 351.5h1v1h-1zM217 359.5h1v1h-1zM217 359h1v1h-1zM287.5 337h1v1h-1zM289.5 334.5h1v1h-1zM238.5 362.5h1v1h-1zM238.5 362h1v1h-1zM284.5 329.5h1v1h-1zM241 362h1v1h-1zM224.5 351.5h1v1h-1zM243.5 364h1v1h-1zM286 339.5h1v1h-1zM286 339h1v1h-1zM223 365h1v1h-1zM290 330h1v1h-1zM285.5 339.5h1v1h-1zM282.5 331h1v1h-1zM237.5 363.5h1v1h-1zM282 335.5h1v1h-1zM242 363h1v1h-1zM225 365h1v1h-1zM236 365h1v1h-1zM238.5 355h1v1h-1zM217 361.5h1v1h-1zM238.5 355.5h1v1h-1zM217 361h1v1h-1zM235.5 365h1v1h-1zM236 365.5h1v1h-1zM236.5 364.5h1v1h-1zM236.5 364h1v1h-1zM216.5 361.5h1v1h-1zM229.5 352h1v1h-1zM229.5 352.5h1v1h-1zM239.5 362.5h1v1h-1zM239.5 362h1v1h-1zM242.5 364.5h1v1h-1zM242.5 364h1v1h-1zM281.5 334.5h1v1h-1zM281.5 334h1v1h-1zM283 338.5h1v1h-1zM241.5 362.5h1v1h-1zM241.5 362h1v1h-1zM283 338h1v1h-1zM243 363.5h1v1h-1zM243 363h1v1h-1zM290 334h1v1h-1zM225 351h1v1h-1zM225 351.5h1v1h-1zM289 335.5h1v1h-1zM289 335h1v1h-1zM283 331h1v1h-1zM238 363h1v1h-1zM238 363.5h1v1h-1zM243 365.5h1v1h-1zM243 365h1v1h-1zM231.5 365h1v1h-1zM237 364.5h1v1h-1zM236 353.5h1v1h-1zM234 365.5h1v1h-1zM235.5 353.5h1v1h-1zM235.5 353h1v1h-1zM217 358.5h1v1h-1zM233.5 365.5h1v1h-1zM288.5 335h1v1h-1zM288.5 335.5h1v1h-1zM230 352h1v1h-1zM216.5 358.5h1v1h-1zM230 352.5h1v1h-1zM240 362.5h1v1h-1zM241 361.5h1v1h-1zM241 361h1v1h-1zM218.5 364h1v1h-1zM218.5 364.5h1v1h-1zM240.5 361.5h1v1h-1zM289.5 330.5h1v1h-1zM237.5 353.5h1v1h-1zM237.5 353h1v1h-1zM239 354h1v1h-1zM239 354.5h1v1h-1zM282 334h1v1h-1zM282 334.5h1v1h-1zM242 362h1v1h-1zM288 329.5h1v1h-1zM287.5 329h1v1h-1zM287.5 329.5h1v1h-1zM227.5 351h1v1h-1zM224 365.5h1v1h-1zM224 365h1v1h-1zM286.5 339.5h1v1h-1zM286.5 339h1v1h-1zM223.5 365h1v1h-1zM242.5 363.5h1v1h-1zM244 364h1v1h-1zM244 364.5h1v1h-1zM218 354h1v1h-1zM218 354.5h1v1h-1zM225.5 365h1v1h-1zM218 363.5h1v1h-1zM231 366h1v1h-1zM231 366.5h1v1h-1zM219 364h1v1h-1zM219 364.5h1v1h-1zM242.5 365h1v1h-1zM238 353h1v1h-1zM238 353.5h1v1h-1zM242.5 365.5h1v1h-1zM216.5 355h1v1h-1zM217.5 354h1v1h-1zM217.5 354.5h1v1h-1zM241 358h1v1h-1zM241 358.5h1v1h-1zM217.5 363h1v1h-1zM240.5 358h1v1h-1zM240.5 358.5h1v1h-1zM230.5 366.5h1v1h-1zM230.5 366h1v1h-1zM228 351h1v1h-1zM285 339h1v1h-1zM285 339.5h1v1h-1zM225.5 351.5h1v1h-1zM235 365.5h1v1h-1zM235 365h1v1h-1zM238.5 354h1v1h-1zM240.5 360.5h1v1h-1zM284.5 339h1v1h-1zM284.5 339.5h1v1h-1zM243.5 365h1v1h-1zM232.5 365h1v1h-1zM239 362.5h1v1h-1zM234.5 365h1v1h-1zM234.5 365.5h1v1h-1zM240.5 362h1v1h-1zM240.5 362.5h1v1h-1zM239 355.5h1v1h-1zM222.5 365.5h1v1h-1zM222.5 365h1v1h-1zM217 355.5h1v1h-1zM289.5 330h1v1h-1z" fill="#38a868" opacity="1.0"/>
<path d="M220 353h1v1h-1zM220 353.5h1v1h-1zM219.5 353h1v1h-1zM219.5 353.5h1v1h-1zM242 359h1v1h-1zM242 359.5h1v1h-1zM240.5 357.5h1v1h-1zM240.5 357h1v1h-1zM238 364.5h1v1h-1zM281.5 337h1v1h-1zM241.5 365h1v1h-1zM241.5 365.5h1v1h-1zM229 367h1v1h-1zM229 367.5h1v1h-1zM242 361h1v1h-1zM228.5 367h1v1h-1zM242 361.5h1v1h-1zM238.5 353h1v1h-1zM241.5 358h1v1h-1zM240 363h1v1h-1zM241.5 358.5h1v1h-1zM228.5 351h1v1h-1zM220.5 365h1v1h-1zM220.5 365.5h1v1h-1zM240 356h1v1h-1zM241.5 360h1v1h-1zM282 337h1v1h-1zM282 337.5h1v1h-1zM242 365.5h1v1h-1zM242 365h1v1h-1zM241 357h1v1h-1zM216 357h1v1h-1zM242 358h1v1h-1zM242 358.5h1v1h-1zM222 352.5h1v1h-1zM222 352h1v1h-1zM226.5 366.5h1v1h-1zM226.5 366h1v1h-1zM281.5 336.5h1v1h-1zM281.5 336h1v1h-1zM284 339h1v1h-1zM284 339.5h1v1h-1zM221 365h1v1h-1zM221 365.5h1v1h-1zM283.5 339.5h1v1h-1zM215.5 357.5h1v1h-1zM242 360h1v1h-1zM242 360.5h1v1h-1zM235 366h1v1h-1zM235 366.5h1v1h-1zM281.5 333.5h1v1h-1zM281.5 333h1v1h-1zM239 363h1v1h-1zM222 365h1v1h-1zM287.5 338h1v1h-1zM240 355.5h1v1h-1zM234.5 366h1v1h-1zM231 352h1v1h-1zM216.5 360h1v1h-1zM234.5 366.5h1v1h-1zM241 363.5h1v1h-1zM241 363h1v1h-1zM240.5 363.5h1v1h-1zM240.5 363h1v1h-1zM282 336.5h1v1h-1zM216 357.5h1v1h-1zM241 356.5h1v1h-1zM241 356h1v1h-1zM216.5 362h1v1h-1zM236.5 365.5h1v1h-1zM227 366.5h1v1h-1zM236.5 365h1v1h-1zM243 362h1v1h-1zM227 366h1v1h-1zM240.5 356.5h1v1h-1zM221.5 352.5h1v1h-1zM243 362.5h1v1h-1zM240.5 356h1v1h-1zM241.5 364.5h1v1h-1zM241.5 364h1v1h-1zM284 329.5h1v1h-1zM284 329h1v1h-1zM224 351h1v1h-1zM224 351.5h1v1h-1zM283.5 329h1v1h-1zM283.5 329.5h1v1h-1zM241.5 357h1v1h-1zM223.5 351h1v1h-1zM223.5 351.5h1v1h-1zM243.5 363h1v1h-1zM243.5 363.5h1v1h-1zM282.5 330.5h1v1h-1zM244.5 364.5h1v1h-1zM289 336h1v1h-1zM288 338.5h1v1h-1zM288 338h1v1h-1zM289 336.5h1v1h-1zM217 360.5h1v1h-1zM238.5 363h1v1h-1zM238.5 363.5h1v1h-1zM241.5 359.5h1v1h-1zM221.5 365.5h1v1h-1zM239 353h1v1h-1zM239 353.5h1v1h-1zM282 333h1v1h-1zM237 365h1v1h-1zM237 365.5h1v1h-1zM282 333.5h1v1h-1zM237.5 364.5h1v1h-1zM237.5 364h1v1h-1zM242 364h1v1h-1zM242 364.5h1v1h-1zM289 329.5h1v1h-1zM288.5 336h1v1h-1zM289 329h1v1h-1zM217 362.5h1v1h-1zM217 362h1v1h-1zM230.5 352h1v1h-1zM241.5 361h1v1h-1zM242 357h1v1h-1zM239.5 363h1v1h-1zM242.5 362h1v1h-1zM242.5 362.5h1v1h-1zM288.5 329h1v1h-1zM288.5 329.5h1v1h-1zM244 363h1v1h-1zM244 363.5h1v1h-1zM283 330h1v1h-1z" fill="#38a878" opacity="1.0"/>
<path d="M240.5 364h1v1h-1zM291 331.5h1v1h-1zM291 331h1v1h-1zM215.5 362.5h1v1h-1zM215.5 362h1v1h-1zM290.5 331.5h1v1h-1zM290 335h1v1h-1zM290 335.5h1v1h-1zM216 358h1v1h-1zM216 358.5h1v1h-1zM286 328h1v1h-1zM243.5 362h1v1h-1zM243 366h1v1h-1zM232 366.5h1v1h-1zM243 366.5h1v1h-1zM290.5 333.5h1v1h-1zM290.5 333h1v1h-1zM240.5 355h1v1h-1zM242.5 357.5h1v1h-1zM222.5 351.5h1v1h-1zM234 366h1v1h-1zM233.5 366h1v1h-1zM233.5 366.5h1v1h-1zM243 359h1v1h-1zM288 339.5h1v1h-1zM288 339h1v1h-1zM216 362.5h1v1h-1zM216 362h1v1h-1zM287.5 339h1v1h-1zM287.5 339.5h1v1h-1zM281.5 332h1v1h-1zM241 364.5h1v1h-1zM243 361h1v1h-1zM243 361.5h1v1h-1zM242 356h1v1h-1zM244 362h1v1h-1zM244 362.5h1v1h-1zM217 363.5h1v1h-1zM217 363h1v1h-1zM216.5 363h1v1h-1zM223 351.5h1v1h-1zM223 351h1v1h-1zM216.5 363.5h1v1h-1zM218 364.5h1v1h-1zM291 333.5h1v1h-1zM291 333h1v1h-1zM242.5 366h1v1h-1zM244.5 363.5h1v1h-1zM244.5 363h1v1h-1zM218.5 353h1v1h-1zM218.5 353.5h1v1h-1zM285 328h1v1h-1zM217.5 364h1v1h-1zM282 332.5h1v1h-1zM242.5 359.5h1v1h-1zM242.5 359h1v1h-1zM244.5 365.5h1v1h-1zM244.5 365h1v1h-1zM243 358.5h1v1h-1zM243 358h1v1h-1zM227.5 367.5h1v1h-1zM227.5 367h1v1h-1zM243.5 366.5h1v1h-1zM215.5 359h1v1h-1zM215.5 359.5h1v1h-1zM229.5 367.5h1v1h-1zM242.5 361h1v1h-1zM289.5 335.5h1v1h-1zM288.5 337.5h1v1h-1zM245 363h1v1h-1zM219 353h1v1h-1zM215.5 361.5h1v1h-1zM215.5 361h1v1h-1zM245 365.5h1v1h-1zM291 332h1v1h-1zM290.5 332h1v1h-1zM290.5 332.5h1v1h-1zM228 367h1v1h-1zM228 367.5h1v1h-1zM244 366.5h1v1h-1zM244 366h1v1h-1zM216 359.5h1v1h-1zM230 367h1v1h-1zM284.5 328.5h1v1h-1zM284.5 328h1v1h-1zM215.5 356.5h1v1h-1zM215.5 356h1v1h-1zM220 365.5h1v1h-1zM242.5 358.5h1v1h-1zM242.5 358h1v1h-1zM220 365h1v1h-1zM219.5 365h1v1h-1zM216 361h1v1h-1zM216 361.5h1v1h-1zM285.5 328h1v1h-1zM231.5 366h1v1h-1zM215.5 358h1v1h-1zM236 366.5h1v1h-1zM236 366h1v1h-1zM239.5 354.5h1v1h-1zM239.5 354h1v1h-1zM216 356.5h1v1h-1zM216 356h1v1h-1zM241 355.5h1v1h-1zM241 355h1v1h-1zM240.5 355.5h1v1h-1z" fill="#38a888" opacity="1.0"/>
<path d="M223 352h1v1h-1zM223 352.5h1v1h-1zM286.5 337h1v1h-1zM290 332.5h1v1h-1zM290 332h1v1h-1zM219 363.5h1v1h-1zM222.5 352h1v1h-1zM222.5 352.5h1v1h-1zM238 355h1v1h-1zM238 355.5h1v1h-1zM288.5 334h1v1h-1zM289 330.5h1v1h-1zM289.5 332.5h1v1h-1zM289.5 332h1v1h-1zM240 358.5h1v1h-1zM240 358h1v1h-1zM218.5 363h1v1h-1zM218.5 363.5h1v1h-1zM237.5 355h1v1h-1zM239.5 358.5h1v1h-1zM239.5 358h1v1h-1zM288.5 330.5h1v1h-1zM288.5 330h1v1h-1zM233 364.5h1v1h-1zM233 364h1v1h-1zM240 360h1v1h-1zM240 360.5h1v1h-1zM220 354.5h1v1h-1zM239 361.5h1v1h-1zM239 361h1v1h-1zM239.5 360h1v1h-1zM229 366h1v1h-1zM229 366.5h1v1h-1zM219.5 354.5h1v1h-1zM239.5 360.5h1v1h-1zM220 354h1v1h-1zM282.5 337h1v1h-1zM228.5 366h1v1h-1zM228.5 366.5h1v1h-1zM282.5 337.5h1v1h-1zM287 337h1v1h-1zM238.5 361h1v1h-1z" fill="#38b848" opacity="1.0"/>
<path d="M226.5 365h1v1h-1zM285.5 329h1v1h-1zM237 363h1v1h-1zM237.5 362h1v1h-1zM237 363.5h1v1h-1zM219 354h1v1h-1zM219 354.5h1v1h-1zM218 355.5h1v1h-1zM217 357h1v1h-1zM217 357.5h1v1h-1zM236.5 363.5h1v1h-1zM235.5 364h1v1h-1zM236.5 363h1v1h-1zM217.5 359.5h1v1h-1zM283 332h1v1h-1zM218.5 354.5h1v1h-1zM218 361.5h1v1h-1zM240 361.5h1v1h-1zM217.5 362.5h1v1h-1zM230 366.5h1v1h-1zM240 361h1v1h-1zM217.5 362h1v1h-1zM283 332.5h1v1h-1zM239 356.5h1v1h-1zM282.5 332.5h1v1h-1zM282.5 332h1v1h-1zM219.5 364.5h1v1h-1zM220 364.5h1v1h-1zM229.5 366.5h1v1h-1zM219.5 364h1v1h-1zM229.5 366h1v1h-1zM220 364h1v1h-1zM287 338.5h1v1h-1zM289.5 331h1v1h-1zM238 354.5h1v1h-1zM238 354h1v1h-1zM232 353.5h1v1h-1zM217.5 355.5h1v1h-1zM217.5 361h1v1h-1zM217.5 361.5h1v1h-1zM232 353h1v1h-1zM218 360.5h1v1h-1zM217.5 355h1v1h-1zM231.5 353h1v1h-1zM238.5 356.5h1v1h-1zM218 360h1v1h-1zM284 330h1v1h-1zM286.5 338h1v1h-1zM286.5 338.5h1v1h-1zM290 333.5h1v1h-1zM237.5 354.5h1v1h-1zM220.5 353.5h1v1h-1zM220.5 353h1v1h-1zM284 330.5h1v1h-1zM288 336h1v1h-1zM238 362.5h1v1h-1zM288 336.5h1v1h-1zM287.5 336.5h1v1h-1zM289.5 333.5h1v1h-1zM289.5 333h1v1h-1zM238 362h1v1h-1zM217.5 360.5h1v1h-1zM227 365.5h1v1h-1zM218 362h1v1h-1zM286 329h1v1h-1zM218 359h1v1h-1z" fill="#38b858" opacity="1.0"/>
<path d="M303 348h1v1h-1zM220.5 328.5h1v1h-1zM222 332.5h1v1h-1zM240 319h1v1h-1zM294 293.5h1v1h-1zM264.5 309.5h1v1h-1zM256 312.5h1v1h-1zM272.5 295.5h1v1h-1zM263.5 314.5h1v1h-1zM311.5 366h1v1h-1zM310.5 337.5h1v1h-1zM278.5 378.5h1v1h-1zM310 359.5h1v1h-1zM301 378h1v1h-1zM302.5 375h1v1h-1zM310.5 361h1v1h-1zM252.5 310.5h1v1h-1zM313.5 357h1v1h-1zM244.5 312.5h1v1h-1zM287 293.5h1v1h-1zM287 290.5h1v1h-1zM309 357h1v1h-1zM288.5 288.5h1v1h-1zM293.5 378.5h1v1h-1zM305.5 319h1v1h-1zM250 317.5h1v1h-1zM309.5 307.5h1v1h-1zM302 296h1v1h-1zM216.5 378.5h1v1h-1zM283.5 291.5h1v1h-1zM307 378h1v1h-1zM216.5 335.5h1v1h-1zM306 336.5h1v1h-1zM299 294.5h1v1h-1zM224.5 333.5h1v1h-1zM252.5 321.5h1v1h-1zM302.5 334h1v1h-1zM242.5 323h1v1h-1zM313.5 374.5h1v1h-1zM301 300.5h1v1h-1zM304.5 374h1v1h-1zM306 311.5h1v1h-1zM250.5 312h1v1h-1zM258.5 331h1v1h-1zM303.5 296.5h1v1h-1zM254 316.5h1v1h-1zM243.5 315.5h1v1h-1zM211.5 338h1v1h-1zM309 316h1v1h-1zM294.5 296.5h1v1h-1zM245 319.5h1v1h-1zM256.5 315.5h1v1h-1zM287 377.5h1v1h-1zM261.5 314.5h1v1h-1zM237 321.5h1v1h-1zM280 295h1v1h-1zM228 324h1v1h-1zM252 315h1v1h-1zM228 327h1v1h-1zM268.5 304.5h1v1h-1zM309 355h1v1h-1z" fill="#484898" opacity="0.6"/>
<path d="M218.5 361.5h1v1h-1zM218.5 361h1v1h-1zM231 365.5h1v1h-1zM231 365h1v1h-1zM221 364h1v1h-1zM232 364.5h1v1h-1zM221 364.5h1v1h-1zM232 364h1v1h-1zM284 338.5h1v1h-1zM284 338h1v1h-1zM282.5 336h1v1h-1zM282.5 336.5h1v1h-1zM288.5 331h1v1h-1zM225 352h1v1h-1zM225 352.5h1v1h-1zM288 335.5h1v1h-1zM289 333.5h1v1h-1zM287 336h1v1h-1zM287.5 335.5h1v1h-1zM287.5 335h1v1h-1zM238.5 360h1v1h-1zM221.5 353h1v1h-1zM230.5 365.5h1v1h-1zM285 338.5h1v1h-1zM286 337.5h1v1h-1zM285 338h1v1h-1zM286 337h1v1h-1zM237 362h1v1h-1zM237 362.5h1v1h-1zM285.5 337.5h1v1h-1zM285.5 337h1v1h-1zM237.5 361.5h1v1h-1zM220.5 354h1v1h-1zM219 359.5h1v1h-1zM220.5 354.5h1v1h-1zM219 359h1v1h-1zM236 354h1v1h-1zM236 354.5h1v1h-1zM235 364.5h1v1h-1zM222 364h1v1h-1zM235 364h1v1h-1zM235.5 354.5h1v1h-1zM218 357.5h1v1h-1zM218 357h1v1h-1zM236 363h1v1h-1zM235.5 363.5h1v1h-1zM235.5 363h1v1h-1zM283 334.5h1v1h-1zM218.5 356h1v1h-1zM218.5 356.5h1v1h-1zM286 330.5h1v1h-1zM284.5 338.5h1v1h-1zM283 334h1v1h-1zM284.5 338h1v1h-1zM237 355.5h1v1h-1zM224 364h1v1h-1zM219 361h1v1h-1zM219 361.5h1v1h-1zM287.5 330.5h1v1h-1zM287.5 330h1v1h-1zM227.5 352.5h1v1h-1zM227.5 352h1v1h-1zM231 353.5h1v1h-1zM283 336h1v1h-1zM237.5 356.5h1v1h-1zM282.5 333.5h1v1h-1zM282.5 333h1v1h-1zM222.5 364h1v1h-1zM222.5 364.5h1v1h-1zM238.5 357.5h1v1h-1zM238.5 357h1v1h-1zM230.5 353h1v1h-1zM238 361h1v1h-1zM230.5 353.5h1v1h-1zM221 354.5h1v1h-1zM218.5 360h1v1h-1zM221 354h1v1h-1zM284 337h1v1h-1zM284 337.5h1v1h-1zM283.5 337.5h1v1h-1zM283.5 337h1v1h-1zM239 359.5h1v1h-1zM219 356h1v1h-1zM239 359h1v1h-1zM234 354h1v1h-1zM234 354.5h1v1h-1zM233.5 354.5h1v1h-1zM233.5 354h1v1h-1zM288.5 333h1v1h-1zM288.5 333.5h1v1h-1zM227.5 365h1v1h-1zM218.5 362.5h1v1h-1zM227.5 365.5h1v1h-1zM218.5 362h1v1h-1zM223.5 352.5h1v1h-1zM221.5 364.5h1v1h-1zM228 352.5h1v1h-1zM221.5 364h1v1h-1zM228 352h1v1h-1zM226 364h1v1h-1zM225.5 352h1v1h-1zM238 356h1v1h-1zM238 356.5h1v1h-1zM234.5 364.5h1v1h-1zM234.5 364h1v1h-1zM283 333.5h1v1h-1zM218.5 355h1v1h-1zM217.5 357.5h1v1h-1zM217.5 357h1v1h-1zM218.5 355.5h1v1h-1zM286 338h1v1h-1zM286 338.5h1v1h-1zM285.5 338h1v1h-1zM285.5 338.5h1v1h-1zM219 360h1v1h-1zM226.5 352h1v1h-1zM236.5 354.5h1v1h-1zM286.5 330.5h1v1h-1zM224.5 364.5h1v1h-1zM224.5 364h1v1h-1zM228 365.5h1v1h-1zM219 362.5h1v1h-1zM282.5 335.5h1v1h-1zM238.5 359h1v1h-1zM226 352h1v1h-1zM239 358h1v1h-1zM219 355h1v1h-1zM219 355.5h1v1h-1zM220 363h1v1h-1zM220 363.5h1v1h-1zM219.5 363h1v1h-1zM235 354.5h1v1h-1zM218 356.5h1v1h-1zM218 356h1v1h-1zM285 330h1v1h-1zM232.5 354h1v1h-1zM232.5 354.5h1v1h-1zM283.5 338.5h1v1h-1zM231.5 364.5h1v1h-1zM231.5 364h1v1h-1zM237 354h1v1h-1zM237 354.5h1v1h-1zM283.5 338h1v1h-1zM285 330.5h1v1h-1zM223 364.5h1v1h-1zM223 364h1v1h-1zM239 360h1v1h-1zM239 360.5h1v1h-1zM222 353.5h1v1h-1zM222 353h1v1h-1zM239.5 359.5h1v1h-1zM239.5 359h1v1h-1zM234.5 354.5h1v1h-1zM234.5 354h1v1h-1zM233.5 364h1v1h-1zM220.5 364h1v1h-1zM227 352.5h1v1h-1zM227 352h1v1h-1zM233.5 364.5h1v1h-1zM217.5 356.5h1v1h-1zM225 364h1v1h-1zM225 364.5h1v1h-1zM284 331.5h1v1h-1zM238.5 358h1v1h-1zM284 331h1v1h-1zM283.5 331h1v1h-1zM283.5 331.5h1v1h-1zM284.5 330h1v1h-1zM284.5 330.5h1v1h-1zM283 335.5h1v1h-1zM283 335h1v1h-1zM224.5 352.5h1v1h-1zM286.5 336.5h1v1h-1zM286.5 336h1v1h-1zM229 352.5h1v1h-1zM229 352h1v1h-1zM228.5 352.5h1v1h-1zM228.5 352h1v1h-1zM217.5 358h1v1h-1zM217.5 358.5h1v1h-1zM285.5 330h1v1h-1zM285.5 330.5h1v1h-1zM218.5 359h1v1h-1zM218.5 359.5h1v1h-1zM223.5 364.5h1v1h-1zM282.5 334.5h1v1h-1zM282.5 334h1v1h-1zM233 354h1v1h-1zM289 331h1v1h-1zM236.5 355.5h1v1h-1zM236.5 355h1v1h-1zM289 331.5h1v1h-1zM238.5 358.5h1v1h-1zM240 359.5h1v1h-1z" fill="#48b848" opacity="1.0"/>
<path d="M285.5 335h1v1h-1zM286 335.5h1v1h-1zM286 335h1v1h-1zM286.5 334h1v1h-1zM229 353h1v1h-1zM285.5 335.5h1v1h-1zM286.5 334.5h1v1h-1zM228.5 353h1v1h-1zM228.5 353.5h1v1h-1zM237.5 359h1v1h-1zM237.5 359.5h1v1h-1zM233.5 355.5h1v1h-1zM234 355.5h1v1h-1zM285 335h1v1h-1zM223 353h1v1h-1zM223 353.5h1v1h-1zM284.5 335.5h1v1h-1zM284.5 335h1v1h-1zM222.5 353.5h1v1h-1zM222.5 353h1v1h-1zM287 334h1v1h-1zM287 334.5h1v1h-1zM238 359.5h1v1h-1z" fill="#58b838" opacity="1.0"/>
<path d="M285 336.5h1v1h-1zM285 336h1v1h-1zM229 365h1v1h-1zM229 365.5h1v1h-1zM228.5 365h1v1h-1zM219.5 362.5h1v1h-1zM219.5 362h1v1h-1zM220 355h1v1h-1zM235 355.5h1v1h-1zM235 355h1v1h-1zM220.5 363.5h1v1h-1zM238 357h1v1h-1zM238 357.5h1v1h-1zM285 331h1v1h-1zM285 331.5h1v1h-1zM284 333h1v1h-1zM234.5 355.5h1v1h-1zM284.5 331.5h1v1h-1zM284.5 331h1v1h-1zM218.5 358.5h1v1h-1zM284 335h1v1h-1zM284 335.5h1v1h-1zM220 362.5h1v1h-1zM226.5 364.5h1v1h-1zM226.5 364h1v1h-1zM232 354h1v1h-1zM232 354.5h1v1h-1zM231 364h1v1h-1zM231 364.5h1v1h-1zM221 363.5h1v1h-1zM221 363h1v1h-1zM231.5 354.5h1v1h-1zM231.5 354h1v1h-1zM231.5 363.5h1v1h-1zM231.5 363h1v1h-1zM237.5 358.5h1v1h-1zM237.5 358h1v1h-1zM288 334.5h1v1h-1zM234 363h1v1h-1zM287.5 334.5h1v1h-1zM233.5 363.5h1v1h-1zM233.5 363h1v1h-1zM283.5 335h1v1h-1zM286 336.5h1v1h-1zM285.5 336.5h1v1h-1zM285.5 336h1v1h-1zM286.5 335.5h1v1h-1zM286.5 335h1v1h-1zM237.5 360h1v1h-1zM219 358.5h1v1h-1zM229.5 365h1v1h-1zM229.5 365.5h1v1h-1zM236 362.5h1v1h-1zM235.5 362h1v1h-1zM235.5 362.5h1v1h-1zM236.5 361h1v1h-1zM236.5 361.5h1v1h-1zM284 332h1v1h-1zM284 332.5h1v1h-1zM283.5 332.5h1v1h-1zM283.5 332h1v1h-1zM236 355h1v1h-1zM236 355.5h1v1h-1zM235.5 355h1v1h-1zM235.5 355.5h1v1h-1zM238 358.5h1v1h-1zM238 358h1v1h-1zM218.5 357.5h1v1h-1zM218.5 357h1v1h-1zM227 364h1v1h-1zM227 364.5h1v1h-1zM284 334.5h1v1h-1zM283.5 334.5h1v1h-1zM283.5 334h1v1h-1zM220 361.5h1v1h-1zM287.5 331.5h1v1h-1zM219.5 361h1v1h-1zM219.5 361.5h1v1h-1zM287 335.5h1v1h-1zM289 332.5h1v1h-1zM236.5 356.5h1v1h-1zM289 332h1v1h-1zM238 360h1v1h-1zM287 335h1v1h-1zM284 336h1v1h-1zM230 365h1v1h-1zM230 365.5h1v1h-1zM283.5 336.5h1v1h-1zM230.5 364.5h1v1h-1zM285 337.5h1v1h-1zM285 337h1v1h-1zM237.5 357h1v1h-1zM237.5 357.5h1v1h-1zM237 361h1v1h-1zM229.5 353.5h1v1h-1zM229.5 353h1v1h-1zM237 361.5h1v1h-1zM287.5 333h1v1h-1zM287.5 333.5h1v1h-1zM288.5 332.5h1v1h-1zM235 363h1v1h-1zM235 363.5h1v1h-1zM284.5 337h1v1h-1zM232.5 363.5h1v1h-1zM219 357h1v1h-1zM219 357.5h1v1h-1zM234.5 363h1v1h-1zM237 356h1v1h-1zM237 356.5h1v1h-1zM288 331h1v1h-1zM288 331.5h1v1h-1zM230 353.5h1v1h-1zM283.5 333h1v1h-1zM283.5 333.5h1v1h-1zM220 360h1v1h-1zM233 363.5h1v1h-1zM233 363h1v1h-1zM288 333h1v1h-1zM288 333.5h1v1h-1zM283.5 335.5h1v1h-1z" fill="#58b848" opacity="1.0"/>
<path d="M286.5 331h1v1h-1zM230.5 363h1v1h-1zM286.5 331.5h1v1h-1zM237 360.5h1v1h-1zM229.5 364.5h1v1h-1zM236.5 357h1v1h-1zM235 362.5h1v1h-1zM235 362h1v1h-1zM234.5 362h1v1h-1zM234.5 362.5h1v1h-1zM232.5 355.5h1v1h-1zM228 364.5h1v1h-1zM228 364h1v1h-1zM287 331h1v1h-1zM235.5 356h1v1h-1zM285 333.5h1v1h-1zM286 332.5h1v1h-1zM230 364.5h1v1h-1zM286 332h1v1h-1zM285.5 332.5h1v1h-1zM285.5 332h1v1h-1zM287 333h1v1h-1zM287 333.5h1v1h-1zM288 332.5h1v1h-1zM288 332h1v1h-1zM287.5 332h1v1h-1zM286 334.5h1v1h-1zM286 334h1v1h-1zM233 355h1v1h-1zM220 357h1v1h-1zM220 357.5h1v1h-1zM222 354.5h1v1h-1zM220.5 362h1v1h-1zM220.5 362.5h1v1h-1zM222 363h1v1h-1zM222 363.5h1v1h-1zM237 357.5h1v1h-1zM237 357h1v1h-1zM220 359.5h1v1h-1zM219.5 359.5h1v1h-1zM286 331.5h1v1h-1zM285.5 331h1v1h-1zM284.5 333.5h1v1h-1zM284.5 333h1v1h-1zM285.5 331.5h1v1h-1zM227.5 353.5h1v1h-1zM227.5 353h1v1h-1zM221 362.5h1v1h-1zM221 362h1v1h-1zM285.5 333.5h1v1h-1zM285.5 333h1v1h-1zM286.5 332h1v1h-1zM286.5 332.5h1v1h-1zM221 355h1v1h-1zM227.5 364.5h1v1h-1zM221.5 354h1v1h-1zM221.5 354.5h1v1h-1zM221.5 363.5h1v1h-1zM221.5 363h1v1h-1zM220 356h1v1h-1zM220 356.5h1v1h-1zM219.5 356h1v1h-1zM219.5 356.5h1v1h-1zM236.5 360.5h1v1h-1zM285 332.5h1v1h-1zM228 353h1v1h-1zM228 353.5h1v1h-1zM230.5 354h1v1h-1zM220 358.5h1v1h-1zM219.5 358h1v1h-1zM219.5 358.5h1v1h-1zM287 332h1v1h-1zM287 332.5h1v1h-1zM231 354h1v1h-1zM284.5 332.5h1v1h-1zM285 334.5h1v1h-1zM231 363h1v1h-1zM286 333h1v1h-1zM286 333.5h1v1h-1zM230.5 354.5h1v1h-1z" fill="#68b838" opacity="1.0"/>
<path d="M221 361.5h1v1h-1zM224 363.5h1v1h-1zM223.5 363h1v1h-1zM220.5 361.5h1v1h-1zM220.5 361h1v1h-1zM235 356.5h1v1h-1zM235 356h1v1h-1zM236 361.5h1v1h-1zM236 361h1v1h-1zM235.5 361.5h1v1h-1zM235.5 361h1v1h-1zM224 353h1v1h-1zM224 353.5h1v1h-1zM223.5 353.5h1v1h-1zM223.5 353h1v1h-1zM223 363h1v1h-1zM223 363.5h1v1h-1zM237 359h1v1h-1zM226.5 353h1v1h-1zM228.5 364.5h1v1h-1zM229 364.5h1v1h-1zM228.5 364h1v1h-1zM234.5 356h1v1h-1zM234.5 356.5h1v1h-1zM225 363.5h1v1h-1zM225 363h1v1h-1zM222.5 363h1v1h-1zM236.5 359.5h1v1h-1zM236.5 359h1v1h-1zM237 358.5h1v1h-1zM237 358h1v1h-1zM224.5 363h1v1h-1zM224.5 363.5h1v1h-1zM227 353.5h1v1h-1zM227 353h1v1h-1zM236.5 358h1v1h-1zM236.5 358.5h1v1h-1zM226.5 353.5h1v1h-1z" fill="#68c838" opacity="1.0"/>
<path d="M231.5 355.5h1v1h-1zM231.5 355h1v1h-1zM226 363h1v1h-1zM226 363.5h1v1h-1zM232 355.5h1v1h-1zM222 362h1v1h-1zM222 362.5h1v1h-1zM233 362.5h1v1h-1zM233 362h1v1h-1zM225.5 363.5h1v1h-1zM230 354.5h1v1h-1zM225.5 363h1v1h-1zM230 354h1v1h-1zM221 360.5h1v1h-1zM221 360h1v1h-1zM226 353.5h1v1h-1zM221.5 362.5h1v1h-1zM226 353h1v1h-1zM221.5 362h1v1h-1zM232.5 362h1v1h-1zM229.5 354h1v1h-1zM220.5 360.5h1v1h-1zM225.5 353h1v1h-1zM225.5 353.5h1v1h-1zM235.5 357.5h1v1h-1zM235.5 357h1v1h-1zM227 363.5h1v1h-1zM221 356.5h1v1h-1zM226.5 363.5h1v1h-1zM232 362h1v1h-1zM232 362.5h1v1h-1zM226.5 363h1v1h-1zM231.5 362.5h1v1h-1zM234 356.5h1v1h-1zM220.5 356h1v1h-1zM225 353h1v1h-1zM220.5 356.5h1v1h-1zM234 356h1v1h-1zM225 353.5h1v1h-1zM233.5 356h1v1h-1zM233.5 362.5h1v1h-1zM234 362.5h1v1h-1zM233.5 362h1v1h-1zM233.5 356.5h1v1h-1zM234 362h1v1h-1zM232 355h1v1h-1z" fill="#78c838" opacity="1.0"/>
<path d="M227.5 363h1v1h-1zM227.5 363.5h1v1h-1zM232.5 356h1v1h-1zM222 355h1v1h-1zM232.5 356.5h1v1h-1zM228 363h1v1h-1zM235.5 359h1v1h-1zM236 359.5h1v1h-1zM236 359h1v1h-1zM235.5 359.5h1v1h-1zM233 356h1v1h-1zM222 355.5h1v1h-1z" fill="#88c828" opacity="1.0"/>
<path d="M236 358h1v1h-1zM236 358.5h1v1h-1zM234.5 357h1v1h-1zM235.5 358.5h1v1h-1zM230 363h1v1h-1zM223 354.5h1v1h-1zM223 354h1v1h-1zM229.5 363h1v1h-1zM229.5 363.5h1v1h-1zM222.5 354h1v1h-1zM236 360h1v1h-1zM222.5 354.5h1v1h-1zM236 360.5h1v1h-1zM235 361h1v1h-1zM235.5 360h1v1h-1zM235.5 360.5h1v1h-1zM221 359.5h1v1h-1zM221 359h1v1h-1zM229 354.5h1v1h-1zM229 354h1v1h-1zM228.5 354.5h1v1h-1zM228.5 354h1v1h-1zM235 357h1v1h-1zM220.5 359h1v1h-1zM220.5 359.5h1v1h-1zM235 357.5h1v1h-1zM234.5 361h1v1h-1zM234.5 361.5h1v1h-1z" fill="#88c838" opacity="1.0"/>
<path d="M231 362h1v1h-1zM228 354h1v1h-1zM228 354.5h1v1h-1zM220.5 358h1v1h-1zM220.5 358.5h1v1h-1zM234 361.5h1v1h-1zM233.5 361h1v1h-1zM233.5 361.5h1v1h-1zM227.5 354h1v1h-1zM227.5 354.5h1v1h-1zM231 355.5h1v1h-1zM231 355h1v1h-1zM230.5 362.5h1v1h-1zM230.5 362h1v1h-1zM221 357h1v1h-1zM221 357.5h1v1h-1zM221 358h1v1h-1zM220.5 357h1v1h-1zM222 361h1v1h-1zM222 361.5h1v1h-1zM227 354h1v1h-1zM230.5 355h1v1h-1zM230.5 355.5h1v1h-1zM226.5 354.5h1v1h-1zM226.5 354h1v1h-1zM223 362.5h1v1h-1zM223 362h1v1h-1zM221.5 361h1v1h-1zM229 363.5h1v1h-1zM229 363h1v1h-1zM228.5 363.5h1v1h-1zM228.5 363h1v1h-1zM222.5 362h1v1h-1zM221 358.5h1v1h-1z" fill="#98c828" opacity="1.0"/>
<path d="M224 354.5h1v1h-1zM224 354h1v1h-1zM221.5 360.5h1v1h-1zM221.5 360h1v1h-1zM230 355h1v1h-1zM226 354.5h1v1h-1zM224.5 362.5h1v1h-1zM226 354h1v1h-1zM223.5 354.5h1v1h-1zM224.5 362h1v1h-1zM223.5 354h1v1h-1zM229.5 355.5h1v1h-1zM234.5 360h1v1h-1zM225.5 354.5h1v1h-1zM235 359.5h1v1h-1zM225.5 354h1v1h-1zM234 357h1v1h-1zM226 362.5h1v1h-1zM224 362.5h1v1h-1zM224 362h1v1h-1zM223.5 362h1v1h-1zM226 362h1v1h-1zM233.5 357h1v1h-1zM234 357.5h1v1h-1zM233.5 357.5h1v1h-1zM233 361.5h1v1h-1zM233 361h1v1h-1zM225 354.5h1v1h-1zM234.5 359h1v1h-1zM235 358h1v1h-1zM225.5 362h1v1h-1zM225.5 362.5h1v1h-1zM225 354h1v1h-1zM234.5 359.5h1v1h-1zM235 358.5h1v1h-1zM232 356h1v1h-1zM232 356.5h1v1h-1zM231.5 356h1v1h-1zM231.5 356.5h1v1h-1zM224.5 354h1v1h-1zM232.5 361h1v1h-1zM224.5 354.5h1v1h-1zM232.5 361.5h1v1h-1zM222 360.5h1v1h-1zM222 360h1v1h-1zM234.5 358.5h1v1h-1zM234.5 358h1v1h-1zM235 360.5h1v1h-1zM225 362h1v1h-1zM230 355.5h1v1h-1z" fill="#a8c828" opacity="1.0"/>
<path d="M232.5 357h1v1h-1zM232.5 357.5h1v1h-1zM232 361h1v1h-1zM232 361.5h1v1h-1zM223 361.5h1v1h-1zM223 361h1v1h-1zM231.5 361h1v1h-1zM222 356.5h1v1h-1zM222 356h1v1h-1zM222.5 361h1v1h-1zM222.5 361.5h1v1h-1zM221.5 356h1v1h-1zM221.5 356.5h1v1h-1zM228.5 355h1v1h-1zM229 355h1v1h-1zM228.5 355.5h1v1h-1zM229 355.5h1v1h-1zM226.5 362h1v1h-1zM230 362h1v1h-1zM230 362.5h1v1h-1zM229.5 362h1v1h-1zM229.5 362.5h1v1h-1zM233 357h1v1h-1zM227 362.5h1v1h-1zM227 362h1v1h-1zM226.5 362.5h1v1h-1z" fill="#b8c828" opacity="1.0"/>
<path d="M221.5 357h1v1h-1zM231 356h1v1h-1zM221.5 357.5h1v1h-1zM223 355.5h1v1h-1zM223 355h1v1h-1zM231 356.5h1v1h-1zM228.5 362.5h1v1h-1zM229 362h1v1h-1zM228.5 362h1v1h-1zM229 362.5h1v1h-1zM222.5 355h1v1h-1zM234 358.5h1v1h-1zM222.5 355.5h1v1h-1zM222 359h1v1h-1zM222 359.5h1v1h-1zM233.5 358.5h1v1h-1zM233.5 358h1v1h-1zM234 358h1v1h-1zM230.5 356.5h1v1h-1zM230.5 356h1v1h-1zM231 361h1v1h-1zM231 361.5h1v1h-1zM221.5 359.5h1v1h-1zM221.5 359h1v1h-1zM228 362h1v1h-1zM228 362.5h1v1h-1zM234 360.5h1v1h-1zM233.5 360.5h1v1h-1zM233.5 360h1v1h-1zM227.5 362h1v1h-1zM227.5 362.5h1v1h-1zM230.5 361h1v1h-1zM230.5 361.5h1v1h-1zM228 355h1v1h-1zM222 357h1v1h-1zM222 357.5h1v1h-1zM234 359.5h1v1h-1zM234 359h1v1h-1zM233.5 359.5h1v1h-1zM227.5 355h1v1h-1zM227.5 355.5h1v1h-1zM233.5 359h1v1h-1z" fill="#c8c828" opacity="1.0"/>
<path d="M223.5 355.5h1v1h-1zM232.5 360.5h1v1h-1zM225.5 361.5h1v1h-1zM232.5 360h1v1h-1zM229.5 361.5h1v1h-1zM229.5 361h1v1h-1zM225 355h1v1h-1zM225 355.5h1v1h-1zM233 359h1v1h-1zM233 359.5h1v1h-1zM227 355.5h1v1h-1zM225 361h1v1h-1zM226.5 355.5h1v1h-1zM226.5 355h1v1h-1zM232 360.5h1v1h-1zM232 360h1v1h-1zM231.5 357.5h1v1h-1zM232 357.5h1v1h-1zM224.5 355h1v1h-1zM223 360h1v1h-1zM231.5 360.5h1v1h-1zM223 360.5h1v1h-1zM231.5 360h1v1h-1zM232 357h1v1h-1zM232.5 359h1v1h-1zM224.5 355.5h1v1h-1zM224.5 361h1v1h-1zM232.5 359.5h1v1h-1zM222 358.5h1v1h-1zM233 358.5h1v1h-1zM233 358h1v1h-1zM222 358h1v1h-1zM222.5 360.5h1v1h-1zM230 356.5h1v1h-1zM230 356h1v1h-1zM232.5 358.5h1v1h-1zM223 356.5h1v1h-1zM224 355.5h1v1h-1zM224 355h1v1h-1zM223 356h1v1h-1zM232.5 358h1v1h-1zM223.5 355h1v1h-1zM221.5 358h1v1h-1zM224 361.5h1v1h-1zM223.5 361h1v1h-1zM226 361h1v1h-1zM223.5 361.5h1v1h-1zM226 355.5h1v1h-1zM229.5 356.5h1v1h-1zM233 360h1v1h-1zM230 361h1v1h-1zM233 360.5h1v1h-1zM222.5 356h1v1h-1zM222.5 356.5h1v1h-1zM225.5 355h1v1h-1zM225.5 355.5h1v1h-1zM225.5 361h1v1h-1zM230 361.5h1v1h-1z" fill="#d8c828" opacity="1.0"/>
<path d="M230 360.5h1v1h-1zM230 360h1v1h-1zM230 357.5h1v1h-1zM230 357h1v1h-1zM231 358h1v1h-1zM231 358.5h1v1h-1zM224 359.5h1v1h-1zM224 359h1v1h-1zM223.5 359h1v1h-1zM223.5 359.5h1v1h-1zM229.5 360.5h1v1h-1zM229.5 360h1v1h-1zM229.5 357h1v1h-1zM229.5 357.5h1v1h-1zM225 360.5h1v1h-1zM225 360h1v1h-1zM225 357.5h1v1h-1zM225 357h1v1h-1zM230.5 358h1v1h-1zM230.5 358.5h1v1h-1zM224.5 360.5h1v1h-1zM223.5 358.5h1v1h-1zM224.5 360h1v1h-1zM224.5 357.5h1v1h-1zM224.5 357h1v1h-1z" fill="#e8a818" opacity="1.0"/>
<path d="M223.5 357.5h1v1h-1zM224 357h1v1h-1zM224 357.5h1v1h-1zM223.5 357h1v1h-1zM225.5 356.5h1v1h-1zM225.5 356h1v1h-1zM226 356h1v1h-1zM226 356.5h1v1h-1zM227 356.5h1v1h-1zM227 356h1v1h-1zM226.5 356.5h1v1h-1z" fill="#e8a828" opacity="1.0"/>
<path d="M230.5 357h1v1h-1zM224 360h1v1h-1zM224 360.5h1v1h-1zM231.5 358h1v1h-1zM223 358h1v1h-1zM224.5 356.5h1v1h-1zM224.5 356h1v1h-1zM223.5 360.5h1v1h-1zM227.5 361h1v1h-1zM223 358.5h1v1h-1zM229 356h1v1h-1zM223.5 360h1v1h-1zM231.5 358.5h1v1h-1zM228.5 356h1v1h-1zM228.5 356.5h1v1h-1zM222.5 358h1v1h-1zM222.5 358.5h1v1h-1zM230.5 360.5h1v1h-1zM230.5 360h1v1h-1zM227 361h1v1h-1zM227 361.5h1v1h-1zM226.5 361h1v1h-1zM224 356.5h1v1h-1zM224 356h1v1h-1zM223 357h1v1h-1zM223 357.5h1v1h-1zM223.5 356.5h1v1h-1zM223.5 356h1v1h-1zM228 356h1v1h-1zM228 356.5h1v1h-1zM232 358.5h1v1h-1zM228.5 361.5h1v1h-1zM222.5 357.5h1v1h-1zM222.5 357h1v1h-1zM228.5 361h1v1h-1zM227.5 356h1v1h-1zM227.5 356.5h1v1h-1zM231 357.5h1v1h-1zM231 357h1v1h-1zM231 360.5h1v1h-1zM231.5 359.5h1v1h-1zM232 359h1v1h-1zM231.5 359h1v1h-1zM231 360h1v1h-1zM223 359h1v1h-1zM223 359.5h1v1h-1zM228 361.5h1v1h-1zM228 361h1v1h-1zM225 356.5h1v1h-1zM225 356h1v1h-1zM222.5 359h1v1h-1zM222.5 359.5h1v1h-1zM227.5 361.5h1v1h-1zM232 358h1v1h-1z" fill="#e8b828" opacity="1.0"/>
<path d="M227 358h1v1h-1zM227 358.5h1v1h-1zM228 358h1v1h-1zM228 358.5h1v1h-1zM226.5 358h1v1h-1zM226.5 358.5h1v1h-1zM227.5 358.5h1v1h-1zM227.5 358h1v1h-1z" fill="#f87818" opacity="1.0"/>
<path d="M229 359.5h1v1h-1zM228 357h1v1h-1zM228 357.5h1v1h-1zM229.5 358.5h1v1h-1zM229 359h1v1h-1zM229.5 358h1v1h-1zM228.5 359.5h1v1h-1zM228.5 359h1v1h-1zM227.5 357h1v1h-1zM227.5 357.5h1v1h-1zM226 359h1v1h-1zM226 359.5h1v1h-1zM229 358.5h1v1h-1zM229 358h1v1h-1zM228 359.5h1v1h-1zM228.5 358.5h1v1h-1zM228.5 358h1v1h-1zM226.5 357.5h1v1h-1zM227 357.5h1v1h-1zM226.5 357h1v1h-1zM225.5 359h1v1h-1zM225.5 359.5h1v1h-1zM227 357h1v1h-1zM227.5 359.5h1v1h-1zM230 359.5h1v1h-1zM227.5 359h1v1h-1zM230 359h1v1h-1zM226 358h1v1h-1zM226 358.5h1v1h-1zM226.5 359h1v1h-1zM227 359.5h1v1h-1zM229.5 359.5h1v1h-1zM229.5 359h1v1h-1zM225.5 358.5h1v1h-1zM225.5 358h1v1h-1zM226.5 359.5h1v1h-1zM227 359h1v1h-1zM230 358h1v1h-1zM230 358.5h1v1h-1z" fill="#f88818" opacity="1.0"/>
<path d="M224.5 359.5h1v1h-1zM226 357.5h1v1h-1zM226 357h1v1h-1zM228 360h1v1h-1zM224.5 359h1v1h-1zM225 358.5h1v1h-1zM225 358h1v1h-1zM225.5 357h1v1h-1zM225.5 357.5h1v1h-1zM227.5 360h1v1h-1zM227.5 360.5h1v1h-1zM224.5 358h1v1h-1zM224.5 358.5h1v1h-1zM228.5 357h1v1h-1zM229 357h1v1h-1zM229 357.5h1v1h-1zM228.5 357.5h1v1h-1zM225 359.5h1v1h-1zM225 359h1v1h-1z" fill="#f89818" opacity="1.0"/>
<path d="M225.5 360h1v1h-1zM225.5 360.5h1v1h-1zM229 360h1v1h-1zM229 360.5h1v1h-1zM231 359h1v1h-1zM231 359.5h1v1h-1zM228.5 360h1v1h-1zM226 360h1v1h-1zM228.5 360.5h1v1h-1zM227 360.5h1v1h-1zM227 360h1v1h-1zM230.5 359h1v1h-1zM230.5 359.5h1v1h-1zM226 360.5h1v1h-1zM226.5 360h1v1h-1z" fill="#f8a818" opacity="1.0"/>
</g>
<rect x="209.5" y="271" width="110" height="109" fill="none" stroke="#000" stroke-width="1.5"/>
<line x1="209.5" y1="271" x2="209.5" y2="380" stroke="#000" stroke-width="1.8"/>
<line x1="259.5" y1="271" x2="259.5" y2="380" stroke="#000" stroke-width="1.2"/>
<line x1="209.5" y1="341.3" x2="319.5" y2="341.3" stroke="#000" stroke-width="1.2"/>
<rect x="210.4" y="359.8" width="26.6" height="19.599999999999987" fill="#fff" opacity="0.68"/>
<text x="212.1" y="277.6" font-size="6.8" font-weight="bold" text-anchor="start"  stroke="#000" stroke-width="0.25">Q1</text>
<text x="212.1" y="287.9" font-size="7.5" font-weight="bold" text-anchor="start"  stroke="#000" stroke-width="0.25">1.17%</text>
<text x="296.2" y="277.6" font-size="6.8" font-weight="bold" text-anchor="start"  stroke="#000" stroke-width="0.25">Q2</text>
<text x="296.2" y="287.9" font-size="7.5" font-weight="bold" text-anchor="start"  stroke="#000" stroke-width="0.25">17.4%</text>
<text x="296.2" y="367.6" font-size="6.8" font-weight="bold" text-anchor="start"  stroke="#000" stroke-width="0.25">Q3</text>
<text x="296.2" y="377.7" font-size="7.5" font-weight="bold" text-anchor="start"  stroke="#000" stroke-width="0.25">8.30%</text>
<text x="211.7" y="367.6" font-size="6.8" font-weight="bold" text-anchor="start"  stroke="#000" stroke-width="0.25">Q4</text>
<text x="211.7" y="377.7" font-size="7.5" font-weight="bold" text-anchor="start"  stroke="#000" stroke-width="0.25">73.1%</text>
<line x1="205.0" y1="280.5" x2="209.5" y2="280.5" stroke="#000" stroke-width="1.2"/>
<line x1="207.0" y1="298.32373511056846" x2="209.5" y2="298.32373511056846" stroke="#000" stroke-width="0.8"/>
<line x1="207.0" y1="293.8334080046486" x2="209.5" y2="293.8334080046486" stroke="#000" stroke-width="0.8"/>
<line x1="207.0" y1="290.647470221137" x2="209.5" y2="290.647470221137" stroke="#000" stroke-width="0.8"/>
<line x1="207.0" y1="288.17626488943154" x2="209.5" y2="288.17626488943154" stroke="#000" stroke-width="0.8"/>
<line x1="207.0" y1="286.1571431152171" x2="209.5" y2="286.1571431152171" stroke="#000" stroke-width="0.8"/>
<line x1="207.0" y1="284.44999997963646" x2="209.5" y2="284.44999997963646" stroke="#000" stroke-width="0.8"/>
<line x1="207.0" y1="282.97120533170545" x2="209.5" y2="282.97120533170545" stroke="#000" stroke-width="0.8"/>
<line x1="207.0" y1="281.66681600929724" x2="209.5" y2="281.66681600929724" stroke="#000" stroke-width="0.8"/>
<line x1="205.0" y1="306" x2="209.5" y2="306" stroke="#000" stroke-width="1.2"/>
<line x1="207.0" y1="323.82373511056846" x2="209.5" y2="323.82373511056846" stroke="#000" stroke-width="0.8"/>
<line x1="207.0" y1="319.3334080046486" x2="209.5" y2="319.3334080046486" stroke="#000" stroke-width="0.8"/>
<line x1="207.0" y1="316.147470221137" x2="209.5" y2="316.147470221137" stroke="#000" stroke-width="0.8"/>
<line x1="207.0" y1="313.67626488943154" x2="209.5" y2="313.67626488943154" stroke="#000" stroke-width="0.8"/>
<line x1="207.0" y1="311.6571431152171" x2="209.5" y2="311.6571431152171" stroke="#000" stroke-width="0.8"/>
<line x1="207.0" y1="309.94999997963646" x2="209.5" y2="309.94999997963646" stroke="#000" stroke-width="0.8"/>
<line x1="207.0" y1="308.47120533170545" x2="209.5" y2="308.47120533170545" stroke="#000" stroke-width="0.8"/>
<line x1="207.0" y1="307.16681600929724" x2="209.5" y2="307.16681600929724" stroke="#000" stroke-width="0.8"/>
<line x1="205.0" y1="331.5" x2="209.5" y2="331.5" stroke="#000" stroke-width="1.2"/>
<line x1="207.0" y1="349.32373511056846" x2="209.5" y2="349.32373511056846" stroke="#000" stroke-width="0.8"/>
<line x1="207.0" y1="344.8334080046486" x2="209.5" y2="344.8334080046486" stroke="#000" stroke-width="0.8"/>
<line x1="207.0" y1="341.647470221137" x2="209.5" y2="341.647470221137" stroke="#000" stroke-width="0.8"/>
<line x1="207.0" y1="339.17626488943154" x2="209.5" y2="339.17626488943154" stroke="#000" stroke-width="0.8"/>
<line x1="207.0" y1="337.1571431152171" x2="209.5" y2="337.1571431152171" stroke="#000" stroke-width="0.8"/>
<line x1="207.0" y1="335.44999997963646" x2="209.5" y2="335.44999997963646" stroke="#000" stroke-width="0.8"/>
<line x1="207.0" y1="333.97120533170545" x2="209.5" y2="333.97120533170545" stroke="#000" stroke-width="0.8"/>
<line x1="207.0" y1="332.66681600929724" x2="209.5" y2="332.66681600929724" stroke="#000" stroke-width="0.8"/>
<line x1="205.0" y1="357" x2="209.5" y2="357" stroke="#000" stroke-width="1.2"/>
<line x1="207.0" y1="364.67626488943154" x2="209.5" y2="364.67626488943154" stroke="#000" stroke-width="0.8"/>
<line x1="207.0" y1="362.6571431152171" x2="209.5" y2="362.6571431152171" stroke="#000" stroke-width="0.8"/>
<line x1="207.0" y1="360.94999997963646" x2="209.5" y2="360.94999997963646" stroke="#000" stroke-width="0.8"/>
<line x1="207.0" y1="359.47120533170545" x2="209.5" y2="359.47120533170545" stroke="#000" stroke-width="0.8"/>
<line x1="207.0" y1="358.16681600929724" x2="209.5" y2="358.16681600929724" stroke="#000" stroke-width="0.8"/>
<line x1="205.0" y1="368.4" x2="209.5" y2="368.4" stroke="#000" stroke-width="1.2"/>
<line x1="207.0" y1="372" x2="209.5" y2="372" stroke="#000" stroke-width="0.8"/>
<line x1="207.0" y1="375.5" x2="209.5" y2="375.5" stroke="#000" stroke-width="0.8"/>
<line x1="207.0" y1="378.5" x2="209.5" y2="378.5" stroke="#000" stroke-width="0.8"/>
<text x="189.7" y="283.9" font-size="9">10<tspan dy="-3.6" font-size="6.2">5</tspan></text>
<text x="189.7" y="309.4" font-size="9">10<tspan dy="-3.6" font-size="6.2">4</tspan></text>
<text x="189.7" y="334.9" font-size="9">10<tspan dy="-3.6" font-size="6.2">3</tspan></text>
<text x="189.7" y="360.4" font-size="9">10<tspan dy="-3.6" font-size="6.2">2</tspan></text>
<text x="200.5" y="371.6" font-size="9" font-weight="normal" text-anchor="end" >0</text>
<line x1="233.5" y1="380" x2="233.5" y2="384.5" stroke="#000" stroke-width="1.2"/>
<line x1="223.35252977886304" y1="380" x2="223.35252977886304" y2="382.5" stroke="#000" stroke-width="0.8"/>
<line x1="225.8237351105685" y1="380" x2="225.8237351105685" y2="382.5" stroke="#000" stroke-width="0.8"/>
<line x1="227.84285688478292" y1="380" x2="227.84285688478292" y2="382.5" stroke="#000" stroke-width="0.8"/>
<line x1="229.55000002036354" y1="380" x2="229.55000002036354" y2="382.5" stroke="#000" stroke-width="0.8"/>
<line x1="231.02879466829455" y1="380" x2="231.02879466829455" y2="382.5" stroke="#000" stroke-width="0.8"/>
<line x1="232.3331839907028" y1="380" x2="232.3331839907028" y2="382.5" stroke="#000" stroke-width="0.8"/>
<line x1="259.0" y1="380" x2="259.0" y2="384.5" stroke="#000" stroke-width="1.2"/>
<line x1="241.1762648894315" y1="380" x2="241.1762648894315" y2="382.5" stroke="#000" stroke-width="0.8"/>
<line x1="245.66659199535138" y1="380" x2="245.66659199535138" y2="382.5" stroke="#000" stroke-width="0.8"/>
<line x1="248.85252977886304" y1="380" x2="248.85252977886304" y2="382.5" stroke="#000" stroke-width="0.8"/>
<line x1="251.3237351105685" y1="380" x2="251.3237351105685" y2="382.5" stroke="#000" stroke-width="0.8"/>
<line x1="253.34285688478292" y1="380" x2="253.34285688478292" y2="382.5" stroke="#000" stroke-width="0.8"/>
<line x1="255.05000002036354" y1="380" x2="255.05000002036354" y2="382.5" stroke="#000" stroke-width="0.8"/>
<line x1="256.52879466829455" y1="380" x2="256.52879466829455" y2="382.5" stroke="#000" stroke-width="0.8"/>
<line x1="257.83318399070276" y1="380" x2="257.83318399070276" y2="382.5" stroke="#000" stroke-width="0.8"/>
<line x1="284.5" y1="380" x2="284.5" y2="384.5" stroke="#000" stroke-width="1.2"/>
<line x1="266.67626488943154" y1="380" x2="266.67626488943154" y2="382.5" stroke="#000" stroke-width="0.8"/>
<line x1="271.1665919953514" y1="380" x2="271.1665919953514" y2="382.5" stroke="#000" stroke-width="0.8"/>
<line x1="274.352529778863" y1="380" x2="274.352529778863" y2="382.5" stroke="#000" stroke-width="0.8"/>
<line x1="276.82373511056846" y1="380" x2="276.82373511056846" y2="382.5" stroke="#000" stroke-width="0.8"/>
<line x1="278.8428568847829" y1="380" x2="278.8428568847829" y2="382.5" stroke="#000" stroke-width="0.8"/>
<line x1="280.55000002036354" y1="380" x2="280.55000002036354" y2="382.5" stroke="#000" stroke-width="0.8"/>
<line x1="282.02879466829455" y1="380" x2="282.02879466829455" y2="382.5" stroke="#000" stroke-width="0.8"/>
<line x1="283.33318399070276" y1="380" x2="283.33318399070276" y2="382.5" stroke="#000" stroke-width="0.8"/>
<line x1="310.0" y1="380" x2="310.0" y2="384.5" stroke="#000" stroke-width="1.2"/>
<line x1="292.17626488943154" y1="380" x2="292.17626488943154" y2="382.5" stroke="#000" stroke-width="0.8"/>
<line x1="296.6665919953514" y1="380" x2="296.6665919953514" y2="382.5" stroke="#000" stroke-width="0.8"/>
<line x1="299.852529778863" y1="380" x2="299.852529778863" y2="382.5" stroke="#000" stroke-width="0.8"/>
<line x1="302.32373511056846" y1="380" x2="302.32373511056846" y2="382.5" stroke="#000" stroke-width="0.8"/>
<line x1="304.3428568847829" y1="380" x2="304.3428568847829" y2="382.5" stroke="#000" stroke-width="0.8"/>
<line x1="306.05000002036354" y1="380" x2="306.05000002036354" y2="382.5" stroke="#000" stroke-width="0.8"/>
<line x1="307.52879466829455" y1="380" x2="307.52879466829455" y2="382.5" stroke="#000" stroke-width="0.8"/>
<line x1="308.83318399070276" y1="380" x2="308.83318399070276" y2="382.5" stroke="#000" stroke-width="0.8"/>
<line x1="212.5" y1="380" x2="212.5" y2="382.5" stroke="#000" stroke-width="0.8"/>
<line x1="215.5" y1="380" x2="215.5" y2="382.5" stroke="#000" stroke-width="0.8"/>
<line x1="218.5" y1="380" x2="218.5" y2="382.5" stroke="#000" stroke-width="0.8"/>
<line x1="220.0" y1="380" x2="220.0" y2="384.5" stroke="#000" stroke-width="1.2"/>
<text x="224.0" y="394.7" font-size="9">10<tspan dy="-3.6" font-size="6.2">2</tspan></text>
<text x="253.0" y="394.7" font-size="9">10<tspan dy="-3.6" font-size="6.2">3</tspan></text>
<text x="277.5" y="394.7" font-size="9">10<tspan dy="-3.6" font-size="6.2">4</tspan></text>
<text x="302.0" y="394.7" font-size="9">10<tspan dy="-3.6" font-size="6.2">5</tspan></text>
<text x="220.0" y="394.7" font-size="9" font-weight="normal" text-anchor="middle" >0</text>
<line x1="205.0" y1="380" x2="209.5" y2="380" stroke="#000" stroke-width="1.4"/>
<text x="264.5" y="262.6" font-size="12.7" font-weight="bold" text-anchor="middle" >-Dox</text>
<path d="M36.4 404.2 V270" stroke="#000" stroke-width="1.5" fill="none"/>
<path d="M36.4 263.9 L40.3 273.6 L36.4 271.6 L32.5 273.6 Z" fill="#000"/>
<path d="M35.65 404.2 H321" stroke="#000" stroke-width="1.5" fill="none"/>
<path d="M327.5 404.2 L317.8 400.3 L319.8 404.2 L317.8 408.1 Z" fill="#000"/>
<text transform="translate(28.6,288.4) rotate(-90) scale(0.87,1)" font-size="14" text-anchor="middle">7-AAD</text>
<text transform="translate(320.2,424) scale(0.85,1)" font-size="14.5" text-anchor="end">Annexin V</text>
<rect x="1.1" y="1.1" width="517.8" height="461.8" fill="none" stroke="#000" stroke-width="2.2"/>
</svg>
</body></html>
